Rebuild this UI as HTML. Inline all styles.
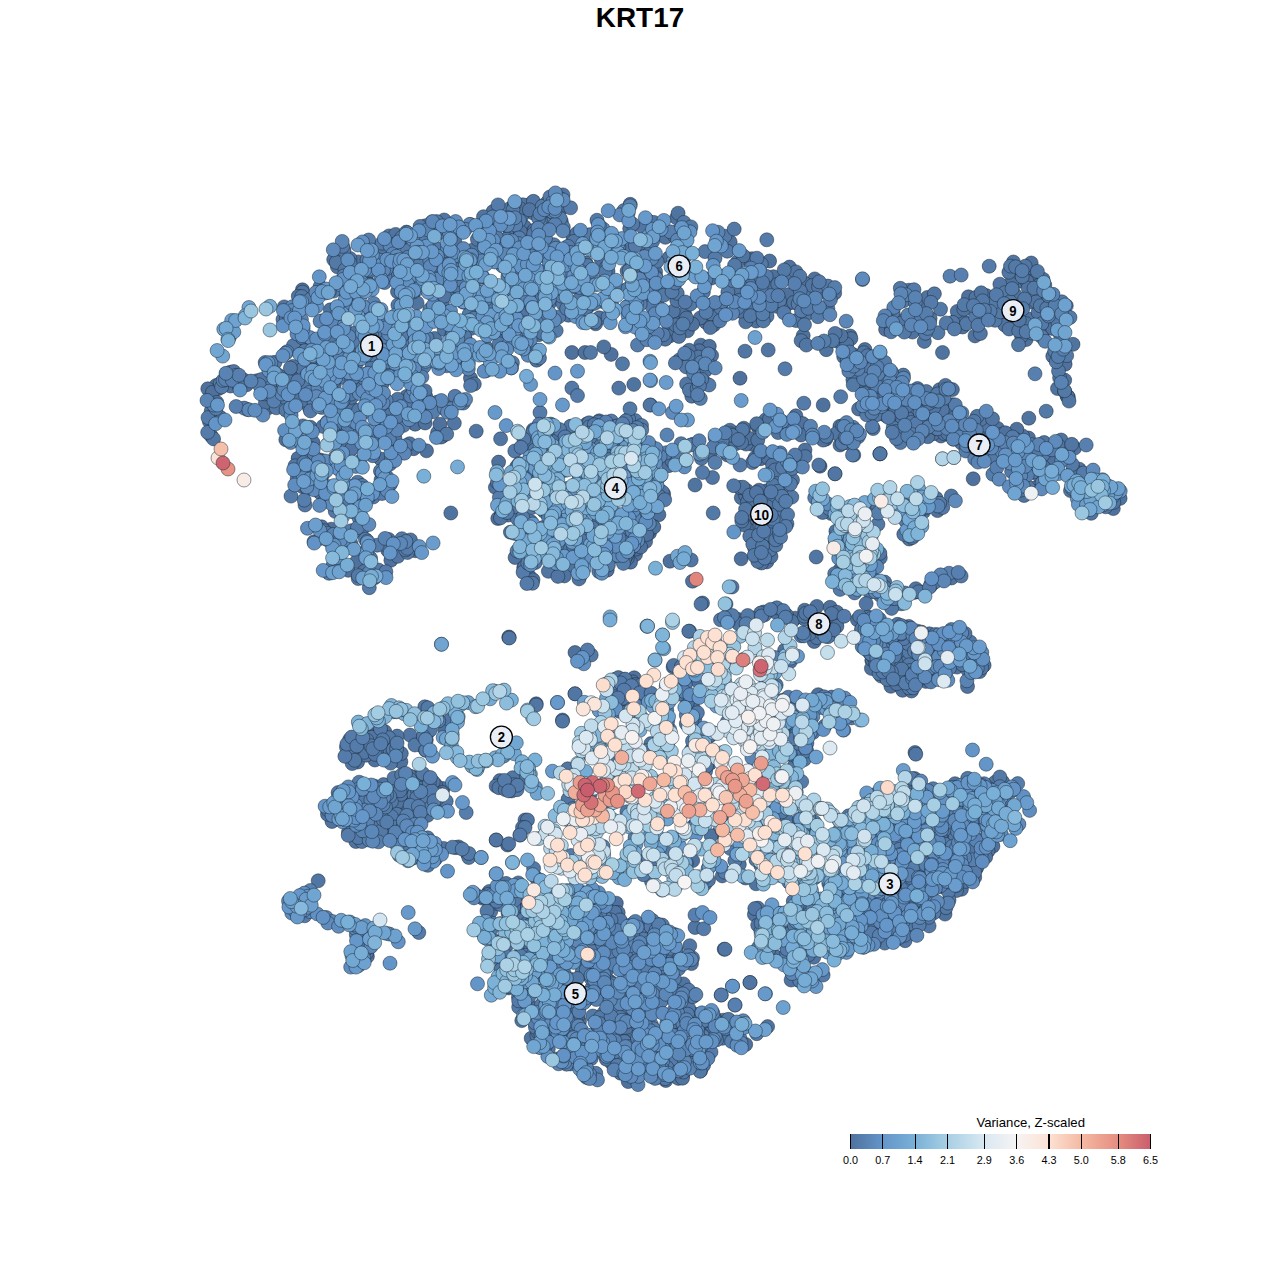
<!DOCTYPE html>
<html><head><meta charset="utf-8"><title>KRT17</title>
<style>
html,body{margin:0;padding:0;background:#fff;}
body{width:1280px;height:1280px;position:relative;overflow:hidden;font-family:"Liberation Sans",sans-serif;}
#ttl{position:absolute;left:0;top:2px;width:1280px;text-align:center;font-weight:bold;font-size:27.9px;line-height:32px;color:#000;}
svg{position:absolute;left:0;top:0;}
circle{r:7px;stroke:#1a2530;stroke-opacity:.88;stroke-width:.55;}
.lb circle{r:11px;fill:#e9eef6;stroke:#000;stroke-opacity:1;stroke-width:1.3;}
.lb text{font-family:"Liberation Sans",sans-serif;font-weight:bold;font-size:15.1px;text-anchor:middle;fill:#000;}
#lg{position:absolute;left:850px;top:1134px;width:300.5px;height:14.5px;background:linear-gradient(to right,#4e719d 0.00%,#6495c9 10.77%,#79b0d7 21.54%,#a7cfe4 32.31%,#d9e8f2 44.62%,#f6f4f4 55.38%,#fde1d3 66.15%,#f5b9a2 76.92%,#e58c80 89.23%,#c95d6d 100.00%);}
.tk{position:absolute;top:1134px;width:1.2px;height:14.5px;background:#000;}
.tl{position:absolute;top:1153.7px;width:40px;margin-left:-20px;text-align:center;font-size:10.8px;line-height:12px;color:#000;}
#lt{position:absolute;left:930.7px;top:1114.8px;width:200px;text-align:center;font-size:13.15px;line-height:15px;color:#000;}
</style></head><body>
<div id="ttl">KRT17</div>
<svg width="1280" height="1280" viewBox="0 0 1280 1280">
<g>
<g fill="#4e719d"><circle cx="525.9" cy="209.1" r="7"/><circle cx="397.5" cy="291.7" r="7"/><circle cx="437.6" cy="432.6" r="7"/><circle cx="415.5" cy="550.7" r="7"/><circle cx="586.1" cy="263" r="7"/><circle cx="442.4" cy="436.2" r="7"/><circle cx="415.2" cy="424.2" r="7"/><circle cx="560.7" cy="209.3" r="7"/><circle cx="434" cy="261.4" r="7"/><circle cx="285.8" cy="439.7" r="7"/><circle cx="432.1" cy="221.9" r="7"/><circle cx="333.9" cy="378.8" r="7"/><circle cx="302.4" cy="289.8" r="7"/><circle cx="524.5" cy="226.8" r="7"/><circle cx="454.8" cy="241" r="7"/><circle cx="517.5" cy="238.1" r="7"/><circle cx="503.3" cy="216.5" r="7"/><circle cx="441" cy="437.1" r="7"/><circle cx="425.1" cy="423" r="7"/><circle cx="501.8" cy="220.5" r="7"/><circle cx="325" cy="355.7" r="7"/><circle cx="529.8" cy="204.4" r="7"/><circle cx="405.3" cy="278.6" r="7"/><circle cx="426.5" cy="450.8" r="7"/><circle cx="268.3" cy="407.7" r="7"/><circle cx="265.4" cy="402.7" r="7"/><circle cx="264.5" cy="393.9" r="7"/><circle cx="257.1" cy="380.7" r="7"/><circle cx="211.8" cy="392.7" r="7"/><circle cx="246.6" cy="384.8" r="7"/><circle cx="243.8" cy="380" r="7"/><circle cx="216.2" cy="385.5" r="7"/><circle cx="218.6" cy="388.5" r="7"/><circle cx="207.8" cy="388.8" r="7"/><circle cx="212.4" cy="392.4" r="7"/><circle cx="216.7" cy="402.4" r="7"/><circle cx="211.1" cy="435.8" r="7"/><circle cx="571.9" cy="352.5" r="7"/><circle cx="585" cy="352.5" r="7"/><circle cx="647.8" cy="526.5" r="7"/><circle cx="611.8" cy="554.3" r="7"/><circle cx="600.1" cy="570.9" r="7"/><circle cx="637.8" cy="544.3" r="7"/><circle cx="533.3" cy="429.7" r="7"/><circle cx="571" cy="426.5" r="7"/><circle cx="658.9" cy="514.7" r="7"/><circle cx="607.2" cy="570.2" r="7"/><circle cx="578.9" cy="574.4" r="7"/><circle cx="635.5" cy="554.5" r="7"/><circle cx="529.4" cy="576.5" r="7"/><circle cx="636" cy="549" r="7"/><circle cx="630.5" cy="562.2" r="7"/><circle cx="498.6" cy="462.1" r="7"/><circle cx="645.6" cy="541.6" r="7"/><circle cx="640.7" cy="547" r="7"/><circle cx="649.5" cy="533.1" r="7"/><circle cx="648" cy="531.7" r="7"/><circle cx="653.2" cy="526.5" r="7"/><circle cx="653.8" cy="527" r="7"/><circle cx="533" cy="579.8" r="7"/><circle cx="629.3" cy="550.2" r="7"/><circle cx="579.8" cy="576.2" r="7"/><circle cx="627.3" cy="558.3" r="7"/><circle cx="646.7" cy="534.5" r="7"/><circle cx="674.9" cy="315.8" r="7"/><circle cx="787.9" cy="303.8" r="7"/><circle cx="952.4" cy="389.6" r="7"/><circle cx="756.1" cy="321" r="7"/><circle cx="897.4" cy="425.7" r="7"/><circle cx="814.7" cy="278.9" r="7"/><circle cx="769.6" cy="261" r="7"/><circle cx="662.6" cy="315.2" r="7"/><circle cx="669.2" cy="329.9" r="7"/><circle cx="705.9" cy="322.3" r="7"/><circle cx="864.9" cy="349.5" r="7"/><circle cx="773.4" cy="276.7" r="7"/><circle cx="914.8" cy="435.2" r="7"/><circle cx="684.5" cy="313" r="7"/><circle cx="796" cy="289.1" r="7"/><circle cx="804.1" cy="282.8" r="7"/><circle cx="687.5" cy="330.8" r="7"/><circle cx="879.3" cy="393.7" r="7"/><circle cx="787.9" cy="294.7" r="7"/><circle cx="850.2" cy="336" r="7"/><circle cx="740" cy="378.2" r="7"/><circle cx="823.2" cy="405" r="7"/><circle cx="880" cy="453.8" r="7"/><circle cx="820" cy="466.2" r="7"/><circle cx="700.8" cy="345.2" r="7"/><circle cx="709.3" cy="346.3" r="7"/><circle cx="901" cy="394.7" r="7"/><circle cx="882" cy="413.3" r="7"/><circle cx="961.5" cy="443.1" r="7"/><circle cx="898.1" cy="418.5" r="7"/><circle cx="868.4" cy="364.2" r="7"/><circle cx="973.8" cy="439.8" r="7"/><circle cx="981" cy="430.6" r="7"/><circle cx="843.7" cy="356.7" r="7"/><circle cx="917" cy="406.7" r="7"/><circle cx="886.5" cy="412.4" r="7"/><circle cx="900.8" cy="431.3" r="7"/><circle cx="852.9" cy="379.8" r="7"/><circle cx="997.6" cy="428.4" r="7"/><circle cx="922" cy="417.4" r="7"/><circle cx="952.6" cy="404.7" r="7"/><circle cx="902.4" cy="413.5" r="7"/><circle cx="915.7" cy="431.4" r="7"/><circle cx="973.2" cy="478.8" r="7"/><circle cx="1037.1" cy="322.5" r="7"/><circle cx="1037.4" cy="331.3" r="7"/><circle cx="1048.8" cy="321.5" r="7"/><circle cx="1046.8" cy="328.5" r="7"/><circle cx="1018.4" cy="306.7" r="7"/><circle cx="1002.1" cy="288.5" r="7"/><circle cx="1065.1" cy="364.2" r="7"/><circle cx="1028.6" cy="272.7" r="7"/><circle cx="1032" cy="281.3" r="7"/><circle cx="1006.7" cy="320.3" r="7"/><circle cx="1029.5" cy="327.9" r="7"/><circle cx="975" cy="335.9" r="7"/><circle cx="720.9" cy="443" r="7"/><circle cx="668.6" cy="465.7" r="7"/><circle cx="672" cy="461" r="7"/><circle cx="825.4" cy="438.8" r="7"/><circle cx="710.6" cy="452.5" r="7"/><circle cx="795.9" cy="415.8" r="7"/><circle cx="752.6" cy="444.4" r="7"/><circle cx="734.6" cy="433.2" r="7"/><circle cx="735.4" cy="443.8" r="7"/><circle cx="746.2" cy="444.1" r="7"/><circle cx="748.2" cy="438" r="7"/><circle cx="758.7" cy="428.8" r="7"/><circle cx="757.2" cy="425.2" r="7"/><circle cx="765.8" cy="419.7" r="7"/><circle cx="769.4" cy="419.3" r="7"/><circle cx="787.5" cy="426.2" r="7"/><circle cx="743.8" cy="428.2" r="7"/><circle cx="802.8" cy="423.6" r="7"/><circle cx="825.7" cy="439.2" r="7"/><circle cx="801" cy="435" r="7"/><circle cx="823.1" cy="440.1" r="7"/><circle cx="715.2" cy="437.7" r="7"/><circle cx="843.6" cy="438.5" r="7"/><circle cx="754.9" cy="458.1" r="7"/><circle cx="767.6" cy="454.7" r="7"/><circle cx="760.7" cy="458.7" r="7"/><circle cx="767.8" cy="457.8" r="7"/><circle cx="797.4" cy="464.7" r="7"/><circle cx="802.4" cy="457.7" r="7"/><circle cx="798.4" cy="465.8" r="7"/><circle cx="805" cy="450" r="7"/><circle cx="835" cy="473.8" r="7"/><circle cx="880" cy="453.8" r="7"/><circle cx="840" cy="445" r="7"/><circle cx="741.3" cy="497.7" r="7"/><circle cx="761" cy="505" r="7"/><circle cx="766.8" cy="561.9" r="7"/><circle cx="748.9" cy="523.8" r="7"/><circle cx="752.7" cy="523.6" r="7"/><circle cx="763" cy="518.9" r="7"/><circle cx="774.2" cy="528" r="7"/><circle cx="773.1" cy="536.9" r="7"/><circle cx="766.5" cy="490.8" r="7"/><circle cx="756.3" cy="518.8" r="7"/><circle cx="767.6" cy="553.9" r="7"/><circle cx="741.2" cy="558.8" r="7"/><circle cx="670" cy="561.2" r="7"/><circle cx="689.5" cy="631.2" r="7"/><circle cx="737.5" cy="619.2" r="7"/><circle cx="763.6" cy="612" r="7"/><circle cx="816.8" cy="606.4" r="7"/><circle cx="795.4" cy="618.2" r="7"/><circle cx="775.1" cy="611.9" r="7"/><circle cx="830.2" cy="607.3" r="7"/><circle cx="836.8" cy="612.2" r="7"/><circle cx="836.3" cy="622.9" r="7"/><circle cx="814.2" cy="641.5" r="7"/><circle cx="840.5" cy="554.9" r="7"/><circle cx="937.5" cy="510.6" r="7"/><circle cx="866" cy="566.8" r="7"/><circle cx="913.8" cy="592.6" r="7"/><circle cx="919.6" cy="591.8" r="7"/><circle cx="895.2" cy="661.1" r="7"/><circle cx="877" cy="668.5" r="7"/><circle cx="896" cy="670.1" r="7"/><circle cx="871.9" cy="660.7" r="7"/><circle cx="880" cy="659.6" r="7"/><circle cx="910.8" cy="684.7" r="7"/><circle cx="925.9" cy="681.4" r="7"/><circle cx="905.6" cy="678.5" r="7"/><circle cx="903" cy="685.7" r="7"/><circle cx="864.6" cy="634.6" r="7"/><circle cx="890.9" cy="686.3" r="7"/><circle cx="899.6" cy="672" r="7"/><circle cx="901.5" cy="646.4" r="7"/><circle cx="916" cy="681.8" r="7"/><circle cx="946.4" cy="634.3" r="7"/><circle cx="892.8" cy="627.9" r="7"/><circle cx="925.4" cy="662.7" r="7"/><circle cx="887.8" cy="642" r="7"/><circle cx="883.2" cy="638.3" r="7"/><circle cx="931.9" cy="652.1" r="7"/><circle cx="878.5" cy="632.5" r="7"/><circle cx="911.7" cy="660.1" r="7"/><circle cx="878.3" cy="664.6" r="7"/><circle cx="902.6" cy="690.3" r="7"/><circle cx="925.3" cy="635.5" r="7"/><circle cx="886.1" cy="665.3" r="7"/><circle cx="891.1" cy="659.2" r="7"/><circle cx="919.7" cy="664.7" r="7"/><circle cx="874.1" cy="634.6" r="7"/><circle cx="905.9" cy="635.8" r="7"/><circle cx="891.5" cy="666.4" r="7"/><circle cx="906.7" cy="655.2" r="7"/><circle cx="897.7" cy="651" r="7"/><circle cx="877.9" cy="654.9" r="7"/><circle cx="901" cy="655.4" r="7"/><circle cx="871.4" cy="668.4" r="7"/><circle cx="892.1" cy="640.1" r="7"/><circle cx="862.9" cy="624.7" r="7"/><circle cx="904.5" cy="637.1" r="7"/><circle cx="872.1" cy="659.8" r="7"/><circle cx="900.6" cy="649" r="7"/><circle cx="694.8" cy="719.2" r="7"/><circle cx="693.2" cy="707.9" r="7"/><circle cx="686.3" cy="723.7" r="7"/><circle cx="687.3" cy="702.9" r="7"/><circle cx="697.9" cy="681.1" r="7"/><circle cx="692.7" cy="860.6" r="7"/><circle cx="851.5" cy="835.7" r="7"/><circle cx="691.6" cy="720.5" r="7"/><circle cx="620.1" cy="701.1" r="7"/><circle cx="627.5" cy="703.8" r="7"/><circle cx="640.4" cy="689.3" r="7"/><circle cx="615.2" cy="679.3" r="7"/><circle cx="634.2" cy="677.8" r="7"/><circle cx="612.8" cy="684" r="7"/><circle cx="575" cy="693.8" r="7"/><circle cx="575" cy="652.5" r="7"/><circle cx="835.4" cy="703.7" r="7"/><circle cx="781.2" cy="700.5" r="7"/><circle cx="830.5" cy="700" r="7"/><circle cx="808.5" cy="722.9" r="7"/><circle cx="779" cy="739.1" r="7"/><circle cx="818.2" cy="694.7" r="7"/><circle cx="922.5" cy="824.4" r="7"/><circle cx="919.6" cy="832.1" r="7"/><circle cx="960.1" cy="876.9" r="7"/><circle cx="899.6" cy="905.9" r="7"/><circle cx="953.1" cy="833.4" r="7"/><circle cx="798.6" cy="980.3" r="7"/><circle cx="888.1" cy="934.1" r="7"/><circle cx="926.8" cy="870.9" r="7"/><circle cx="650" cy="929.8" r="7"/><circle cx="626.6" cy="1009.2" r="7"/><circle cx="620" cy="986.1" r="7"/><circle cx="675.5" cy="1031.2" r="7"/><circle cx="625.5" cy="928.8" r="7"/><circle cx="612.1" cy="1036.1" r="7"/><circle cx="594.2" cy="977.5" r="7"/><circle cx="596.8" cy="1017.7" r="7"/><circle cx="637.3" cy="968.8" r="7"/><circle cx="604.8" cy="999.8" r="7"/><circle cx="657.1" cy="924.1" r="7"/><circle cx="613.9" cy="925.6" r="7"/><circle cx="700.7" cy="1028.3" r="7"/><circle cx="589.8" cy="1072.6" r="7"/><circle cx="583.1" cy="1072.5" r="7"/><circle cx="671" cy="1049.9" r="7"/><circle cx="680.3" cy="1034.1" r="7"/><circle cx="619.5" cy="1024.6" r="7"/><circle cx="583.3" cy="1057.2" r="7"/><circle cx="599.5" cy="978.4" r="7"/><circle cx="611.7" cy="923.2" r="7"/><circle cx="700.6" cy="1070.9" r="7"/><circle cx="616.3" cy="903.2" r="7"/><circle cx="606.1" cy="1010.6" r="7"/><circle cx="634.4" cy="1027.3" r="7"/><circle cx="596.9" cy="1024.6" r="7"/><circle cx="682.7" cy="1075" r="7"/><circle cx="595.2" cy="971.7" r="7"/><circle cx="685.8" cy="1016.6" r="7"/><circle cx="596.9" cy="962.6" r="7"/><circle cx="661.1" cy="994.9" r="7"/><circle cx="378.6" cy="737.6" r="7"/><circle cx="366.9" cy="745.6" r="7"/><circle cx="400.9" cy="761.7" r="7"/><circle cx="387.1" cy="756.4" r="7"/><circle cx="353.9" cy="739.7" r="7"/><circle cx="376.4" cy="733.9" r="7"/><circle cx="374.9" cy="760" r="7"/><circle cx="380.5" cy="732.1" r="7"/><circle cx="424.8" cy="711.1" r="7"/><circle cx="421.4" cy="745.3" r="7"/><circle cx="426.3" cy="739.9" r="7"/><circle cx="445" cy="730" r="7"/><circle cx="411.6" cy="798.6" r="7"/><circle cx="406.6" cy="806.1" r="7"/><circle cx="409.3" cy="784.2" r="7"/><circle cx="388.9" cy="791.5" r="7"/><circle cx="420.7" cy="799.8" r="7"/><circle cx="421" cy="782.4" r="7"/><circle cx="399" cy="811.9" r="7"/><circle cx="413.8" cy="780.5" r="7"/><circle cx="443.1" cy="788.5" r="7"/><circle cx="428.1" cy="792.8" r="7"/><circle cx="403.7" cy="829.2" r="7"/><circle cx="382.5" cy="809.4" r="7"/><circle cx="435.6" cy="784.8" r="7"/><circle cx="397.3" cy="809.2" r="7"/><circle cx="394.4" cy="807.3" r="7"/><circle cx="405" cy="801.1" r="7"/><circle cx="366.7" cy="838" r="7"/><circle cx="507.5" cy="845" r="7"/><circle cx="518.5" cy="782.3" r="7"/><circle cx="517" cy="777.8" r="7"/><circle cx="499.8" cy="780.6" r="7"/><circle cx="492.6" cy="939.6" r="7"/><circle cx="537.5" cy="277.6" r="7"/><circle cx="885.5" cy="899.7" r="7"/><circle cx="985.3" cy="791.1" r="7"/><circle cx="490.5" cy="367.4" r="7"/><circle cx="357.9" cy="742.2" r="7"/><circle cx="778.8" cy="526" r="7"/><circle cx="651.2" cy="232.4" r="7"/><circle cx="936.9" cy="397" r="7"/><circle cx="710" cy="763.4" r="7"/><circle cx="369.3" cy="372.1" r="7"/><circle cx="537.2" cy="964.6" r="7"/><circle cx="609.2" cy="947.9" r="7"/><circle cx="394.3" cy="811.2" r="7"/><circle cx="649.2" cy="227.6" r="7"/><circle cx="888.2" cy="407.9" r="7"/><circle cx="582.6" cy="973.6" r="7"/><circle cx="854" cy="435.2" r="7"/><circle cx="578.3" cy="550.1" r="7"/><circle cx="778.8" cy="457.7" r="7"/><circle cx="795.9" cy="700.9" r="7"/><circle cx="1043" cy="279.2" r="7"/><circle cx="1013.3" cy="306" r="7"/><circle cx="306.8" cy="381.5" r="7"/><circle cx="352.3" cy="800.8" r="7"/><circle cx="240.2" cy="382.6" r="7"/><circle cx="688.4" cy="1056.3" r="7"/><circle cx="893.9" cy="866.9" r="7"/><circle cx="320.5" cy="460" r="7"/><circle cx="643.1" cy="280.6" r="7"/><circle cx="1028.5" cy="438" r="7"/><circle cx="613.3" cy="1058.6" r="7"/><circle cx="369.6" cy="256.3" r="7"/><circle cx="533.3" cy="1008.2" r="7"/><circle cx="554.6" cy="980.4" r="7"/><circle cx="572.9" cy="236.7" r="7"/><circle cx="572.3" cy="515.3" r="7"/><circle cx="921.1" cy="842.5" r="7"/><circle cx="877.7" cy="414.1" r="7"/><circle cx="564" cy="545.7" r="7"/><circle cx="394.5" cy="839.7" r="7"/><circle cx="482.8" cy="898.3" r="7"/><circle cx="913.7" cy="807.7" r="7"/><circle cx="578.1" cy="553.5" r="7"/><circle cx="1031.2" cy="263" r="7"/><circle cx="861.4" cy="814.3" r="7"/><circle cx="488.4" cy="306.7" r="7"/><circle cx="773.2" cy="505" r="7"/><circle cx="275.8" cy="388.9" r="7"/><circle cx="348.3" cy="570.3" r="7"/><circle cx="310.3" cy="427.2" r="7"/><circle cx="799.4" cy="715.2" r="7"/><circle cx="406.1" cy="788.2" r="7"/><circle cx="745.7" cy="1044.5" r="7"/><circle cx="518.5" cy="968.2" r="7"/><circle cx="803.2" cy="335.6" r="7"/><circle cx="1019.7" cy="281.2" r="7"/><circle cx="745.6" cy="495.4" r="7"/><circle cx="344.6" cy="506.8" r="7"/><circle cx="700.3" cy="317.9" r="7"/><circle cx="366.7" cy="283.1" r="7"/><circle cx="804.7" cy="610.2" r="7"/><circle cx="867.8" cy="883.7" r="7"/><circle cx="905.8" cy="900.9" r="7"/><circle cx="673.1" cy="667" r="7"/><circle cx="962.6" cy="881.9" r="7"/><circle cx="623.1" cy="924.1" r="7"/><circle cx="1086.6" cy="496.6" r="7"/><circle cx="941" cy="436" r="7"/><circle cx="443.7" cy="257.2" r="7"/><circle cx="439.6" cy="252.3" r="7"/><circle cx="1001.1" cy="434.3" r="7"/><circle cx="789.4" cy="267.1" r="7"/><circle cx="555.8" cy="518.3" r="7"/><circle cx="768.8" cy="545.4" r="7"/><circle cx="604.2" cy="954.2" r="7"/><circle cx="862.2" cy="371.1" r="7"/><circle cx="367.1" cy="733.3" r="7"/><circle cx="470.5" cy="378.3" r="7"/><circle cx="907.4" cy="393.8" r="7"/><circle cx="862.4" cy="537.9" r="7"/><circle cx="678.7" cy="455.1" r="7"/><circle cx="658.6" cy="291.3" r="7"/><circle cx="389.2" cy="753.5" r="7"/><circle cx="363.3" cy="806" r="7"/><circle cx="618.8" cy="687.3" r="7"/><circle cx="1038.8" cy="285.3" r="7"/><circle cx="309.5" cy="396.2" r="7"/><circle cx="533.8" cy="443.6" r="7"/><circle cx="666.8" cy="287.1" r="7"/><circle cx="413.7" cy="850.7" r="7"/><circle cx="1022.5" cy="435.9" r="7"/><circle cx="420.3" cy="394.2" r="7"/><circle cx="784.6" cy="666.5" r="7"/><circle cx="367.4" cy="956.4" r="7"/><circle cx="675.6" cy="954.2" r="7"/><circle cx="744.2" cy="525.1" r="7"/><circle cx="900.5" cy="650.7" r="7"/><circle cx="1052.6" cy="328.6" r="7"/><circle cx="649.5" cy="922.9" r="7"/><circle cx="553.8" cy="475.3" r="7"/><circle cx="381.3" cy="815.3" r="7"/><circle cx="511.6" cy="781.5" r="7"/><circle cx="432.5" cy="715" r="7"/><circle cx="550.6" cy="1008.4" r="7"/><circle cx="483.1" cy="277.3" r="7"/><circle cx="711" cy="278.2" r="7"/><circle cx="919.9" cy="394" r="7"/><circle cx="875.2" cy="662.2" r="7"/><circle cx="608.5" cy="946.3" r="7"/><circle cx="909.2" cy="778.7" r="7"/><circle cx="846.4" cy="560.1" r="7"/><circle cx="927.3" cy="838.2" r="7"/><circle cx="547.4" cy="941" r="7"/><circle cx="996.7" cy="453.6" r="7"/><circle cx="768.8" cy="707.9" r="7"/><circle cx="385.6" cy="276.5" r="7"/><circle cx="603.1" cy="1036.9" r="7"/><circle cx="709.8" cy="736" r="7"/><circle cx="1068.3" cy="397.2" r="7"/><circle cx="787.1" cy="820.6" r="7"/><circle cx="699.1" cy="350.8" r="7"/><circle cx="876.5" cy="379" r="7"/><circle cx="490.3" cy="330.4" r="7"/><circle cx="1082" cy="479.5" r="7"/><circle cx="439.9" cy="424.2" r="7"/><circle cx="881.1" cy="644.4" r="7"/><circle cx="628.2" cy="1081.6" r="7"/><circle cx="308.9" cy="473.9" r="7"/><circle cx="695.6" cy="365.4" r="7"/><circle cx="786.8" cy="859.2" r="7"/><circle cx="525.9" cy="470.5" r="7"/><circle cx="411.8" cy="335.9" r="7"/><circle cx="871.4" cy="364.8" r="7"/><circle cx="889.3" cy="885.2" r="7"/><circle cx="895.8" cy="680.9" r="7"/><circle cx="507.1" cy="944.9" r="7"/><circle cx="356.7" cy="561.4" r="7"/><circle cx="669.1" cy="257.8" r="7"/><circle cx="296.5" cy="346.3" r="7"/><circle cx="357.6" cy="762" r="7"/><circle cx="541.7" cy="241.5" r="7"/><circle cx="395.6" cy="552.5" r="7"/><circle cx="348" cy="754.8" r="7"/><circle cx="1011.1" cy="322.7" r="7"/><circle cx="416.2" cy="844" r="7"/><circle cx="379.4" cy="250.6" r="7"/><circle cx="670.2" cy="996.8" r="7"/><circle cx="493.1" cy="211.5" r="7"/><circle cx="520" cy="835" r="7"/><circle cx="807.9" cy="907.7" r="7"/><circle cx="918.7" cy="672.4" r="7"/><circle cx="338.2" cy="811.5" r="7"/><circle cx="864.6" cy="355.6" r="7"/><circle cx="699.9" cy="649.3" r="7"/><circle cx="858.8" cy="838.7" r="7"/><circle cx="948.2" cy="416.1" r="7"/><circle cx="1045.7" cy="464.6" r="7"/><circle cx="968.4" cy="296.8" r="7"/><circle cx="395.4" cy="740.5" r="7"/><circle cx="962.6" cy="327" r="7"/><circle cx="398.2" cy="261.9" r="7"/><circle cx="413.6" cy="448.7" r="7"/><circle cx="628" cy="1007.3" r="7"/><circle cx="548" cy="551.3" r="7"/><circle cx="774" cy="512.1" r="7"/><circle cx="875.1" cy="386.9" r="7"/><circle cx="838.3" cy="341.5" r="7"/><circle cx="382.4" cy="383.6" r="7"/><circle cx="593.2" cy="970.1" r="7"/><circle cx="848.1" cy="443" r="7"/><circle cx="874.6" cy="647.8" r="7"/><circle cx="815.9" cy="921.4" r="7"/><circle cx="663.7" cy="494" r="7"/><circle cx="353.3" cy="441.3" r="7"/><circle cx="371.8" cy="821.5" r="7"/><circle cx="363.2" cy="945.9" r="7"/><circle cx="881.7" cy="377" r="7"/><circle cx="381.1" cy="479.8" r="7"/><circle cx="763.9" cy="498.3" r="7"/><circle cx="534.5" cy="482.2" r="7"/><circle cx="524.9" cy="936.7" r="7"/><circle cx="760.8" cy="865.4" r="7"/><circle cx="1012.1" cy="281.5" r="7"/><circle cx="974.7" cy="877.4" r="7"/><circle cx="536.2" cy="703.8" r="7"/><circle cx="957" cy="638.7" r="7"/><circle cx="360.2" cy="292.1" r="7"/><circle cx="644.4" cy="1046.4" r="7"/><circle cx="979.7" cy="671.6" r="7"/><circle cx="625.8" cy="699.7" r="7"/><circle cx="342.8" cy="373.8" r="7"/><circle cx="298.1" cy="458.3" r="7"/><circle cx="414.8" cy="835.6" r="7"/><circle cx="810.2" cy="830.5" r="7"/><circle cx="897.4" cy="793.6" r="7"/><circle cx="313" cy="442.4" r="7"/><circle cx="483.9" cy="223.2" r="7"/><circle cx="579.5" cy="1021.5" r="7"/><circle cx="605.3" cy="451.1" r="7"/><circle cx="881.2" cy="872.8" r="7"/><circle cx="831.2" cy="513.5" r="7"/><circle cx="774.1" cy="865.9" r="7"/><circle cx="596.2" cy="457" r="7"/><circle cx="390.9" cy="560.3" r="7"/><circle cx="692.6" cy="324.1" r="7"/><circle cx="628.4" cy="1013.4" r="7"/><circle cx="944.3" cy="659.4" r="7"/><circle cx="442.1" cy="792.3" r="7"/><circle cx="691.5" cy="963.6" r="7"/><circle cx="610.5" cy="981.8" r="7"/><circle cx="622" cy="679.6" r="7"/><circle cx="497.8" cy="518.5" r="7"/><circle cx="858" cy="909.6" r="7"/><circle cx="1113.3" cy="508.6" r="7"/><circle cx="467.9" cy="252.5" r="7"/><circle cx="577.9" cy="995.4" r="7"/><circle cx="885.6" cy="329.4" r="7"/><circle cx="865.5" cy="571.1" r="7"/><circle cx="794.2" cy="837.1" r="7"/><circle cx="676.6" cy="217.9" r="7"/><circle cx="393.1" cy="783.3" r="7"/><circle cx="595.7" cy="323.8" r="7"/><circle cx="884.7" cy="582.1" r="7"/><circle cx="665.8" cy="1080.5" r="7"/><circle cx="623.6" cy="823.4" r="7"/><circle cx="472.1" cy="312" r="7"/><circle cx="670.6" cy="980.1" r="7"/><circle cx="615.3" cy="445.2" r="7"/><circle cx="759" cy="490.2" r="7"/><circle cx="408.7" cy="322.2" r="7"/><circle cx="901.1" cy="679.7" r="7"/><circle cx="502.4" cy="783.4" r="7"/><circle cx="894.3" cy="380.4" r="7"/><circle cx="364.4" cy="499.5" r="7"/><circle cx="532.2" cy="232.9" r="7"/><circle cx="380.7" cy="459" r="7"/><circle cx="1016.8" cy="429.2" r="7"/><circle cx="739.8" cy="487.5" r="7"/><circle cx="841.9" cy="944.3" r="7"/><circle cx="913.5" cy="906.5" r="7"/><circle cx="486.7" cy="239.5" r="7"/><circle cx="359.9" cy="288.6" r="7"/><circle cx="992.9" cy="846.2" r="7"/><circle cx="611.2" cy="354.4" r="7"/><circle cx="669" cy="1019.3" r="7"/><circle cx="389.6" cy="430.3" r="7"/><circle cx="569.7" cy="978.9" r="7"/><circle cx="774.8" cy="956.3" r="7"/><circle cx="1026.9" cy="281.3" r="7"/><circle cx="520.7" cy="988.3" r="7"/><circle cx="606.9" cy="970" r="7"/><circle cx="883.2" cy="648.6" r="7"/><circle cx="550.7" cy="946.3" r="7"/><circle cx="632.6" cy="681.9" r="7"/><circle cx="630" cy="512.7" r="7"/><circle cx="945" cy="914.1" r="7"/><circle cx="404.1" cy="854" r="7"/><circle cx="636.6" cy="429.6" r="7"/><circle cx="551.7" cy="225.7" r="7"/><circle cx="453" cy="257.4" r="7"/><circle cx="909.2" cy="539" r="7"/><circle cx="601.4" cy="259.8" r="7"/><circle cx="678.3" cy="1078.4" r="7"/><circle cx="857.4" cy="619.7" r="7"/><circle cx="882.7" cy="668" r="7"/><circle cx="635" cy="684.5" r="7"/><circle cx="465.3" cy="339.7" r="7"/><circle cx="773.1" cy="732.2" r="7"/><circle cx="355.6" cy="305.6" r="7"/><circle cx="331.3" cy="529.2" r="7"/><circle cx="358.4" cy="496.2" r="7"/><circle cx="1053.6" cy="458" r="7"/><circle cx="714" cy="324.8" r="7"/><circle cx="678.2" cy="692.5" r="7"/><circle cx="495.4" cy="487.4" r="7"/><circle cx="513.7" cy="787.7" r="7"/><circle cx="896.3" cy="409.5" r="7"/><circle cx="521.3" cy="956.7" r="7"/><circle cx="352.1" cy="788.5" r="7"/><circle cx="757.6" cy="555.9" r="7"/><circle cx="534.9" cy="474.6" r="7"/><circle cx="1005.4" cy="432.8" r="7"/><circle cx="641.3" cy="261.6" r="7"/><circle cx="302.4" cy="369.3" r="7"/><circle cx="995.3" cy="789.9" r="7"/><circle cx="958" cy="317.1" r="7"/><circle cx="302.9" cy="377.5" r="7"/><circle cx="297.1" cy="344.2" r="7"/><circle cx="401.4" cy="803.2" r="7"/><circle cx="552.7" cy="496.2" r="7"/><circle cx="358.7" cy="943.3" r="7"/><circle cx="1092.8" cy="485.4" r="7"/><circle cx="860.9" cy="545.5" r="7"/><circle cx="1026.1" cy="339.6" r="7"/><circle cx="917.5" cy="388.5" r="7"/><circle cx="634" cy="999.4" r="7"/><circle cx="374.9" cy="745.9" r="7"/><circle cx="504.6" cy="337.2" r="7"/><circle cx="617.4" cy="869.2" r="7"/><circle cx="795.2" cy="914.3" r="7"/><circle cx="799" cy="909.3" r="7"/><circle cx="829.5" cy="837.2" r="7"/><circle cx="337.7" cy="352.7" r="7"/><circle cx="566.3" cy="539.2" r="7"/><circle cx="796.7" cy="918.7" r="7"/><circle cx="850.9" cy="338.6" r="7"/><circle cx="747.6" cy="501.7" r="7"/><circle cx="586.7" cy="424" r="7"/><circle cx="543.4" cy="483" r="7"/><circle cx="554.3" cy="1016.9" r="7"/><circle cx="998.5" cy="783.6" r="7"/><circle cx="933.3" cy="433.7" r="7"/><circle cx="588.7" cy="235.2" r="7"/><circle cx="852.5" cy="533.8" r="7"/><circle cx="611.6" cy="557.6" r="7"/><circle cx="583.9" cy="558.3" r="7"/><circle cx="530.3" cy="481.7" r="7"/><circle cx="707.3" cy="1040" r="7"/><circle cx="657.6" cy="975.9" r="7"/><circle cx="540.7" cy="1024.5" r="7"/><circle cx="793.9" cy="849.9" r="7"/><circle cx="988.1" cy="851" r="7"/><circle cx="383.9" cy="743.4" r="7"/><circle cx="730.2" cy="242" r="7"/><circle cx="387.8" cy="787.7" r="7"/><circle cx="387" cy="825.8" r="7"/></g><g fill="#5074a0"><circle cx="640.3" cy="1018.1" r="7"/><circle cx="592.8" cy="955.1" r="7"/><circle cx="870.3" cy="580.8" r="7"/><circle cx="711.6" cy="355.5" r="7"/><circle cx="622.5" cy="1009.5" r="7"/><circle cx="330.4" cy="309.8" r="7"/><circle cx="607.7" cy="434.2" r="7"/><circle cx="426.5" cy="789.2" r="7"/><circle cx="269.4" cy="363.4" r="7"/><circle cx="719.2" cy="831.9" r="7"/><circle cx="940.8" cy="838.8" r="7"/><circle cx="1101" cy="499.9" r="7"/><circle cx="610.8" cy="1055.1" r="7"/><circle cx="451.5" cy="288.9" r="7"/><circle cx="902.4" cy="673.7" r="7"/><circle cx="754.6" cy="548" r="7"/><circle cx="343.5" cy="811.5" r="7"/><circle cx="401.1" cy="278.7" r="7"/><circle cx="955" cy="783.7" r="7"/><circle cx="571.1" cy="565.4" r="7"/><circle cx="805" cy="619.4" r="7"/><circle cx="926" cy="806.6" r="7"/><circle cx="388.6" cy="539.4" r="7"/><circle cx="413.1" cy="777.3" r="7"/><circle cx="921.2" cy="644.3" r="7"/><circle cx="777.2" cy="716.5" r="7"/><circle cx="309.2" cy="363.6" r="7"/><circle cx="380.6" cy="750.5" r="7"/><circle cx="506" cy="317.8" r="7"/><circle cx="886.1" cy="629.5" r="7"/><circle cx="767.6" cy="1026.6" r="7"/><circle cx="858.3" cy="383" r="7"/><circle cx="308.9" cy="406.8" r="7"/><circle cx="811.6" cy="311.7" r="7"/><circle cx="908.8" cy="626.4" r="7"/><circle cx="647.7" cy="1053.4" r="7"/><circle cx="619.8" cy="1069.5" r="7"/><circle cx="532.8" cy="212.8" r="7"/><circle cx="912" cy="318.7" r="7"/><circle cx="550.3" cy="435.5" r="7"/><circle cx="926.3" cy="422.7" r="7"/><circle cx="332" cy="821.5" r="7"/><circle cx="745.7" cy="321.8" r="7"/><circle cx="1010.9" cy="791.6" r="7"/><circle cx="553.1" cy="948" r="7"/><circle cx="665.3" cy="237.3" r="7"/><circle cx="958" cy="839.3" r="7"/><circle cx="434.6" cy="338.4" r="7"/><circle cx="917.7" cy="427.2" r="7"/><circle cx="710.3" cy="1023.5" r="7"/><circle cx="474.3" cy="384" r="7"/><circle cx="390.2" cy="374.3" r="7"/><circle cx="916.7" cy="854.8" r="7"/><circle cx="302.6" cy="486.7" r="7"/><circle cx="496.2" cy="840" r="7"/><circle cx="643.3" cy="699.4" r="7"/><circle cx="703.3" cy="810.3" r="7"/><circle cx="787.8" cy="726.8" r="7"/><circle cx="961.9" cy="320.2" r="7"/><circle cx="407.7" cy="853.7" r="7"/><circle cx="877.5" cy="855.8" r="7"/><circle cx="582.5" cy="892.6" r="7"/><circle cx="381.4" cy="252.9" r="7"/><circle cx="404.4" cy="834.2" r="7"/><circle cx="411.4" cy="548.7" r="7"/><circle cx="871.9" cy="915.6" r="7"/><circle cx="359.6" cy="466" r="7"/><circle cx="318.4" cy="392.3" r="7"/><circle cx="528.5" cy="301.7" r="7"/><circle cx="533.7" cy="264.4" r="7"/><circle cx="995.2" cy="803.6" r="7"/><circle cx="739.3" cy="864.5" r="7"/><circle cx="561" cy="500.1" r="7"/><circle cx="912.1" cy="396.7" r="7"/><circle cx="618.2" cy="912.6" r="7"/><circle cx="486.2" cy="315.5" r="7"/><circle cx="429.1" cy="361.4" r="7"/><circle cx="585.4" cy="963" r="7"/><circle cx="344.2" cy="286.5" r="7"/><circle cx="643.9" cy="470.2" r="7"/><circle cx="538.7" cy="334.7" r="7"/><circle cx="968.5" cy="861.7" r="7"/><circle cx="561.6" cy="469.7" r="7"/><circle cx="374.7" cy="577.7" r="7"/><circle cx="388.9" cy="830.9" r="7"/><circle cx="886.6" cy="648.1" r="7"/><circle cx="610.3" cy="1017.5" r="7"/><circle cx="912.4" cy="537.6" r="7"/><circle cx="393.3" cy="793.1" r="7"/><circle cx="735.4" cy="689.3" r="7"/><circle cx="959.8" cy="867.3" r="7"/><circle cx="611.4" cy="303.5" r="7"/><circle cx="880.3" cy="557.8" r="7"/><circle cx="900.1" cy="659.3" r="7"/><circle cx="824.9" cy="725.9" r="7"/><circle cx="570.8" cy="505.4" r="7"/><circle cx="1061.1" cy="440" r="7"/><circle cx="367.4" cy="336.8" r="7"/><circle cx="753.4" cy="502.3" r="7"/><circle cx="668.8" cy="1064.3" r="7"/><circle cx="952.4" cy="410.9" r="7"/><circle cx="406.1" cy="547.8" r="7"/><circle cx="826.3" cy="349.7" r="7"/><circle cx="765.2" cy="509.9" r="7"/><circle cx="764.7" cy="614.8" r="7"/><circle cx="853.7" cy="354.9" r="7"/><circle cx="556.1" cy="269.5" r="7"/><circle cx="930.1" cy="318.4" r="7"/><circle cx="401.3" cy="753.5" r="7"/><circle cx="834.3" cy="708.9" r="7"/><circle cx="726.7" cy="451.7" r="7"/><circle cx="628.8" cy="864.9" r="7"/><circle cx="370.5" cy="817.2" r="7"/><circle cx="425.9" cy="396.8" r="7"/><circle cx="623.6" cy="686.5" r="7"/><circle cx="887.4" cy="653.2" r="7"/><circle cx="405.1" cy="810.9" r="7"/><circle cx="561.3" cy="284.7" r="7"/><circle cx="846.4" cy="516.3" r="7"/><circle cx="650.6" cy="405" r="7"/><circle cx="620.3" cy="945.5" r="7"/><circle cx="650" cy="1070.9" r="7"/><circle cx="857.3" cy="576.9" r="7"/><circle cx="314" cy="541.7" r="7"/><circle cx="506" cy="883.4" r="7"/><circle cx="344.9" cy="286.5" r="7"/><circle cx="928.4" cy="679.4" r="7"/><circle cx="947.7" cy="866.5" r="7"/><circle cx="911.5" cy="789.3" r="7"/><circle cx="897.7" cy="320.3" r="7"/><circle cx="521.4" cy="216.7" r="7"/><circle cx="368.6" cy="751.9" r="7"/><circle cx="794.5" cy="765.5" r="7"/><circle cx="912.5" cy="332.1" r="7"/><circle cx="334.8" cy="431.4" r="7"/><circle cx="595.5" cy="740.2" r="7"/><circle cx="440.6" cy="306.8" r="7"/><circle cx="483.5" cy="216.7" r="7"/><circle cx="574.4" cy="259.8" r="7"/><circle cx="888.3" cy="939" r="7"/><circle cx="688.8" cy="631.2" r="7"/><circle cx="357.4" cy="799.5" r="7"/><circle cx="630.7" cy="998.5" r="7"/><circle cx="784.7" cy="650.2" r="7"/><circle cx="412.9" cy="294.5" r="7"/><circle cx="598.1" cy="903.9" r="7"/><circle cx="868.2" cy="505.9" r="7"/><circle cx="939.1" cy="423.8" r="7"/><circle cx="588.1" cy="306.8" r="7"/><circle cx="967.5" cy="686.5" r="7"/><circle cx="855.8" cy="869" r="7"/><circle cx="1091.2" cy="513.3" r="7"/><circle cx="710.3" cy="327.6" r="7"/><circle cx="683.4" cy="983.9" r="7"/><circle cx="347.2" cy="813.1" r="7"/><circle cx="777.5" cy="496.1" r="7"/><circle cx="858.6" cy="409" r="7"/><circle cx="599.3" cy="317.8" r="7"/><circle cx="409" cy="323.5" r="7"/><circle cx="515.5" cy="906.8" r="7"/><circle cx="1067.1" cy="396.3" r="7"/><circle cx="644.1" cy="300.2" r="7"/><circle cx="333.7" cy="259.6" r="7"/><circle cx="920.1" cy="868.4" r="7"/><circle cx="1011.7" cy="312.6" r="7"/><circle cx="310.7" cy="899" r="7"/><circle cx="791" cy="727.2" r="7"/><circle cx="518.3" cy="882.9" r="7"/><circle cx="543" cy="275.2" r="7"/><circle cx="405.8" cy="784.2" r="7"/><circle cx="626.8" cy="687.7" r="7"/><circle cx="558.9" cy="997.4" r="7"/><circle cx="379.7" cy="753.5" r="7"/><circle cx="535.2" cy="295.2" r="7"/><circle cx="508.7" cy="987.9" r="7"/><circle cx="896.7" cy="631.5" r="7"/><circle cx="528.3" cy="951.4" r="7"/><circle cx="420.6" cy="740.3" r="7"/><circle cx="515.5" cy="494.9" r="7"/><circle cx="566.4" cy="942.8" r="7"/><circle cx="632" cy="266.2" r="7"/><circle cx="642.2" cy="927.8" r="7"/><circle cx="944.6" cy="433.8" r="7"/><circle cx="915.8" cy="588.7" r="7"/><circle cx="884.3" cy="367.6" r="7"/><circle cx="650.9" cy="743.6" r="7"/><circle cx="1087.2" cy="478.1" r="7"/><circle cx="953.5" cy="864" r="7"/><circle cx="510.4" cy="532.2" r="7"/><circle cx="388.8" cy="273.6" r="7"/><circle cx="561.3" cy="221.5" r="7"/><circle cx="835.2" cy="869.7" r="7"/><circle cx="1021.5" cy="336" r="7"/><circle cx="374.1" cy="786" r="7"/><circle cx="323" cy="426.4" r="7"/><circle cx="822.9" cy="940.8" r="7"/><circle cx="751.9" cy="258.7" r="7"/><circle cx="713.2" cy="1021.2" r="7"/><circle cx="557.3" cy="1059" r="7"/><circle cx="527.5" cy="906.3" r="7"/><circle cx="408.1" cy="397.6" r="7"/><circle cx="614.6" cy="1013.5" r="7"/><circle cx="871.4" cy="896.6" r="7"/><circle cx="480.3" cy="270.2" r="7"/><circle cx="327.5" cy="814.2" r="7"/><circle cx="550.6" cy="1027.5" r="7"/><circle cx="682.5" cy="1078.2" r="7"/><circle cx="594.4" cy="461.8" r="7"/><circle cx="890.3" cy="822.7" r="7"/><circle cx="874.9" cy="913.8" r="7"/><circle cx="287.6" cy="404.9" r="7"/><circle cx="912.8" cy="496.1" r="7"/><circle cx="548.7" cy="272.6" r="7"/><circle cx="578.9" cy="281.7" r="7"/><circle cx="1079.2" cy="469.2" r="7"/><circle cx="219.9" cy="417" r="7"/><circle cx="379.9" cy="836" r="7"/><circle cx="793.6" cy="302.5" r="7"/><circle cx="957" cy="667.1" r="7"/><circle cx="533.8" cy="977.4" r="7"/><circle cx="345.4" cy="300.9" r="7"/><circle cx="501.9" cy="288.4" r="7"/><circle cx="633.3" cy="923.4" r="7"/><circle cx="509.2" cy="785.7" r="7"/><circle cx="765.7" cy="679.7" r="7"/><circle cx="731.7" cy="1037.2" r="7"/><circle cx="424.1" cy="810.1" r="7"/><circle cx="628.6" cy="988.7" r="7"/><circle cx="686.4" cy="863.5" r="7"/><circle cx="509.9" cy="233.4" r="7"/><circle cx="632.1" cy="942.8" r="7"/><circle cx="629.7" cy="228.7" r="7"/><circle cx="380.8" cy="348.8" r="7"/><circle cx="593.3" cy="906.6" r="7"/><circle cx="488.5" cy="892.9" r="7"/><circle cx="631.2" cy="689.4" r="7"/><circle cx="531.2" cy="1038.3" r="7"/><circle cx="756.9" cy="513.9" r="7"/><circle cx="564.4" cy="575.9" r="7"/><circle cx="975.9" cy="297.4" r="7"/><circle cx="878.9" cy="400.2" r="7"/><circle cx="693.7" cy="825.9" r="7"/><circle cx="679.3" cy="360" r="7"/><circle cx="419.4" cy="776.8" r="7"/><circle cx="858.6" cy="537.8" r="7"/><circle cx="521.8" cy="1020.6" r="7"/><circle cx="903" cy="843.3" r="7"/><circle cx="522.8" cy="204.8" r="7"/><circle cx="862.8" cy="918.3" r="7"/><circle cx="722.2" cy="875.9" r="7"/><circle cx="892.2" cy="659.9" r="7"/><circle cx="904.8" cy="853.9" r="7"/><circle cx="760.4" cy="814.7" r="7"/><circle cx="985.7" cy="857.1" r="7"/><circle cx="807.5" cy="939.1" r="7"/><circle cx="308" cy="352.3" r="7"/><circle cx="513.4" cy="900.9" r="7"/><circle cx="436.8" cy="715" r="7"/><circle cx="705.1" cy="883.8" r="7"/><circle cx="352.6" cy="743.9" r="7"/><circle cx="872.6" cy="655.8" r="7"/><circle cx="1024.1" cy="495.5" r="7"/><circle cx="404.5" cy="851" r="7"/><circle cx="786.5" cy="615" r="7"/><circle cx="982.3" cy="436" r="7"/><circle cx="583.9" cy="933.7" r="7"/><circle cx="756.7" cy="423.7" r="7"/><circle cx="546.1" cy="1039.5" r="7"/><circle cx="360.8" cy="745.7" r="7"/><circle cx="506.9" cy="224.9" r="7"/><circle cx="849.6" cy="850.7" r="7"/><circle cx="842.5" cy="925.7" r="7"/><circle cx="376.7" cy="834.1" r="7"/><circle cx="389" cy="235.9" r="7"/><circle cx="532.9" cy="298.8" r="7"/><circle cx="896.2" cy="627.7" r="7"/><circle cx="953.7" cy="872.4" r="7"/><circle cx="858.4" cy="867.4" r="7"/><circle cx="635.9" cy="1017.6" r="7"/><circle cx="500.3" cy="923.7" r="7"/><circle cx="961.4" cy="889.3" r="7"/><circle cx="486" cy="347.5" r="7"/><circle cx="1074.6" cy="473.7" r="7"/><circle cx="424.3" cy="778.6" r="7"/><circle cx="599.2" cy="931.5" r="7"/><circle cx="897" cy="656.4" r="7"/><circle cx="426.1" cy="861.9" r="7"/><circle cx="521.8" cy="983" r="7"/><circle cx="744.8" cy="516" r="7"/><circle cx="1066.3" cy="305.8" r="7"/><circle cx="493.5" cy="237.6" r="7"/><circle cx="801.2" cy="969" r="7"/><circle cx="271" cy="374.9" r="7"/><circle cx="754.4" cy="914.5" r="7"/><circle cx="615" cy="1052.8" r="7"/><circle cx="515.1" cy="557.5" r="7"/><circle cx="859.6" cy="815.4" r="7"/><circle cx="711" cy="835.7" r="7"/><circle cx="395.7" cy="787.8" r="7"/><circle cx="530.6" cy="965.1" r="7"/><circle cx="535.3" cy="352.5" r="7"/><circle cx="366.7" cy="953" r="7"/><circle cx="756" cy="883.8" r="7"/><circle cx="803.8" cy="827" r="7"/><circle cx="409.6" cy="443.7" r="7"/><circle cx="643.6" cy="924.5" r="7"/><circle cx="771" cy="556.5" r="7"/><circle cx="915.4" cy="889.2" r="7"/><circle cx="913.1" cy="663.3" r="7"/><circle cx="762.4" cy="813.6" r="7"/><circle cx="302.9" cy="425.9" r="7"/><circle cx="874.2" cy="588.2" r="7"/><circle cx="523.7" cy="567.7" r="7"/><circle cx="396.5" cy="802.6" r="7"/><circle cx="421.3" cy="395.4" r="7"/><circle cx="580.9" cy="534.6" r="7"/><circle cx="448.3" cy="237.5" r="7"/><circle cx="846.7" cy="344.1" r="7"/><circle cx="1041" cy="296.6" r="7"/><circle cx="765.6" cy="545" r="7"/><circle cx="579" cy="578.9" r="7"/><circle cx="507.5" cy="782.5" r="7"/><circle cx="1120.1" cy="498.4" r="7"/><circle cx="409.9" cy="849.3" r="7"/><circle cx="689.2" cy="350.3" r="7"/><circle cx="209.4" cy="421.5" r="7"/><circle cx="948.5" cy="851" r="7"/><circle cx="579.7" cy="1034.7" r="7"/><circle cx="828.8" cy="883.7" r="7"/><circle cx="897.6" cy="624.3" r="7"/><circle cx="1028.8" cy="418.2" r="7"/><circle cx="407.1" cy="778.1" r="7"/><circle cx="306.5" cy="400.7" r="7"/><circle cx="771.8" cy="713.1" r="7"/><circle cx="880.6" cy="900.3" r="7"/><circle cx="864.4" cy="372.6" r="7"/><circle cx="1029.9" cy="319.3" r="7"/><circle cx="393.4" cy="419.3" r="7"/><circle cx="836.9" cy="626.3" r="7"/><circle cx="669.6" cy="336" r="7"/><circle cx="475.8" cy="895" r="7"/><circle cx="660.6" cy="938.5" r="7"/><circle cx="555.2" cy="525.3" r="7"/><circle cx="862.9" cy="366.1" r="7"/><circle cx="566" cy="548.9" r="7"/><circle cx="729.9" cy="430.2" r="7"/><circle cx="562.1" cy="916.7" r="7"/><circle cx="648" cy="244.7" r="7"/><circle cx="951.5" cy="578" r="7"/><circle cx="458.6" cy="846.9" r="7"/><circle cx="375.8" cy="439.7" r="7"/><circle cx="899.1" cy="594.6" r="7"/><circle cx="757.8" cy="440.1" r="7"/><circle cx="923.6" cy="511.7" r="7"/><circle cx="566.6" cy="488.5" r="7"/><circle cx="802.6" cy="730.8" r="7"/><circle cx="545.1" cy="936.7" r="7"/><circle cx="451.3" cy="341.4" r="7"/><circle cx="657.4" cy="299.2" r="7"/><circle cx="539.5" cy="928.3" r="7"/><circle cx="635" cy="1006.9" r="7"/><circle cx="472.9" cy="249.9" r="7"/><circle cx="778.1" cy="432.6" r="7"/><circle cx="450.8" cy="513" r="7"/><circle cx="508.9" cy="637.5" r="7"/><circle cx="530.5" cy="930.7" r="7"/><circle cx="927.4" cy="414.3" r="7"/><circle cx="640.1" cy="448.6" r="7"/><circle cx="770" cy="499.6" r="7"/><circle cx="334.6" cy="409" r="7"/><circle cx="611.3" cy="1013" r="7"/><circle cx="571.3" cy="995.2" r="7"/><circle cx="763.1" cy="522.3" r="7"/><circle cx="417.1" cy="302.9" r="7"/><circle cx="784" cy="941.2" r="7"/><circle cx="369.7" cy="805.7" r="7"/><circle cx="397.5" cy="282.9" r="7"/><circle cx="692.5" cy="581.2" r="7"/><circle cx="1021.2" cy="490.1" r="7"/><circle cx="791.1" cy="980" r="7"/><circle cx="867.9" cy="623.5" r="7"/><circle cx="637.6" cy="982.1" r="7"/><circle cx="1074.6" cy="448.1" r="7"/><circle cx="517.4" cy="299.4" r="7"/><circle cx="616.4" cy="988.7" r="7"/><circle cx="612.5" cy="491.6" r="7"/><circle cx="1067.7" cy="449.9" r="7"/><circle cx="1058.3" cy="445.4" r="7"/><circle cx="738.6" cy="623.8" r="7"/><circle cx="903.5" cy="877.1" r="7"/><circle cx="415.8" cy="238.6" r="7"/><circle cx="944.6" cy="670.2" r="7"/><circle cx="655.5" cy="295.7" r="7"/><circle cx="647.9" cy="220.8" r="7"/><circle cx="655" cy="1035.3" r="7"/><circle cx="792" cy="621.7" r="7"/><circle cx="751.7" cy="309.7" r="7"/><circle cx="839.9" cy="426.3" r="7"/><circle cx="619.1" cy="949.5" r="7"/><circle cx="1113.8" cy="502.3" r="7"/><circle cx="647.2" cy="497" r="7"/><circle cx="871" cy="537.1" r="7"/><circle cx="691.8" cy="396.2" r="7"/><circle cx="343.7" cy="318.5" r="7"/><circle cx="659.3" cy="490" r="7"/><circle cx="993.7" cy="784.3" r="7"/><circle cx="537.4" cy="547.7" r="7"/><circle cx="545.8" cy="991.8" r="7"/><circle cx="927.8" cy="436.7" r="7"/><circle cx="746.7" cy="258.7" r="7"/><circle cx="581" cy="555.5" r="7"/><circle cx="296.9" cy="371.6" r="7"/><circle cx="847.5" cy="433.1" r="7"/><circle cx="654.4" cy="1032.1" r="7"/><circle cx="557.8" cy="290.9" r="7"/><circle cx="945.7" cy="427.4" r="7"/><circle cx="790.3" cy="931.8" r="7"/><circle cx="932.6" cy="646.9" r="7"/><circle cx="889.1" cy="402.3" r="7"/><circle cx="809.6" cy="291.4" r="7"/><circle cx="986.3" cy="295.6" r="7"/><circle cx="656.8" cy="1077.6" r="7"/><circle cx="746.1" cy="512.7" r="7"/><circle cx="549.4" cy="303.1" r="7"/><circle cx="957.3" cy="311.4" r="7"/><circle cx="958" cy="649.3" r="7"/><circle cx="912.1" cy="634.6" r="7"/><circle cx="757.9" cy="908.1" r="7"/><circle cx="612" cy="696.6" r="7"/><circle cx="969.7" cy="828" r="7"/><circle cx="289.1" cy="378" r="7"/><circle cx="333.1" cy="464.8" r="7"/><circle cx="466.4" cy="328.1" r="7"/><circle cx="657.3" cy="489.3" r="7"/><circle cx="390.1" cy="835.6" r="7"/><circle cx="891.2" cy="653.1" r="7"/><circle cx="751" cy="513.1" r="7"/><circle cx="1064.7" cy="380.1" r="7"/><circle cx="1002.7" cy="782" r="7"/><circle cx="939.4" cy="854.4" r="7"/><circle cx="545.9" cy="913.4" r="7"/><circle cx="674.3" cy="934.4" r="7"/><circle cx="837.2" cy="942.7" r="7"/><circle cx="705.3" cy="383.2" r="7"/><circle cx="886" cy="415.7" r="7"/><circle cx="479.9" cy="277.3" r="7"/><circle cx="442.4" cy="302.7" r="7"/><circle cx="384.3" cy="835.8" r="7"/><circle cx="922.9" cy="310.4" r="7"/><circle cx="345.3" cy="410.5" r="7"/><circle cx="314.9" cy="358" r="7"/><circle cx="942.5" cy="352.5" r="7"/><circle cx="740.4" cy="311.2" r="7"/><circle cx="394.6" cy="271" r="7"/><circle cx="790.4" cy="661.5" r="7"/><circle cx="841" cy="335.7" r="7"/><circle cx="654.4" cy="232.7" r="7"/><circle cx="489.8" cy="225.8" r="7"/><circle cx="519.9" cy="208.6" r="7"/><circle cx="625" cy="712.2" r="7"/><circle cx="593.3" cy="924.4" r="7"/><circle cx="415.2" cy="380.3" r="7"/><circle cx="428.4" cy="731.5" r="7"/><circle cx="1004.7" cy="325" r="7"/><circle cx="727.5" cy="455" r="7"/><circle cx="981.2" cy="292.8" r="7"/><circle cx="502.2" cy="241.2" r="7"/><circle cx="911.5" cy="691" r="7"/><circle cx="508" cy="912.9" r="7"/><circle cx="343.8" cy="291" r="7"/><circle cx="492.8" cy="230.5" r="7"/><circle cx="555.8" cy="440.8" r="7"/><circle cx="358.3" cy="753.1" r="7"/><circle cx="872" cy="884.9" r="7"/><circle cx="889.7" cy="858.8" r="7"/><circle cx="853.5" cy="845.8" r="7"/><circle cx="939.5" cy="389.7" r="7"/><circle cx="351.9" cy="754.3" r="7"/><circle cx="504.8" cy="261.3" r="7"/><circle cx="737.6" cy="261.6" r="7"/><circle cx="601.5" cy="943.8" r="7"/><circle cx="527" cy="305.5" r="7"/><circle cx="591.9" cy="919.2" r="7"/><circle cx="576.8" cy="233.4" r="7"/><circle cx="1089.2" cy="483.7" r="7"/><circle cx="383" cy="734.6" r="7"/><circle cx="516.7" cy="466.7" r="7"/><circle cx="626.4" cy="555.5" r="7"/><circle cx="760.5" cy="613.1" r="7"/><circle cx="835.9" cy="531.2" r="7"/><circle cx="501.5" cy="514.8" r="7"/><circle cx="211.2" cy="411" r="7"/><circle cx="666.9" cy="1022.8" r="7"/><circle cx="750.6" cy="621.7" r="7"/><circle cx="627.3" cy="683.4" r="7"/><circle cx="869.1" cy="532.4" r="7"/><circle cx="425.1" cy="390.9" r="7"/><circle cx="885" cy="587.5" r="7"/><circle cx="870.1" cy="545.8" r="7"/><circle cx="571" cy="961.3" r="7"/><circle cx="395.6" cy="234.4" r="7"/><circle cx="401.1" cy="779" r="7"/><circle cx="589.1" cy="444.9" r="7"/><circle cx="642.2" cy="982.3" r="7"/><circle cx="640" cy="329.8" r="7"/><circle cx="643" cy="1014.4" r="7"/><circle cx="364.7" cy="747.9" r="7"/><circle cx="536.8" cy="1035.6" r="7"/><circle cx="922.2" cy="505.9" r="7"/><circle cx="912.4" cy="875.1" r="7"/><circle cx="468" cy="356.8" r="7"/><circle cx="695" cy="485" r="7"/><circle cx="433.3" cy="795.3" r="7"/><circle cx="470.2" cy="292.4" r="7"/><circle cx="582.9" cy="936.8" r="7"/><circle cx="337.4" cy="394.5" r="7"/><circle cx="822.7" cy="512.5" r="7"/><circle cx="521.3" cy="509.3" r="7"/><circle cx="857.4" cy="857.1" r="7"/><circle cx="544.1" cy="511.4" r="7"/><circle cx="635.8" cy="692.6" r="7"/><circle cx="566.6" cy="901.8" r="7"/><circle cx="337.4" cy="266.8" r="7"/><circle cx="947.6" cy="433.3" r="7"/><circle cx="623.3" cy="251.5" r="7"/><circle cx="536.1" cy="877.7" r="7"/><circle cx="616" cy="1058.1" r="7"/><circle cx="621.6" cy="769.9" r="7"/><circle cx="296.2" cy="914.1" r="7"/><circle cx="351.3" cy="815.2" r="7"/><circle cx="963.9" cy="429.2" r="7"/><circle cx="320.2" cy="492.7" r="7"/><circle cx="520.5" cy="231.8" r="7"/><circle cx="431.3" cy="314.5" r="7"/><circle cx="365" cy="735.5" r="7"/><circle cx="946.6" cy="815.4" r="7"/><circle cx="810.1" cy="982.9" r="7"/><circle cx="865.2" cy="876.8" r="7"/><circle cx="603.8" cy="346.9" r="7"/><circle cx="782" cy="523.5" r="7"/><circle cx="661.3" cy="495.8" r="7"/><circle cx="632" cy="961.2" r="7"/><circle cx="410.5" cy="539.9" r="7"/><circle cx="896.8" cy="683.7" r="7"/><circle cx="355.1" cy="332.8" r="7"/><circle cx="650.4" cy="1047.6" r="7"/><circle cx="861.7" cy="925.2" r="7"/><circle cx="918.2" cy="419.5" r="7"/><circle cx="585.5" cy="281.2" r="7"/><circle cx="880" cy="595.1" r="7"/><circle cx="1073.4" cy="469.4" r="7"/><circle cx="406.9" cy="396.3" r="7"/><circle cx="626.2" cy="749.5" r="7"/><circle cx="401.6" cy="806.5" r="7"/><circle cx="914.7" cy="778.6" r="7"/><circle cx="640.7" cy="329.2" r="7"/><circle cx="321.6" cy="526.8" r="7"/><circle cx="563.3" cy="1036.5" r="7"/><circle cx="984.1" cy="665.3" r="7"/><circle cx="705.6" cy="370.2" r="7"/><circle cx="587.5" cy="1077.2" r="7"/><circle cx="645.6" cy="998.8" r="7"/><circle cx="723.4" cy="1020.2" r="7"/><circle cx="908.8" cy="290.2" r="7"/><circle cx="383.5" cy="784.6" r="7"/><circle cx="582.8" cy="478.6" r="7"/><circle cx="1086.9" cy="489.5" r="7"/><circle cx="1044.1" cy="442.5" r="7"/><circle cx="735.5" cy="274.5" r="7"/><circle cx="639" cy="930.1" r="7"/><circle cx="783.2" cy="728.2" r="7"/><circle cx="387.8" cy="358.9" r="7"/><circle cx="325" cy="350.6" r="7"/><circle cx="665.2" cy="339.2" r="7"/><circle cx="299.1" cy="436.8" r="7"/><circle cx="765.1" cy="870" r="7"/><circle cx="532.2" cy="967.4" r="7"/><circle cx="363" cy="939.4" r="7"/><circle cx="571.8" cy="1061.7" r="7"/><circle cx="679.3" cy="878.1" r="7"/><circle cx="624.8" cy="558.5" r="7"/><circle cx="901.4" cy="926.7" r="7"/><circle cx="644.5" cy="689" r="7"/><circle cx="671.9" cy="992" r="7"/><circle cx="913.7" cy="796.9" r="7"/><circle cx="410.1" cy="776.1" r="7"/><circle cx="344.5" cy="461.7" r="7"/><circle cx="741.7" cy="296.7" r="7"/><circle cx="427.5" cy="815.4" r="7"/><circle cx="445" cy="252.6" r="7"/><circle cx="945.5" cy="385.4" r="7"/><circle cx="323" cy="398.1" r="7"/><circle cx="544" cy="886" r="7"/><circle cx="298.9" cy="394.6" r="7"/><circle cx="678.1" cy="213.2" r="7"/><circle cx="292.8" cy="366.4" r="7"/><circle cx="798" cy="865.2" r="7"/><circle cx="927.4" cy="297.4" r="7"/><circle cx="876" cy="907.9" r="7"/><circle cx="786.4" cy="934.1" r="7"/><circle cx="979.8" cy="661.2" r="7"/><circle cx="668.5" cy="696.2" r="7"/><circle cx="686.5" cy="318.1" r="7"/><circle cx="618.4" cy="677.6" r="7"/><circle cx="676.2" cy="950.1" r="7"/><circle cx="603.9" cy="528.7" r="7"/><circle cx="772.5" cy="465" r="7"/><circle cx="230.6" cy="386" r="7"/><circle cx="583" cy="941.5" r="7"/><circle cx="570.7" cy="896.3" r="7"/><circle cx="591.5" cy="557.6" r="7"/><circle cx="761.5" cy="563" r="7"/><circle cx="915.7" cy="811.7" r="7"/><circle cx="870.8" cy="929" r="7"/><circle cx="849.6" cy="912" r="7"/><circle cx="309.4" cy="447.8" r="7"/><circle cx="598.6" cy="918.2" r="7"/><circle cx="1057.5" cy="388.5" r="7"/><circle cx="649.2" cy="976" r="7"/><circle cx="501.3" cy="961.7" r="7"/><circle cx="369.1" cy="391.5" r="7"/><circle cx="364.2" cy="835.7" r="7"/><circle cx="621.5" cy="1060.6" r="7"/><circle cx="616.6" cy="431.2" r="7"/><circle cx="839.8" cy="570.1" r="7"/><circle cx="969.9" cy="792.8" r="7"/><circle cx="985.3" cy="839.8" r="7"/><circle cx="920" cy="912.7" r="7"/><circle cx="638.4" cy="706.5" r="7"/><circle cx="847.2" cy="938.8" r="7"/><circle cx="746.7" cy="490.4" r="7"/><circle cx="743.2" cy="255.8" r="7"/><circle cx="1073" cy="344.3" r="7"/><circle cx="888.5" cy="814.4" r="7"/><circle cx="625.8" cy="1028.3" r="7"/><circle cx="334.3" cy="384.8" r="7"/><circle cx="377" cy="749.3" r="7"/><circle cx="335.2" cy="361.5" r="7"/><circle cx="835.9" cy="889.3" r="7"/><circle cx="684.8" cy="666.4" r="7"/><circle cx="900.6" cy="664.6" r="7"/><circle cx="924.5" cy="410.3" r="7"/><circle cx="927.5" cy="411.7" r="7"/><circle cx="1070.5" cy="490.6" r="7"/><circle cx="386.3" cy="838.4" r="7"/><circle cx="499.4" cy="895.6" r="7"/><circle cx="770.3" cy="288.7" r="7"/><circle cx="616" cy="1037.5" r="7"/><circle cx="545.5" cy="478.8" r="7"/><circle cx="355.8" cy="841.5" r="7"/><circle cx="535.8" cy="310.3" r="7"/><circle cx="624" cy="694.9" r="7"/><circle cx="876.2" cy="937" r="7"/><circle cx="521.6" cy="781.1" r="7"/><circle cx="885.3" cy="628.9" r="7"/><circle cx="845.1" cy="570.7" r="7"/><circle cx="349.6" cy="739.6" r="7"/><circle cx="363.9" cy="445.5" r="7"/><circle cx="349.4" cy="451" r="7"/><circle cx="644.6" cy="987.8" r="7"/><circle cx="813.8" cy="957.3" r="7"/><circle cx="694.9" cy="994.5" r="7"/><circle cx="926.2" cy="905.7" r="7"/><circle cx="820.3" cy="291.9" r="7"/><circle cx="655.6" cy="271.7" r="7"/><circle cx="895" cy="411.4" r="7"/><circle cx="691.4" cy="750" r="7"/><circle cx="792.3" cy="748.2" r="7"/><circle cx="528.6" cy="444.4" r="7"/><circle cx="738" cy="294.2" r="7"/><circle cx="633.8" cy="384.4" r="7"/><circle cx="536.6" cy="360.2" r="7"/><circle cx="366.2" cy="755.2" r="7"/><circle cx="436.1" cy="355.1" r="7"/><circle cx="652.1" cy="232.3" r="7"/><circle cx="763.6" cy="772" r="7"/><circle cx="390" cy="750.5" r="7"/><circle cx="703.4" cy="1017.6" r="7"/><circle cx="742.9" cy="487.2" r="7"/><circle cx="633.8" cy="534.9" r="7"/><circle cx="313.1" cy="303.4" r="7"/><circle cx="617.3" cy="763.1" r="7"/><circle cx="876.4" cy="377.2" r="7"/><circle cx="409" cy="845.3" r="7"/><circle cx="896.5" cy="849.6" r="7"/><circle cx="933.5" cy="672.4" r="7"/><circle cx="384.8" cy="731.6" r="7"/><circle cx="834.7" cy="293" r="7"/><circle cx="565.4" cy="456.3" r="7"/><circle cx="470.2" cy="281.6" r="7"/><circle cx="987.3" cy="457.7" r="7"/><circle cx="538.4" cy="991.4" r="7"/><circle cx="918.9" cy="858.8" r="7"/><circle cx="590.9" cy="505.8" r="7"/><circle cx="872.9" cy="862.6" r="7"/><circle cx="954.6" cy="829" r="7"/><circle cx="390.6" cy="445.5" r="7"/><circle cx="1014.9" cy="294.8" r="7"/><circle cx="1017.3" cy="271.7" r="7"/><circle cx="916.1" cy="806" r="7"/><circle cx="872.7" cy="937.8" r="7"/><circle cx="551.7" cy="264.6" r="7"/><circle cx="358.4" cy="261.9" r="7"/><circle cx="963.8" cy="309.3" r="7"/><circle cx="912.1" cy="407.2" r="7"/><circle cx="349.8" cy="405.5" r="7"/><circle cx="352.5" cy="291.9" r="7"/><circle cx="425.3" cy="225.8" r="7"/></g><g fill="#5176a3"><circle cx="938.4" cy="417.2" r="7"/><circle cx="524.7" cy="257.6" r="7"/><circle cx="524.6" cy="566.8" r="7"/><circle cx="548.4" cy="571.3" r="7"/><circle cx="884.9" cy="403.2" r="7"/><circle cx="921.5" cy="653.3" r="7"/><circle cx="702.5" cy="603" r="7"/><circle cx="870.1" cy="592.3" r="7"/><circle cx="995.3" cy="782.1" r="7"/><circle cx="570.4" cy="1063.9" r="7"/><circle cx="395.9" cy="337" r="7"/><circle cx="578.1" cy="920.8" r="7"/><circle cx="780.3" cy="791.7" r="7"/><circle cx="571.9" cy="309" r="7"/><circle cx="981.7" cy="667.8" r="7"/><circle cx="843.3" cy="853.9" r="7"/><circle cx="1044.8" cy="285.1" r="7"/><circle cx="368.8" cy="832.4" r="7"/><circle cx="753.8" cy="632" r="7"/><circle cx="767.4" cy="506.8" r="7"/><circle cx="422.6" cy="743" r="7"/><circle cx="643.5" cy="274.3" r="7"/><circle cx="562.5" cy="548.4" r="7"/><circle cx="816.7" cy="637.6" r="7"/><circle cx="270.4" cy="375" r="7"/><circle cx="562" cy="967.1" r="7"/><circle cx="640.8" cy="685.1" r="7"/><circle cx="781.4" cy="520.3" r="7"/><circle cx="802.6" cy="905.9" r="7"/><circle cx="648.5" cy="945.4" r="7"/><circle cx="341.2" cy="310.9" r="7"/><circle cx="555.4" cy="1012.6" r="7"/><circle cx="745" cy="351.2" r="7"/><circle cx="897.6" cy="420.3" r="7"/><circle cx="597.1" cy="967.9" r="7"/><circle cx="531.7" cy="245.7" r="7"/><circle cx="553" cy="951.4" r="7"/><circle cx="541.8" cy="538.3" r="7"/><circle cx="904" cy="626.9" r="7"/><circle cx="851.3" cy="894.3" r="7"/><circle cx="467.8" cy="854.4" r="7"/><circle cx="796.1" cy="320.6" r="7"/><circle cx="959.6" cy="881" r="7"/><circle cx="901.5" cy="323" r="7"/><circle cx="614.1" cy="691.7" r="7"/><circle cx="757.8" cy="561.4" r="7"/><circle cx="568.4" cy="315.2" r="7"/><circle cx="554.1" cy="540" r="7"/><circle cx="792.8" cy="462.3" r="7"/><circle cx="480.7" cy="261.2" r="7"/><circle cx="1085.4" cy="504" r="7"/><circle cx="352.8" cy="362.8" r="7"/><circle cx="560.3" cy="942.5" r="7"/><circle cx="907" cy="912.1" r="7"/><circle cx="632.7" cy="692.1" r="7"/><circle cx="530.9" cy="348.4" r="7"/><circle cx="303.2" cy="432.3" r="7"/><circle cx="345" cy="377.9" r="7"/><circle cx="858.6" cy="370.8" r="7"/><circle cx="594.6" cy="523.3" r="7"/><circle cx="644.9" cy="260.3" r="7"/><circle cx="419.4" cy="845.5" r="7"/><circle cx="362.1" cy="575" r="7"/><circle cx="931" cy="585.5" r="7"/><circle cx="741.5" cy="442.6" r="7"/><circle cx="808.4" cy="954.9" r="7"/><circle cx="807.3" cy="949" r="7"/><circle cx="450" cy="720" r="7"/><circle cx="776.4" cy="485.9" r="7"/><circle cx="571.5" cy="937" r="7"/><circle cx="437" cy="402.2" r="7"/><circle cx="971.1" cy="862.7" r="7"/><circle cx="374.4" cy="806.5" r="7"/><circle cx="970.2" cy="848.7" r="7"/><circle cx="489.3" cy="891.5" r="7"/><circle cx="913" cy="412.1" r="7"/><circle cx="836.5" cy="433.5" r="7"/><circle cx="324.7" cy="350.4" r="7"/><circle cx="711" cy="313.8" r="7"/><circle cx="696.3" cy="652" r="7"/><circle cx="741.9" cy="694" r="7"/><circle cx="760" cy="452.5" r="7"/><circle cx="976.4" cy="823.4" r="7"/><circle cx="914.6" cy="917.6" r="7"/><circle cx="1028.1" cy="288.1" r="7"/><circle cx="918.5" cy="591.8" r="7"/><circle cx="522.6" cy="306.3" r="7"/><circle cx="645.4" cy="1059.7" r="7"/><circle cx="512.7" cy="777.7" r="7"/><circle cx="320" cy="286.7" r="7"/><circle cx="745.5" cy="791.4" r="7"/><circle cx="392.8" cy="414.7" r="7"/><circle cx="714.9" cy="689.4" r="7"/><circle cx="534.7" cy="238.9" r="7"/><circle cx="508.2" cy="515.1" r="7"/><circle cx="873.1" cy="502.4" r="7"/><circle cx="888.3" cy="863.2" r="7"/><circle cx="588.8" cy="1050.5" r="7"/><circle cx="890.7" cy="645.9" r="7"/><circle cx="673.2" cy="311.2" r="7"/><circle cx="776.3" cy="717.4" r="7"/><circle cx="403.9" cy="542.6" r="7"/><circle cx="317.1" cy="380.4" r="7"/><circle cx="582.5" cy="994.3" r="7"/><circle cx="230.3" cy="372.3" r="7"/><circle cx="913.4" cy="855.9" r="7"/><circle cx="749.6" cy="495.2" r="7"/><circle cx="730.5" cy="433.8" r="7"/><circle cx="1009.1" cy="329" r="7"/><circle cx="583.3" cy="965.6" r="7"/><circle cx="501" cy="969.4" r="7"/><circle cx="572.2" cy="1026.8" r="7"/><circle cx="563" cy="194.9" r="7"/><circle cx="525" cy="820" r="7"/><circle cx="359.9" cy="748.9" r="7"/><circle cx="935.8" cy="800.1" r="7"/><circle cx="936.3" cy="671.2" r="7"/><circle cx="364.3" cy="571.4" r="7"/><circle cx="727.3" cy="688.1" r="7"/><circle cx="789.5" cy="869.8" r="7"/><circle cx="987.5" cy="452.2" r="7"/><circle cx="941.7" cy="843.4" r="7"/><circle cx="454.3" cy="423.1" r="7"/><circle cx="881.2" cy="676.1" r="7"/><circle cx="801.1" cy="340.7" r="7"/><circle cx="355.2" cy="500" r="7"/><circle cx="591.8" cy="1036" r="7"/><circle cx="501" cy="978" r="7"/><circle cx="926.3" cy="391.5" r="7"/><circle cx="748" cy="627.9" r="7"/><circle cx="900.7" cy="640.5" r="7"/><circle cx="480.3" cy="316.9" r="7"/><circle cx="368.1" cy="556" r="7"/><circle cx="576.4" cy="308.3" r="7"/><circle cx="878.6" cy="843.7" r="7"/><circle cx="528.6" cy="294.9" r="7"/><circle cx="655.8" cy="276.9" r="7"/><circle cx="1004.7" cy="801.8" r="7"/><circle cx="842.8" cy="533.1" r="7"/><circle cx="457.7" cy="365.2" r="7"/><circle cx="890.1" cy="817.7" r="7"/><circle cx="756.5" cy="492.5" r="7"/><circle cx="709" cy="1016.5" r="7"/><circle cx="1067.6" cy="396.3" r="7"/><circle cx="929.1" cy="673.8" r="7"/><circle cx="416.4" cy="244.4" r="7"/><circle cx="587.9" cy="475.6" r="7"/><circle cx="924.7" cy="652.8" r="7"/><circle cx="656.1" cy="946.9" r="7"/><circle cx="523.8" cy="313.8" r="7"/><circle cx="618.8" cy="388.1" r="7"/><circle cx="385.9" cy="438.4" r="7"/><circle cx="911.7" cy="886.6" r="7"/><circle cx="284.2" cy="306.9" r="7"/><circle cx="908.2" cy="418.9" r="7"/><circle cx="654.7" cy="1074.7" r="7"/><circle cx="487.9" cy="933" r="7"/><circle cx="432.6" cy="227" r="7"/><circle cx="431.8" cy="786" r="7"/><circle cx="555.4" cy="465.9" r="7"/><circle cx="953.8" cy="878.9" r="7"/><circle cx="662.4" cy="492" r="7"/><circle cx="967.5" cy="669.8" r="7"/><circle cx="862.9" cy="872.6" r="7"/><circle cx="946.5" cy="872" r="7"/><circle cx="377.2" cy="741.4" r="7"/><circle cx="324.9" cy="501.1" r="7"/><circle cx="687.1" cy="999.3" r="7"/><circle cx="536.2" cy="458.2" r="7"/><circle cx="805.1" cy="295.9" r="7"/><circle cx="335" cy="339.8" r="7"/><circle cx="562.4" cy="1032.6" r="7"/><circle cx="356.7" cy="362.7" r="7"/><circle cx="912.3" cy="929.2" r="7"/><circle cx="774" cy="737.7" r="7"/><circle cx="364.2" cy="752.3" r="7"/><circle cx="547.5" cy="963.6" r="7"/><circle cx="840.8" cy="850.1" r="7"/><circle cx="598" cy="545.5" r="7"/><circle cx="904.3" cy="426.2" r="7"/><circle cx="1107.9" cy="485.9" r="7"/><circle cx="701.5" cy="1067.1" r="7"/><circle cx="951" cy="638" r="7"/><circle cx="411.7" cy="791.7" r="7"/><circle cx="914.2" cy="656.5" r="7"/><circle cx="890.1" cy="395" r="7"/><circle cx="777.7" cy="284.2" r="7"/><circle cx="791.2" cy="275.2" r="7"/><circle cx="646.1" cy="272.4" r="7"/><circle cx="901.6" cy="656.3" r="7"/><circle cx="643.8" cy="993.4" r="7"/><circle cx="968.2" cy="658.5" r="7"/><circle cx="861.6" cy="534.7" r="7"/><circle cx="608.9" cy="243.4" r="7"/><circle cx="513.8" cy="282.1" r="7"/><circle cx="879.4" cy="619.1" r="7"/><circle cx="611.5" cy="1062.8" r="7"/><circle cx="632.9" cy="321.4" r="7"/><circle cx="604.3" cy="911.3" r="7"/><circle cx="635.6" cy="323.2" r="7"/><circle cx="906.4" cy="803.7" r="7"/><circle cx="843.1" cy="545.5" r="7"/><circle cx="533.1" cy="431.8" r="7"/><circle cx="366.4" cy="949" r="7"/><circle cx="984.2" cy="425.1" r="7"/><circle cx="1031.3" cy="301.9" r="7"/><circle cx="551.1" cy="1013.8" r="7"/><circle cx="812.3" cy="285.5" r="7"/><circle cx="1105.8" cy="506.8" r="7"/><circle cx="542.8" cy="942.9" r="7"/><circle cx="375.1" cy="754.3" r="7"/><circle cx="762" cy="817.8" r="7"/><circle cx="873.2" cy="428.6" r="7"/><circle cx="593.1" cy="989.8" r="7"/><circle cx="867.1" cy="856.5" r="7"/><circle cx="956.5" cy="890.5" r="7"/><circle cx="532.6" cy="986.4" r="7"/><circle cx="835.1" cy="333.4" r="7"/><circle cx="876.8" cy="653.2" r="7"/><circle cx="1052.8" cy="356.2" r="7"/><circle cx="708.5" cy="880.1" r="7"/><circle cx="752" cy="851.2" r="7"/><circle cx="615.1" cy="696.7" r="7"/><circle cx="843.9" cy="896.2" r="7"/><circle cx="361.4" cy="792.1" r="7"/><circle cx="644.9" cy="693.2" r="7"/><circle cx="638.6" cy="702.9" r="7"/><circle cx="503.4" cy="353.5" r="7"/><circle cx="855.5" cy="373.1" r="7"/><circle cx="566.7" cy="255.7" r="7"/><circle cx="570.6" cy="426.2" r="7"/><circle cx="621.7" cy="251.1" r="7"/><circle cx="804.3" cy="616.2" r="7"/><circle cx="902.5" cy="421" r="7"/><circle cx="903.8" cy="534.3" r="7"/><circle cx="965.7" cy="881.4" r="7"/><circle cx="460.1" cy="363.1" r="7"/><circle cx="487" cy="296.1" r="7"/><circle cx="916.7" cy="885.4" r="7"/><circle cx="942.4" cy="409.8" r="7"/><circle cx="366.3" cy="279.3" r="7"/><circle cx="528.7" cy="997" r="7"/><circle cx="432.4" cy="254.6" r="7"/><circle cx="233.7" cy="371.5" r="7"/><circle cx="941.7" cy="672.2" r="7"/><circle cx="302.5" cy="369.1" r="7"/><circle cx="885.6" cy="896.1" r="7"/><circle cx="835.2" cy="850.3" r="7"/><circle cx="563.7" cy="971.9" r="7"/><circle cx="882.4" cy="806" r="7"/><circle cx="423.6" cy="801.9" r="7"/><circle cx="389.8" cy="419.5" r="7"/><circle cx="377.9" cy="830.8" r="7"/><circle cx="778.8" cy="731.3" r="7"/><circle cx="239.6" cy="381.7" r="7"/><circle cx="352.2" cy="763.5" r="7"/><circle cx="827.2" cy="856.4" r="7"/><circle cx="522.5" cy="1004.7" r="7"/><circle cx="605.2" cy="424" r="7"/><circle cx="435.7" cy="858.7" r="7"/><circle cx="354.3" cy="814.5" r="7"/><circle cx="606.7" cy="266.9" r="7"/><circle cx="657.2" cy="964.9" r="7"/><circle cx="894.8" cy="641.2" r="7"/><circle cx="562.5" cy="981.4" r="7"/><circle cx="934.4" cy="293.8" r="7"/><circle cx="514.3" cy="326.4" r="7"/><circle cx="371.6" cy="824.5" r="7"/><circle cx="1071.7" cy="444.3" r="7"/><circle cx="477.4" cy="239.3" r="7"/><circle cx="941.2" cy="577.8" r="7"/><circle cx="409.4" cy="406.3" r="7"/><circle cx="351.4" cy="449" r="7"/><circle cx="348.5" cy="832.1" r="7"/><circle cx="440.3" cy="288.4" r="7"/><circle cx="980.8" cy="419.3" r="7"/><circle cx="850.2" cy="550" r="7"/><circle cx="413.5" cy="291.8" r="7"/><circle cx="949.2" cy="641.1" r="7"/><circle cx="535.3" cy="562.6" r="7"/><circle cx="557.9" cy="576.4" r="7"/><circle cx="503.7" cy="503" r="7"/><circle cx="818.4" cy="286.6" r="7"/><circle cx="876.4" cy="624" r="7"/><circle cx="948.6" cy="812.2" r="7"/><circle cx="805.7" cy="613.3" r="7"/><circle cx="848.7" cy="815.8" r="7"/><circle cx="768.4" cy="863.2" r="7"/><circle cx="296.9" cy="323" r="7"/><circle cx="397.6" cy="552.2" r="7"/><circle cx="879.9" cy="553.3" r="7"/><circle cx="1025.2" cy="266.2" r="7"/><circle cx="1018.7" cy="330.6" r="7"/><circle cx="421.3" cy="848" r="7"/><circle cx="970.8" cy="824.9" r="7"/><circle cx="643.6" cy="936.9" r="7"/><circle cx="603.1" cy="444" r="7"/><circle cx="999.5" cy="831.4" r="7"/><circle cx="781.9" cy="871.3" r="7"/><circle cx="734.6" cy="662.5" r="7"/><circle cx="589.1" cy="422.8" r="7"/><circle cx="343.2" cy="287.5" r="7"/><circle cx="907.4" cy="634.5" r="7"/><circle cx="496.1" cy="786" r="7"/><circle cx="534.6" cy="247.2" r="7"/><circle cx="401" cy="794.4" r="7"/><circle cx="364.5" cy="344.1" r="7"/><circle cx="286" cy="392.5" r="7"/><circle cx="488" cy="894.4" r="7"/><circle cx="548.1" cy="1017.7" r="7"/><circle cx="412.3" cy="827" r="7"/><circle cx="695.3" cy="1028.6" r="7"/><circle cx="444.2" cy="329.5" r="7"/><circle cx="400" cy="366.7" r="7"/><circle cx="703.4" cy="1043.4" r="7"/><circle cx="630.9" cy="428.8" r="7"/><circle cx="327.7" cy="486.4" r="7"/><circle cx="466.4" cy="346.4" r="7"/><circle cx="830.2" cy="634.7" r="7"/><circle cx="903.3" cy="375.1" r="7"/><circle cx="302.5" cy="292.1" r="7"/><circle cx="816.2" cy="557" r="7"/><circle cx="894.8" cy="823.7" r="7"/><circle cx="876.1" cy="580.6" r="7"/><circle cx="977.2" cy="416.3" r="7"/><circle cx="476.2" cy="431.2" r="7"/><circle cx="500.6" cy="438.8" r="7"/><circle cx="650" cy="405" r="7"/><circle cx="775" cy="470" r="7"/><circle cx="792.5" cy="480" r="7"/><circle cx="636.2" cy="865" r="7"/><circle cx="776.2" cy="685" r="7"/><circle cx="915" cy="752.5" r="7"/><circle cx="915.8" cy="754.2" r="7"/><circle cx="724.2" cy="949.2" r="7"/><circle cx="750" cy="982.5" r="7"/><circle cx="721.2" cy="995" r="7"/><circle cx="725" cy="949.2" r="7"/><circle cx="750" cy="982.5" r="7"/><circle cx="496.2" cy="840" r="7"/><circle cx="508.8" cy="843.8" r="7"/><circle cx="468.8" cy="857.5" r="7"/><circle cx="527.5" cy="820" r="7"/><circle cx="522.5" cy="827.5" r="7"/><circle cx="695" cy="927.5" r="7"/><circle cx="536.2" cy="705" r="7"/><circle cx="575" cy="693.8" r="7"/><circle cx="562.5" cy="720" r="7"/><circle cx="318.2" cy="880.8" r="7"/><circle cx="509" cy="637" r="7"/><circle cx="726" cy="604" r="7"/><circle cx="701" cy="604" r="7"/><circle cx="732" cy="587" r="7"/><circle cx="621.3" cy="956.6" r="7"/><circle cx="513.9" cy="906.7" r="7"/><circle cx="698.4" cy="357" r="7"/><circle cx="775.3" cy="521.8" r="7"/><circle cx="633.5" cy="701.3" r="7"/><circle cx="823.3" cy="913.6" r="7"/><circle cx="261.5" cy="379.5" r="7"/><circle cx="601.9" cy="426" r="7"/><circle cx="614.9" cy="912.4" r="7"/><circle cx="925.1" cy="666.6" r="7"/><circle cx="567" cy="1012" r="7"/><circle cx="573.1" cy="278.7" r="7"/><circle cx="948.9" cy="658.4" r="7"/><circle cx="213.6" cy="438.9" r="7"/><circle cx="530.8" cy="521.5" r="7"/><circle cx="678.9" cy="336.5" r="7"/><circle cx="923.8" cy="892.8" r="7"/><circle cx="757.7" cy="925" r="7"/><circle cx="521.3" cy="955.4" r="7"/><circle cx="533.4" cy="201.3" r="7"/><circle cx="924.3" cy="341.4" r="7"/><circle cx="520.7" cy="243.2" r="7"/><circle cx="930.9" cy="584.1" r="7"/><circle cx="829.2" cy="861" r="7"/><circle cx="863" cy="381.9" r="7"/><circle cx="852.3" cy="905.5" r="7"/><circle cx="1038.1" cy="312.4" r="7"/><circle cx="628.7" cy="450.1" r="7"/><circle cx="370.4" cy="490.6" r="7"/><circle cx="927" cy="406.5" r="7"/><circle cx="686.6" cy="383.9" r="7"/><circle cx="977.3" cy="863.5" r="7"/><circle cx="796" cy="271.9" r="7"/><circle cx="471" cy="328.4" r="7"/><circle cx="385.4" cy="413.9" r="7"/><circle cx="471.9" cy="303.2" r="7"/><circle cx="561.1" cy="269.5" r="7"/><circle cx="607.3" cy="980.3" r="7"/><circle cx="910.7" cy="900.6" r="7"/><circle cx="781.4" cy="488.6" r="7"/><circle cx="416.3" cy="785.5" r="7"/><circle cx="598.2" cy="864.5" r="7"/><circle cx="989.8" cy="788.8" r="7"/><circle cx="539.2" cy="456.1" r="7"/><circle cx="524.9" cy="916.5" r="7"/><circle cx="749.8" cy="536.2" r="7"/><circle cx="617.9" cy="1044.4" r="7"/><circle cx="444.2" cy="220" r="7"/><circle cx="351.5" cy="397.3" r="7"/><circle cx="805.9" cy="754.1" r="7"/><circle cx="691.2" cy="560" r="7"/><circle cx="867.7" cy="616.8" r="7"/><circle cx="767.8" cy="527.5" r="7"/><circle cx="856.8" cy="848" r="7"/><circle cx="684.1" cy="244.3" r="7"/><circle cx="809.6" cy="633.5" r="7"/><circle cx="541.8" cy="332.7" r="7"/><circle cx="676.8" cy="1035.5" r="7"/><circle cx="386.6" cy="476.6" r="7"/><circle cx="918.4" cy="398.9" r="7"/><circle cx="712.5" cy="477.5" r="7"/><circle cx="460.6" cy="267.4" r="7"/><circle cx="657.9" cy="1004" r="7"/><circle cx="629.4" cy="1069.3" r="7"/><circle cx="364.3" cy="411.1" r="7"/><circle cx="430.8" cy="403.6" r="7"/><circle cx="1064.6" cy="391.3" r="7"/><circle cx="343.6" cy="486.4" r="7"/><circle cx="705.6" cy="771.2" r="7"/><circle cx="317.4" cy="370.8" r="7"/><circle cx="1022.6" cy="446.8" r="7"/><circle cx="579.8" cy="449.1" r="7"/><circle cx="752.5" cy="462.5" r="7"/><circle cx="806.3" cy="345.1" r="7"/><circle cx="1034.4" cy="488.1" r="7"/><circle cx="592" cy="987.7" r="7"/><circle cx="558.9" cy="934.3" r="7"/><circle cx="951.8" cy="818.8" r="7"/><circle cx="573.4" cy="520.9" r="7"/><circle cx="1025.8" cy="323.5" r="7"/><circle cx="380.1" cy="422" r="7"/><circle cx="600.3" cy="428.9" r="7"/><circle cx="747" cy="285.9" r="7"/><circle cx="863.5" cy="947.3" r="7"/><circle cx="617.3" cy="995.1" r="7"/><circle cx="864" cy="884.8" r="7"/><circle cx="942.4" cy="886.9" r="7"/><circle cx="842.5" cy="715.8" r="7"/><circle cx="936.1" cy="498.3" r="7"/><circle cx="752.3" cy="279" r="7"/><circle cx="852.8" cy="359.5" r="7"/><circle cx="561.3" cy="449.5" r="7"/><circle cx="521.1" cy="536.1" r="7"/><circle cx="1013.4" cy="262" r="7"/><circle cx="805.1" cy="456.6" r="7"/><circle cx="658.6" cy="848.1" r="7"/><circle cx="552.6" cy="270.7" r="7"/><circle cx="776.8" cy="607.8" r="7"/><circle cx="538.5" cy="452.6" r="7"/><circle cx="444.4" cy="296.1" r="7"/><circle cx="684.7" cy="664.7" r="7"/><circle cx="529.4" cy="209.8" r="7"/><circle cx="661.3" cy="1052.8" r="7"/><circle cx="807.6" cy="926.9" r="7"/><circle cx="895.1" cy="646.2" r="7"/><circle cx="562.5" cy="721.2" r="7"/><circle cx="503.2" cy="786.5" r="7"/><circle cx="578.8" cy="436.8" r="7"/><circle cx="589.3" cy="754.2" r="7"/><circle cx="818.8" cy="465" r="7"/><circle cx="615.9" cy="496.4" r="7"/><circle cx="839.6" cy="509.3" r="7"/><circle cx="393.8" cy="746.1" r="7"/><circle cx="497.4" cy="482.5" r="7"/><circle cx="525.6" cy="983.9" r="7"/><circle cx="544.6" cy="990.7" r="7"/><circle cx="583" cy="241.9" r="7"/><circle cx="397.7" cy="399.2" r="7"/><circle cx="689.8" cy="945.7" r="7"/><circle cx="962.6" cy="664.6" r="7"/><circle cx="443.3" cy="407.9" r="7"/><circle cx="582" cy="540.7" r="7"/><circle cx="831.7" cy="613.6" r="7"/><circle cx="592.5" cy="527.9" r="7"/><circle cx="438.1" cy="794" r="7"/><circle cx="934.3" cy="842.2" r="7"/><circle cx="775.7" cy="534.2" r="7"/><circle cx="665.7" cy="985.6" r="7"/><circle cx="906.2" cy="673.8" r="7"/><circle cx="498.9" cy="223.1" r="7"/><circle cx="888.6" cy="894.3" r="7"/><circle cx="670.1" cy="951" r="7"/><circle cx="620.6" cy="1073.2" r="7"/><circle cx="627.1" cy="271.1" r="7"/><circle cx="970.2" cy="642" r="7"/><circle cx="615.3" cy="531.3" r="7"/><circle cx="737.1" cy="693.2" r="7"/><circle cx="965" cy="633.4" r="7"/><circle cx="283.2" cy="398.4" r="7"/><circle cx="606.3" cy="951" r="7"/><circle cx="385.6" cy="414.7" r="7"/><circle cx="377.7" cy="799.5" r="7"/><circle cx="557.6" cy="208.9" r="7"/><circle cx="390" cy="464" r="7"/><circle cx="720.7" cy="1023.1" r="7"/><circle cx="637.6" cy="453.2" r="7"/><circle cx="416.7" cy="800.9" r="7"/><circle cx="907.2" cy="515.7" r="7"/><circle cx="639.8" cy="243.4" r="7"/><circle cx="626.4" cy="1058.3" r="7"/><circle cx="430.7" cy="285.8" r="7"/><circle cx="392.9" cy="823.5" r="7"/><circle cx="920" cy="661.2" r="7"/><circle cx="402.6" cy="347" r="7"/><circle cx="953.5" cy="439.2" r="7"/><circle cx="914.7" cy="791.5" r="7"/><circle cx="675.5" cy="324.9" r="7"/><circle cx="578.3" cy="473.2" r="7"/><circle cx="980.4" cy="333.5" r="7"/><circle cx="905.1" cy="940.7" r="7"/><circle cx="617.6" cy="1060.4" r="7"/><circle cx="429.4" cy="847.3" r="7"/><circle cx="908.9" cy="658.2" r="7"/><circle cx="557.4" cy="967.2" r="7"/><circle cx="569.6" cy="1015.1" r="7"/><circle cx="933.9" cy="407.2" r="7"/><circle cx="677" cy="459.4" r="7"/><circle cx="350" cy="258.4" r="7"/><circle cx="763.6" cy="954.4" r="7"/><circle cx="864.9" cy="907.4" r="7"/><circle cx="401.3" cy="340.6" r="7"/><circle cx="512.9" cy="254.7" r="7"/><circle cx="545" cy="1017.5" r="7"/><circle cx="871.9" cy="925.2" r="7"/><circle cx="941.3" cy="820.9" r="7"/><circle cx="525.5" cy="944.4" r="7"/><circle cx="586.5" cy="1077.4" r="7"/><circle cx="772.3" cy="713.5" r="7"/><circle cx="339.3" cy="313.1" r="7"/><circle cx="617.6" cy="930.9" r="7"/><circle cx="579.3" cy="949.6" r="7"/><circle cx="577.2" cy="283.1" r="7"/><circle cx="567.7" cy="768.8" r="7"/><circle cx="523.2" cy="937.4" r="7"/><circle cx="849.9" cy="867.1" r="7"/><circle cx="828" cy="636.7" r="7"/><circle cx="856.6" cy="892.1" r="7"/><circle cx="1082.3" cy="499.4" r="7"/><circle cx="978.1" cy="450" r="7"/><circle cx="950.3" cy="828.7" r="7"/><circle cx="597.6" cy="967.4" r="7"/><circle cx="618.1" cy="944.4" r="7"/><circle cx="999.9" cy="284.2" r="7"/><circle cx="499.3" cy="292" r="7"/><circle cx="905.6" cy="641.3" r="7"/><circle cx="405" cy="242.1" r="7"/><circle cx="443.6" cy="848.4" r="7"/><circle cx="578" cy="1016.1" r="7"/><circle cx="562.1" cy="534" r="7"/><circle cx="741.8" cy="521" r="7"/><circle cx="822.2" cy="632" r="7"/><circle cx="391.8" cy="274.7" r="7"/><circle cx="874.2" cy="864.5" r="7"/><circle cx="768.9" cy="949.7" r="7"/><circle cx="699.5" cy="1037.7" r="7"/><circle cx="521.7" cy="951.3" r="7"/><circle cx="906.7" cy="406.2" r="7"/><circle cx="540.2" cy="426.6" r="7"/><circle cx="430.4" cy="854.3" r="7"/><circle cx="603.5" cy="301.8" r="7"/><circle cx="673.7" cy="665.4" r="7"/><circle cx="410" cy="735" r="7"/><circle cx="574" cy="916.2" r="7"/><circle cx="371.9" cy="737.3" r="7"/><circle cx="596.2" cy="467.9" r="7"/><circle cx="383.8" cy="832" r="7"/><circle cx="1019.3" cy="320" r="7"/><circle cx="400.9" cy="815.2" r="7"/><circle cx="719.1" cy="446.8" r="7"/><circle cx="627.3" cy="771.4" r="7"/><circle cx="665.7" cy="956.4" r="7"/><circle cx="835.7" cy="912" r="7"/><circle cx="938.2" cy="797.2" r="7"/><circle cx="575.1" cy="286.6" r="7"/><circle cx="589.6" cy="1040.1" r="7"/><circle cx="634.8" cy="963.1" r="7"/><circle cx="867" cy="584.5" r="7"/><circle cx="706.6" cy="765.9" r="7"/><circle cx="509.2" cy="638" r="7"/><circle cx="528.4" cy="478.2" r="7"/><circle cx="433.2" cy="781.9" r="7"/><circle cx="903.1" cy="649" r="7"/><circle cx="493.3" cy="319.5" r="7"/><circle cx="378.6" cy="823.5" r="7"/><circle cx="607.4" cy="1022.7" r="7"/><circle cx="499" cy="787.7" r="7"/><circle cx="397.1" cy="736.1" r="7"/><circle cx="901.2" cy="894.9" r="7"/><circle cx="626.1" cy="492.9" r="7"/><circle cx="505.3" cy="789.6" r="7"/><circle cx="550.9" cy="276.9" r="7"/><circle cx="606.3" cy="1059.2" r="7"/><circle cx="280.3" cy="376.3" r="7"/><circle cx="768.9" cy="534.5" r="7"/><circle cx="350.1" cy="263" r="7"/><circle cx="455.5" cy="335.3" r="7"/><circle cx="510.8" cy="320" r="7"/><circle cx="588.8" cy="484.5" r="7"/><circle cx="863.7" cy="352.7" r="7"/><circle cx="679.3" cy="694" r="7"/><circle cx="992.5" cy="418.8" r="7"/><circle cx="681.3" cy="666.6" r="7"/><circle cx="546.2" cy="276" r="7"/><circle cx="883.6" cy="500.1" r="7"/><circle cx="392.2" cy="743.4" r="7"/><circle cx="708.2" cy="1055.2" r="7"/><circle cx="345.9" cy="505.4" r="7"/><circle cx="728.3" cy="621.6" r="7"/><circle cx="897.6" cy="641.2" r="7"/><circle cx="864.4" cy="547" r="7"/><circle cx="353" cy="511.9" r="7"/><circle cx="645.8" cy="1055.8" r="7"/><circle cx="933.5" cy="656.7" r="7"/><circle cx="977.3" cy="786.6" r="7"/><circle cx="559.8" cy="257.3" r="7"/><circle cx="397" cy="242.8" r="7"/><circle cx="907.8" cy="928.5" r="7"/><circle cx="537.8" cy="1031.8" r="7"/><circle cx="568.1" cy="799.2" r="7"/><circle cx="676.8" cy="300.5" r="7"/><circle cx="572.4" cy="904.5" r="7"/><circle cx="422.2" cy="788.1" r="7"/><circle cx="944.9" cy="663.4" r="7"/><circle cx="654.9" cy="859.4" r="7"/><circle cx="929.3" cy="633.8" r="7"/><circle cx="653.9" cy="222.4" r="7"/><circle cx="400" cy="790.8" r="7"/><circle cx="389.9" cy="813.6" r="7"/><circle cx="322.4" cy="474.9" r="7"/><circle cx="563.1" cy="963.8" r="7"/><circle cx="946.3" cy="884.6" r="7"/><circle cx="972.1" cy="801.7" r="7"/><circle cx="627" cy="246.9" r="7"/><circle cx="682.2" cy="1056" r="7"/><circle cx="428.2" cy="275.1" r="7"/><circle cx="339.7" cy="424.2" r="7"/><circle cx="651.5" cy="881.4" r="7"/><circle cx="598.5" cy="1027.4" r="7"/><circle cx="953.1" cy="871.4" r="7"/><circle cx="951.3" cy="496" r="7"/><circle cx="601.5" cy="949.9" r="7"/><circle cx="477" cy="291" r="7"/><circle cx="770.6" cy="810.8" r="7"/><circle cx="503.9" cy="985.8" r="7"/><circle cx="974.5" cy="793.1" r="7"/><circle cx="847.9" cy="427.5" r="7"/><circle cx="1008.9" cy="272.2" r="7"/><circle cx="765" cy="301.1" r="7"/><circle cx="1036.1" cy="301.8" r="7"/><circle cx="929" cy="403.3" r="7"/><circle cx="372.1" cy="365" r="7"/><circle cx="415.5" cy="327.7" r="7"/><circle cx="866.1" cy="603.6" r="7"/><circle cx="479.2" cy="352.1" r="7"/><circle cx="627.5" cy="695" r="7"/><circle cx="754.8" cy="908.6" r="7"/><circle cx="849.9" cy="710.9" r="7"/><circle cx="484.8" cy="232" r="7"/><circle cx="639.4" cy="467.7" r="7"/><circle cx="842.1" cy="926.1" r="7"/><circle cx="643.3" cy="227.8" r="7"/><circle cx="579" cy="299.5" r="7"/><circle cx="935.5" cy="634.4" r="7"/><circle cx="500.5" cy="517.9" r="7"/><circle cx="550.7" cy="288.4" r="7"/><circle cx="701.4" cy="458.4" r="7"/><circle cx="652" cy="989.4" r="7"/><circle cx="759.8" cy="526" r="7"/><circle cx="282.3" cy="388.6" r="7"/><circle cx="534.4" cy="230.2" r="7"/><circle cx="1060.3" cy="334.6" r="7"/><circle cx="366.8" cy="332.7" r="7"/><circle cx="412.2" cy="367.7" r="7"/><circle cx="792.4" cy="788.7" r="7"/><circle cx="833.6" cy="629.7" r="7"/><circle cx="835" cy="473.8" r="7"/><circle cx="703.6" cy="1065.2" r="7"/><circle cx="910.7" cy="835.7" r="7"/><circle cx="350.9" cy="543.6" r="7"/><circle cx="595.8" cy="447.6" r="7"/><circle cx="1059.6" cy="377.7" r="7"/><circle cx="871.1" cy="630.6" r="7"/><circle cx="799.3" cy="819.4" r="7"/><circle cx="1069" cy="401.1" r="7"/><circle cx="298.3" cy="296.3" r="7"/><circle cx="387.7" cy="550.3" r="7"/><circle cx="416.7" cy="287.1" r="7"/><circle cx="607.1" cy="1025.8" r="7"/><circle cx="603.7" cy="1026.8" r="7"/><circle cx="424.1" cy="793.2" r="7"/><circle cx="608" cy="271.2" r="7"/><circle cx="867.6" cy="373.6" r="7"/><circle cx="327.9" cy="809.8" r="7"/><circle cx="768.2" cy="350" r="7"/><circle cx="397.8" cy="556.3" r="7"/><circle cx="534.3" cy="478.2" r="7"/><circle cx="793.1" cy="460.5" r="7"/><circle cx="958.8" cy="849.6" r="7"/><circle cx="369.7" cy="270.8" r="7"/><circle cx="838.2" cy="857.4" r="7"/></g><g fill="#5379a6"><circle cx="792.5" cy="866.4" r="7"/><circle cx="797.8" cy="943.9" r="7"/><circle cx="941.5" cy="858.4" r="7"/><circle cx="392.6" cy="830.7" r="7"/><circle cx="644.1" cy="981.8" r="7"/><circle cx="674.1" cy="943.5" r="7"/><circle cx="886.3" cy="656.3" r="7"/><circle cx="767" cy="316.2" r="7"/><circle cx="1040.3" cy="305.8" r="7"/><circle cx="411.8" cy="814.7" r="7"/><circle cx="307.1" cy="375.1" r="7"/><circle cx="447.5" cy="236.2" r="7"/><circle cx="708.9" cy="736" r="7"/><circle cx="793.3" cy="901.3" r="7"/><circle cx="801.1" cy="635.8" r="7"/><circle cx="621.4" cy="290.5" r="7"/><circle cx="781.9" cy="811.9" r="7"/><circle cx="692.5" cy="741" r="7"/><circle cx="1050.7" cy="302.2" r="7"/><circle cx="357.7" cy="832.4" r="7"/><circle cx="770.3" cy="549.8" r="7"/><circle cx="727.9" cy="810" r="7"/><circle cx="722.1" cy="830.3" r="7"/><circle cx="346.5" cy="747.3" r="7"/><circle cx="637.6" cy="299.4" r="7"/><circle cx="644.8" cy="1050.6" r="7"/><circle cx="750.4" cy="315.7" r="7"/><circle cx="876.2" cy="414.8" r="7"/><circle cx="354.3" cy="748.4" r="7"/><circle cx="525.6" cy="955.3" r="7"/><circle cx="928.4" cy="867.1" r="7"/><circle cx="386.8" cy="545.8" r="7"/><circle cx="442.4" cy="797.1" r="7"/><circle cx="564.1" cy="995" r="7"/><circle cx="636.7" cy="522.6" r="7"/><circle cx="893.1" cy="312.2" r="7"/><circle cx="938" cy="332.7" r="7"/><circle cx="615.1" cy="998.5" r="7"/><circle cx="537.8" cy="1021.6" r="7"/><circle cx="1064.6" cy="390.8" r="7"/><circle cx="574.6" cy="454.5" r="7"/><circle cx="786.6" cy="953.5" r="7"/><circle cx="663.7" cy="295.3" r="7"/><circle cx="430.5" cy="729.8" r="7"/><circle cx="566.4" cy="1057.3" r="7"/><circle cx="410.2" cy="779.5" r="7"/><circle cx="633.1" cy="696.2" r="7"/><circle cx="1032" cy="333" r="7"/><circle cx="742.4" cy="429.9" r="7"/><circle cx="804.2" cy="759.6" r="7"/><circle cx="912.4" cy="890.9" r="7"/><circle cx="745.6" cy="509.3" r="7"/><circle cx="957" cy="863.4" r="7"/><circle cx="604.3" cy="535.4" r="7"/><circle cx="799.9" cy="276.4" r="7"/><circle cx="429.6" cy="256.9" r="7"/><circle cx="459.1" cy="230.1" r="7"/><circle cx="313" cy="389.2" r="7"/><circle cx="953.5" cy="418.3" r="7"/><circle cx="414" cy="857.6" r="7"/><circle cx="995.2" cy="457.8" r="7"/><circle cx="909" cy="687.9" r="7"/><circle cx="635.3" cy="420.6" r="7"/><circle cx="400.9" cy="837.4" r="7"/><circle cx="658.9" cy="496" r="7"/><circle cx="544.9" cy="992.2" r="7"/><circle cx="543.7" cy="527.3" r="7"/><circle cx="369" cy="284.6" r="7"/><circle cx="1046.8" cy="308.2" r="7"/><circle cx="1066.7" cy="355.6" r="7"/><circle cx="401.9" cy="538.7" r="7"/><circle cx="976.5" cy="868.2" r="7"/><circle cx="652.7" cy="241.3" r="7"/><circle cx="897.3" cy="652.3" r="7"/><circle cx="632.7" cy="224.1" r="7"/><circle cx="688.1" cy="355.6" r="7"/><circle cx="428.7" cy="787" r="7"/><circle cx="653" cy="926.5" r="7"/><circle cx="987.6" cy="831.2" r="7"/><circle cx="967.7" cy="778.3" r="7"/><circle cx="813.2" cy="732.4" r="7"/><circle cx="581.7" cy="1069.4" r="7"/><circle cx="713.2" cy="513" r="7"/><circle cx="433.6" cy="347.3" r="7"/><circle cx="333.2" cy="565.1" r="7"/><circle cx="630.2" cy="204.3" r="7"/><circle cx="517.6" cy="894.9" r="7"/><circle cx="520.7" cy="933.6" r="7"/><circle cx="761.3" cy="263.9" r="7"/><circle cx="365.6" cy="246.6" r="7"/><circle cx="594" cy="862.1" r="7"/><circle cx="508.1" cy="970" r="7"/><circle cx="599.2" cy="420.8" r="7"/><circle cx="531.4" cy="351.7" r="7"/><circle cx="927.3" cy="861.3" r="7"/><circle cx="973.9" cy="421.3" r="7"/><circle cx="1061.9" cy="301.8" r="7"/><circle cx="727.5" cy="721.5" r="7"/><circle cx="853.8" cy="455" r="7"/><circle cx="955.1" cy="838.1" r="7"/><circle cx="527.5" cy="907.2" r="7"/><circle cx="490.8" cy="929.2" r="7"/><circle cx="724.9" cy="236.2" r="7"/><circle cx="707.7" cy="1045.9" r="7"/><circle cx="929.1" cy="925.9" r="7"/><circle cx="324.1" cy="530.7" r="7"/><circle cx="800.6" cy="748.1" r="7"/><circle cx="420.7" cy="400.6" r="7"/><circle cx="995" cy="312" r="7"/><circle cx="576.3" cy="508.9" r="7"/><circle cx="358.5" cy="410.3" r="7"/><circle cx="716.3" cy="1022.5" r="7"/><circle cx="311.8" cy="456" r="7"/><circle cx="603.6" cy="1013.4" r="7"/><circle cx="366.9" cy="740.2" r="7"/><circle cx="412.5" cy="803.1" r="7"/><circle cx="847.4" cy="572.8" r="7"/><circle cx="351.8" cy="750.4" r="7"/><circle cx="628.7" cy="535.6" r="7"/><circle cx="863.2" cy="636.2" r="7"/><circle cx="388.7" cy="819.4" r="7"/><circle cx="669.6" cy="729.5" r="7"/><circle cx="412.3" cy="287.9" r="7"/><circle cx="625" cy="679.1" r="7"/><circle cx="776.5" cy="306.3" r="7"/><circle cx="891.2" cy="327" r="7"/><circle cx="734.6" cy="265.3" r="7"/><circle cx="354.7" cy="760.3" r="7"/><circle cx="753.3" cy="618.7" r="7"/><circle cx="923.2" cy="431.4" r="7"/><circle cx="507.6" cy="986.6" r="7"/><circle cx="629.2" cy="270.5" r="7"/><circle cx="468.9" cy="853.5" r="7"/><circle cx="592.8" cy="1016" r="7"/><circle cx="590.3" cy="903.5" r="7"/><circle cx="693.6" cy="1060.8" r="7"/><circle cx="618.9" cy="247.1" r="7"/><circle cx="741.7" cy="517.6" r="7"/><circle cx="656.4" cy="960.6" r="7"/><circle cx="894.7" cy="634.8" r="7"/><circle cx="827.9" cy="308.7" r="7"/><circle cx="453.4" cy="324.7" r="7"/><circle cx="386.8" cy="803.3" r="7"/><circle cx="492.4" cy="294.3" r="7"/><circle cx="1037.4" cy="271.4" r="7"/><circle cx="423.6" cy="798.1" r="7"/><circle cx="329" cy="573.3" r="7"/><circle cx="995.1" cy="320.3" r="7"/><circle cx="591.2" cy="655" r="7"/><circle cx="427.6" cy="837.8" r="7"/><circle cx="512.4" cy="925.4" r="7"/><circle cx="859.2" cy="824.3" r="7"/><circle cx="899.8" cy="629.7" r="7"/><circle cx="628.9" cy="1021" r="7"/><circle cx="877.9" cy="524.3" r="7"/><circle cx="281.4" cy="401.9" r="7"/><circle cx="689.4" cy="390.1" r="7"/><circle cx="293.5" cy="345.5" r="7"/><circle cx="732" cy="435.4" r="7"/><circle cx="435.1" cy="804" r="7"/><circle cx="600.9" cy="440.9" r="7"/><circle cx="361.9" cy="376" r="7"/><circle cx="501.9" cy="257.8" r="7"/><circle cx="587.6" cy="469.2" r="7"/><circle cx="832.4" cy="340.7" r="7"/><circle cx="517.4" cy="518.7" r="7"/><circle cx="598.3" cy="422" r="7"/><circle cx="922.3" cy="426" r="7"/><circle cx="756.7" cy="1033.7" r="7"/><circle cx="628.6" cy="418.9" r="7"/><circle cx="909" cy="631.2" r="7"/><circle cx="499.1" cy="343.8" r="7"/><circle cx="829" cy="905.1" r="7"/><circle cx="659.9" cy="1075.8" r="7"/><circle cx="464.6" cy="336.4" r="7"/><circle cx="417.5" cy="828.2" r="7"/><circle cx="982.2" cy="818.9" r="7"/><circle cx="552.9" cy="964.5" r="7"/><circle cx="1010.5" cy="266.1" r="7"/><circle cx="863.3" cy="897.1" r="7"/><circle cx="459.3" cy="289.3" r="7"/><circle cx="548.3" cy="1049" r="7"/><circle cx="597.7" cy="505.4" r="7"/><circle cx="551.5" cy="914.1" r="7"/><circle cx="560.4" cy="527.7" r="7"/><circle cx="632" cy="294.5" r="7"/><circle cx="952.7" cy="322.4" r="7"/><circle cx="535.4" cy="1027.3" r="7"/><circle cx="1004.8" cy="292.7" r="7"/><circle cx="887" cy="632.4" r="7"/><circle cx="287.7" cy="380.7" r="7"/><circle cx="332.8" cy="371.4" r="7"/><circle cx="628.5" cy="1040.8" r="7"/><circle cx="515" cy="506.8" r="7"/><circle cx="522.5" cy="930.8" r="7"/><circle cx="491.6" cy="316.7" r="7"/><circle cx="864.1" cy="505.5" r="7"/><circle cx="461.9" cy="284.2" r="7"/><circle cx="404.6" cy="268.1" r="7"/><circle cx="588.9" cy="299.8" r="7"/><circle cx="909.2" cy="652.2" r="7"/><circle cx="292.3" cy="905.9" r="7"/><circle cx="778.3" cy="483.3" r="7"/><circle cx="888.4" cy="839.4" r="7"/><circle cx="490.7" cy="911.5" r="7"/><circle cx="305" cy="505" r="7"/><circle cx="562.8" cy="303.6" r="7"/><circle cx="415" cy="745" r="7"/><circle cx="598.9" cy="571.6" r="7"/><circle cx="408.9" cy="809.7" r="7"/><circle cx="1010.6" cy="810.9" r="7"/><circle cx="663.6" cy="955.9" r="7"/><circle cx="752.8" cy="544.2" r="7"/><circle cx="942.7" cy="507.5" r="7"/><circle cx="418.4" cy="837.7" r="7"/><circle cx="495.9" cy="903.2" r="7"/><circle cx="488.6" cy="311.9" r="7"/><circle cx="220.3" cy="383.4" r="7"/><circle cx="826.5" cy="436.3" r="7"/><circle cx="563.3" cy="1008.4" r="7"/><circle cx="730.8" cy="1030.9" r="7"/><circle cx="436.7" cy="221.6" r="7"/><circle cx="629.6" cy="481.5" r="7"/><circle cx="1039.5" cy="476.1" r="7"/><circle cx="683.9" cy="222.4" r="7"/><circle cx="805.8" cy="910.7" r="7"/><circle cx="446.7" cy="434.1" r="7"/><circle cx="665.5" cy="985.7" r="7"/><circle cx="610.2" cy="548.4" r="7"/><circle cx="773.4" cy="869.8" r="7"/><circle cx="657.2" cy="1039" r="7"/><circle cx="377.7" cy="370.6" r="7"/><circle cx="1024.7" cy="299" r="7"/><circle cx="653.5" cy="476.2" r="7"/><circle cx="963.4" cy="834.3" r="7"/><circle cx="767.7" cy="868.3" r="7"/><circle cx="1054.7" cy="351.1" r="7"/><circle cx="912.1" cy="901" r="7"/><circle cx="544.1" cy="1037.5" r="7"/><circle cx="401.1" cy="833.8" r="7"/><circle cx="525.9" cy="322.8" r="7"/><circle cx="891.1" cy="601.3" r="7"/><circle cx="690.9" cy="226.9" r="7"/><circle cx="756" cy="859.9" r="7"/><circle cx="1048.4" cy="295.8" r="7"/><circle cx="866.8" cy="646.1" r="7"/><circle cx="361.9" cy="841.6" r="7"/><circle cx="909.1" cy="664.8" r="7"/><circle cx="596.1" cy="437.5" r="7"/><circle cx="564.9" cy="249.9" r="7"/><circle cx="638.2" cy="697.7" r="7"/><circle cx="456.1" cy="285.9" r="7"/><circle cx="497.2" cy="892.4" r="7"/><circle cx="643.7" cy="499" r="7"/><circle cx="733.7" cy="485.7" r="7"/><circle cx="399" cy="827.7" r="7"/><circle cx="391.3" cy="459.2" r="7"/><circle cx="650.9" cy="752.6" r="7"/><circle cx="868.8" cy="637.6" r="7"/><circle cx="612.5" cy="485" r="7"/><circle cx="629.3" cy="475.8" r="7"/><circle cx="694.5" cy="1014.1" r="7"/><circle cx="631.2" cy="445.1" r="7"/><circle cx="573.8" cy="241.4" r="7"/><circle cx="882.1" cy="653.7" r="7"/><circle cx="966.5" cy="323.8" r="7"/><circle cx="806.2" cy="314" r="7"/><circle cx="709.8" cy="305" r="7"/><circle cx="800.9" cy="901" r="7"/><circle cx="827.9" cy="286.1" r="7"/><circle cx="889.5" cy="645.5" r="7"/><circle cx="358.2" cy="578.5" r="7"/><circle cx="806.2" cy="902.5" r="7"/><circle cx="512.6" cy="290.4" r="7"/><circle cx="855" cy="431.2" r="7"/><circle cx="422.9" cy="773.6" r="7"/><circle cx="791.8" cy="497.1" r="7"/><circle cx="940.5" cy="309.2" r="7"/><circle cx="728.1" cy="842.5" r="7"/><circle cx="370.5" cy="558.3" r="7"/><circle cx="339.6" cy="469.5" r="7"/><circle cx="657.1" cy="261.3" r="7"/><circle cx="760.9" cy="931.3" r="7"/><circle cx="327.9" cy="444.2" r="7"/><circle cx="914" cy="902.5" r="7"/><circle cx="894.7" cy="844.1" r="7"/><circle cx="395.4" cy="335.8" r="7"/><circle cx="894.2" cy="878.7" r="7"/><circle cx="521.4" cy="328.8" r="7"/><circle cx="722.4" cy="1038.3" r="7"/><circle cx="852" cy="519.8" r="7"/><circle cx="642" cy="332.2" r="7"/><circle cx="608.4" cy="564.9" r="7"/><circle cx="320.9" cy="346.8" r="7"/><circle cx="1034" cy="288.1" r="7"/><circle cx="571.7" cy="305.5" r="7"/><circle cx="446.2" cy="801.2" r="7"/><circle cx="418.9" cy="815.2" r="7"/><circle cx="588.3" cy="997.5" r="7"/><circle cx="597" cy="220.2" r="7"/><circle cx="306.6" cy="338.6" r="7"/><circle cx="1046.2" cy="411.2" r="7"/><circle cx="321.6" cy="538.2" r="7"/><circle cx="333.7" cy="291.1" r="7"/><circle cx="533.6" cy="868.4" r="7"/><circle cx="487" cy="911" r="7"/><circle cx="814.8" cy="877.8" r="7"/><circle cx="961.1" cy="576" r="7"/><circle cx="605.2" cy="272" r="7"/><circle cx="604.5" cy="825.3" r="7"/><circle cx="1022.2" cy="276.7" r="7"/><circle cx="666.1" cy="853.1" r="7"/><circle cx="435" cy="247.5" r="7"/><circle cx="354.1" cy="430.3" r="7"/><circle cx="276.3" cy="407.8" r="7"/><circle cx="630" cy="699.8" r="7"/><circle cx="747.7" cy="615.5" r="7"/><circle cx="625" cy="1041.6" r="7"/><circle cx="883.4" cy="644" r="7"/><circle cx="667.8" cy="950.8" r="7"/><circle cx="341.8" cy="280.9" r="7"/><circle cx="1018.5" cy="344.7" r="7"/><circle cx="880" cy="453.8" r="7"/><circle cx="303.9" cy="463.4" r="7"/><circle cx="889.3" cy="603.9" r="7"/><circle cx="674.7" cy="236.2" r="7"/><circle cx="794.3" cy="925.3" r="7"/><circle cx="1072.3" cy="464.4" r="7"/><circle cx="690.5" cy="304" r="7"/><circle cx="375.8" cy="819.3" r="7"/><circle cx="375.3" cy="827.4" r="7"/><circle cx="456" cy="847.7" r="7"/><circle cx="622.5" cy="363.8" r="7"/><circle cx="465.6" cy="358.7" r="7"/><circle cx="589.2" cy="427" r="7"/><circle cx="424.8" cy="706.8" r="7"/><circle cx="394" cy="777.9" r="7"/><circle cx="935.5" cy="831.6" r="7"/><circle cx="403.6" cy="846.1" r="7"/><circle cx="423.3" cy="736.3" r="7"/><circle cx="612.2" cy="551.1" r="7"/><circle cx="734.8" cy="860.7" r="7"/><circle cx="487.3" cy="299.6" r="7"/><circle cx="906.4" cy="433" r="7"/><circle cx="600.4" cy="1017.5" r="7"/><circle cx="892.5" cy="645.2" r="7"/><circle cx="512.4" cy="362.7" r="7"/><circle cx="787" cy="523.8" r="7"/><circle cx="693.4" cy="751.8" r="7"/><circle cx="880.6" cy="629.8" r="7"/><circle cx="398.6" cy="842.1" r="7"/><circle cx="653.4" cy="967.7" r="7"/><circle cx="728.4" cy="1019.3" r="7"/><circle cx="565.1" cy="993.9" r="7"/><circle cx="1034.3" cy="471.8" r="7"/><circle cx="406.4" cy="232.1" r="7"/><circle cx="358.2" cy="837.6" r="7"/><circle cx="869.2" cy="652.2" r="7"/><circle cx="899.9" cy="430.1" r="7"/><circle cx="650.5" cy="966.7" r="7"/><circle cx="366" cy="816" r="7"/><circle cx="645.5" cy="944" r="7"/><circle cx="573.5" cy="546" r="7"/><circle cx="620" cy="919.9" r="7"/><circle cx="797.2" cy="905.6" r="7"/><circle cx="358.3" cy="575.6" r="7"/><circle cx="569" cy="1028.5" r="7"/><circle cx="672.3" cy="1040.6" r="7"/><circle cx="442.6" cy="274.4" r="7"/><circle cx="901.3" cy="603.8" r="7"/><circle cx="301.7" cy="296.5" r="7"/><circle cx="834.7" cy="573.7" r="7"/><circle cx="364.9" cy="333" r="7"/><circle cx="517.6" cy="919.1" r="7"/><circle cx="894.7" cy="666.8" r="7"/><circle cx="364.5" cy="821.7" r="7"/><circle cx="734.5" cy="731" r="7"/><circle cx="796.9" cy="733.2" r="7"/><circle cx="388.7" cy="737.6" r="7"/><circle cx="381" cy="831.1" r="7"/><circle cx="842.3" cy="512.7" r="7"/><circle cx="575.9" cy="951.6" r="7"/><circle cx="336.2" cy="262.4" r="7"/><circle cx="460.1" cy="364.3" r="7"/><circle cx="1058.5" cy="371" r="7"/><circle cx="396.5" cy="814.2" r="7"/><circle cx="568.1" cy="908.9" r="7"/><circle cx="370.8" cy="745.7" r="7"/><circle cx="537.3" cy="950.5" r="7"/><circle cx="651.4" cy="936.4" r="7"/><circle cx="1000.5" cy="311.9" r="7"/><circle cx="582.4" cy="970.5" r="7"/><circle cx="590.6" cy="352.5" r="7"/><circle cx="859.7" cy="870.4" r="7"/><circle cx="754.3" cy="555.3" r="7"/><circle cx="387.5" cy="759.9" r="7"/><circle cx="544.6" cy="965.3" r="7"/><circle cx="570.8" cy="1006.8" r="7"/><circle cx="713.8" cy="1016.5" r="7"/><circle cx="686.2" cy="366.9" r="7"/><circle cx="574.5" cy="1009.8" r="7"/><circle cx="564.6" cy="1058.7" r="7"/><circle cx="626.9" cy="811.8" r="7"/><circle cx="796.6" cy="724.9" r="7"/><circle cx="663.4" cy="989.6" r="7"/><circle cx="494.5" cy="305.6" r="7"/><circle cx="874.7" cy="794.7" r="7"/><circle cx="408" cy="346.3" r="7"/><circle cx="622.5" cy="698.3" r="7"/><circle cx="697.1" cy="388.7" r="7"/><circle cx="401.7" cy="774.9" r="7"/><circle cx="720.5" cy="619.8" r="7"/><circle cx="625.1" cy="468" r="7"/><circle cx="646.2" cy="750.8" r="7"/><circle cx="311.4" cy="340.5" r="7"/><circle cx="700.2" cy="1064.6" r="7"/><circle cx="884.7" cy="383.5" r="7"/><circle cx="646.9" cy="929.3" r="7"/><circle cx="884" cy="891.6" r="7"/><circle cx="486.1" cy="370.7" r="7"/><circle cx="394.9" cy="438.3" r="7"/><circle cx="932.9" cy="501.8" r="7"/><circle cx="576.4" cy="901.6" r="7"/><circle cx="891.6" cy="608.4" r="7"/><circle cx="523.1" cy="919.6" r="7"/><circle cx="716" cy="1027.2" r="7"/><circle cx="639.9" cy="282.9" r="7"/><circle cx="463.3" cy="403.1" r="7"/><circle cx="760.7" cy="277.2" r="7"/><circle cx="496" cy="990.3" r="7"/><circle cx="773.2" cy="485.2" r="7"/><circle cx="636.4" cy="938.3" r="7"/><circle cx="901.7" cy="822.4" r="7"/><circle cx="571.9" cy="388.1" r="7"/><circle cx="932.8" cy="425.7" r="7"/><circle cx="366" cy="328.4" r="7"/><circle cx="910.3" cy="670.4" r="7"/><circle cx="676.9" cy="231.8" r="7"/><circle cx="436.8" cy="799.2" r="7"/><circle cx="445" cy="264.6" r="7"/><circle cx="523.8" cy="264" r="7"/><circle cx="896.3" cy="922.7" r="7"/><circle cx="531.6" cy="937" r="7"/><circle cx="541.4" cy="1004.8" r="7"/><circle cx="650.3" cy="1027.4" r="7"/><circle cx="527.7" cy="271.4" r="7"/><circle cx="415" cy="269.8" r="7"/><circle cx="862.9" cy="855.5" r="7"/><circle cx="999.9" cy="777" r="7"/><circle cx="390.5" cy="763.1" r="7"/><circle cx="921.4" cy="894.6" r="7"/><circle cx="711.3" cy="669" r="7"/><circle cx="662.1" cy="998.6" r="7"/><circle cx="587" cy="265.5" r="7"/><circle cx="633.3" cy="950.5" r="7"/><circle cx="684.7" cy="1058.7" r="7"/><circle cx="358" cy="357.4" r="7"/><circle cx="612.7" cy="255.2" r="7"/><circle cx="378.4" cy="570" r="7"/><circle cx="362.9" cy="527.8" r="7"/><circle cx="1031.6" cy="444.6" r="7"/><circle cx="873.9" cy="654.1" r="7"/><circle cx="804.5" cy="324.7" r="7"/><circle cx="681.1" cy="443.7" r="7"/><circle cx="763.3" cy="320.9" r="7"/><circle cx="430.8" cy="276.4" r="7"/><circle cx="893.2" cy="427.7" r="7"/><circle cx="905.1" cy="593" r="7"/><circle cx="357.7" cy="482.2" r="7"/><circle cx="404.7" cy="357.9" r="7"/><circle cx="856.3" cy="854.5" r="7"/><circle cx="885.9" cy="395.1" r="7"/><circle cx="898.3" cy="678.4" r="7"/><circle cx="608.9" cy="924.4" r="7"/><circle cx="508.9" cy="209.2" r="7"/><circle cx="884.8" cy="943.1" r="7"/><circle cx="992.8" cy="799.1" r="7"/><circle cx="775.8" cy="545.2" r="7"/><circle cx="727.9" cy="292.2" r="7"/><circle cx="370.3" cy="315.7" r="7"/><circle cx="391.4" cy="801.5" r="7"/><circle cx="427.5" cy="358.8" r="7"/><circle cx="632.4" cy="965.1" r="7"/><circle cx="764.5" cy="308.1" r="7"/><circle cx="946" cy="907.6" r="7"/><circle cx="548.3" cy="516.7" r="7"/><circle cx="889.1" cy="927.8" r="7"/><circle cx="407.3" cy="832.7" r="7"/><circle cx="590.1" cy="437.3" r="7"/><circle cx="417.9" cy="369.7" r="7"/><circle cx="508.5" cy="332.7" r="7"/><circle cx="369.8" cy="404.1" r="7"/><circle cx="316.8" cy="355.7" r="7"/><circle cx="705" cy="251.6" r="7"/><circle cx="575.2" cy="308.7" r="7"/><circle cx="571.1" cy="943" r="7"/><circle cx="762.5" cy="546.1" r="7"/><circle cx="551.4" cy="507.4" r="7"/><circle cx="942" cy="883.2" r="7"/><circle cx="901.7" cy="669.1" r="7"/><circle cx="884.1" cy="494.4" r="7"/><circle cx="417.6" cy="366.1" r="7"/><circle cx="534.7" cy="450" r="7"/><circle cx="511.3" cy="497.7" r="7"/><circle cx="854" cy="581.3" r="7"/><circle cx="1015.6" cy="266.8" r="7"/><circle cx="778.5" cy="828.4" r="7"/><circle cx="935.3" cy="581.8" r="7"/><circle cx="328.3" cy="540.3" r="7"/><circle cx="575.9" cy="1017.9" r="7"/><circle cx="637.7" cy="719.7" r="7"/><circle cx="627.8" cy="977.1" r="7"/><circle cx="761.1" cy="923.2" r="7"/><circle cx="688.6" cy="1008.2" r="7"/><circle cx="782.7" cy="504.8" r="7"/><circle cx="469.2" cy="314.2" r="7"/><circle cx="893.1" cy="655.5" r="7"/><circle cx="639.5" cy="243.8" r="7"/><circle cx="630.9" cy="467.2" r="7"/><circle cx="709.3" cy="1034.2" r="7"/><circle cx="335.3" cy="511.4" r="7"/><circle cx="720.9" cy="308" r="7"/><circle cx="693.1" cy="444.2" r="7"/><circle cx="556.7" cy="944.2" r="7"/><circle cx="612.5" cy="956.1" r="7"/><circle cx="429.3" cy="783.5" r="7"/><circle cx="911" cy="830.5" r="7"/><circle cx="917" cy="523.2" r="7"/><circle cx="545.3" cy="1046.3" r="7"/><circle cx="630.6" cy="956.3" r="7"/><circle cx="873.8" cy="857.8" r="7"/><circle cx="544.8" cy="222.5" r="7"/><circle cx="532.4" cy="583.3" r="7"/><circle cx="427.9" cy="707.8" r="7"/><circle cx="295" cy="465.8" r="7"/><circle cx="594.3" cy="424.7" r="7"/><circle cx="414" cy="794.7" r="7"/><circle cx="680.7" cy="1060.6" r="7"/><circle cx="608.3" cy="1048.8" r="7"/><circle cx="760.4" cy="501.1" r="7"/><circle cx="853.2" cy="384.8" r="7"/><circle cx="779.4" cy="516.4" r="7"/><circle cx="586.5" cy="307.5" r="7"/><circle cx="958" cy="421.2" r="7"/><circle cx="590.8" cy="234.6" r="7"/><circle cx="946.2" cy="322.9" r="7"/><circle cx="700" cy="1071.3" r="7"/><circle cx="621.6" cy="991.4" r="7"/><circle cx="492" cy="923.1" r="7"/><circle cx="683.3" cy="1072" r="7"/><circle cx="690.5" cy="445.1" r="7"/><circle cx="888.4" cy="928.8" r="7"/><circle cx="871.8" cy="560.7" r="7"/><circle cx="591.2" cy="978.5" r="7"/><circle cx="1011.6" cy="471.5" r="7"/><circle cx="652.6" cy="987.8" r="7"/><circle cx="990.7" cy="814.5" r="7"/><circle cx="586.2" cy="969.8" r="7"/><circle cx="888.3" cy="662.2" r="7"/><circle cx="559.5" cy="968.9" r="7"/><circle cx="937.6" cy="394" r="7"/><circle cx="619.1" cy="711.2" r="7"/><circle cx="338.1" cy="792.6" r="7"/><circle cx="541" cy="1034.8" r="7"/><circle cx="874.1" cy="823.3" r="7"/><circle cx="855.2" cy="903.8" r="7"/><circle cx="337.1" cy="487.8" r="7"/><circle cx="533.1" cy="954.4" r="7"/><circle cx="239" cy="386" r="7"/><circle cx="564.8" cy="470.4" r="7"/><circle cx="536.8" cy="1016.5" r="7"/><circle cx="784.2" cy="269.9" r="7"/><circle cx="542.5" cy="255.4" r="7"/><circle cx="894" cy="377.5" r="7"/><circle cx="867.4" cy="355.8" r="7"/><circle cx="775.7" cy="539.8" r="7"/><circle cx="362" cy="485.5" r="7"/><circle cx="871.4" cy="568.8" r="7"/><circle cx="868.6" cy="620.1" r="7"/><circle cx="630" cy="408.8" r="7"/><circle cx="627.2" cy="981.1" r="7"/><circle cx="905.9" cy="521.2" r="7"/><circle cx="777.7" cy="491.3" r="7"/><circle cx="540.3" cy="315.7" r="7"/><circle cx="1056.2" cy="361.8" r="7"/><circle cx="546.1" cy="224.1" r="7"/><circle cx="911.3" cy="422.5" r="7"/><circle cx="994.4" cy="301.9" r="7"/><circle cx="397.9" cy="305.1" r="7"/><circle cx="283" cy="319.4" r="7"/><circle cx="615.1" cy="945" r="7"/><circle cx="414.1" cy="821.1" r="7"/><circle cx="364.5" cy="796.7" r="7"/><circle cx="904.8" cy="935.2" r="7"/><circle cx="299.1" cy="386.4" r="7"/><circle cx="523.8" cy="439.2" r="7"/><circle cx="625.9" cy="444.1" r="7"/><circle cx="514.4" cy="204" r="7"/><circle cx="390.5" cy="484.2" r="7"/><circle cx="593.1" cy="249.9" r="7"/><circle cx="848.2" cy="928.8" r="7"/><circle cx="631.3" cy="954" r="7"/><circle cx="910.3" cy="923.7" r="7"/><circle cx="526.4" cy="482.2" r="7"/><circle cx="734.2" cy="229.1" r="7"/><circle cx="921.4" cy="635.8" r="7"/><circle cx="1057.7" cy="321.5" r="7"/><circle cx="738.3" cy="439.5" r="7"/><circle cx="540.4" cy="220.7" r="7"/><circle cx="891.9" cy="879.2" r="7"/><circle cx="652.1" cy="934.8" r="7"/><circle cx="1025.1" cy="461.1" r="7"/><circle cx="641.5" cy="425.5" r="7"/><circle cx="581.2" cy="936.3" r="7"/><circle cx="511.8" cy="790.9" r="7"/><circle cx="879.1" cy="673.5" r="7"/><circle cx="926.6" cy="671.8" r="7"/><circle cx="507.9" cy="276.6" r="7"/><circle cx="936.3" cy="824.7" r="7"/><circle cx="843.8" cy="711.1" r="7"/><circle cx="894.5" cy="656" r="7"/><circle cx="657.7" cy="453.3" r="7"/><circle cx="453.6" cy="272.9" r="7"/><circle cx="351.2" cy="394.1" r="7"/><circle cx="667" cy="759" r="7"/><circle cx="514.1" cy="894.3" r="7"/><circle cx="895.9" cy="431.5" r="7"/><circle cx="345" cy="269.7" r="7"/><circle cx="549.8" cy="1030" r="7"/><circle cx="454.1" cy="404.2" r="7"/><circle cx="388.8" cy="362" r="7"/><circle cx="831.8" cy="697.1" r="7"/><circle cx="890.1" cy="649.1" r="7"/><circle cx="677.3" cy="991.7" r="7"/><circle cx="975.5" cy="316.7" r="7"/><circle cx="577.3" cy="995.2" r="7"/><circle cx="525" cy="827.5" r="7"/><circle cx="368.1" cy="435.7" r="7"/><circle cx="376.4" cy="335.2" r="7"/><circle cx="887.1" cy="679.4" r="7"/><circle cx="422.3" cy="325.3" r="7"/><circle cx="916.8" cy="873.7" r="7"/><circle cx="790.3" cy="776.6" r="7"/><circle cx="670.4" cy="942.5" r="7"/><circle cx="884" cy="820.8" r="7"/><circle cx="797.1" cy="840.7" r="7"/><circle cx="500.8" cy="314.9" r="7"/><circle cx="953" cy="805.8" r="7"/><circle cx="566.8" cy="283.8" r="7"/><circle cx="891.1" cy="331.8" r="7"/><circle cx="813.5" cy="907.3" r="7"/><circle cx="761.7" cy="528.5" r="7"/><circle cx="290.4" cy="368" r="7"/><circle cx="514.6" cy="900.1" r="7"/><circle cx="536.4" cy="250.9" r="7"/><circle cx="506.7" cy="359.6" r="7"/><circle cx="505.9" cy="980.6" r="7"/><circle cx="286" cy="410.2" r="7"/><circle cx="638.4" cy="506.7" r="7"/><circle cx="565.1" cy="988.8" r="7"/><circle cx="359.9" cy="346.4" r="7"/><circle cx="567.6" cy="998.7" r="7"/><circle cx="904.3" cy="332.1" r="7"/><circle cx="767.5" cy="916.1" r="7"/><circle cx="967.8" cy="648.5" r="7"/><circle cx="628.1" cy="213.5" r="7"/><circle cx="1043.6" cy="473.6" r="7"/><circle cx="622.5" cy="1043.2" r="7"/><circle cx="519" cy="942.9" r="7"/><circle cx="360.3" cy="388" r="7"/><circle cx="1028.5" cy="487.9" r="7"/><circle cx="627.1" cy="542.2" r="7"/><circle cx="831.3" cy="923.9" r="7"/><circle cx="1043.6" cy="454.3" r="7"/><circle cx="964.1" cy="304.7" r="7"/><circle cx="643" cy="323.8" r="7"/><circle cx="551.2" cy="465.5" r="7"/><circle cx="681.9" cy="1020.6" r="7"/><circle cx="821.8" cy="933.4" r="7"/><circle cx="645.3" cy="445.3" r="7"/><circle cx="568.3" cy="1021.3" r="7"/><circle cx="779.4" cy="504.3" r="7"/><circle cx="1038.5" cy="450" r="7"/><circle cx="900.3" cy="288.3" r="7"/><circle cx="417.4" cy="790.3" r="7"/><circle cx="572.3" cy="891.3" r="7"/><circle cx="817.2" cy="856" r="7"/><circle cx="585.5" cy="498.8" r="7"/><circle cx="946.7" cy="800.1" r="7"/><circle cx="982.6" cy="300.8" r="7"/><circle cx="527.6" cy="922.7" r="7"/><circle cx="745.6" cy="878" r="7"/><circle cx="341.7" cy="548.4" r="7"/><circle cx="625" cy="955.4" r="7"/><circle cx="647.9" cy="274.1" r="7"/><circle cx="1010.2" cy="301.7" r="7"/><circle cx="704.5" cy="877.5" r="7"/><circle cx="570.6" cy="528.5" r="7"/><circle cx="897.7" cy="866.9" r="7"/><circle cx="677.2" cy="293.3" r="7"/><circle cx="364" cy="378.3" r="7"/><circle cx="935.9" cy="428.2" r="7"/><circle cx="344" cy="250.2" r="7"/><circle cx="577.3" cy="978.5" r="7"/><circle cx="533" cy="927.8" r="7"/><circle cx="533.7" cy="233.8" r="7"/><circle cx="715" cy="1020.5" r="7"/><circle cx="553.8" cy="244.7" r="7"/><circle cx="597.6" cy="247.1" r="7"/><circle cx="908.6" cy="496" r="7"/><circle cx="635.2" cy="480" r="7"/><circle cx="628.8" cy="953.3" r="7"/><circle cx="624.4" cy="1041.5" r="7"/><circle cx="900.4" cy="442.6" r="7"/><circle cx="859.7" cy="616.5" r="7"/><circle cx="803.1" cy="893.2" r="7"/><circle cx="903.5" cy="300.8" r="7"/></g><g fill="#547baa"><circle cx="732.3" cy="615.5" r="7"/><circle cx="884.2" cy="381.5" r="7"/><circle cx="743.6" cy="659.4" r="7"/><circle cx="874.6" cy="942.1" r="7"/><circle cx="814.7" cy="497.8" r="7"/><circle cx="405.7" cy="445.7" r="7"/><circle cx="512.5" cy="311.2" r="7"/><circle cx="354.3" cy="531.6" r="7"/><circle cx="539.5" cy="358" r="7"/><circle cx="564.1" cy="272.2" r="7"/><circle cx="996.4" cy="294.8" r="7"/><circle cx="681.1" cy="1047.4" r="7"/><circle cx="522" cy="938.7" r="7"/><circle cx="976.5" cy="867.2" r="7"/><circle cx="814.4" cy="822.1" r="7"/><circle cx="814.6" cy="308.1" r="7"/><circle cx="698.3" cy="748.2" r="7"/><circle cx="740" cy="465" r="7"/><circle cx="858.7" cy="363.8" r="7"/><circle cx="961.9" cy="412.9" r="7"/><circle cx="752.5" cy="821.5" r="7"/><circle cx="719.9" cy="320.8" r="7"/><circle cx="632" cy="504.8" r="7"/><circle cx="265.2" cy="362.5" r="7"/><circle cx="354.1" cy="284" r="7"/><circle cx="590.5" cy="877.3" r="7"/><circle cx="891.6" cy="372.3" r="7"/><circle cx="764.7" cy="558.1" r="7"/><circle cx="955.3" cy="404.9" r="7"/><circle cx="550.7" cy="424.1" r="7"/><circle cx="517" cy="789.7" r="7"/><circle cx="913.6" cy="642.9" r="7"/><circle cx="633.5" cy="781.8" r="7"/><circle cx="1112.4" cy="496.9" r="7"/><circle cx="594.6" cy="303.4" r="7"/><circle cx="906" cy="640.4" r="7"/><circle cx="624.9" cy="933.9" r="7"/><circle cx="425.9" cy="804.8" r="7"/><circle cx="470.6" cy="385.6" r="7"/><circle cx="1022.8" cy="308.7" r="7"/><circle cx="545.2" cy="1042.4" r="7"/><circle cx="722.2" cy="440.9" r="7"/><circle cx="560.7" cy="447.8" r="7"/><circle cx="713.4" cy="447.1" r="7"/><circle cx="370.9" cy="354.7" r="7"/><circle cx="703.4" cy="292" r="7"/><circle cx="1088.8" cy="476.9" r="7"/><circle cx="840.1" cy="589.4" r="7"/><circle cx="632.1" cy="531.5" r="7"/><circle cx="930.9" cy="681.9" r="7"/><circle cx="368.6" cy="244.4" r="7"/><circle cx="409.4" cy="277.7" r="7"/><circle cx="407.5" cy="552.5" r="7"/><circle cx="937.1" cy="801.5" r="7"/><circle cx="839.6" cy="875.6" r="7"/><circle cx="518.5" cy="997.2" r="7"/><circle cx="609" cy="1028.3" r="7"/><circle cx="648.4" cy="453.5" r="7"/><circle cx="390.1" cy="325.3" r="7"/><circle cx="758.6" cy="535" r="7"/><circle cx="952.9" cy="849.1" r="7"/><circle cx="579.5" cy="478.6" r="7"/><circle cx="594.2" cy="1049.1" r="7"/><circle cx="648.9" cy="285.1" r="7"/><circle cx="841.7" cy="878.8" r="7"/><circle cx="782.5" cy="467.5" r="7"/><circle cx="967.7" cy="785.8" r="7"/><circle cx="1042.1" cy="482.7" r="7"/><circle cx="589.5" cy="433.5" r="7"/><circle cx="620.5" cy="682.9" r="7"/><circle cx="899.3" cy="859.2" r="7"/><circle cx="663.2" cy="334.8" r="7"/><circle cx="643.1" cy="331.3" r="7"/><circle cx="207.7" cy="432.4" r="7"/><circle cx="342.7" cy="246.4" r="7"/><circle cx="335.4" cy="456.9" r="7"/><circle cx="635.6" cy="989.4" r="7"/><circle cx="570.9" cy="949.2" r="7"/><circle cx="304.1" cy="383.2" r="7"/><circle cx="643.5" cy="874.7" r="7"/><circle cx="347.2" cy="349" r="7"/><circle cx="364" cy="339.3" r="7"/><circle cx="908.8" cy="883.5" r="7"/><circle cx="416.7" cy="855.4" r="7"/><circle cx="768.1" cy="928.8" r="7"/><circle cx="596.6" cy="953" r="7"/><circle cx="386.4" cy="321.9" r="7"/><circle cx="631.5" cy="685.7" r="7"/><circle cx="532.3" cy="980.4" r="7"/><circle cx="817.9" cy="316.7" r="7"/><circle cx="498.1" cy="204.9" r="7"/><circle cx="659.2" cy="1031.9" r="7"/><circle cx="523.1" cy="572.2" r="7"/><circle cx="544.5" cy="897.7" r="7"/><circle cx="911.1" cy="877.6" r="7"/><circle cx="455.9" cy="364.4" r="7"/><circle cx="594.6" cy="322" r="7"/><circle cx="823.1" cy="975.1" r="7"/><circle cx="1072.7" cy="488.7" r="7"/><circle cx="890.1" cy="877.5" r="7"/><circle cx="944.1" cy="398.2" r="7"/><circle cx="359.8" cy="461.4" r="7"/><circle cx="1016.3" cy="439.7" r="7"/><circle cx="736.6" cy="1038.6" r="7"/><circle cx="692.9" cy="996.7" r="7"/><circle cx="596.7" cy="753.4" r="7"/><circle cx="538.6" cy="218.4" r="7"/><circle cx="916.3" cy="831.5" r="7"/><circle cx="842.1" cy="839.3" r="7"/><circle cx="536.5" cy="322.2" r="7"/><circle cx="275" cy="362.3" r="7"/><circle cx="644.4" cy="1042.1" r="7"/><circle cx="609.3" cy="459.6" r="7"/><circle cx="874.9" cy="836.9" r="7"/><circle cx="639.8" cy="861.5" r="7"/><circle cx="612" cy="994.2" r="7"/><circle cx="944.9" cy="844.2" r="7"/><circle cx="702.5" cy="472.5" r="7"/><circle cx="286.3" cy="318" r="7"/><circle cx="755.1" cy="766.8" r="7"/><circle cx="513.7" cy="784.7" r="7"/><circle cx="403.5" cy="425.4" r="7"/><circle cx="339.8" cy="800.8" r="7"/><circle cx="591.7" cy="791.4" r="7"/><circle cx="646.5" cy="1053.8" r="7"/><circle cx="779.7" cy="875.4" r="7"/><circle cx="340.3" cy="804.3" r="7"/><circle cx="247.2" cy="409.4" r="7"/><circle cx="935.1" cy="659.3" r="7"/><circle cx="971.5" cy="659.5" r="7"/><circle cx="484.5" cy="253.8" r="7"/><circle cx="378" cy="418.1" r="7"/><circle cx="766.2" cy="276.3" r="7"/><circle cx="975.7" cy="454.3" r="7"/><circle cx="372.8" cy="455.7" r="7"/><circle cx="693.4" cy="791" r="7"/><circle cx="650.7" cy="997.5" r="7"/><circle cx="483.2" cy="896.8" r="7"/><circle cx="505.2" cy="932.5" r="7"/><circle cx="574.7" cy="1047.2" r="7"/><circle cx="937.3" cy="428.8" r="7"/><circle cx="419.7" cy="264.8" r="7"/><circle cx="730.5" cy="848.6" r="7"/><circle cx="386.2" cy="268.2" r="7"/><circle cx="625.8" cy="420.8" r="7"/><circle cx="732.7" cy="280.6" r="7"/><circle cx="799.7" cy="980.7" r="7"/><circle cx="654.3" cy="1069.1" r="7"/><circle cx="652.9" cy="956.9" r="7"/><circle cx="944.7" cy="666.7" r="7"/><circle cx="380.3" cy="397.5" r="7"/><circle cx="786.9" cy="949.2" r="7"/><circle cx="628.1" cy="288.6" r="7"/><circle cx="869" cy="397.6" r="7"/><circle cx="724.8" cy="872.3" r="7"/><circle cx="351.8" cy="379.9" r="7"/><circle cx="526.9" cy="583.5" r="7"/><circle cx="779.5" cy="300.7" r="7"/><circle cx="518.7" cy="1007.1" r="7"/><circle cx="364.5" cy="791.8" r="7"/><circle cx="896.4" cy="438.5" r="7"/><circle cx="737.6" cy="307.6" r="7"/><circle cx="697.4" cy="712.7" r="7"/><circle cx="787.5" cy="939.1" r="7"/><circle cx="549.8" cy="911.3" r="7"/><circle cx="547" cy="202.8" r="7"/><circle cx="959.7" cy="635.5" r="7"/><circle cx="841.4" cy="935.8" r="7"/><circle cx="352" cy="811" r="7"/><circle cx="571.9" cy="999.4" r="7"/><circle cx="929.5" cy="820.4" r="7"/><circle cx="659.2" cy="1046.8" r="7"/><circle cx="403.5" cy="351.2" r="7"/><circle cx="643.8" cy="1039.1" r="7"/><circle cx="907.9" cy="643.5" r="7"/><circle cx="552" cy="956.2" r="7"/><circle cx="830.4" cy="299.8" r="7"/><circle cx="609.3" cy="955.4" r="7"/><circle cx="711" cy="1051.9" r="7"/><circle cx="634.7" cy="988.5" r="7"/><circle cx="782.5" cy="794.7" r="7"/><circle cx="903.9" cy="915.3" r="7"/><circle cx="393.1" cy="749.4" r="7"/><circle cx="796.8" cy="756.9" r="7"/><circle cx="416.9" cy="797.5" r="7"/><circle cx="861.6" cy="629.9" r="7"/><circle cx="539.4" cy="913.8" r="7"/><circle cx="551.9" cy="988.5" r="7"/><circle cx="573.9" cy="1036.3" r="7"/><circle cx="646.5" cy="1072" r="7"/><circle cx="221.6" cy="387" r="7"/><circle cx="763.7" cy="531.2" r="7"/><circle cx="930.9" cy="302.3" r="7"/><circle cx="911.1" cy="912.5" r="7"/><circle cx="883" cy="672" r="7"/><circle cx="587.9" cy="921.3" r="7"/><circle cx="661.1" cy="1001.4" r="7"/><circle cx="427.8" cy="865.3" r="7"/><circle cx="599.8" cy="1024.2" r="7"/><circle cx="845.9" cy="861.9" r="7"/><circle cx="621.6" cy="1050.1" r="7"/><circle cx="627" cy="951" r="7"/><circle cx="973.5" cy="305.7" r="7"/><circle cx="451.8" cy="335.3" r="7"/><circle cx="528.8" cy="497.3" r="7"/><circle cx="384.6" cy="282.6" r="7"/><circle cx="978.9" cy="441.1" r="7"/><circle cx="884.6" cy="362.3" r="7"/><circle cx="561.2" cy="296" r="7"/><circle cx="361.8" cy="800.7" r="7"/><circle cx="532.9" cy="920.2" r="7"/><circle cx="939.7" cy="503.3" r="7"/><circle cx="359.5" cy="936.4" r="7"/><circle cx="593.2" cy="929.2" r="7"/><circle cx="887.6" cy="890.7" r="7"/><circle cx="652.1" cy="920.3" r="7"/><circle cx="547.9" cy="447.1" r="7"/><circle cx="426.3" cy="852.3" r="7"/><circle cx="862.2" cy="646.7" r="7"/><circle cx="333.9" cy="380.7" r="7"/><circle cx="350.1" cy="286.5" r="7"/><circle cx="810.2" cy="611.8" r="7"/><circle cx="384.2" cy="486.1" r="7"/><circle cx="297.8" cy="380.8" r="7"/><circle cx="901.6" cy="413" r="7"/><circle cx="675.4" cy="362.9" r="7"/><circle cx="587.3" cy="741.5" r="7"/><circle cx="503.5" cy="899.1" r="7"/><circle cx="1041.8" cy="323.6" r="7"/><circle cx="509.9" cy="288.8" r="7"/><circle cx="847.3" cy="359.1" r="7"/><circle cx="577.5" cy="395.6" r="7"/><circle cx="843.6" cy="938.8" r="7"/><circle cx="637.7" cy="1076.4" r="7"/><circle cx="808.4" cy="914.7" r="7"/><circle cx="351" cy="530.8" r="7"/><circle cx="474" cy="318.3" r="7"/><circle cx="595.5" cy="950.9" r="7"/><circle cx="491.9" cy="235.6" r="7"/><circle cx="514.5" cy="533.4" r="7"/><circle cx="612.7" cy="519.8" r="7"/><circle cx="344.9" cy="756.3" r="7"/><circle cx="798.2" cy="303.9" r="7"/><circle cx="813.4" cy="983.8" r="7"/><circle cx="244.1" cy="408.1" r="7"/><circle cx="979.5" cy="816.7" r="7"/><circle cx="337.3" cy="423.4" r="7"/><circle cx="911.5" cy="908.8" r="7"/><circle cx="427" cy="337.9" r="7"/><circle cx="761.3" cy="552.5" r="7"/><circle cx="668.7" cy="740.8" r="7"/><circle cx="367" cy="351.3" r="7"/><circle cx="785" cy="368.8" r="7"/><circle cx="422.8" cy="280.8" r="7"/><circle cx="957.6" cy="856.4" r="7"/><circle cx="542.2" cy="206.3" r="7"/><circle cx="795" cy="455" r="7"/><circle cx="893.1" cy="929.2" r="7"/><circle cx="372.9" cy="748.8" r="7"/><circle cx="935.9" cy="856.1" r="7"/><circle cx="925.4" cy="333.3" r="7"/><circle cx="655.5" cy="1053.2" r="7"/><circle cx="544.5" cy="530.6" r="7"/><circle cx="773.2" cy="519" r="7"/><circle cx="380.9" cy="405.3" r="7"/><circle cx="800.2" cy="290.8" r="7"/><circle cx="432.2" cy="282.6" r="7"/><circle cx="502.9" cy="939.9" r="7"/><circle cx="704.3" cy="1020.5" r="7"/><circle cx="716.6" cy="1039.9" r="7"/><circle cx="929.4" cy="587.4" r="7"/><circle cx="819.2" cy="281.8" r="7"/><circle cx="801.5" cy="310.9" r="7"/><circle cx="570.6" cy="207.8" r="7"/><circle cx="356.7" cy="422" r="7"/><circle cx="463.3" cy="302.3" r="7"/><circle cx="854.6" cy="592.9" r="7"/><circle cx="899.4" cy="849.3" r="7"/><circle cx="652.1" cy="306.5" r="7"/><circle cx="611" cy="920" r="7"/><circle cx="507.1" cy="512.6" r="7"/><circle cx="766.8" cy="239.8" r="7"/><circle cx="885.9" cy="824.2" r="7"/><circle cx="779.9" cy="913.1" r="7"/><circle cx="339.8" cy="808.7" r="7"/><circle cx="356.3" cy="934.7" r="7"/><circle cx="974.7" cy="872.3" r="7"/><circle cx="675.6" cy="1059.3" r="7"/><circle cx="644.2" cy="944.3" r="7"/><circle cx="658.5" cy="970.2" r="7"/><circle cx="805" cy="814.4" r="7"/><circle cx="517.4" cy="785.2" r="7"/><circle cx="674.1" cy="1010.6" r="7"/><circle cx="657.7" cy="980.7" r="7"/><circle cx="484.6" cy="242.2" r="7"/><circle cx="842.2" cy="443.3" r="7"/><circle cx="380.5" cy="728.8" r="7"/><circle cx="354" cy="377" r="7"/><circle cx="549.9" cy="197" r="7"/><circle cx="639.7" cy="992.1" r="7"/><circle cx="644.9" cy="511.9" r="7"/><circle cx="727.3" cy="251.2" r="7"/><circle cx="808" cy="308.3" r="7"/><circle cx="779.4" cy="534.2" r="7"/><circle cx="382" cy="243.2" r="7"/><circle cx="655.8" cy="992.5" r="7"/><circle cx="332.9" cy="431.2" r="7"/><circle cx="351.4" cy="367.8" r="7"/><circle cx="534.6" cy="465.4" r="7"/><circle cx="1070" cy="317.5" r="7"/><circle cx="920.1" cy="412.3" r="7"/><circle cx="371" cy="836.4" r="7"/><circle cx="593" cy="960.6" r="7"/><circle cx="414" cy="408.1" r="7"/><circle cx="887.1" cy="917.2" r="7"/><circle cx="605.6" cy="489" r="7"/><circle cx="628.8" cy="1068.6" r="7"/><circle cx="801.7" cy="781.6" r="7"/><circle cx="995.6" cy="819" r="7"/><circle cx="427.3" cy="799.5" r="7"/><circle cx="1012.1" cy="288.7" r="7"/><circle cx="977.6" cy="839.7" r="7"/><circle cx="346.9" cy="744.1" r="7"/><circle cx="706.9" cy="361" r="7"/><circle cx="353.2" cy="341.5" r="7"/><circle cx="964.7" cy="654" r="7"/><circle cx="850.4" cy="833.9" r="7"/><circle cx="639.8" cy="692.9" r="7"/><circle cx="374.6" cy="802.6" r="7"/><circle cx="422.6" cy="240" r="7"/><circle cx="685.4" cy="684.7" r="7"/><circle cx="430" cy="808" r="7"/><circle cx="571" cy="855.5" r="7"/><circle cx="557.6" cy="520.8" r="7"/><circle cx="302.1" cy="337.5" r="7"/><circle cx="635.3" cy="245.9" r="7"/><circle cx="365.8" cy="246.8" r="7"/><circle cx="794.1" cy="738.8" r="7"/><circle cx="348.2" cy="835.3" r="7"/><circle cx="894.6" cy="917.3" r="7"/><circle cx="619.1" cy="538.2" r="7"/><circle cx="565" cy="533.1" r="7"/><circle cx="586.9" cy="494.7" r="7"/><circle cx="514.8" cy="451" r="7"/><circle cx="840.7" cy="396.7" r="7"/><circle cx="613.5" cy="1010.9" r="7"/><circle cx="933.1" cy="788.7" r="7"/><circle cx="803.8" cy="403.2" r="7"/><circle cx="781.8" cy="496.4" r="7"/><circle cx="302.3" cy="330" r="7"/><circle cx="861.7" cy="628.9" r="7"/><circle cx="517" cy="551" r="7"/><circle cx="790.4" cy="484" r="7"/><circle cx="709" cy="385" r="7"/><circle cx="888.4" cy="417.5" r="7"/><circle cx="806.9" cy="743.2" r="7"/><circle cx="519.1" cy="463.6" r="7"/><circle cx="839.4" cy="893.5" r="7"/><circle cx="582" cy="446.7" r="7"/><circle cx="667.4" cy="1044.4" r="7"/><circle cx="871.7" cy="618.1" r="7"/><circle cx="608.3" cy="935.7" r="7"/><circle cx="506.9" cy="239.1" r="7"/><circle cx="989.2" cy="266.2" r="7"/><circle cx="721.2" cy="995" r="7"/><circle cx="520" cy="835" r="7"/><circle cx="703.8" cy="928.8" r="7"/><circle cx="418.8" cy="932.5" r="7"/><circle cx="511.5" cy="367.9" r="7"/><circle cx="803.9" cy="970.4" r="7"/><circle cx="407.5" cy="404.6" r="7"/><circle cx="829.2" cy="508.7" r="7"/><circle cx="682" cy="1043.6" r="7"/><circle cx="651.1" cy="693.3" r="7"/><circle cx="771.3" cy="515.1" r="7"/><circle cx="927.1" cy="499.1" r="7"/><circle cx="893" cy="395.7" r="7"/><circle cx="885.1" cy="874.2" r="7"/><circle cx="351.7" cy="737.1" r="7"/><circle cx="521" cy="447.3" r="7"/><circle cx="372.1" cy="789.9" r="7"/><circle cx="556.2" cy="330.6" r="7"/><circle cx="858.3" cy="859.5" r="7"/><circle cx="860.3" cy="932.6" r="7"/><circle cx="901.9" cy="889.1" r="7"/><circle cx="881.1" cy="640.6" r="7"/><circle cx="900.5" cy="637.5" r="7"/><circle cx="518.8" cy="981.9" r="7"/><circle cx="502.5" cy="266.1" r="7"/><circle cx="949" cy="900.1" r="7"/><circle cx="411.5" cy="836" r="7"/><circle cx="594.1" cy="476" r="7"/><circle cx="377.2" cy="545.2" r="7"/><circle cx="620.3" cy="1017.3" r="7"/><circle cx="398.6" cy="821.9" r="7"/><circle cx="531.8" cy="507.5" r="7"/><circle cx="757.7" cy="291" r="7"/><circle cx="987.4" cy="439.9" r="7"/><circle cx="314" cy="402.8" r="7"/><circle cx="304.9" cy="350.7" r="7"/><circle cx="635.7" cy="863.8" r="7"/><circle cx="621.7" cy="468.2" r="7"/><circle cx="518.7" cy="1000.9" r="7"/><circle cx="767.4" cy="935.7" r="7"/><circle cx="645.4" cy="287.4" r="7"/><circle cx="1026.2" cy="331.7" r="7"/><circle cx="761.1" cy="287.6" r="7"/><circle cx="384.9" cy="276.2" r="7"/><circle cx="380.2" cy="792.1" r="7"/><circle cx="948.4" cy="891.6" r="7"/><circle cx="643.6" cy="939.1" r="7"/><circle cx="650.6" cy="1067.3" r="7"/><circle cx="664.7" cy="499.8" r="7"/><circle cx="792" cy="468.5" r="7"/><circle cx="962.9" cy="648.4" r="7"/><circle cx="587.5" cy="650" r="7"/><circle cx="973.3" cy="664.7" r="7"/><circle cx="872.2" cy="426.6" r="7"/><circle cx="618.7" cy="1052.6" r="7"/><circle cx="844.1" cy="616.2" r="7"/><circle cx="540" cy="412.5" r="7"/><circle cx="513" cy="209.9" r="7"/><circle cx="385.9" cy="571.7" r="7"/><circle cx="640.8" cy="1072.3" r="7"/><circle cx="692.5" cy="957.9" r="7"/><circle cx="764.9" cy="515.1" r="7"/><circle cx="558.6" cy="316.9" r="7"/><circle cx="906.5" cy="861.1" r="7"/><circle cx="762.6" cy="282.4" r="7"/><circle cx="629.6" cy="1046.7" r="7"/><circle cx="627.4" cy="938.7" r="7"/><circle cx="557.2" cy="544.6" r="7"/><circle cx="318.6" cy="392" r="7"/><circle cx="603.6" cy="1053.6" r="7"/><circle cx="559.6" cy="429.6" r="7"/><circle cx="545.5" cy="436.4" r="7"/><circle cx="578.9" cy="527.9" r="7"/><circle cx="783.9" cy="312.7" r="7"/><circle cx="914.7" cy="672" r="7"/><circle cx="391.3" cy="816.5" r="7"/><circle cx="307.3" cy="488.7" r="7"/><circle cx="567.9" cy="246.3" r="7"/><circle cx="639.8" cy="1012.4" r="7"/><circle cx="957.7" cy="804.8" r="7"/><circle cx="807" cy="888" r="7"/><circle cx="865" cy="628.8" r="7"/><circle cx="832.1" cy="841.7" r="7"/><circle cx="583.5" cy="507" r="7"/><circle cx="560.1" cy="198.7" r="7"/><circle cx="632.7" cy="935" r="7"/><circle cx="645.3" cy="948.2" r="7"/><circle cx="452.9" cy="333.3" r="7"/><circle cx="423.6" cy="414.1" r="7"/><circle cx="599.8" cy="851.3" r="7"/><circle cx="774.1" cy="867.9" r="7"/><circle cx="662.3" cy="925.1" r="7"/><circle cx="396.6" cy="748.8" r="7"/><circle cx="603.1" cy="846.4" r="7"/><circle cx="342.2" cy="357.2" r="7"/><circle cx="598.9" cy="1043.1" r="7"/><circle cx="1051.8" cy="449.8" r="7"/><circle cx="623.7" cy="1062.3" r="7"/><circle cx="525.6" cy="474.3" r="7"/><circle cx="672" cy="291.8" r="7"/><circle cx="438.8" cy="720.9" r="7"/><circle cx="522.6" cy="285.8" r="7"/><circle cx="771" cy="491.8" r="7"/><circle cx="400.8" cy="259.5" r="7"/><circle cx="645" cy="492.6" r="7"/><circle cx="565.7" cy="269.8" r="7"/><circle cx="845.1" cy="901.5" r="7"/><circle cx="667.7" cy="720.9" r="7"/><circle cx="954.4" cy="329" r="7"/><circle cx="925.6" cy="507.9" r="7"/><circle cx="397.5" cy="416.5" r="7"/><circle cx="701.6" cy="379.3" r="7"/><circle cx="726.4" cy="817.2" r="7"/><circle cx="595.8" cy="1073.3" r="7"/><circle cx="376.2" cy="793.9" r="7"/><circle cx="912.2" cy="778.5" r="7"/><circle cx="654.2" cy="955.2" r="7"/><circle cx="699.4" cy="385.8" r="7"/><circle cx="314.3" cy="456.9" r="7"/><circle cx="680.1" cy="327.9" r="7"/><circle cx="626.1" cy="978.6" r="7"/><circle cx="431.7" cy="790.9" r="7"/><circle cx="990" cy="311.3" r="7"/><circle cx="297.2" cy="478.6" r="7"/><circle cx="783.2" cy="610.6" r="7"/><circle cx="591.2" cy="1058.6" r="7"/><circle cx="527.8" cy="563.2" r="7"/><circle cx="605.3" cy="245.6" r="7"/><circle cx="1048.6" cy="316" r="7"/><circle cx="424" cy="366.6" r="7"/><circle cx="499.2" cy="261.3" r="7"/><circle cx="394.8" cy="827.1" r="7"/><circle cx="901.2" cy="625.6" r="7"/><circle cx="844.9" cy="541.6" r="7"/><circle cx="808.9" cy="818.2" r="7"/><circle cx="761.5" cy="616.1" r="7"/><circle cx="959.9" cy="843.7" r="7"/><circle cx="845.5" cy="877.9" r="7"/><circle cx="994.2" cy="816.3" r="7"/><circle cx="678.4" cy="968.9" r="7"/><circle cx="842.7" cy="425.8" r="7"/><circle cx="342.9" cy="401.2" r="7"/><circle cx="500.6" cy="904.6" r="7"/><circle cx="394.3" cy="373.5" r="7"/><circle cx="435.7" cy="231.4" r="7"/><circle cx="758.3" cy="947.8" r="7"/><circle cx="666.8" cy="710.4" r="7"/><circle cx="866.7" cy="414.8" r="7"/><circle cx="685.2" cy="302" r="7"/><circle cx="845.3" cy="437.6" r="7"/><circle cx="842.7" cy="548.5" r="7"/><circle cx="624.1" cy="690.1" r="7"/><circle cx="913.2" cy="687.8" r="7"/><circle cx="928.4" cy="900.1" r="7"/><circle cx="623.4" cy="947.5" r="7"/><circle cx="891.4" cy="671.8" r="7"/><circle cx="933.9" cy="912.7" r="7"/><circle cx="585.9" cy="947.2" r="7"/><circle cx="978" cy="325.2" r="7"/><circle cx="1041.7" cy="336.7" r="7"/><circle cx="437.5" cy="854.2" r="7"/><circle cx="914.5" cy="651.1" r="7"/><circle cx="974.8" cy="435.1" r="7"/><circle cx="504.5" cy="780.4" r="7"/><circle cx="769.7" cy="801.4" r="7"/><circle cx="411.1" cy="858.9" r="7"/><circle cx="345.4" cy="802.8" r="7"/><circle cx="411.2" cy="823.3" r="7"/><circle cx="303.9" cy="462.5" r="7"/><circle cx="604.9" cy="495.1" r="7"/><circle cx="496.6" cy="901.3" r="7"/><circle cx="380.4" cy="471" r="7"/><circle cx="356.8" cy="746" r="7"/><circle cx="407.2" cy="250.7" r="7"/><circle cx="667" cy="1067.5" r="7"/><circle cx="914" cy="289.7" r="7"/><circle cx="611.3" cy="421" r="7"/><circle cx="665.2" cy="1078.6" r="7"/><circle cx="787.6" cy="514.6" r="7"/><circle cx="347.5" cy="500.8" r="7"/><circle cx="770.6" cy="609.4" r="7"/><circle cx="638.6" cy="951" r="7"/><circle cx="678.3" cy="994.5" r="7"/><circle cx="373.2" cy="497" r="7"/><circle cx="722.8" cy="301.7" r="7"/><circle cx="617.3" cy="1065.4" r="7"/><circle cx="876.1" cy="635.4" r="7"/><circle cx="618" cy="698" r="7"/><circle cx="496.2" cy="236.8" r="7"/><circle cx="739.1" cy="300.4" r="7"/><circle cx="351" cy="316" r="7"/><circle cx="310.4" cy="410.9" r="7"/><circle cx="840.6" cy="886.9" r="7"/><circle cx="871.2" cy="932.9" r="7"/><circle cx="417.4" cy="377.2" r="7"/><circle cx="895.5" cy="878.2" r="7"/><circle cx="369.3" cy="587.7" r="7"/><circle cx="566.7" cy="308.6" r="7"/><circle cx="890.7" cy="630.8" r="7"/><circle cx="891.1" cy="598.3" r="7"/><circle cx="460.3" cy="256.5" r="7"/><circle cx="539.3" cy="953.9" r="7"/><circle cx="405.7" cy="549.9" r="7"/><circle cx="522.4" cy="476" r="7"/><circle cx="551.3" cy="547.5" r="7"/><circle cx="570.6" cy="933.1" r="7"/><circle cx="845.8" cy="887.5" r="7"/><circle cx="785.7" cy="526.5" r="7"/><circle cx="892.2" cy="432.3" r="7"/><circle cx="461.8" cy="280.5" r="7"/><circle cx="679.5" cy="1040.8" r="7"/><circle cx="915.4" cy="302.5" r="7"/><circle cx="384.7" cy="342.4" r="7"/><circle cx="824.1" cy="696.8" r="7"/><circle cx="693.8" cy="1022.6" r="7"/><circle cx="687.5" cy="1014.1" r="7"/><circle cx="903.5" cy="638.7" r="7"/><circle cx="348.1" cy="426.1" r="7"/><circle cx="944" cy="866.4" r="7"/><circle cx="928.8" cy="917.3" r="7"/><circle cx="336" cy="813.9" r="7"/><circle cx="441.7" cy="267.5" r="7"/><circle cx="446.7" cy="365.8" r="7"/><circle cx="522.7" cy="517.2" r="7"/><circle cx="304.7" cy="915.8" r="7"/><circle cx="894.3" cy="636" r="7"/><circle cx="869.9" cy="369.5" r="7"/><circle cx="688.6" cy="990.1" r="7"/><circle cx="901.2" cy="634" r="7"/><circle cx="650.8" cy="926.4" r="7"/><circle cx="548.6" cy="892.9" r="7"/><circle cx="838.8" cy="859.1" r="7"/><circle cx="681.3" cy="999.6" r="7"/><circle cx="806.8" cy="750.9" r="7"/><circle cx="540.4" cy="281" r="7"/><circle cx="420" cy="226.4" r="7"/><circle cx="918.4" cy="651.4" r="7"/><circle cx="359.1" cy="517.9" r="7"/><circle cx="590.7" cy="947.1" r="7"/><circle cx="654.9" cy="473.1" r="7"/><circle cx="607.3" cy="505.2" r="7"/><circle cx="692.6" cy="779.1" r="7"/><circle cx="849.4" cy="352" r="7"/><circle cx="326.9" cy="533.2" r="7"/><circle cx="884.8" cy="661.2" r="7"/><circle cx="795.7" cy="969.3" r="7"/><circle cx="359.2" cy="782.2" r="7"/><circle cx="951.4" cy="629.5" r="7"/><circle cx="956.9" cy="885.2" r="7"/><circle cx="715" cy="258.3" r="7"/><circle cx="595.4" cy="249.7" r="7"/><circle cx="624" cy="210.5" r="7"/><circle cx="585.1" cy="1052.4" r="7"/><circle cx="291" cy="496.1" r="7"/><circle cx="410.4" cy="376.6" r="7"/><circle cx="888.2" cy="670.6" r="7"/><circle cx="891.9" cy="637.6" r="7"/><circle cx="600.4" cy="908.9" r="7"/><circle cx="756.9" cy="258.2" r="7"/><circle cx="389.1" cy="349.3" r="7"/><circle cx="503.9" cy="220.6" r="7"/><circle cx="389.8" cy="796.3" r="7"/><circle cx="563.3" cy="227.2" r="7"/><circle cx="339" cy="442.9" r="7"/><circle cx="538" cy="969.3" r="7"/><circle cx="455" cy="396.3" r="7"/><circle cx="578" cy="925.1" r="7"/><circle cx="401.6" cy="336.3" r="7"/><circle cx="710.1" cy="655.4" r="7"/><circle cx="637.5" cy="1038.2" r="7"/><circle cx="622.8" cy="966.1" r="7"/><circle cx="434.1" cy="800.9" r="7"/><circle cx="614.7" cy="426.6" r="7"/><circle cx="890.2" cy="794.3" r="7"/><circle cx="872" cy="412.9" r="7"/><circle cx="533.2" cy="914.7" r="7"/><circle cx="506.7" cy="956.4" r="7"/><circle cx="565" cy="436.9" r="7"/><circle cx="984.3" cy="310" r="7"/><circle cx="894.9" cy="598.6" r="7"/><circle cx="633.8" cy="285.5" r="7"/><circle cx="585.2" cy="288.1" r="7"/><circle cx="870.7" cy="871" r="7"/><circle cx="539.3" cy="424.2" r="7"/><circle cx="918.7" cy="320.9" r="7"/><circle cx="934.3" cy="663.5" r="7"/><circle cx="636.7" cy="960.8" r="7"/><circle cx="658.3" cy="987.9" r="7"/><circle cx="485.6" cy="299.5" r="7"/><circle cx="322.3" cy="321" r="7"/><circle cx="520.6" cy="955.9" r="7"/><circle cx="516" cy="267.8" r="7"/><circle cx="429.8" cy="309.5" r="7"/><circle cx="379.6" cy="789" r="7"/><circle cx="681.1" cy="962.8" r="7"/><circle cx="703.9" cy="1036.2" r="7"/><circle cx="864.2" cy="393.5" r="7"/><circle cx="1083.5" cy="473" r="7"/><circle cx="840.8" cy="827.6" r="7"/><circle cx="851.6" cy="717.9" r="7"/><circle cx="675.2" cy="282.9" r="7"/><circle cx="401.7" cy="237.6" r="7"/><circle cx="705.9" cy="279.8" r="7"/><circle cx="841" cy="869.7" r="7"/><circle cx="608.1" cy="317" r="7"/><circle cx="548.7" cy="451.7" r="7"/><circle cx="865.6" cy="849.6" r="7"/><circle cx="640.8" cy="1058.1" r="7"/><circle cx="547.9" cy="282.6" r="7"/><circle cx="349.5" cy="819" r="7"/><circle cx="365.7" cy="832.1" r="7"/><circle cx="382.8" cy="739.9" r="7"/><circle cx="916.3" cy="423.9" r="7"/><circle cx="577.8" cy="1009.1" r="7"/><circle cx="674.3" cy="978.9" r="7"/><circle cx="790.3" cy="754.2" r="7"/><circle cx="812.9" cy="907.6" r="7"/><circle cx="954.5" cy="428.8" r="7"/><circle cx="918.4" cy="513.1" r="7"/><circle cx="508.7" cy="790.9" r="7"/><circle cx="460.1" cy="328.5" r="7"/><circle cx="572.9" cy="808.6" r="7"/><circle cx="942.4" cy="795.5" r="7"/><circle cx="208" cy="417.6" r="7"/><circle cx="930.3" cy="883.1" r="7"/><circle cx="856.2" cy="861" r="7"/><circle cx="733.6" cy="1039.6" r="7"/><circle cx="641.7" cy="430.1" r="7"/><circle cx="604.8" cy="917.1" r="7"/><circle cx="784.6" cy="836.7" r="7"/><circle cx="599" cy="430.7" r="7"/><circle cx="867.1" cy="646" r="7"/><circle cx="600" cy="228" r="7"/><circle cx="407.3" cy="548.3" r="7"/><circle cx="1012.6" cy="437" r="7"/><circle cx="382" cy="493.5" r="7"/></g><g fill="#567ead"><circle cx="785.5" cy="617.2" r="7"/><circle cx="824" cy="341" r="7"/><circle cx="788.2" cy="697.2" r="7"/><circle cx="270" cy="388" r="7"/><circle cx="700.3" cy="398.5" r="7"/><circle cx="701.4" cy="362.3" r="7"/><circle cx="876.2" cy="385.1" r="7"/><circle cx="433.3" cy="411.7" r="7"/><circle cx="905.9" cy="397.7" r="7"/><circle cx="863.7" cy="378.9" r="7"/><circle cx="852.5" cy="455" r="7"/><circle cx="683" cy="324.1" r="7"/><circle cx="858.3" cy="436.7" r="7"/><circle cx="926.3" cy="313.6" r="7"/><circle cx="259.1" cy="384.8" r="7"/><circle cx="383.1" cy="819.5" r="7"/><circle cx="905.5" cy="683" r="7"/><circle cx="861.3" cy="848.7" r="7"/><circle cx="365.4" cy="539.3" r="7"/><circle cx="649.6" cy="288.8" r="7"/><circle cx="870.8" cy="653.9" r="7"/><circle cx="552.6" cy="212.1" r="7"/><circle cx="785.8" cy="501.4" r="7"/><circle cx="928.5" cy="427" r="7"/><circle cx="685.2" cy="1057.3" r="7"/><circle cx="927.6" cy="328.4" r="7"/><circle cx="617.4" cy="425.9" r="7"/><circle cx="912.9" cy="868.5" r="7"/><circle cx="637.5" cy="345" r="7"/><circle cx="635.6" cy="705.2" r="7"/><circle cx="804" cy="635.9" r="7"/><circle cx="916" cy="847.1" r="7"/><circle cx="556.2" cy="1031.3" r="7"/><circle cx="898" cy="909.3" r="7"/><circle cx="466.2" cy="812.5" r="7"/><circle cx="636.9" cy="427.7" r="7"/><circle cx="328.2" cy="391.3" r="7"/><circle cx="560.3" cy="218.5" r="7"/><circle cx="656.1" cy="930.3" r="7"/><circle cx="403.4" cy="825.8" r="7"/><circle cx="452.5" cy="847.2" r="7"/><circle cx="893.1" cy="679" r="7"/><circle cx="645.2" cy="969.2" r="7"/><circle cx="834.8" cy="287.6" r="7"/><circle cx="425.6" cy="750.3" r="7"/><circle cx="971.6" cy="821.4" r="7"/><circle cx="706.1" cy="312.2" r="7"/><circle cx="746.1" cy="623.8" r="7"/><circle cx="639.9" cy="998.2" r="7"/><circle cx="762.8" cy="313.8" r="7"/><circle cx="410.2" cy="805.3" r="7"/><circle cx="802.8" cy="633" r="7"/><circle cx="380.8" cy="743.7" r="7"/><circle cx="912.4" cy="434.6" r="7"/><circle cx="715" cy="462.5" r="7"/><circle cx="740" cy="1038.4" r="7"/><circle cx="984.1" cy="783.7" r="7"/><circle cx="887.9" cy="320.4" r="7"/><circle cx="946" cy="389.2" r="7"/><circle cx="771.2" cy="305.3" r="7"/><circle cx="620.1" cy="935" r="7"/><circle cx="658.8" cy="924.7" r="7"/><circle cx="215.9" cy="408.5" r="7"/><circle cx="661.9" cy="963.5" r="7"/><circle cx="976" cy="444.9" r="7"/><circle cx="586.2" cy="554.6" r="7"/><circle cx="632.2" cy="1058.2" r="7"/><circle cx="631.7" cy="1074.5" r="7"/><circle cx="900.9" cy="628" r="7"/><circle cx="878.2" cy="513" r="7"/><circle cx="953.9" cy="809.8" r="7"/><circle cx="367" cy="259.9" r="7"/><circle cx="608.6" cy="929.6" r="7"/><circle cx="448.2" cy="410.7" r="7"/><circle cx="682.7" cy="1052.8" r="7"/><circle cx="357.5" cy="527.7" r="7"/><circle cx="425.9" cy="750.2" r="7"/><circle cx="418.4" cy="806.4" r="7"/><circle cx="535" cy="1022.7" r="7"/><circle cx="862.8" cy="881.6" r="7"/><circle cx="1022.1" cy="270.7" r="7"/><circle cx="310.1" cy="299.6" r="7"/><circle cx="1058.2" cy="356.5" r="7"/><circle cx="462.2" cy="849" r="7"/><circle cx="599.6" cy="1023.6" r="7"/><circle cx="397.1" cy="743.1" r="7"/><circle cx="1004.2" cy="303.7" r="7"/><circle cx="378.5" cy="841.8" r="7"/><circle cx="633.7" cy="1010" r="7"/><circle cx="304.2" cy="500.1" r="7"/><circle cx="780.6" cy="537" r="7"/><circle cx="965.9" cy="451" r="7"/><circle cx="888.8" cy="899.7" r="7"/><circle cx="385.5" cy="807" r="7"/><circle cx="611.1" cy="1016.5" r="7"/><circle cx="613.1" cy="1028.2" r="7"/><circle cx="635.4" cy="921.4" r="7"/><circle cx="780.2" cy="452.8" r="7"/><circle cx="623.4" cy="563.4" r="7"/><circle cx="907.8" cy="435.9" r="7"/><circle cx="678.4" cy="457.4" r="7"/><circle cx="949.5" cy="668.1" r="7"/><circle cx="923.6" cy="501.8" r="7"/><circle cx="949.1" cy="804" r="7"/><circle cx="929.7" cy="323.2" r="7"/><circle cx="612.2" cy="983.9" r="7"/><circle cx="613.5" cy="952.6" r="7"/><circle cx="322.3" cy="396.1" r="7"/><circle cx="925.9" cy="864.9" r="7"/><circle cx="353.6" cy="421.7" r="7"/><circle cx="1055.2" cy="305.6" r="7"/><circle cx="941.7" cy="680" r="7"/><circle cx="610" cy="541.7" r="7"/><circle cx="919.1" cy="925" r="7"/><circle cx="725.4" cy="1028.8" r="7"/><circle cx="368.7" cy="240" r="7"/><circle cx="726" cy="452.1" r="7"/><circle cx="992.9" cy="474.3" r="7"/><circle cx="596.5" cy="938.1" r="7"/><circle cx="696.1" cy="823.5" r="7"/><circle cx="1017.7" cy="783.6" r="7"/><circle cx="916" cy="639.5" r="7"/><circle cx="386.8" cy="822" r="7"/><circle cx="549" cy="252.5" r="7"/><circle cx="660.8" cy="475.3" r="7"/><circle cx="499.4" cy="497.5" r="7"/><circle cx="386.7" cy="794.8" r="7"/></g><g fill="#5780b0"><circle cx="857.9" cy="369.2" r="7"/><circle cx="949" cy="573.2" r="7"/><circle cx="369.2" cy="840.1" r="7"/><circle cx="731.6" cy="1041.5" r="7"/><circle cx="414" cy="817.1" r="7"/><circle cx="962.2" cy="854.2" r="7"/><circle cx="669.8" cy="948.3" r="7"/><circle cx="958.3" cy="572.4" r="7"/><circle cx="879.3" cy="935.7" r="7"/><circle cx="619.8" cy="998.9" r="7"/><circle cx="626.1" cy="1020.9" r="7"/><circle cx="585.7" cy="1041.1" r="7"/><circle cx="519.4" cy="220.4" r="7"/><circle cx="595.8" cy="1044.3" r="7"/><circle cx="948.2" cy="422.6" r="7"/><circle cx="957.6" cy="831.5" r="7"/><circle cx="613.2" cy="243.9" r="7"/><circle cx="690.9" cy="1063.4" r="7"/><circle cx="235.9" cy="375.3" r="7"/><circle cx="912.6" cy="678.7" r="7"/><circle cx="515.7" cy="225.1" r="7"/><circle cx="602.4" cy="944.1" r="7"/><circle cx="646.9" cy="1062.7" r="7"/><circle cx="699.1" cy="440.7" r="7"/><circle cx="518.9" cy="237.9" r="7"/><circle cx="430.3" cy="777.5" r="7"/><circle cx="642.3" cy="1064" r="7"/><circle cx="629.2" cy="938.2" r="7"/><circle cx="684.7" cy="353.4" r="7"/><circle cx="682.8" cy="1023.4" r="7"/><circle cx="702.8" cy="1036.3" r="7"/><circle cx="664.2" cy="980.7" r="7"/><circle cx="312.1" cy="357" r="7"/><circle cx="603.5" cy="996.5" r="7"/><circle cx="610.4" cy="1049.9" r="7"/><circle cx="1063.2" cy="349.2" r="7"/><circle cx="655.6" cy="1073.8" r="7"/><circle cx="654.3" cy="1050.1" r="7"/><circle cx="930" cy="798" r="7"/><circle cx="468.2" cy="363.5" r="7"/><circle cx="666.3" cy="452.7" r="7"/><circle cx="912.3" cy="674.9" r="7"/><circle cx="595.8" cy="973" r="7"/><circle cx="724.5" cy="617.6" r="7"/><circle cx="771" cy="295.6" r="7"/><circle cx="988.3" cy="320.1" r="7"/><circle cx="657.2" cy="333.5" r="7"/><circle cx="287" cy="351.8" r="7"/><circle cx="651.4" cy="1024.6" r="7"/><circle cx="508.2" cy="217.7" r="7"/><circle cx="686.3" cy="715.1" r="7"/><circle cx="865.8" cy="837.5" r="7"/><circle cx="655" cy="1078.4" r="7"/><circle cx="693.6" cy="373.4" r="7"/><circle cx="943.6" cy="878" r="7"/><circle cx="386.4" cy="268.8" r="7"/><circle cx="878.2" cy="373.8" r="7"/><circle cx="852.9" cy="427.2" r="7"/><circle cx="1027.3" cy="475" r="7"/><circle cx="1043.7" cy="290.9" r="7"/><circle cx="570.2" cy="1001.3" r="7"/><circle cx="552.9" cy="201.6" r="7"/><circle cx="617.2" cy="930.6" r="7"/><circle cx="540" cy="213.7" r="7"/><circle cx="526.2" cy="296.5" r="7"/><circle cx="737.9" cy="1042.4" r="7"/><circle cx="441.9" cy="311.3" r="7"/><circle cx="615" cy="1040.9" r="7"/><circle cx="349.4" cy="485.9" r="7"/><circle cx="605.9" cy="422" r="7"/><circle cx="670.3" cy="231.8" r="7"/><circle cx="943" cy="677" r="7"/><circle cx="579" cy="1011.7" r="7"/><circle cx="603.7" cy="1043.1" r="7"/><circle cx="274.3" cy="393.4" r="7"/><circle cx="835.5" cy="721.2" r="7"/><circle cx="899.1" cy="914.1" r="7"/><circle cx="614.1" cy="964.6" r="7"/><circle cx="848.8" cy="371" r="7"/><circle cx="362.8" cy="737.6" r="7"/><circle cx="779.6" cy="529.6" r="7"/><circle cx="894.4" cy="887.3" r="7"/><circle cx="673.4" cy="1035.4" r="7"/><circle cx="974.7" cy="458.9" r="7"/><circle cx="1086.2" cy="445" r="7"/><circle cx="950" cy="276.2" r="7"/><circle cx="961.2" cy="275" r="7"/><circle cx="635" cy="837.5" r="7"/><circle cx="775" cy="657.5" r="7"/><circle cx="735" cy="1005" r="7"/><circle cx="735" cy="1005" r="7"/><circle cx="695" cy="915" r="7"/><circle cx="853.7" cy="366.1" r="7"/><circle cx="641.7" cy="985.7" r="7"/><circle cx="935.8" cy="883.6" r="7"/><circle cx="223.1" cy="380.4" r="7"/><circle cx="420.4" cy="812.3" r="7"/><circle cx="561" cy="1004.9" r="7"/><circle cx="778" cy="295.6" r="7"/><circle cx="375.3" cy="809.6" r="7"/><circle cx="683.9" cy="691.5" r="7"/><circle cx="996.8" cy="467.7" r="7"/><circle cx="870" cy="648.4" r="7"/><circle cx="1035" cy="373.8" r="7"/><circle cx="940.7" cy="885.6" r="7"/><circle cx="421.9" cy="376.9" r="7"/><circle cx="389.3" cy="439.2" r="7"/><circle cx="881.2" cy="635.3" r="7"/><circle cx="877.1" cy="367.1" r="7"/><circle cx="555" cy="224.4" r="7"/><circle cx="909" cy="875" r="7"/><circle cx="682.7" cy="1037.2" r="7"/><circle cx="958.4" cy="819.7" r="7"/><circle cx="879.9" cy="920.1" r="7"/><circle cx="849.3" cy="919.6" r="7"/><circle cx="881" cy="852.7" r="7"/><circle cx="601" cy="993" r="7"/><circle cx="618.9" cy="951.2" r="7"/><circle cx="794.5" cy="283.6" r="7"/><circle cx="570.4" cy="252.4" r="7"/><circle cx="685.9" cy="1048" r="7"/><circle cx="922.3" cy="802.8" r="7"/><circle cx="922.7" cy="671.3" r="7"/><circle cx="623.2" cy="551.3" r="7"/><circle cx="596.3" cy="999.5" r="7"/><circle cx="972.6" cy="859.8" r="7"/><circle cx="942.7" cy="798.8" r="7"/><circle cx="622.6" cy="423.8" r="7"/><circle cx="643.1" cy="767.4" r="7"/><circle cx="653.4" cy="1028.7" r="7"/><circle cx="688.4" cy="955.8" r="7"/><circle cx="225.5" cy="379.5" r="7"/><circle cx="697.6" cy="394.7" r="7"/><circle cx="232.3" cy="380.3" r="7"/><circle cx="646" cy="282.5" r="7"/><circle cx="937.3" cy="825.9" r="7"/><circle cx="566.6" cy="1064.2" r="7"/><circle cx="956" cy="869.9" r="7"/><circle cx="410.7" cy="396" r="7"/><circle cx="406.8" cy="815.4" r="7"/><circle cx="999.8" cy="786.7" r="7"/><circle cx="571.7" cy="263.5" r="7"/><circle cx="238.9" cy="375.2" r="7"/><circle cx="920.2" cy="882.6" r="7"/><circle cx="915.5" cy="684.8" r="7"/><circle cx="976.3" cy="430.2" r="7"/><circle cx="876.8" cy="657.8" r="7"/><circle cx="928.6" cy="646.4" r="7"/><circle cx="640.2" cy="304.1" r="7"/><circle cx="750.9" cy="268.1" r="7"/><circle cx="343.9" cy="275.9" r="7"/><circle cx="236.1" cy="406.5" r="7"/><circle cx="598.7" cy="957.9" r="7"/><circle cx="273.9" cy="401" r="7"/><circle cx="725" cy="432.8" r="7"/><circle cx="891.6" cy="890.8" r="7"/><circle cx="800.6" cy="737.4" r="7"/><circle cx="964.8" cy="857.8" r="7"/></g><g fill="#5983b3"><circle cx="484.5" cy="330.5" r="7"/><circle cx="799.9" cy="298.7" r="7"/><circle cx="405.9" cy="541.5" r="7"/><circle cx="959.6" cy="437" r="7"/><circle cx="893.8" cy="307.4" r="7"/><circle cx="883.3" cy="905.4" r="7"/><circle cx="692.7" cy="1049.4" r="7"/><circle cx="707.9" cy="1058.5" r="7"/><circle cx="639.7" cy="1044.3" r="7"/><circle cx="955.6" cy="875.1" r="7"/><circle cx="655.8" cy="1067.5" r="7"/><circle cx="338.1" cy="408.2" r="7"/><circle cx="678.5" cy="1070.9" r="7"/><circle cx="592" cy="1044.4" r="7"/><circle cx="351.9" cy="955.6" r="7"/><circle cx="320.1" cy="321.2" r="7"/><circle cx="385" cy="538.4" r="7"/><circle cx="609.5" cy="985.5" r="7"/><circle cx="931.5" cy="845.7" r="7"/><circle cx="978" cy="462.1" r="7"/><circle cx="901.2" cy="633.3" r="7"/><circle cx="855.5" cy="939.4" r="7"/><circle cx="630.1" cy="205.8" r="7"/><circle cx="558.6" cy="1063.8" r="7"/><circle cx="935.8" cy="859.8" r="7"/><circle cx="427.4" cy="229.7" r="7"/><circle cx="821.7" cy="632.6" r="7"/><circle cx="605.2" cy="987.2" r="7"/><circle cx="876.4" cy="665.5" r="7"/><circle cx="645.5" cy="1025.5" r="7"/><circle cx="949.5" cy="869.6" r="7"/><circle cx="395.4" cy="832.2" r="7"/><circle cx="875.8" cy="900.7" r="7"/><circle cx="444.3" cy="408.2" r="7"/><circle cx="638.6" cy="1026.6" r="7"/><circle cx="533.7" cy="248.5" r="7"/><circle cx="532.2" cy="256.1" r="7"/><circle cx="884.1" cy="649.2" r="7"/><circle cx="1053" cy="294.3" r="7"/><circle cx="782.2" cy="421.5" r="7"/><circle cx="597.5" cy="1079.9" r="7"/><circle cx="213.7" cy="405.1" r="7"/><circle cx="561.4" cy="453.3" r="7"/><circle cx="420.7" cy="791.6" r="7"/><circle cx="877.3" cy="876.6" r="7"/><circle cx="639.6" cy="1025.5" r="7"/><circle cx="976" cy="840.1" r="7"/><circle cx="929.6" cy="668.1" r="7"/><circle cx="676.9" cy="1045.3" r="7"/><circle cx="547.9" cy="269.2" r="7"/><circle cx="251" cy="381.1" r="7"/><circle cx="915" cy="913.9" r="7"/><circle cx="802.4" cy="467.1" r="7"/><circle cx="885" cy="315.9" r="7"/><circle cx="917.5" cy="631.2" r="7"/><circle cx="655.6" cy="1061.4" r="7"/><circle cx="226" cy="373.3" r="7"/><circle cx="689.2" cy="1064.5" r="7"/><circle cx="270.9" cy="362.8" r="7"/><circle cx="339.9" cy="358.8" r="7"/><circle cx="660.1" cy="456.4" r="7"/><circle cx="403.3" cy="821" r="7"/><circle cx="405.5" cy="773.4" r="7"/><circle cx="407.9" cy="257.3" r="7"/><circle cx="940.5" cy="574.8" r="7"/><circle cx="1045.2" cy="341.3" r="7"/><circle cx="604.2" cy="907" r="7"/><circle cx="904" cy="917.6" r="7"/><circle cx="599.7" cy="913.4" r="7"/><circle cx="904.8" cy="425.2" r="7"/><circle cx="682.9" cy="993.9" r="7"/><circle cx="650.5" cy="1030.8" r="7"/><circle cx="819.4" cy="307.1" r="7"/><circle cx="367.6" cy="822" r="7"/><circle cx="883.3" cy="320.7" r="7"/><circle cx="661.7" cy="951.5" r="7"/><circle cx="585.7" cy="1000.5" r="7"/><circle cx="609.3" cy="940.6" r="7"/><circle cx="600.3" cy="1032.1" r="7"/><circle cx="715.1" cy="302.4" r="7"/><circle cx="646.8" cy="292.7" r="7"/><circle cx="650.7" cy="446.2" r="7"/><circle cx="518.8" cy="243.6" r="7"/><circle cx="718" cy="232.2" r="7"/><circle cx="667" cy="435" r="7"/><circle cx="810.5" cy="426.3" r="7"/><circle cx="933.8" cy="400.9" r="7"/><circle cx="952.3" cy="846.6" r="7"/><circle cx="981.2" cy="785.2" r="7"/><circle cx="310.3" cy="890.5" r="7"/><circle cx="907.9" cy="315.1" r="7"/><circle cx="383.1" cy="804.5" r="7"/><circle cx="638" cy="1084.6" r="7"/><circle cx="367.4" cy="541.1" r="7"/><circle cx="977.3" cy="668.4" r="7"/><circle cx="677.6" cy="1013.1" r="7"/><circle cx="591.4" cy="938.1" r="7"/><circle cx="327.5" cy="421.7" r="7"/><circle cx="373.6" cy="303.4" r="7"/><circle cx="365.1" cy="552.2" r="7"/><circle cx="450.9" cy="408.7" r="7"/><circle cx="947.1" cy="428.3" r="7"/><circle cx="1061.3" cy="382.4" r="7"/><circle cx="646.9" cy="339.7" r="7"/><circle cx="691.4" cy="794.8" r="7"/><circle cx="695.9" cy="994.6" r="7"/><circle cx="1001.9" cy="451.5" r="7"/><circle cx="362.7" cy="830.8" r="7"/><circle cx="938.1" cy="401.1" r="7"/><circle cx="1038.6" cy="444.5" r="7"/><circle cx="470.4" cy="224.6" r="7"/><circle cx="689.5" cy="1068.3" r="7"/><circle cx="948" cy="903.1" r="7"/><circle cx="754.7" cy="460.5" r="7"/><circle cx="514.8" cy="217.8" r="7"/><circle cx="988.7" cy="795" r="7"/><circle cx="603.8" cy="974.5" r="7"/><circle cx="966.9" cy="680.8" r="7"/><circle cx="386.1" cy="421.7" r="7"/><circle cx="397.1" cy="845.5" r="7"/><circle cx="908.8" cy="854.7" r="7"/><circle cx="853.3" cy="442.8" r="7"/><circle cx="952.9" cy="640.9" r="7"/><circle cx="938" cy="506" r="7"/><circle cx="850.8" cy="715.1" r="7"/><circle cx="370.9" cy="800.1" r="7"/><circle cx="634.4" cy="972.1" r="7"/><circle cx="386.1" cy="400.4" r="7"/><circle cx="633.1" cy="430.5" r="7"/><circle cx="693.1" cy="1025" r="7"/><circle cx="614.1" cy="1069.9" r="7"/><circle cx="821.2" cy="707.6" r="7"/><circle cx="906" cy="294.8" r="7"/><circle cx="915.3" cy="297.6" r="7"/><circle cx="971.3" cy="446.3" r="7"/><circle cx="650.3" cy="457.8" r="7"/><circle cx="207" cy="400.4" r="7"/><circle cx="530.6" cy="500.3" r="7"/><circle cx="874.1" cy="647.6" r="7"/><circle cx="333.4" cy="534.4" r="7"/><circle cx="626.6" cy="971.8" r="7"/><circle cx="656.3" cy="945.8" r="7"/><circle cx="1004.6" cy="442.5" r="7"/><circle cx="817.9" cy="343.4" r="7"/></g><g fill="#5b86b6"><circle cx="966.6" cy="445.4" r="7"/><circle cx="859.5" cy="434.1" r="7"/><circle cx="528.4" cy="346.6" r="7"/><circle cx="903" cy="921.8" r="7"/><circle cx="339.6" cy="437" r="7"/><circle cx="404.3" cy="453.2" r="7"/><circle cx="309.7" cy="392.3" r="7"/><circle cx="331.9" cy="321.5" r="7"/><circle cx="900.9" cy="293.8" r="7"/><circle cx="684.5" cy="1061.3" r="7"/><circle cx="383.5" cy="270.3" r="7"/><circle cx="634.1" cy="517.6" r="7"/><circle cx="443" cy="276.1" r="7"/><circle cx="681.1" cy="1001.8" r="7"/><circle cx="589.5" cy="1074" r="7"/><circle cx="874.1" cy="371.7" r="7"/><circle cx="459" cy="345.6" r="7"/><circle cx="956.6" cy="847.5" r="7"/><circle cx="732.5" cy="313.3" r="7"/><circle cx="912.9" cy="635.5" r="7"/><circle cx="891.2" cy="870.9" r="7"/><circle cx="824.9" cy="636.2" r="7"/><circle cx="654.5" cy="934.9" r="7"/><circle cx="926" cy="878.1" r="7"/><circle cx="503.4" cy="327.9" r="7"/><circle cx="620" cy="1003.7" r="7"/><circle cx="294.3" cy="439.1" r="7"/><circle cx="469.6" cy="224.4" r="7"/><circle cx="468.3" cy="369" r="7"/><circle cx="538" cy="228.1" r="7"/><circle cx="635.5" cy="1011.2" r="7"/><circle cx="1020.7" cy="475.7" r="7"/><circle cx="282" cy="394" r="7"/><circle cx="366" cy="788" r="7"/><circle cx="568.8" cy="511.3" r="7"/><circle cx="685.9" cy="1049.6" r="7"/><circle cx="919.9" cy="849.5" r="7"/><circle cx="946" cy="656.5" r="7"/><circle cx="961.7" cy="632.8" r="7"/><circle cx="610.2" cy="1000.1" r="7"/><circle cx="283.9" cy="389.8" r="7"/><circle cx="922.2" cy="431" r="7"/><circle cx="505.5" cy="254" r="7"/><circle cx="890" cy="381.1" r="7"/><circle cx="918.3" cy="877.4" r="7"/><circle cx="880.1" cy="646.6" r="7"/><circle cx="846.5" cy="422.6" r="7"/><circle cx="443.5" cy="280.3" r="7"/><circle cx="649.3" cy="523.6" r="7"/><circle cx="875.1" cy="591.5" r="7"/><circle cx="474" cy="897.9" r="7"/><circle cx="465.6" cy="399.4" r="7"/><circle cx="860.4" cy="362.1" r="7"/><circle cx="354" cy="488" r="7"/><circle cx="300.1" cy="477.4" r="7"/><circle cx="701.1" cy="1046.6" r="7"/><circle cx="457.9" cy="339.4" r="7"/><circle cx="1013.4" cy="443.1" r="7"/><circle cx="807.5" cy="712.8" r="7"/><circle cx="911.4" cy="325" r="7"/><circle cx="938.5" cy="854.4" r="7"/><circle cx="342.2" cy="241.4" r="7"/><circle cx="591" cy="975.4" r="7"/><circle cx="684.2" cy="1031" r="7"/><circle cx="369.4" cy="572.4" r="7"/><circle cx="606.7" cy="1007.2" r="7"/><circle cx="949.2" cy="420.8" r="7"/><circle cx="546.2" cy="245.8" r="7"/><circle cx="868.7" cy="899.8" r="7"/><circle cx="741" cy="1042.9" r="7"/><circle cx="846.2" cy="321.2" r="7"/><circle cx="862.5" cy="279.5" r="7"/><circle cx="918" cy="439.1" r="7"/><circle cx="562.9" cy="230.9" r="7"/><circle cx="751.9" cy="757.7" r="7"/><circle cx="507.3" cy="225.4" r="7"/><circle cx="591.2" cy="896.6" r="7"/><circle cx="907.4" cy="823.7" r="7"/><circle cx="911" cy="391" r="7"/><circle cx="887" cy="867.5" r="7"/><circle cx="906.3" cy="399.4" r="7"/><circle cx="642.1" cy="1058.3" r="7"/><circle cx="425.6" cy="739.5" r="7"/><circle cx="630.5" cy="945.5" r="7"/><circle cx="322.9" cy="290.6" r="7"/><circle cx="876" cy="643.5" r="7"/><circle cx="824.2" cy="432.2" r="7"/><circle cx="465.3" cy="229.3" r="7"/><circle cx="969.6" cy="434.2" r="7"/><circle cx="329.3" cy="291.5" r="7"/><circle cx="390" cy="245.6" r="7"/><circle cx="594.5" cy="980.3" r="7"/><circle cx="625.5" cy="1046.6" r="7"/><circle cx="677.5" cy="240" r="7"/><circle cx="339.1" cy="508.5" r="7"/><circle cx="662.6" cy="1061.2" r="7"/><circle cx="647.6" cy="326" r="7"/><circle cx="397.2" cy="430" r="7"/><circle cx="979.1" cy="310.4" r="7"/><circle cx="873.9" cy="849.8" r="7"/><circle cx="429.7" cy="259.9" r="7"/><circle cx="829.9" cy="314.7" r="7"/><circle cx="1061.6" cy="313.7" r="7"/><circle cx="492.7" cy="217" r="7"/><circle cx="578.5" cy="1026" r="7"/><circle cx="919.8" cy="917.5" r="7"/><circle cx="945.2" cy="637.2" r="7"/><circle cx="920.8" cy="781" r="7"/><circle cx="881.2" cy="406.5" r="7"/><circle cx="708.4" cy="354" r="7"/><circle cx="1061.7" cy="460.3" r="7"/><circle cx="401.3" cy="784.3" r="7"/><circle cx="326.2" cy="917.5" r="7"/><circle cx="686.2" cy="1019.7" r="7"/><circle cx="554.9" cy="211.1" r="7"/><circle cx="931" cy="793.5" r="7"/><circle cx="318" cy="387.9" r="7"/><circle cx="918.8" cy="654.6" r="7"/><circle cx="540.8" cy="254.8" r="7"/><circle cx="532.1" cy="272.8" r="7"/><circle cx="652.6" cy="993.9" r="7"/><circle cx="874.2" cy="408.2" r="7"/><circle cx="508.3" cy="344.8" r="7"/><circle cx="545.5" cy="237.9" r="7"/><circle cx="691.3" cy="959.5" r="7"/><circle cx="593.2" cy="961.9" r="7"/><circle cx="549.4" cy="299.3" r="7"/><circle cx="583.8" cy="525.7" r="7"/><circle cx="946.1" cy="822.4" r="7"/><circle cx="355.5" cy="928.5" r="7"/><circle cx="301.4" cy="319.5" r="7"/><circle cx="358.3" cy="463.8" r="7"/><circle cx="903.5" cy="378.2" r="7"/><circle cx="603.5" cy="979" r="7"/><circle cx="902.6" cy="904.5" r="7"/><circle cx="812.4" cy="435.1" r="7"/><circle cx="886.4" cy="654.1" r="7"/><circle cx="365.7" cy="355.6" r="7"/><circle cx="656.2" cy="278.4" r="7"/><circle cx="944" cy="581" r="7"/><circle cx="965.2" cy="424.7" r="7"/><circle cx="788.9" cy="882.2" r="7"/><circle cx="792.1" cy="973.5" r="7"/><circle cx="321.9" cy="407.5" r="7"/><circle cx="938.3" cy="424.3" r="7"/></g><g fill="#5c88b9"><circle cx="919.8" cy="640.5" r="7"/><circle cx="698.2" cy="379.6" r="7"/><circle cx="358.2" cy="789.4" r="7"/><circle cx="1023.2" cy="486.1" r="7"/><circle cx="902.1" cy="382.5" r="7"/><circle cx="924.8" cy="495.6" r="7"/><circle cx="702" cy="1040.6" r="7"/><circle cx="647" cy="323.9" r="7"/><circle cx="545.2" cy="1020.7" r="7"/><circle cx="877.9" cy="872.9" r="7"/><circle cx="372.8" cy="841.2" r="7"/><circle cx="562.6" cy="1018.5" r="7"/><circle cx="686.8" cy="1023.5" r="7"/><circle cx="609.7" cy="1040.3" r="7"/><circle cx="649" cy="942.7" r="7"/><circle cx="786.9" cy="434.4" r="7"/><circle cx="989.4" cy="828.2" r="7"/><circle cx="646" cy="949.9" r="7"/><circle cx="581.1" cy="1029.4" r="7"/><circle cx="876.8" cy="566.7" r="7"/><circle cx="560.3" cy="987.5" r="7"/><circle cx="892.7" cy="322.7" r="7"/><circle cx="712.9" cy="1013.1" r="7"/><circle cx="447.5" cy="412.3" r="7"/><circle cx="960.4" cy="858.6" r="7"/><circle cx="342.4" cy="310.5" r="7"/><circle cx="815.4" cy="298.1" r="7"/><circle cx="623.6" cy="949" r="7"/><circle cx="384" cy="797.2" r="7"/><circle cx="781.6" cy="281.9" r="7"/><circle cx="928" cy="790.7" r="7"/><circle cx="577.2" cy="940.8" r="7"/><circle cx="383" cy="403" r="7"/><circle cx="911.2" cy="628.3" r="7"/><circle cx="549.2" cy="261.9" r="7"/><circle cx="370.4" cy="394.5" r="7"/><circle cx="659.5" cy="954.7" r="7"/><circle cx="604.3" cy="982.6" r="7"/><circle cx="907.6" cy="916.1" r="7"/><circle cx="639.9" cy="942.6" r="7"/><circle cx="544.5" cy="209.7" r="7"/><circle cx="593.5" cy="991.8" r="7"/><circle cx="686.7" cy="674" r="7"/><circle cx="844.2" cy="426.5" r="7"/><circle cx="666" cy="994.2" r="7"/><circle cx="628.1" cy="306" r="7"/><circle cx="393" cy="253.9" r="7"/><circle cx="654.8" cy="973.7" r="7"/><circle cx="622.1" cy="1020.2" r="7"/><circle cx="336" cy="542.6" r="7"/><circle cx="608.5" cy="926.3" r="7"/><circle cx="419.3" cy="406.4" r="7"/><circle cx="1026.7" cy="456.7" r="7"/><circle cx="915.5" cy="309.7" r="7"/><circle cx="705.2" cy="363.9" r="7"/><circle cx="715.2" cy="1036.9" r="7"/><circle cx="926.3" cy="398.6" r="7"/><circle cx="558.1" cy="1014.6" r="7"/><circle cx="916.9" cy="935.4" r="7"/><circle cx="893.2" cy="914.3" r="7"/><circle cx="877.5" cy="881.1" r="7"/><circle cx="873.6" cy="640.8" r="7"/><circle cx="395.7" cy="756" r="7"/><circle cx="993.4" cy="442" r="7"/><circle cx="358.8" cy="819.3" r="7"/><circle cx="603.3" cy="229.1" r="7"/><circle cx="938.6" cy="841.5" r="7"/><circle cx="778.9" cy="843" r="7"/><circle cx="1025.4" cy="466.3" r="7"/><circle cx="909.6" cy="505.8" r="7"/><circle cx="861.1" cy="584.2" r="7"/><circle cx="380.6" cy="802.2" r="7"/><circle cx="921.4" cy="632.1" r="7"/><circle cx="665.5" cy="943.9" r="7"/><circle cx="369.1" cy="389.6" r="7"/><circle cx="623.9" cy="1073.5" r="7"/><circle cx="617.6" cy="555.4" r="7"/><circle cx="619.8" cy="214.9" r="7"/><circle cx="288.5" cy="900.9" r="7"/><circle cx="526.9" cy="287.7" r="7"/><circle cx="955.8" cy="792.6" r="7"/><circle cx="863.9" cy="893.2" r="7"/><circle cx="655.1" cy="313.8" r="7"/><circle cx="762.8" cy="432.2" r="7"/><circle cx="638.7" cy="946.9" r="7"/><circle cx="626.5" cy="1021.7" r="7"/><circle cx="637.7" cy="540.7" r="7"/><circle cx="959.8" cy="813.7" r="7"/><circle cx="400.5" cy="543.5" r="7"/><circle cx="637.1" cy="927" r="7"/><circle cx="790.8" cy="829.7" r="7"/><circle cx="348.2" cy="797.4" r="7"/><circle cx="656" cy="448.7" r="7"/><circle cx="694.6" cy="652.4" r="7"/><circle cx="760.9" cy="450.9" r="7"/><circle cx="337.8" cy="312.4" r="7"/><circle cx="958.5" cy="842.7" r="7"/><circle cx="991.6" cy="447.9" r="7"/><circle cx="345.6" cy="310.6" r="7"/><circle cx="645.2" cy="953.8" r="7"/><circle cx="589.6" cy="1078.6" r="7"/><circle cx="368.6" cy="497.1" r="7"/><circle cx="655.6" cy="1047.4" r="7"/><circle cx="375.9" cy="814.2" r="7"/><circle cx="364.3" cy="810.2" r="7"/><circle cx="332.1" cy="815.4" r="7"/><circle cx="639.4" cy="278.9" r="7"/><circle cx="371.8" cy="396.4" r="7"/><circle cx="564.8" cy="1062.1" r="7"/><circle cx="622.8" cy="555.5" r="7"/><circle cx="651.8" cy="258.5" r="7"/><circle cx="932" cy="850.8" r="7"/><circle cx="332.5" cy="921.5" r="7"/><circle cx="658.3" cy="1069.6" r="7"/><circle cx="697.6" cy="1030.4" r="7"/><circle cx="871.5" cy="380.6" r="7"/><circle cx="371.6" cy="334.6" r="7"/><circle cx="482" cy="260.9" r="7"/><circle cx="978.3" cy="654.7" r="7"/><circle cx="447.4" cy="248.5" r="7"/><circle cx="894.2" cy="389.6" r="7"/><circle cx="414.9" cy="824.5" r="7"/><circle cx="966.7" cy="794.4" r="7"/><circle cx="961.5" cy="838.7" r="7"/><circle cx="950.3" cy="882.3" r="7"/><circle cx="971.3" cy="672.5" r="7"/><circle cx="678.8" cy="1054.1" r="7"/><circle cx="297" cy="900.8" r="7"/><circle cx="964.2" cy="819.1" r="7"/><circle cx="388.5" cy="333.8" r="7"/><circle cx="715.2" cy="367.9" r="7"/><circle cx="918.1" cy="824" r="7"/><circle cx="648.7" cy="326.6" r="7"/><circle cx="789.9" cy="709.3" r="7"/><circle cx="248.9" cy="409.8" r="7"/><circle cx="952.2" cy="657" r="7"/><circle cx="425.2" cy="416.9" r="7"/><circle cx="862.7" cy="405.8" r="7"/><circle cx="584" cy="1002.6" r="7"/><circle cx="984.5" cy="796.4" r="7"/><circle cx="851.6" cy="429.9" r="7"/><circle cx="586.4" cy="1068" r="7"/><circle cx="349" cy="336.5" r="7"/><circle cx="461" cy="254.2" r="7"/><circle cx="662" cy="1068.7" r="7"/><circle cx="837.2" cy="845.4" r="7"/><circle cx="432.6" cy="221.6" r="7"/><circle cx="530.3" cy="340.3" r="7"/><circle cx="549.3" cy="229.8" r="7"/><circle cx="371.9" cy="831.6" r="7"/><circle cx="868.1" cy="866.1" r="7"/><circle cx="915.9" cy="638.9" r="7"/><circle cx="856.7" cy="430.8" r="7"/><circle cx="606" cy="903.2" r="7"/><circle cx="292.3" cy="306.8" r="7"/><circle cx="371.1" cy="946.5" r="7"/><circle cx="715.1" cy="1026.4" r="7"/><circle cx="743.2" cy="1020.7" r="7"/><circle cx="981" cy="798.1" r="7"/><circle cx="953.3" cy="439.1" r="7"/><circle cx="518.5" cy="491.9" r="7"/><circle cx="787.6" cy="854.1" r="7"/><circle cx="441.3" cy="400.5" r="7"/><circle cx="297" cy="333.9" r="7"/><circle cx="439.7" cy="283.2" r="7"/><circle cx="611.8" cy="942.5" r="7"/><circle cx="880.3" cy="921.9" r="7"/><circle cx="588.7" cy="1057.1" r="7"/><circle cx="379.4" cy="260.2" r="7"/><circle cx="935.4" cy="888.2" r="7"/><circle cx="430.3" cy="266.5" r="7"/></g><g fill="#5e8bbc"><circle cx="325.2" cy="461" r="7"/><circle cx="750.7" cy="288.6" r="7"/><circle cx="634.9" cy="1073.3" r="7"/><circle cx="579.6" cy="287.3" r="7"/><circle cx="598.1" cy="920.2" r="7"/><circle cx="890.2" cy="858" r="7"/><circle cx="658.8" cy="1064" r="7"/><circle cx="925" cy="677" r="7"/><circle cx="409.2" cy="419.7" r="7"/><circle cx="389.7" cy="840.5" r="7"/><circle cx="1041.6" cy="488.9" r="7"/><circle cx="563.1" cy="199.9" r="7"/><circle cx="981" cy="854.9" r="7"/><circle cx="999.2" cy="479.2" r="7"/><circle cx="942.1" cy="861.8" r="7"/><circle cx="849.5" cy="878" r="7"/><circle cx="700.3" cy="1062.9" r="7"/><circle cx="368.9" cy="524.5" r="7"/><circle cx="895" cy="891.9" r="7"/><circle cx="455.7" cy="255.7" r="7"/><circle cx="327.9" cy="923" r="7"/><circle cx="269.3" cy="391.2" r="7"/><circle cx="590.4" cy="899.5" r="7"/><circle cx="459.6" cy="403" r="7"/><circle cx="316.3" cy="396.6" r="7"/><circle cx="314.1" cy="489.8" r="7"/><circle cx="290.7" cy="442.5" r="7"/><circle cx="699.9" cy="454.1" r="7"/><circle cx="899.9" cy="854.6" r="7"/><circle cx="1093.1" cy="470.1" r="7"/><circle cx="632" cy="1002" r="7"/><circle cx="913.9" cy="890.4" r="7"/><circle cx="759.4" cy="304.9" r="7"/><circle cx="620.3" cy="1027.6" r="7"/><circle cx="632.9" cy="1009" r="7"/><circle cx="846.8" cy="438" r="7"/><circle cx="633.3" cy="510.5" r="7"/><circle cx="784.8" cy="874.5" r="7"/><circle cx="627.8" cy="934.5" r="7"/><circle cx="310" cy="911.5" r="7"/><circle cx="348.3" cy="786.9" r="7"/><circle cx="648.6" cy="442.6" r="7"/><circle cx="934.6" cy="902.8" r="7"/><circle cx="954.8" cy="820.5" r="7"/><circle cx="369.7" cy="811" r="7"/><circle cx="344.3" cy="539.9" r="7"/><circle cx="803.9" cy="301" r="7"/><circle cx="601.8" cy="1050.6" r="7"/><circle cx="491.8" cy="895.3" r="7"/><circle cx="291.1" cy="415.3" r="7"/><circle cx="937.4" cy="901.9" r="7"/><circle cx="599.4" cy="225.6" r="7"/><circle cx="433.4" cy="305.3" r="7"/><circle cx="463.4" cy="248.6" r="7"/><circle cx="724.5" cy="275.9" r="7"/><circle cx="573.8" cy="1037.7" r="7"/><circle cx="869.9" cy="846.7" r="7"/><circle cx="961.9" cy="864.5" r="7"/><circle cx="373.6" cy="796.7" r="7"/><circle cx="941.9" cy="637.3" r="7"/><circle cx="263" cy="415.1" r="7"/><circle cx="331.9" cy="504.1" r="7"/><circle cx="698.7" cy="1051.2" r="7"/><circle cx="946.9" cy="881.3" r="7"/><circle cx="638.5" cy="1076.3" r="7"/><circle cx="528.5" cy="274.6" r="7"/><circle cx="981.8" cy="652.4" r="7"/><circle cx="633.8" cy="545.8" r="7"/><circle cx="870.4" cy="396.3" r="7"/><circle cx="596.8" cy="907.5" r="7"/><circle cx="943.9" cy="646.9" r="7"/><circle cx="692.3" cy="367.1" r="7"/><circle cx="787.1" cy="460.9" r="7"/><circle cx="938.6" cy="656.6" r="7"/><circle cx="554.4" cy="320.1" r="7"/><circle cx="636.7" cy="318.8" r="7"/><circle cx="327.4" cy="396.9" r="7"/><circle cx="936.9" cy="666.4" r="7"/><circle cx="898.7" cy="302.8" r="7"/><circle cx="580.9" cy="271.5" r="7"/><circle cx="648.8" cy="958.1" r="7"/><circle cx="383.6" cy="791.1" r="7"/><circle cx="599.8" cy="938.9" r="7"/><circle cx="955.4" cy="654.4" r="7"/><circle cx="796" cy="921.5" r="7"/><circle cx="862.5" cy="278.8" r="7"/><circle cx="672.5" cy="412.5" r="7"/><circle cx="825" cy="700" r="7"/><circle cx="566.2" cy="274.5" r="7"/><circle cx="590.3" cy="454.1" r="7"/><circle cx="628.3" cy="966.9" r="7"/><circle cx="618.3" cy="992.2" r="7"/><circle cx="638.8" cy="1007" r="7"/><circle cx="652" cy="1014.1" r="7"/><circle cx="566.3" cy="1017.2" r="7"/><circle cx="1018.9" cy="824.2" r="7"/><circle cx="438.2" cy="279" r="7"/><circle cx="898.3" cy="874.9" r="7"/><circle cx="897.9" cy="395.5" r="7"/><circle cx="650.8" cy="1076.4" r="7"/><circle cx="385.9" cy="327.9" r="7"/><circle cx="938.6" cy="634.9" r="7"/><circle cx="666.3" cy="321.2" r="7"/><circle cx="657.9" cy="1059.3" r="7"/><circle cx="595.7" cy="282" r="7"/><circle cx="528.1" cy="355.3" r="7"/><circle cx="829.3" cy="294" r="7"/><circle cx="316" cy="292.4" r="7"/><circle cx="555.7" cy="248.3" r="7"/><circle cx="926.4" cy="849.6" r="7"/><circle cx="349" cy="277.9" r="7"/><circle cx="357.1" cy="926.5" r="7"/><circle cx="929.2" cy="842" r="7"/><circle cx="555.4" cy="192.9" r="7"/><circle cx="303.2" cy="477.6" r="7"/><circle cx="363.7" cy="306.8" r="7"/><circle cx="333.3" cy="249.8" r="7"/><circle cx="471.6" cy="255.2" r="7"/><circle cx="998.5" cy="439.5" r="7"/><circle cx="355.8" cy="466.4" r="7"/><circle cx="631" cy="1076.4" r="7"/><circle cx="683.2" cy="964.1" r="7"/><circle cx="644.6" cy="256.6" r="7"/><circle cx="648.1" cy="995.8" r="7"/><circle cx="467.3" cy="298.4" r="7"/><circle cx="664.8" cy="1074.7" r="7"/><circle cx="886.1" cy="909.9" r="7"/><circle cx="576.7" cy="1039" r="7"/><circle cx="734.3" cy="302" r="7"/><circle cx="972.6" cy="881.9" r="7"/><circle cx="926.7" cy="649.6" r="7"/><circle cx="414.7" cy="367.9" r="7"/><circle cx="406.8" cy="825.9" r="7"/><circle cx="585.2" cy="993.4" r="7"/><circle cx="948.5" cy="388.9" r="7"/><circle cx="407.3" cy="232.9" r="7"/><circle cx="812.8" cy="716.7" r="7"/><circle cx="628.1" cy="315.7" r="7"/><circle cx="306.8" cy="487" r="7"/><circle cx="934.1" cy="853" r="7"/><circle cx="873.6" cy="944.3" r="7"/><circle cx="368" cy="430.7" r="7"/><circle cx="882.5" cy="404" r="7"/><circle cx="955.4" cy="500.8" r="7"/><circle cx="383.5" cy="393.1" r="7"/><circle cx="366.7" cy="411.4" r="7"/><circle cx="931.6" cy="399.7" r="7"/><circle cx="970.2" cy="425" r="7"/><circle cx="318.3" cy="460.8" r="7"/><circle cx="986.3" cy="411.2" r="7"/><circle cx="843.4" cy="851.7" r="7"/><circle cx="292.4" cy="310.5" r="7"/><circle cx="359.4" cy="393.5" r="7"/><circle cx="1055.6" cy="441.4" r="7"/><circle cx="387.2" cy="490.4" r="7"/><circle cx="940.3" cy="666.4" r="7"/><circle cx="922.6" cy="794" r="7"/><circle cx="862.6" cy="833.7" r="7"/><circle cx="888.3" cy="386.4" r="7"/><circle cx="941.7" cy="829.6" r="7"/><circle cx="844.6" cy="698" r="7"/><circle cx="681.1" cy="998" r="7"/><circle cx="303.6" cy="902.3" r="7"/><circle cx="585.3" cy="998.1" r="7"/><circle cx="289" cy="315.5" r="7"/><circle cx="969.4" cy="808.9" r="7"/><circle cx="952.1" cy="787.4" r="7"/><circle cx="413" cy="376.7" r="7"/><circle cx="913.4" cy="443.2" r="7"/><circle cx="511.9" cy="240.7" r="7"/><circle cx="312.1" cy="373.2" r="7"/></g><g fill="#5f8dc0"><circle cx="291.8" cy="913.1" r="7"/><circle cx="724.1" cy="1027.1" r="7"/><circle cx="362.9" cy="391.1" r="7"/><circle cx="941.8" cy="826.7" r="7"/><circle cx="360.8" cy="507" r="7"/><circle cx="871.1" cy="909.2" r="7"/><circle cx="285.6" cy="353.3" r="7"/><circle cx="1001.3" cy="834.3" r="7"/><circle cx="484.2" cy="371.3" r="7"/><circle cx="626.3" cy="307.1" r="7"/><circle cx="726.5" cy="298.9" r="7"/><circle cx="847" cy="364.7" r="7"/><circle cx="828" cy="504" r="7"/><circle cx="879.3" cy="892.6" r="7"/><circle cx="350.7" cy="967.1" r="7"/><circle cx="338.6" cy="926.3" r="7"/><circle cx="603.5" cy="952.8" r="7"/><circle cx="356.6" cy="423.1" r="7"/><circle cx="920.8" cy="326.8" r="7"/><circle cx="947.8" cy="680.3" r="7"/><circle cx="340.2" cy="284.7" r="7"/><circle cx="668.1" cy="693.8" r="7"/><circle cx="737" cy="1045.3" r="7"/><circle cx="692.6" cy="1044.6" r="7"/><circle cx="789.4" cy="320.1" r="7"/><circle cx="919.7" cy="892.3" r="7"/><circle cx="848.1" cy="857.3" r="7"/><circle cx="864" cy="620.3" r="7"/><circle cx="543.8" cy="1022.7" r="7"/><circle cx="858.9" cy="875.4" r="7"/><circle cx="548.8" cy="206.9" r="7"/><circle cx="684.4" cy="466.9" r="7"/><circle cx="651.1" cy="959.4" r="7"/><circle cx="452.8" cy="252.8" r="7"/><circle cx="883.4" cy="833.3" r="7"/><circle cx="415.6" cy="275.1" r="7"/><circle cx="319.6" cy="505.4" r="7"/><circle cx="884.5" cy="914.4" r="7"/><circle cx="862" cy="394.4" r="7"/><circle cx="294.7" cy="485" r="7"/><circle cx="558" cy="1034.3" r="7"/><circle cx="944.2" cy="650.7" r="7"/><circle cx="869.5" cy="893.8" r="7"/><circle cx="548.3" cy="1042.1" r="7"/><circle cx="538.3" cy="1018.3" r="7"/><circle cx="605.3" cy="906.4" r="7"/><circle cx="938.6" cy="820.1" r="7"/><circle cx="356.4" cy="825.3" r="7"/><circle cx="759.3" cy="297.4" r="7"/><circle cx="428.7" cy="247.8" r="7"/><circle cx="878" cy="890.8" r="7"/><circle cx="965.6" cy="872" r="7"/><circle cx="628.4" cy="311.5" r="7"/><circle cx="882.7" cy="630.7" r="7"/><circle cx="896.7" cy="387.3" r="7"/><circle cx="449.4" cy="232.5" r="7"/><circle cx="866.1" cy="904.2" r="7"/><circle cx="362.4" cy="789.2" r="7"/><circle cx="290.5" cy="407.8" r="7"/><circle cx="305.6" cy="394.7" r="7"/><circle cx="864.5" cy="641.1" r="7"/><circle cx="386.1" cy="427.1" r="7"/><circle cx="689.8" cy="694.8" r="7"/><circle cx="412.5" cy="832.5" r="7"/><circle cx="334.7" cy="399.9" r="7"/><circle cx="662.9" cy="1013.3" r="7"/><circle cx="435.2" cy="255.5" r="7"/><circle cx="429.7" cy="402.7" r="7"/><circle cx="585.3" cy="287.1" r="7"/><circle cx="940.6" cy="851" r="7"/><circle cx="615.3" cy="546.2" r="7"/><circle cx="655.6" cy="942" r="7"/><circle cx="645.9" cy="522.1" r="7"/><circle cx="962.9" cy="825.6" r="7"/><circle cx="580.3" cy="280.9" r="7"/><circle cx="340.4" cy="540.2" r="7"/><circle cx="639.7" cy="1055" r="7"/><circle cx="254.9" cy="410.3" r="7"/><circle cx="917.8" cy="390.7" r="7"/><circle cx="403" cy="274.5" r="7"/><circle cx="898.9" cy="937.8" r="7"/><circle cx="575" cy="1056.9" r="7"/><circle cx="399.2" cy="855.2" r="7"/><circle cx="931.4" cy="870.3" r="7"/><circle cx="664" cy="1049.4" r="7"/><circle cx="883.6" cy="864.3" r="7"/><circle cx="379.4" cy="400.9" r="7"/><circle cx="530.6" cy="564.9" r="7"/><circle cx="701.9" cy="1012.8" r="7"/><circle cx="793.5" cy="418.8" r="7"/><circle cx="810.2" cy="732.8" r="7"/><circle cx="506.8" cy="349.5" r="7"/><circle cx="303.4" cy="440.2" r="7"/><circle cx="383.9" cy="358.1" r="7"/><circle cx="455.6" cy="221.5" r="7"/><circle cx="952" cy="426.1" r="7"/><circle cx="304.7" cy="909.9" r="7"/><circle cx="339.4" cy="465.1" r="7"/><circle cx="536.9" cy="1012.5" r="7"/><circle cx="925.7" cy="830.9" r="7"/><circle cx="674.1" cy="1014.2" r="7"/><circle cx="932.2" cy="864.7" r="7"/><circle cx="636.9" cy="302.9" r="7"/><circle cx="421" cy="824" r="7"/><circle cx="1010.1" cy="463" r="7"/><circle cx="919.8" cy="878" r="7"/><circle cx="605.9" cy="551" r="7"/><circle cx="884.9" cy="389.9" r="7"/><circle cx="428.8" cy="321.7" r="7"/><circle cx="935.4" cy="418.9" r="7"/><circle cx="313.3" cy="449" r="7"/><circle cx="981.1" cy="848" r="7"/><circle cx="290.9" cy="437.2" r="7"/><circle cx="982.3" cy="861.7" r="7"/><circle cx="394.9" cy="460.5" r="7"/><circle cx="584.9" cy="322.1" r="7"/><circle cx="413.5" cy="390.1" r="7"/><circle cx="900.8" cy="855.1" r="7"/><circle cx="986.9" cy="801.8" r="7"/><circle cx="404.3" cy="857.3" r="7"/><circle cx="1029.6" cy="810.4" r="7"/><circle cx="861.8" cy="889.2" r="7"/><circle cx="312.4" cy="431.7" r="7"/><circle cx="381" cy="278.6" r="7"/><circle cx="697.1" cy="295.8" r="7"/><circle cx="398.4" cy="241.9" r="7"/><circle cx="872.6" cy="356.7" r="7"/><circle cx="283.4" cy="310.5" r="7"/><circle cx="899.1" cy="877.8" r="7"/><circle cx="961.3" cy="877" r="7"/><circle cx="1009.4" cy="486.7" r="7"/><circle cx="805.5" cy="747.8" r="7"/><circle cx="942.8" cy="869.5" r="7"/><circle cx="450.5" cy="311.1" r="7"/><circle cx="307.5" cy="528.3" r="7"/><circle cx="569.4" cy="1045.8" r="7"/><circle cx="276.1" cy="373.4" r="7"/><circle cx="954.5" cy="646.3" r="7"/><circle cx="349.8" cy="922" r="7"/><circle cx="599.6" cy="965.1" r="7"/><circle cx="555" cy="208.4" r="7"/><circle cx="396.5" cy="256.3" r="7"/><circle cx="601.1" cy="902.4" r="7"/><circle cx="598.5" cy="892.7" r="7"/><circle cx="984.2" cy="461.3" r="7"/></g><g fill="#6190c3"><circle cx="876.6" cy="905.4" r="7"/><circle cx="362.5" cy="374.5" r="7"/><circle cx="615.9" cy="709" r="7"/><circle cx="310" cy="337.6" r="7"/><circle cx="695" cy="1024.4" r="7"/><circle cx="407.6" cy="284.2" r="7"/><circle cx="877.9" cy="843.5" r="7"/><circle cx="362.4" cy="488.7" r="7"/><circle cx="370.2" cy="337.5" r="7"/><circle cx="438.8" cy="368.6" r="7"/><circle cx="938.5" cy="679.6" r="7"/><circle cx="982.9" cy="659.1" r="7"/><circle cx="621.9" cy="941.3" r="7"/><circle cx="433.7" cy="810" r="7"/><circle cx="602.8" cy="1042.2" r="7"/><circle cx="669.6" cy="932" r="7"/><circle cx="914.7" cy="402.6" r="7"/><circle cx="917.7" cy="667" r="7"/><circle cx="382.2" cy="472.6" r="7"/><circle cx="1017.9" cy="452.2" r="7"/><circle cx="545.7" cy="1012.1" r="7"/><circle cx="400.6" cy="406.7" r="7"/><circle cx="348.8" cy="372.9" r="7"/><circle cx="295.4" cy="911.1" r="7"/><circle cx="362.3" cy="333.2" r="7"/><circle cx="340.1" cy="437.7" r="7"/><circle cx="359.8" cy="823.6" r="7"/><circle cx="418.9" cy="445.2" r="7"/><circle cx="591.7" cy="1042.4" r="7"/><circle cx="303.1" cy="329.1" r="7"/><circle cx="562.9" cy="1042.1" r="7"/><circle cx="638.1" cy="1002.4" r="7"/><circle cx="736.8" cy="1022" r="7"/><circle cx="284.6" cy="430.4" r="7"/><circle cx="943.4" cy="633.6" r="7"/><circle cx="451.4" cy="412.1" r="7"/><circle cx="894.7" cy="911.4" r="7"/><circle cx="938.6" cy="644.2" r="7"/><circle cx="400.9" cy="360" r="7"/><circle cx="861.3" cy="826.8" r="7"/><circle cx="470.5" cy="344.7" r="7"/><circle cx="367.6" cy="398.7" r="7"/><circle cx="437.3" cy="256.1" r="7"/><circle cx="655.4" cy="462.6" r="7"/><circle cx="268.8" cy="370.6" r="7"/><circle cx="602.9" cy="742.5" r="7"/><circle cx="881.8" cy="915.9" r="7"/><circle cx="1023.5" cy="796.6" r="7"/><circle cx="775.8" cy="731.2" r="7"/><circle cx="778.1" cy="926.6" r="7"/><circle cx="418.3" cy="288.7" r="7"/><circle cx="890.2" cy="370.1" r="7"/><circle cx="562.4" cy="1028.8" r="7"/><circle cx="931.9" cy="871.3" r="7"/><circle cx="374.8" cy="418.9" r="7"/><circle cx="566.4" cy="978.3" r="7"/><circle cx="346.2" cy="316.3" r="7"/><circle cx="1001" cy="797.7" r="7"/><circle cx="701.3" cy="731.6" r="7"/><circle cx="961.6" cy="799.2" r="7"/><circle cx="530.5" cy="302.3" r="7"/><circle cx="703" cy="303.1" r="7"/><circle cx="493.4" cy="240.3" r="7"/><circle cx="918.2" cy="518.6" r="7"/><circle cx="655.9" cy="979.7" r="7"/><circle cx="572.9" cy="489.1" r="7"/><circle cx="494.7" cy="262" r="7"/><circle cx="796.5" cy="697" r="7"/><circle cx="572.4" cy="525.3" r="7"/><circle cx="589.7" cy="285.6" r="7"/><circle cx="319.9" cy="530.6" r="7"/><circle cx="772.7" cy="451.6" r="7"/><circle cx="355.3" cy="804.9" r="7"/><circle cx="583.8" cy="663.8" r="7"/><circle cx="647.5" cy="835" r="7"/><circle cx="787.5" cy="655" r="7"/><circle cx="732.5" cy="986.2" r="7"/><circle cx="329.2" cy="364.3" r="7"/><circle cx="318.8" cy="406.5" r="7"/><circle cx="922.8" cy="413.8" r="7"/><circle cx="544.9" cy="292.2" r="7"/><circle cx="625.3" cy="1074.7" r="7"/><circle cx="450.4" cy="279.6" r="7"/><circle cx="268.1" cy="362.8" r="7"/><circle cx="673" cy="278.6" r="7"/><circle cx="606.7" cy="1056.4" r="7"/><circle cx="638.2" cy="1047.3" r="7"/><circle cx="547.6" cy="274.2" r="7"/><circle cx="933.7" cy="906.7" r="7"/><circle cx="423.2" cy="339" r="7"/><circle cx="861.1" cy="900.7" r="7"/><circle cx="514.9" cy="321.8" r="7"/><circle cx="392" cy="377.7" r="7"/><circle cx="928.5" cy="806.1" r="7"/><circle cx="580.5" cy="230.2" r="7"/><circle cx="526.4" cy="268.7" r="7"/><circle cx="334.1" cy="545.2" r="7"/><circle cx="812.6" cy="704" r="7"/><circle cx="345.6" cy="806.9" r="7"/><circle cx="637.5" cy="1060.3" r="7"/><circle cx="412.5" cy="239.2" r="7"/><circle cx="686.7" cy="960.1" r="7"/><circle cx="345" cy="799.1" r="7"/><circle cx="651.5" cy="272.5" r="7"/><circle cx="317.2" cy="913.9" r="7"/><circle cx="531.5" cy="262.2" r="7"/><circle cx="607.4" cy="922.3" r="7"/><circle cx="519.4" cy="247.9" r="7"/><circle cx="945.2" cy="673.4" r="7"/><circle cx="487" cy="335.6" r="7"/><circle cx="598" cy="548.7" r="7"/><circle cx="389.6" cy="934.1" r="7"/><circle cx="451.1" cy="319.2" r="7"/><circle cx="304.3" cy="893.1" r="7"/><circle cx="646.7" cy="1004" r="7"/><circle cx="538.6" cy="235.1" r="7"/><circle cx="658.9" cy="1044.8" r="7"/><circle cx="713.4" cy="1039.7" r="7"/><circle cx="837.5" cy="701" r="7"/><circle cx="932" cy="889.8" r="7"/><circle cx="300.5" cy="441.9" r="7"/><circle cx="436.4" cy="437.5" r="7"/><circle cx="988.2" cy="834.1" r="7"/><circle cx="653.7" cy="506.3" r="7"/><circle cx="438.7" cy="363.1" r="7"/><circle cx="381.7" cy="350.1" r="7"/><circle cx="572.7" cy="274.1" r="7"/><circle cx="347.9" cy="259.9" r="7"/><circle cx="678.5" cy="816.9" r="7"/><circle cx="561.8" cy="1061.7" r="7"/><circle cx="316.7" cy="338.9" r="7"/><circle cx="942" cy="815.2" r="7"/><circle cx="712.2" cy="1041.7" r="7"/><circle cx="466.4" cy="287.6" r="7"/><circle cx="500.6" cy="225" r="7"/><circle cx="656.2" cy="283.2" r="7"/><circle cx="904.3" cy="897.1" r="7"/><circle cx="812.8" cy="973.8" r="7"/><circle cx="812.5" cy="438.1" r="7"/><circle cx="320.3" cy="477.8" r="7"/><circle cx="587.1" cy="560.3" r="7"/><circle cx="642" cy="1050.1" r="7"/><circle cx="601.8" cy="573.3" r="7"/><circle cx="656.2" cy="839.4" r="7"/><circle cx="669.6" cy="964.3" r="7"/><circle cx="463.4" cy="271.9" r="7"/><circle cx="282.8" cy="355.8" r="7"/><circle cx="336.5" cy="557.7" r="7"/><circle cx="362.5" cy="241.9" r="7"/><circle cx="367.9" cy="269.5" r="7"/><circle cx="359.5" cy="418.2" r="7"/><circle cx="532.4" cy="307.7" r="7"/><circle cx="750.5" cy="295.8" r="7"/><circle cx="619.6" cy="969.7" r="7"/></g><g fill="#6292c6"><circle cx="874.7" cy="858.2" r="7"/><circle cx="468.4" cy="360.1" r="7"/><circle cx="573.8" cy="1044.3" r="7"/><circle cx="931.7" cy="578.7" r="7"/><circle cx="652.3" cy="1044.9" r="7"/><circle cx="877.1" cy="623.3" r="7"/><circle cx="931.3" cy="865.1" r="7"/><circle cx="321.6" cy="375.8" r="7"/><circle cx="410.6" cy="383.8" r="7"/><circle cx="450.4" cy="285.4" r="7"/><circle cx="627.7" cy="551.6" r="7"/><circle cx="672.4" cy="973.3" r="7"/><circle cx="920.7" cy="838.7" r="7"/><circle cx="343.4" cy="279.2" r="7"/><circle cx="526.2" cy="341.4" r="7"/><circle cx="588.2" cy="961.1" r="7"/><circle cx="428.8" cy="277.1" r="7"/><circle cx="354" cy="820.2" r="7"/><circle cx="458.7" cy="227" r="7"/><circle cx="697.2" cy="1034" r="7"/><circle cx="911.6" cy="909.8" r="7"/><circle cx="460" cy="273.1" r="7"/><circle cx="744.2" cy="1027.5" r="7"/><circle cx="371.1" cy="785" r="7"/><circle cx="1005.5" cy="455" r="7"/><circle cx="581.9" cy="277.4" r="7"/><circle cx="725.6" cy="314.8" r="7"/><circle cx="934.3" cy="877.6" r="7"/><circle cx="801.8" cy="943.8" r="7"/><circle cx="845.1" cy="717.9" r="7"/><circle cx="842.7" cy="351.6" r="7"/><circle cx="330.2" cy="380.9" r="7"/><circle cx="393.3" cy="543.9" r="7"/><circle cx="1011.7" cy="786.9" r="7"/><circle cx="380.1" cy="431.4" r="7"/><circle cx="590.2" cy="1056.3" r="7"/><circle cx="667.6" cy="1073.2" r="7"/><circle cx="594.4" cy="926.1" r="7"/><circle cx="887.2" cy="906.1" r="7"/><circle cx="885" cy="931.7" r="7"/><circle cx="970.1" cy="833.8" r="7"/><circle cx="595" cy="1022.1" r="7"/><circle cx="311.7" cy="350.2" r="7"/><circle cx="867.1" cy="403.4" r="7"/><circle cx="563.6" cy="1056" r="7"/><circle cx="356.1" cy="817.7" r="7"/><circle cx="918.6" cy="789.4" r="7"/><circle cx="609.3" cy="1027.1" r="7"/><circle cx="711.5" cy="1010.4" r="7"/><circle cx="378" cy="265.6" r="7"/><circle cx="326.6" cy="318.6" r="7"/><circle cx="881.4" cy="888.6" r="7"/><circle cx="325.7" cy="493.3" r="7"/><circle cx="536.6" cy="353.8" r="7"/><circle cx="920.8" cy="835.4" r="7"/><circle cx="539.7" cy="1047.4" r="7"/><circle cx="327.1" cy="422.9" r="7"/><circle cx="702.3" cy="1062.9" r="7"/><circle cx="283" cy="325.8" r="7"/><circle cx="384.4" cy="238.7" r="7"/><circle cx="987.6" cy="444.9" r="7"/><circle cx="838.7" cy="558.3" r="7"/><circle cx="1086.8" cy="509.9" r="7"/><circle cx="557.9" cy="980.4" r="7"/><circle cx="986.2" cy="847.3" r="7"/><circle cx="441.6" cy="854.3" r="7"/><circle cx="608.2" cy="210.7" r="7"/><circle cx="684.2" cy="1067.6" r="7"/><circle cx="335.6" cy="377.9" r="7"/><circle cx="602.8" cy="929" r="7"/><circle cx="680.3" cy="1037.4" r="7"/><circle cx="823.4" cy="729.6" r="7"/><circle cx="654.9" cy="342.6" r="7"/><circle cx="532.6" cy="270.6" r="7"/><circle cx="564.8" cy="1004.8" r="7"/><circle cx="708.1" cy="868.6" r="7"/><circle cx="397.1" cy="343.5" r="7"/><circle cx="592.2" cy="888.9" r="7"/><circle cx="885.5" cy="884.4" r="7"/><circle cx="891.4" cy="897.8" r="7"/><circle cx="314.2" cy="543.1" r="7"/><circle cx="495.1" cy="895.4" r="7"/><circle cx="497.1" cy="885.9" r="7"/><circle cx="899.9" cy="936.4" r="7"/><circle cx="870.9" cy="852.7" r="7"/><circle cx="693.7" cy="1029.5" r="7"/><circle cx="918.7" cy="881.7" r="7"/><circle cx="625.9" cy="968.1" r="7"/><circle cx="864.2" cy="841" r="7"/><circle cx="324.9" cy="334.2" r="7"/><circle cx="563.6" cy="1055.4" r="7"/><circle cx="964.6" cy="837.2" r="7"/><circle cx="905.6" cy="895" r="7"/><circle cx="675.4" cy="946.6" r="7"/><circle cx="511.1" cy="367.9" r="7"/><circle cx="1102.9" cy="504.9" r="7"/><circle cx="1013.7" cy="789.2" r="7"/><circle cx="309.6" cy="479" r="7"/><circle cx="854.2" cy="886.2" r="7"/><circle cx="323.1" cy="917.4" r="7"/><circle cx="391" cy="452.7" r="7"/><circle cx="579.7" cy="1069" r="7"/><circle cx="804.1" cy="708.4" r="7"/><circle cx="293.6" cy="469.7" r="7"/><circle cx="635.1" cy="538.7" r="7"/><circle cx="290.9" cy="317.9" r="7"/><circle cx="398.3" cy="941.8" r="7"/><circle cx="611.5" cy="237.7" r="7"/><circle cx="664.7" cy="947.6" r="7"/><circle cx="969.4" cy="789" r="7"/><circle cx="637.5" cy="721" r="7"/><circle cx="868" cy="945.3" r="7"/><circle cx="948.7" cy="647.6" r="7"/><circle cx="386.9" cy="259.5" r="7"/><circle cx="947.2" cy="874.9" r="7"/><circle cx="576" cy="470.4" r="7"/><circle cx="531" cy="555.9" r="7"/><circle cx="638.9" cy="962.9" r="7"/><circle cx="389" cy="376.2" r="7"/><circle cx="1069.1" cy="457.3" r="7"/><circle cx="1120.2" cy="491.1" r="7"/><circle cx="911.1" cy="824.5" r="7"/><circle cx="850.7" cy="577" r="7"/><circle cx="907.1" cy="818.2" r="7"/><circle cx="961.4" cy="642" r="7"/><circle cx="547.8" cy="1056.5" r="7"/><circle cx="546.6" cy="1002.1" r="7"/><circle cx="605.7" cy="297.3" r="7"/><circle cx="364.4" cy="270.2" r="7"/><circle cx="942.1" cy="801" r="7"/><circle cx="344.4" cy="325.2" r="7"/><circle cx="645.1" cy="1034.8" r="7"/><circle cx="911.5" cy="853.4" r="7"/><circle cx="400.6" cy="374.5" r="7"/><circle cx="528.2" cy="330.4" r="7"/><circle cx="678.5" cy="1002.7" r="7"/><circle cx="754.6" cy="809.2" r="7"/><circle cx="810.2" cy="720.2" r="7"/><circle cx="744.7" cy="302.2" r="7"/><circle cx="984.3" cy="791.2" r="7"/><circle cx="573.8" cy="275.9" r="7"/><circle cx="395.3" cy="315.4" r="7"/><circle cx="544.4" cy="486.2" r="7"/><circle cx="363.3" cy="957.5" r="7"/><circle cx="565.7" cy="265" r="7"/></g><g fill="#6495c9"><circle cx="372.8" cy="493.3" r="7"/><circle cx="307.4" cy="907.3" r="7"/><circle cx="436.1" cy="259.5" r="7"/><circle cx="481.9" cy="276.3" r="7"/><circle cx="373" cy="327" r="7"/><circle cx="957.5" cy="860.6" r="7"/><circle cx="932.2" cy="638" r="7"/><circle cx="336" cy="459.4" r="7"/><circle cx="902.1" cy="862.6" r="7"/><circle cx="552" cy="532.6" r="7"/><circle cx="775.6" cy="426.4" r="7"/><circle cx="382.9" cy="354.6" r="7"/><circle cx="523.4" cy="349" r="7"/><circle cx="895.9" cy="648.5" r="7"/><circle cx="879.3" cy="872.9" r="7"/><circle cx="690" cy="231.9" r="7"/><circle cx="569.5" cy="961.2" r="7"/><circle cx="881.7" cy="861.8" r="7"/><circle cx="890.8" cy="853.8" r="7"/><circle cx="303.2" cy="325.8" r="7"/><circle cx="960.2" cy="785.6" r="7"/><circle cx="554.5" cy="990.9" r="7"/><circle cx="637.5" cy="296.3" r="7"/><circle cx="845.5" cy="945.7" r="7"/><circle cx="416.7" cy="396.6" r="7"/><circle cx="301.7" cy="301.8" r="7"/><circle cx="599.1" cy="922.7" r="7"/><circle cx="881.2" cy="866.5" r="7"/><circle cx="417.5" cy="832.2" r="7"/><circle cx="838.3" cy="839.3" r="7"/><circle cx="362.4" cy="427.3" r="7"/><circle cx="712.6" cy="230.7" r="7"/><circle cx="631.8" cy="543.5" r="7"/><circle cx="869.1" cy="571.9" r="7"/><circle cx="672" cy="1017.9" r="7"/><circle cx="695.7" cy="835" r="7"/><circle cx="831.5" cy="934.1" r="7"/><circle cx="610.7" cy="442.8" r="7"/><circle cx="870.3" cy="917.5" r="7"/><circle cx="516.1" cy="317.8" r="7"/><circle cx="603.2" cy="737.5" r="7"/><circle cx="433.5" cy="861.3" r="7"/><circle cx="470.9" cy="259.8" r="7"/><circle cx="482.9" cy="316.5" r="7"/><circle cx="629" cy="517.8" r="7"/><circle cx="288.1" cy="394.6" r="7"/><circle cx="627.1" cy="1003.3" r="7"/><circle cx="481.5" cy="931.5" r="7"/><circle cx="426.7" cy="246.1" r="7"/><circle cx="354.2" cy="952.6" r="7"/><circle cx="923.3" cy="913.6" r="7"/><circle cx="841.7" cy="920.5" r="7"/><circle cx="352.1" cy="797" r="7"/><circle cx="434.8" cy="843.3" r="7"/><circle cx="532.9" cy="524" r="7"/><circle cx="456" cy="357.4" r="7"/><circle cx="660" cy="820.8" r="7"/><circle cx="520.4" cy="266" r="7"/><circle cx="442.4" cy="225.9" r="7"/><circle cx="1046.2" cy="448.5" r="7"/><circle cx="414.1" cy="326.3" r="7"/><circle cx="489.5" cy="230.9" r="7"/><circle cx="894.7" cy="834.9" r="7"/><circle cx="622.3" cy="986.2" r="7"/><circle cx="637.3" cy="288.7" r="7"/><circle cx="555.9" cy="563.3" r="7"/><circle cx="588.7" cy="927.8" r="7"/><circle cx="889.3" cy="400.1" r="7"/><circle cx="652.3" cy="1002.2" r="7"/><circle cx="527.4" cy="264.1" r="7"/><circle cx="921.4" cy="897.7" r="7"/><circle cx="499.7" cy="371.3" r="7"/><circle cx="325.1" cy="806.2" r="7"/><circle cx="624.7" cy="1052.2" r="7"/><circle cx="484" cy="926" r="7"/><circle cx="295.7" cy="405.8" r="7"/><circle cx="240" cy="390" r="7"/><circle cx="215.6" cy="423.8" r="7"/><circle cx="555" cy="373.1" r="7"/><circle cx="506.2" cy="425.6" r="7"/><circle cx="733.8" cy="532" r="7"/><circle cx="582.5" cy="657.5" r="7"/><circle cx="577.5" cy="661.2" r="7"/><circle cx="843.8" cy="730" r="7"/><circle cx="843" cy="730" r="7"/><circle cx="972.5" cy="750" r="7"/><circle cx="986.2" cy="764.2" r="7"/><circle cx="732.5" cy="986.2" r="7"/><circle cx="477.5" cy="983.8" r="7"/><circle cx="702.5" cy="912.5" r="7"/><circle cx="710" cy="917.5" r="7"/><circle cx="447.5" cy="871.2" r="7"/><circle cx="390" cy="963.2" r="7"/><circle cx="400.5" cy="446" r="7"/><circle cx="355.3" cy="288" r="7"/><circle cx="555.9" cy="1027.1" r="7"/><circle cx="955.5" cy="634.2" r="7"/><circle cx="587.8" cy="1035.1" r="7"/><circle cx="598.3" cy="224.6" r="7"/><circle cx="613.1" cy="527.6" r="7"/><circle cx="319.3" cy="276.8" r="7"/><circle cx="375.5" cy="308.2" r="7"/><circle cx="965.6" cy="440.7" r="7"/><circle cx="360.9" cy="358.6" r="7"/><circle cx="419.3" cy="546.6" r="7"/><circle cx="759.4" cy="270.2" r="7"/><circle cx="575.8" cy="316.6" r="7"/><circle cx="418.9" cy="230.8" r="7"/><circle cx="659" cy="960.5" r="7"/><circle cx="956.9" cy="787.4" r="7"/><circle cx="550.1" cy="253.4" r="7"/><circle cx="969.5" cy="878.4" r="7"/><circle cx="905" cy="825.9" r="7"/><circle cx="699" cy="1048.8" r="7"/><circle cx="371.4" cy="388.2" r="7"/><circle cx="603.4" cy="963.3" r="7"/><circle cx="910.8" cy="527.1" r="7"/><circle cx="378.4" cy="270" r="7"/><circle cx="486" cy="221" r="7"/><circle cx="855.5" cy="878.9" r="7"/><circle cx="607.7" cy="992.1" r="7"/><circle cx="337.5" cy="468.4" r="7"/><circle cx="386" cy="577.6" r="7"/><circle cx="365.3" cy="925.6" r="7"/><circle cx="341.3" cy="465.5" r="7"/><circle cx="342.6" cy="453" r="7"/><circle cx="945.4" cy="853.2" r="7"/><circle cx="381" cy="309.4" r="7"/><circle cx="600" cy="1038.1" r="7"/><circle cx="637.2" cy="999.5" r="7"/><circle cx="979" cy="793" r="7"/><circle cx="661.1" cy="229.3" r="7"/><circle cx="992.1" cy="790.3" r="7"/><circle cx="574.9" cy="264.6" r="7"/><circle cx="364.9" cy="405.8" r="7"/><circle cx="894.6" cy="403" r="7"/><circle cx="436.7" cy="290.1" r="7"/><circle cx="635.2" cy="504.7" r="7"/><circle cx="582" cy="1052.2" r="7"/><circle cx="341.2" cy="402.3" r="7"/><circle cx="791.1" cy="658" r="7"/><circle cx="432.5" cy="294.2" r="7"/><circle cx="593.5" cy="956.3" r="7"/><circle cx="894.7" cy="913.3" r="7"/><circle cx="355.4" cy="809.4" r="7"/><circle cx="349.7" cy="357.2" r="7"/><circle cx="302.1" cy="335.7" r="7"/><circle cx="608" cy="1055.1" r="7"/><circle cx="535.4" cy="787.4" r="7"/><circle cx="343.5" cy="328.9" r="7"/><circle cx="316.6" cy="306.3" r="7"/><circle cx="584.2" cy="1035.7" r="7"/><circle cx="668.7" cy="1036.8" r="7"/><circle cx="942.5" cy="873.3" r="7"/><circle cx="307.8" cy="896.2" r="7"/><circle cx="642" cy="1023.2" r="7"/><circle cx="862.6" cy="860.8" r="7"/><circle cx="367.8" cy="373.4" r="7"/></g><g fill="#6697ca"><circle cx="636.5" cy="1021.9" r="7"/><circle cx="652" cy="1039.2" r="7"/><circle cx="681.7" cy="227.6" r="7"/><circle cx="422.7" cy="278.8" r="7"/><circle cx="489" cy="295.4" r="7"/><circle cx="390.1" cy="553" r="7"/><circle cx="932.5" cy="879.5" r="7"/><circle cx="699" cy="697.5" r="7"/><circle cx="1077.3" cy="498.4" r="7"/><circle cx="949.9" cy="662.3" r="7"/><circle cx="1058.5" cy="473.6" r="7"/><circle cx="912" cy="846.6" r="7"/><circle cx="878.7" cy="591" r="7"/><circle cx="477.3" cy="928.8" r="7"/><circle cx="886.7" cy="925.2" r="7"/><circle cx="407.8" cy="360.5" r="7"/><circle cx="861.1" cy="926" r="7"/><circle cx="370" cy="350.2" r="7"/><circle cx="362.5" cy="816.6" r="7"/><circle cx="609.8" cy="804.2" r="7"/><circle cx="556.8" cy="1022.7" r="7"/><circle cx="628.8" cy="220.8" r="7"/><circle cx="229.3" cy="337.4" r="7"/><circle cx="327.4" cy="385.4" r="7"/><circle cx="649" cy="235.3" r="7"/><circle cx="763.1" cy="952.1" r="7"/><circle cx="620.8" cy="938.1" r="7"/><circle cx="763.1" cy="914.9" r="7"/><circle cx="578" cy="312.3" r="7"/><circle cx="558.8" cy="540.6" r="7"/><circle cx="565.1" cy="462" r="7"/><circle cx="721.3" cy="246" r="7"/><circle cx="919.7" cy="852.9" r="7"/><circle cx="299.6" cy="895.6" r="7"/><circle cx="796.3" cy="792.3" r="7"/><circle cx="949.3" cy="631.9" r="7"/><circle cx="294.3" cy="387.6" r="7"/><circle cx="627.8" cy="926.3" r="7"/><circle cx="325.3" cy="293" r="7"/><circle cx="499.7" cy="484.8" r="7"/><circle cx="359.9" cy="296.7" r="7"/><circle cx="860.5" cy="920.4" r="7"/><circle cx="639.1" cy="1034.7" r="7"/><circle cx="638.2" cy="1015.4" r="7"/><circle cx="846.5" cy="952.4" r="7"/><circle cx="517.1" cy="305.8" r="7"/><circle cx="858.6" cy="888.2" r="7"/><circle cx="519.1" cy="280.3" r="7"/><circle cx="893.3" cy="942.5" r="7"/><circle cx="580.4" cy="1063.2" r="7"/><circle cx="986.9" cy="824.9" r="7"/><circle cx="878.2" cy="797.8" r="7"/><circle cx="959.5" cy="412.8" r="7"/><circle cx="777.6" cy="709.4" r="7"/><circle cx="869.7" cy="641" r="7"/><circle cx="581.6" cy="919.6" r="7"/><circle cx="397.1" cy="260.4" r="7"/><circle cx="918.5" cy="836.5" r="7"/><circle cx="593.2" cy="975.5" r="7"/><circle cx="904.1" cy="857.9" r="7"/><circle cx="361.9" cy="443.4" r="7"/><circle cx="326.3" cy="470.7" r="7"/><circle cx="597.5" cy="232.1" r="7"/><circle cx="514.8" cy="330.2" r="7"/><circle cx="481.6" cy="292.2" r="7"/><circle cx="791.9" cy="865.7" r="7"/><circle cx="404.9" cy="839.6" r="7"/><circle cx="391.6" cy="261.2" r="7"/><circle cx="541.4" cy="247.2" r="7"/><circle cx="695.5" cy="1048.2" r="7"/><circle cx="560.7" cy="562.3" r="7"/><circle cx="713.2" cy="265.5" r="7"/><circle cx="372.3" cy="254.8" r="7"/><circle cx="777" cy="806.9" r="7"/><circle cx="992.5" cy="432.3" r="7"/><circle cx="716.4" cy="241.1" r="7"/><circle cx="456.1" cy="369.8" r="7"/><circle cx="375.7" cy="405.5" r="7"/><circle cx="536.7" cy="269.2" r="7"/><circle cx="563.4" cy="1012.2" r="7"/><circle cx="336.5" cy="347.7" r="7"/><circle cx="911.2" cy="802.4" r="7"/><circle cx="365" cy="337.2" r="7"/><circle cx="872.5" cy="403.4" r="7"/><circle cx="827" cy="699.3" r="7"/><circle cx="425.5" cy="361.3" r="7"/><circle cx="901.1" cy="513.6" r="7"/><circle cx="975.5" cy="671.9" r="7"/><circle cx="358.6" cy="965.6" r="7"/><circle cx="299.4" cy="310.6" r="7"/><circle cx="864.8" cy="648.8" r="7"/><circle cx="720.7" cy="866.2" r="7"/><circle cx="907.5" cy="844.4" r="7"/><circle cx="341.3" cy="493.2" r="7"/><circle cx="832.7" cy="908.3" r="7"/><circle cx="902.8" cy="390" r="7"/><circle cx="986.1" cy="819.7" r="7"/><circle cx="823.3" cy="701.1" r="7"/><circle cx="918.4" cy="814.5" r="7"/><circle cx="669.1" cy="751.1" r="7"/><circle cx="343" cy="396.4" r="7"/><circle cx="674.7" cy="1001.9" r="7"/><circle cx="345.4" cy="299.5" r="7"/><circle cx="444.3" cy="269.7" r="7"/><circle cx="741.4" cy="1047.8" r="7"/><circle cx="958.5" cy="826.8" r="7"/><circle cx="648.3" cy="917.1" r="7"/><circle cx="615.5" cy="779.2" r="7"/><circle cx="582.9" cy="322.6" r="7"/><circle cx="288.9" cy="907" r="7"/><circle cx="294.7" cy="318" r="7"/><circle cx="469" cy="350.7" r="7"/><circle cx="359.8" cy="506.9" r="7"/><circle cx="449.3" cy="264.5" r="7"/><circle cx="390.6" cy="422.1" r="7"/><circle cx="324.6" cy="332.3" r="7"/><circle cx="630.5" cy="979.3" r="7"/><circle cx="660.9" cy="696.5" r="7"/><circle cx="623.8" cy="742.4" r="7"/><circle cx="582.6" cy="950.6" r="7"/><circle cx="776.8" cy="414.1" r="7"/><circle cx="968" cy="782.7" r="7"/><circle cx="579.1" cy="892.4" r="7"/><circle cx="356.5" cy="940.7" r="7"/><circle cx="396.7" cy="282.5" r="7"/><circle cx="413.8" cy="290.5" r="7"/><circle cx="556.3" cy="509.6" r="7"/><circle cx="299.7" cy="912.5" r="7"/><circle cx="538.4" cy="350.5" r="7"/><circle cx="575.6" cy="998" r="7"/><circle cx="418.5" cy="407.3" r="7"/><circle cx="878.9" cy="796.8" r="7"/><circle cx="634.9" cy="326.9" r="7"/><circle cx="648.3" cy="702" r="7"/><circle cx="329.5" cy="376.3" r="7"/><circle cx="985.2" cy="787.4" r="7"/><circle cx="1002.5" cy="813.2" r="7"/><circle cx="374.8" cy="372.9" r="7"/><circle cx="663.9" cy="220.4" r="7"/><circle cx="605.8" cy="546.9" r="7"/><circle cx="959.5" cy="627.3" r="7"/><circle cx="747.3" cy="292.1" r="7"/><circle cx="980.2" cy="785.9" r="7"/><circle cx="810.4" cy="701.9" r="7"/><circle cx="342.5" cy="313.8" r="7"/><circle cx="323.2" cy="570.4" r="7"/><circle cx="570" cy="287.6" r="7"/><circle cx="436.5" cy="353.9" r="7"/><circle cx="369.6" cy="261" r="7"/><circle cx="652.5" cy="229.3" r="7"/><circle cx="381.9" cy="281.5" r="7"/><circle cx="820.8" cy="909.2" r="7"/><circle cx="653.4" cy="484.7" r="7"/><circle cx="616.9" cy="514.3" r="7"/><circle cx="582.1" cy="929.1" r="7"/><circle cx="265.8" cy="364.6" r="7"/><circle cx="562.6" cy="248.8" r="7"/><circle cx="849.9" cy="702.4" r="7"/><circle cx="342.6" cy="821.8" r="7"/><circle cx="421.7" cy="327.9" r="7"/><circle cx="349.5" cy="386.9" r="7"/><circle cx="588.9" cy="954.9" r="7"/></g><g fill="#6799cb"><circle cx="662" cy="890.1" r="7"/><circle cx="453.9" cy="353.1" r="7"/><circle cx="609" cy="522.4" r="7"/><circle cx="337.1" cy="306.6" r="7"/><circle cx="429.4" cy="280.4" r="7"/><circle cx="375.7" cy="390.3" r="7"/><circle cx="695.8" cy="1032.2" r="7"/><circle cx="697.4" cy="1042.1" r="7"/><circle cx="899.4" cy="921.7" r="7"/><circle cx="591.6" cy="271" r="7"/><circle cx="348.6" cy="805.7" r="7"/><circle cx="704.5" cy="286.8" r="7"/><circle cx="414.1" cy="332.5" r="7"/><circle cx="622.9" cy="959.9" r="7"/><circle cx="635.4" cy="299.3" r="7"/><circle cx="604.6" cy="238" r="7"/><circle cx="421.7" cy="552.6" r="7"/><circle cx="514.4" cy="473.1" r="7"/><circle cx="797.3" cy="962.3" r="7"/><circle cx="470.2" cy="260.5" r="7"/><circle cx="299.7" cy="354.4" r="7"/><circle cx="632.8" cy="976.2" r="7"/><circle cx="625.9" cy="447.4" r="7"/><circle cx="678.7" cy="279.6" r="7"/><circle cx="297.4" cy="917" r="7"/><circle cx="884.8" cy="874.7" r="7"/><circle cx="869.9" cy="858.7" r="7"/><circle cx="318" cy="297.7" r="7"/><circle cx="636" cy="844.1" r="7"/><circle cx="408" cy="860.8" r="7"/><circle cx="367.3" cy="497.1" r="7"/><circle cx="670.7" cy="985.7" r="7"/><circle cx="662.8" cy="981.7" r="7"/><circle cx="626.1" cy="484.4" r="7"/><circle cx="892.2" cy="633.5" r="7"/><circle cx="587.3" cy="936.4" r="7"/><circle cx="816" cy="986.6" r="7"/><circle cx="854.9" cy="823" r="7"/><circle cx="919.6" cy="817.8" r="7"/><circle cx="832.6" cy="848.4" r="7"/><circle cx="533.2" cy="264.7" r="7"/><circle cx="908" cy="795.1" r="7"/><circle cx="651.9" cy="1057.9" r="7"/><circle cx="800.3" cy="880.6" r="7"/><circle cx="591" cy="449.5" r="7"/><circle cx="523.6" cy="1015.3" r="7"/><circle cx="588" cy="915.8" r="7"/><circle cx="1003.3" cy="461.4" r="7"/><circle cx="366.4" cy="552.5" r="7"/><circle cx="974.1" cy="652.9" r="7"/><circle cx="879" cy="820.6" r="7"/><circle cx="839.9" cy="723.4" r="7"/><circle cx="792.2" cy="832.6" r="7"/><circle cx="931.8" cy="803.6" r="7"/><circle cx="684.6" cy="679.1" r="7"/><circle cx="912.7" cy="515.6" r="7"/><circle cx="666.2" cy="686.1" r="7"/><circle cx="383.8" cy="760.1" r="7"/><circle cx="652.8" cy="1068.5" r="7"/><circle cx="432.4" cy="856.8" r="7"/><circle cx="739.2" cy="250.6" r="7"/><circle cx="507.6" cy="241.2" r="7"/><circle cx="1078.4" cy="504.4" r="7"/><circle cx="346.5" cy="292.2" r="7"/><circle cx="326.2" cy="289" r="7"/><circle cx="447.2" cy="243" r="7"/><circle cx="333.7" cy="418.4" r="7"/><circle cx="417.1" cy="246.2" r="7"/><circle cx="217.5" cy="405" r="7"/><circle cx="225" cy="420" r="7"/><circle cx="260.6" cy="393.8" r="7"/><circle cx="577.5" cy="371.2" r="7"/><circle cx="562.5" cy="405" r="7"/><circle cx="530.6" cy="384.4" r="7"/><circle cx="495" cy="412.5" r="7"/><circle cx="658.8" cy="408.8" r="7"/><circle cx="770" cy="410" r="7"/><circle cx="785" cy="480" r="7"/><circle cx="780" cy="455" r="7"/><circle cx="790" cy="465" r="7"/><circle cx="767.5" cy="475" r="7"/><circle cx="557.5" cy="702.5" r="7"/><circle cx="657.5" cy="836.2" r="7"/><circle cx="797.5" cy="656.2" r="7"/><circle cx="810" cy="715" r="7"/><circle cx="765.5" cy="993.8" r="7"/><circle cx="765" cy="993.8" r="7"/><circle cx="557.5" cy="702.5" r="7"/><circle cx="432.5" cy="756.2" r="7"/><circle cx="430" cy="750" r="7"/><circle cx="452.5" cy="782.5" r="7"/><circle cx="455" cy="785" r="7"/><circle cx="462.5" cy="802.5" r="7"/><circle cx="447.5" cy="811.2" r="7"/><circle cx="496.2" cy="873.8" r="7"/><circle cx="408.2" cy="912.5" r="7"/><circle cx="415" cy="928.8" r="7"/><circle cx="423.9" cy="864.1" r="7"/><circle cx="677.8" cy="935.6" r="7"/><circle cx="431.9" cy="251.7" r="7"/><circle cx="603.8" cy="554.3" r="7"/><circle cx="650.7" cy="951.3" r="7"/><circle cx="513.4" cy="254.5" r="7"/><circle cx="461" cy="399.9" r="7"/><circle cx="851.2" cy="843.7" r="7"/><circle cx="1057.7" cy="468.3" r="7"/><circle cx="647.4" cy="1044.2" r="7"/><circle cx="572.3" cy="542.3" r="7"/><circle cx="513.7" cy="885.3" r="7"/><circle cx="963.5" cy="848.7" r="7"/><circle cx="367.4" cy="542.5" r="7"/><circle cx="370.7" cy="347" r="7"/><circle cx="822.3" cy="969.6" r="7"/><circle cx="574.6" cy="285.8" r="7"/><circle cx="624" cy="476.2" r="7"/><circle cx="434.4" cy="355.6" r="7"/><circle cx="633" cy="925.3" r="7"/><circle cx="348.7" cy="791.8" r="7"/><circle cx="338.9" cy="795.8" r="7"/><circle cx="334.8" cy="442.9" r="7"/><circle cx="401.3" cy="291.9" r="7"/><circle cx="384.7" cy="478.1" r="7"/><circle cx="343.2" cy="790.7" r="7"/><circle cx="306" cy="464.9" r="7"/><circle cx="576.1" cy="885.8" r="7"/><circle cx="523.7" cy="253.7" r="7"/><circle cx="699.8" cy="1058" r="7"/><circle cx="599.1" cy="710.5" r="7"/><circle cx="580.3" cy="1065.7" r="7"/><circle cx="308.5" cy="901.2" r="7"/><circle cx="950.3" cy="874.5" r="7"/><circle cx="325.4" cy="398" r="7"/><circle cx="917" cy="506.4" r="7"/><circle cx="644.5" cy="978.7" r="7"/><circle cx="795" cy="431.1" r="7"/><circle cx="866.7" cy="792.9" r="7"/><circle cx="337.2" cy="332.1" r="7"/><circle cx="645.4" cy="217.7" r="7"/><circle cx="610.3" cy="322.7" r="7"/><circle cx="856.5" cy="357.9" r="7"/><circle cx="469.6" cy="291.9" r="7"/><circle cx="670.7" cy="934.3" r="7"/><circle cx="459.1" cy="273.6" r="7"/><circle cx="338.8" cy="313.5" r="7"/><circle cx="973.5" cy="647.9" r="7"/><circle cx="538" cy="970.7" r="7"/><circle cx="332.6" cy="548.4" r="7"/><circle cx="785.6" cy="826.6" r="7"/><circle cx="342.6" cy="516.6" r="7"/><circle cx="625.5" cy="326.8" r="7"/><circle cx="356.6" cy="373.6" r="7"/><circle cx="549.5" cy="313" r="7"/><circle cx="891.8" cy="903.2" r="7"/><circle cx="884.7" cy="796.6" r="7"/><circle cx="847.6" cy="932.8" r="7"/></g><g fill="#689bcc"><circle cx="888" cy="848.4" r="7"/><circle cx="655.4" cy="1033.5" r="7"/><circle cx="891.1" cy="799.9" r="7"/><circle cx="1015.8" cy="828.4" r="7"/><circle cx="545.6" cy="1005.6" r="7"/><circle cx="361.2" cy="282.1" r="7"/><circle cx="1016.7" cy="483.9" r="7"/><circle cx="533.6" cy="531.7" r="7"/><circle cx="618.1" cy="243.3" r="7"/><circle cx="484.9" cy="937.5" r="7"/><circle cx="564.3" cy="556.3" r="7"/><circle cx="361" cy="284.1" r="7"/><circle cx="488.8" cy="240.4" r="7"/><circle cx="974.2" cy="783.1" r="7"/><circle cx="966.4" cy="645.8" r="7"/><circle cx="586.2" cy="1072.6" r="7"/><circle cx="648.7" cy="1056.2" r="7"/><circle cx="417.6" cy="389.7" r="7"/><circle cx="847.9" cy="949.3" r="7"/><circle cx="653" cy="323.3" r="7"/><circle cx="594" cy="911.4" r="7"/><circle cx="599.9" cy="458.7" r="7"/><circle cx="928.4" cy="907.6" r="7"/><circle cx="418.6" cy="355.9" r="7"/><circle cx="840.7" cy="862.2" r="7"/><circle cx="664.4" cy="1073.2" r="7"/><circle cx="1018.4" cy="468.8" r="7"/><circle cx="642.8" cy="293.4" r="7"/><circle cx="356" cy="967.1" r="7"/><circle cx="399.6" cy="263.6" r="7"/><circle cx="475.6" cy="225.4" r="7"/><circle cx="988.6" cy="844.2" r="7"/><circle cx="583.8" cy="1074.8" r="7"/><circle cx="463.3" cy="232.4" r="7"/><circle cx="372.2" cy="289.5" r="7"/><circle cx="373.8" cy="452.5" r="7"/><circle cx="386.5" cy="933.4" r="7"/><circle cx="1027.4" cy="446.6" r="7"/><circle cx="418.1" cy="252.3" r="7"/><circle cx="304.6" cy="359.3" r="7"/><circle cx="384.8" cy="443" r="7"/><circle cx="327.5" cy="371.6" r="7"/><circle cx="876.2" cy="615.9" r="7"/><circle cx="629.7" cy="825.9" r="7"/><circle cx="573.5" cy="962.4" r="7"/><circle cx="379.3" cy="415.8" r="7"/><circle cx="556.4" cy="557.8" r="7"/><circle cx="955.4" cy="866.5" r="7"/><circle cx="620.4" cy="983.3" r="7"/><circle cx="472.8" cy="892.2" r="7"/><circle cx="709.1" cy="1014.8" r="7"/><circle cx="330.5" cy="410.7" r="7"/><circle cx="891.9" cy="814.1" r="7"/><circle cx="515.7" cy="890.6" r="7"/><circle cx="914.4" cy="825.5" r="7"/><circle cx="578.7" cy="276.5" r="7"/><circle cx="621.7" cy="238.6" r="7"/><circle cx="961.6" cy="815.6" r="7"/><circle cx="901.2" cy="873.7" r="7"/><circle cx="997.5" cy="835.3" r="7"/><circle cx="518.7" cy="325.6" r="7"/><circle cx="689.8" cy="272.5" r="7"/><circle cx="552.3" cy="523" r="7"/><circle cx="988.2" cy="820.7" r="7"/><circle cx="746" cy="273" r="7"/><circle cx="1113.1" cy="493.3" r="7"/><circle cx="942.7" cy="811.3" r="7"/><circle cx="695.9" cy="675.1" r="7"/><circle cx="529.5" cy="279.1" r="7"/><circle cx="678" cy="1041.6" r="7"/><circle cx="587.3" cy="923.4" r="7"/><circle cx="527.6" cy="242.5" r="7"/><circle cx="448.8" cy="272.5" r="7"/><circle cx="368.9" cy="546.2" r="7"/><circle cx="568.2" cy="931.8" r="7"/><circle cx="316.9" cy="475.3" r="7"/><circle cx="1015.2" cy="460" r="7"/><circle cx="960.7" cy="835.2" r="7"/><circle cx="578.1" cy="557.2" r="7"/><circle cx="592.4" cy="269.4" r="7"/><circle cx="854.4" cy="852.2" r="7"/><circle cx="506.3" cy="312.6" r="7"/><circle cx="633.1" cy="993.5" r="7"/><circle cx="475.4" cy="272.2" r="7"/><circle cx="559.5" cy="1041.7" r="7"/><circle cx="859.6" cy="845.9" r="7"/><circle cx="566.4" cy="962.9" r="7"/><circle cx="450.4" cy="250.2" r="7"/><circle cx="592.3" cy="913.1" r="7"/><circle cx="320.9" cy="482.6" r="7"/><circle cx="415.2" cy="340.6" r="7"/><circle cx="652.9" cy="978.4" r="7"/><circle cx="425.8" cy="326.7" r="7"/><circle cx="530" cy="456.7" r="7"/><circle cx="371.6" cy="443.8" r="7"/><circle cx="603.9" cy="933.7" r="7"/><circle cx="362.3" cy="350.8" r="7"/><circle cx="643" cy="317.7" r="7"/><circle cx="395.2" cy="363.3" r="7"/><circle cx="680.6" cy="1069.2" r="7"/><circle cx="630.8" cy="236.1" r="7"/><circle cx="973.4" cy="829.3" r="7"/><circle cx="902.5" cy="929.7" r="7"/><circle cx="523.8" cy="288.8" r="7"/><circle cx="400.3" cy="259.7" r="7"/><circle cx="709" cy="867" r="7"/><circle cx="811.9" cy="981" r="7"/><circle cx="546.7" cy="996.3" r="7"/><circle cx="828.2" cy="879.2" r="7"/><circle cx="657" cy="485.1" r="7"/><circle cx="435.4" cy="849.7" r="7"/><circle cx="376.7" cy="325.4" r="7"/><circle cx="358" cy="315.8" r="7"/><circle cx="339.9" cy="371.6" r="7"/><circle cx="640" cy="321.5" r="7"/><circle cx="579.8" cy="1002.5" r="7"/><circle cx="838.4" cy="953.2" r="7"/><circle cx="1023.8" cy="440.3" r="7"/><circle cx="831.9" cy="916.1" r="7"/><circle cx="484.5" cy="246.9" r="7"/><circle cx="570.4" cy="259.2" r="7"/><circle cx="584.3" cy="568.5" r="7"/><circle cx="573.1" cy="557.4" r="7"/><circle cx="451" cy="270.3" r="7"/><circle cx="928.4" cy="506.7" r="7"/><circle cx="360.7" cy="515.4" r="7"/><circle cx="742.2" cy="734.3" r="7"/><circle cx="356.4" cy="292.4" r="7"/><circle cx="796.8" cy="851.2" r="7"/><circle cx="706" cy="1041.9" r="7"/><circle cx="655.4" cy="253.4" r="7"/><circle cx="969.9" cy="803.8" r="7"/><circle cx="601.8" cy="1046.6" r="7"/><circle cx="831.9" cy="903.9" r="7"/><circle cx="524.8" cy="1001.3" r="7"/><circle cx="322" cy="291.5" r="7"/><circle cx="975.5" cy="798.3" r="7"/></g><g fill="#6a9dcd"><circle cx="485.7" cy="921.4" r="7"/><circle cx="649.6" cy="991.3" r="7"/><circle cx="703.7" cy="728" r="7"/><circle cx="668.9" cy="1075.6" r="7"/><circle cx="611.5" cy="233.3" r="7"/><circle cx="889.5" cy="906.7" r="7"/><circle cx="614.4" cy="1048.1" r="7"/><circle cx="509.3" cy="218.4" r="7"/><circle cx="562" cy="493.2" r="7"/><circle cx="996.3" cy="799.9" r="7"/><circle cx="582.7" cy="243.7" r="7"/><circle cx="1086.5" cy="505" r="7"/><circle cx="527.2" cy="462.2" r="7"/><circle cx="959.8" cy="660" r="7"/><circle cx="642.7" cy="285.9" r="7"/><circle cx="448.8" cy="324.7" r="7"/><circle cx="550" cy="967" r="7"/><circle cx="371.4" cy="250.1" r="7"/><circle cx="559" cy="458" r="7"/><circle cx="355.6" cy="310" r="7"/><circle cx="660" cy="476" r="7"/><circle cx="669.2" cy="943.5" r="7"/><circle cx="589.9" cy="249.4" r="7"/><circle cx="914.4" cy="821.7" r="7"/><circle cx="490.3" cy="362.2" r="7"/><circle cx="450.1" cy="224.6" r="7"/><circle cx="330.7" cy="428.7" r="7"/><circle cx="638.7" cy="482.8" r="7"/><circle cx="463.4" cy="301.7" r="7"/><circle cx="357.9" cy="245" r="7"/><circle cx="576.6" cy="815" r="7"/><circle cx="299.6" cy="301.7" r="7"/><circle cx="312.1" cy="310" r="7"/><circle cx="403.8" cy="260.1" r="7"/><circle cx="803.8" cy="807.7" r="7"/><circle cx="553.7" cy="505" r="7"/><circle cx="312.4" cy="355.5" r="7"/><circle cx="716.6" cy="706.1" r="7"/><circle cx="329.7" cy="806.9" r="7"/><circle cx="504.2" cy="887.3" r="7"/><circle cx="903.3" cy="770.4" r="7"/><circle cx="306.1" cy="899.3" r="7"/><circle cx="625.7" cy="1066.7" r="7"/><circle cx="555.4" cy="979.1" r="7"/><circle cx="354.9" cy="485.8" r="7"/><circle cx="602.2" cy="299.1" r="7"/><circle cx="296.8" cy="906.2" r="7"/><circle cx="350.1" cy="272.5" r="7"/><circle cx="434" cy="321.4" r="7"/><circle cx="915.6" cy="802" r="7"/><circle cx="428.3" cy="292.3" r="7"/><circle cx="491.1" cy="315" r="7"/><circle cx="509.1" cy="334.7" r="7"/><circle cx="648.9" cy="824.4" r="7"/><circle cx="915.1" cy="812.9" r="7"/><circle cx="563.6" cy="991.9" r="7"/><circle cx="771.1" cy="684.5" r="7"/><circle cx="592" cy="995.6" r="7"/><circle cx="848.7" cy="534.8" r="7"/><circle cx="654.5" cy="297.6" r="7"/><circle cx="416.2" cy="316.6" r="7"/><circle cx="355.2" cy="924.4" r="7"/><circle cx="356.4" cy="955.3" r="7"/><circle cx="979.5" cy="646.9" r="7"/><circle cx="650.6" cy="380.6" r="7"/><circle cx="540" cy="399.4" r="7"/><circle cx="433.1" cy="543" r="7"/><circle cx="741.2" cy="400.5" r="7"/><circle cx="650" cy="361.2" r="7"/><circle cx="650" cy="380" r="7"/><circle cx="666.2" cy="382.5" r="7"/><circle cx="676.2" cy="406.2" r="7"/><circle cx="687.5" cy="420" r="7"/><circle cx="681.2" cy="420" r="7"/><circle cx="780" cy="420" r="7"/><circle cx="792.5" cy="432.5" r="7"/><circle cx="715" cy="435" r="7"/><circle cx="722.5" cy="448.8" r="7"/><circle cx="672.5" cy="450" r="7"/><circle cx="727.5" cy="622.5" r="7"/><circle cx="481.2" cy="857.5" r="7"/><circle cx="496.2" cy="873.8" r="7"/><circle cx="552.5" cy="771.2" r="7"/><circle cx="481.2" cy="857.5" r="7"/><circle cx="618.6" cy="739.6" r="7"/><circle cx="667.6" cy="281.7" r="7"/><circle cx="1016" cy="478.6" r="7"/><circle cx="864.5" cy="941.4" r="7"/><circle cx="996.7" cy="792.6" r="7"/><circle cx="568.5" cy="514.3" r="7"/><circle cx="653.9" cy="948.3" r="7"/><circle cx="396.1" cy="408.5" r="7"/><circle cx="500.7" cy="216.6" r="7"/><circle cx="631.5" cy="484.1" r="7"/><circle cx="538.5" cy="544.9" r="7"/><circle cx="580.5" cy="249.3" r="7"/><circle cx="645" cy="266.1" r="7"/><circle cx="604.5" cy="438.6" r="7"/><circle cx="333.7" cy="802.8" r="7"/><circle cx="861.9" cy="893.8" r="7"/><circle cx="342.6" cy="484.1" r="7"/><circle cx="525" cy="479" r="7"/><circle cx="955.3" cy="885.3" r="7"/><circle cx="392" cy="481" r="7"/><circle cx="604.8" cy="281.1" r="7"/><circle cx="535.2" cy="468.4" r="7"/><circle cx="560.2" cy="288.4" r="7"/><circle cx="575.2" cy="956.6" r="7"/><circle cx="793.7" cy="939.2" r="7"/><circle cx="364.1" cy="454.1" r="7"/><circle cx="684.5" cy="257.2" r="7"/><circle cx="577" cy="523.8" r="7"/><circle cx="850" cy="539.2" r="7"/><circle cx="333.9" cy="487.9" r="7"/><circle cx="365.3" cy="291.5" r="7"/><circle cx="882.4" cy="844.9" r="7"/><circle cx="448.2" cy="341.4" r="7"/><circle cx="599.7" cy="923.4" r="7"/><circle cx="302.8" cy="448.7" r="7"/><circle cx="559.9" cy="974.8" r="7"/><circle cx="397.1" cy="383.7" r="7"/><circle cx="307.6" cy="374" r="7"/><circle cx="361.6" cy="960.6" r="7"/><circle cx="367.3" cy="250.5" r="7"/><circle cx="570.4" cy="928.6" r="7"/><circle cx="668.9" cy="702" r="7"/><circle cx="751.4" cy="272.5" r="7"/><circle cx="771.9" cy="904.8" r="7"/><circle cx="391.9" cy="496.5" r="7"/><circle cx="926.8" cy="797.2" r="7"/><circle cx="444.4" cy="315.7" r="7"/><circle cx="912.5" cy="519.2" r="7"/><circle cx="805.6" cy="699.9" r="7"/><circle cx="594" cy="300.2" r="7"/><circle cx="950.5" cy="790.1" r="7"/><circle cx="1026.8" cy="802.7" r="7"/><circle cx="317.9" cy="467.7" r="7"/><circle cx="679.7" cy="846.4" r="7"/><circle cx="789.8" cy="846.8" r="7"/><circle cx="849.8" cy="920.9" r="7"/><circle cx="653.5" cy="939.2" r="7"/><circle cx="771" cy="859.7" r="7"/><circle cx="545.9" cy="540.5" r="7"/><circle cx="906.8" cy="530.2" r="7"/><circle cx="573.3" cy="991.2" r="7"/><circle cx="850.1" cy="904.1" r="7"/><circle cx="638.3" cy="1069.1" r="7"/><circle cx="323.7" cy="380.5" r="7"/><circle cx="401" cy="305.7" r="7"/><circle cx="496" cy="250.2" r="7"/><circle cx="841.9" cy="836.2" r="7"/><circle cx="557.1" cy="256.9" r="7"/><circle cx="659.9" cy="847.5" r="7"/><circle cx="800.5" cy="819.5" r="7"/><circle cx="854.2" cy="839.6" r="7"/><circle cx="594.9" cy="285.1" r="7"/></g><g fill="#6c9fce"><circle cx="838.3" cy="832" r="7"/><circle cx="628.6" cy="1056.8" r="7"/><circle cx="508.4" cy="901.2" r="7"/><circle cx="644.2" cy="483.5" r="7"/><circle cx="847.2" cy="901.3" r="7"/><circle cx="1116.1" cy="492.4" r="7"/><circle cx="540.8" cy="962.1" r="7"/><circle cx="543.5" cy="459.4" r="7"/><circle cx="405.9" cy="376" r="7"/><circle cx="516.7" cy="989.3" r="7"/><circle cx="750.2" cy="837.8" r="7"/><circle cx="514.8" cy="201.6" r="7"/><circle cx="418.9" cy="344.7" r="7"/><circle cx="592.5" cy="1038" r="7"/><circle cx="274.4" cy="372.6" r="7"/><circle cx="830.5" cy="887.7" r="7"/><circle cx="438.8" cy="317.1" r="7"/><circle cx="520.3" cy="347.5" r="7"/><circle cx="231.7" cy="320.4" r="7"/><circle cx="535.8" cy="258.2" r="7"/><circle cx="852.3" cy="870.2" r="7"/><circle cx="972.3" cy="798.5" r="7"/><circle cx="826.5" cy="709.2" r="7"/><circle cx="409.7" cy="856" r="7"/><circle cx="351.6" cy="437.6" r="7"/><circle cx="628.2" cy="865.4" r="7"/><circle cx="567.4" cy="819.6" r="7"/><circle cx="705.7" cy="1016.4" r="7"/><circle cx="826.4" cy="923.8" r="7"/><circle cx="530.1" cy="974.7" r="7"/><circle cx="857.7" cy="933.3" r="7"/><circle cx="393.3" cy="344.5" r="7"/><circle cx="336.1" cy="282.8" r="7"/><circle cx="580.1" cy="908" r="7"/><circle cx="647.7" cy="989.2" r="7"/><circle cx="422.2" cy="837.6" r="7"/><circle cx="485.7" cy="264.5" r="7"/><circle cx="408.1" cy="293.8" r="7"/><circle cx="635.1" cy="1001.9" r="7"/><circle cx="539.8" cy="1047.3" r="7"/><circle cx="361.6" cy="927.7" r="7"/><circle cx="857.8" cy="928.9" r="7"/><circle cx="583.4" cy="470.7" r="7"/><circle cx="353.8" cy="549.2" r="7"/><circle cx="555.5" cy="983" r="7"/><circle cx="836.4" cy="535.9" r="7"/><circle cx="695.5" cy="276.9" r="7"/><circle cx="315.5" cy="525" r="7"/><circle cx="851.5" cy="883" r="7"/><circle cx="608.9" cy="264" r="7"/><circle cx="869.6" cy="863.7" r="7"/><circle cx="830.9" cy="707.9" r="7"/><circle cx="928.5" cy="914.1" r="7"/><circle cx="939.8" cy="792.4" r="7"/><circle cx="342.9" cy="476.9" r="7"/><circle cx="414.9" cy="839.6" r="7"/><circle cx="982.2" cy="807.5" r="7"/><circle cx="1118.3" cy="488.6" r="7"/><circle cx="781.3" cy="868.6" r="7"/><circle cx="491.3" cy="254.5" r="7"/><circle cx="450.3" cy="239.1" r="7"/><circle cx="313" cy="370.4" r="7"/><circle cx="364.6" cy="355.2" r="7"/><circle cx="538.7" cy="243.8" r="7"/><circle cx="739.8" cy="843.7" r="7"/><circle cx="998.8" cy="804.8" r="7"/><circle cx="581.4" cy="952.3" r="7"/><circle cx="431.3" cy="849.7" r="7"/><circle cx="576" cy="918.5" r="7"/><circle cx="408.1" cy="413.9" r="7"/><circle cx="368.7" cy="384.2" r="7"/><circle cx="341.7" cy="362.9" r="7"/><circle cx="501.7" cy="348.4" r="7"/><circle cx="579.2" cy="465.8" r="7"/><circle cx="996.3" cy="831.9" r="7"/><circle cx="430.4" cy="841.4" r="7"/><circle cx="863.8" cy="865.4" r="7"/><circle cx="583.2" cy="279.2" r="7"/><circle cx="996" cy="801.8" r="7"/><circle cx="358.7" cy="304.5" r="7"/><circle cx="901.2" cy="828.6" r="7"/><circle cx="492.1" cy="325.1" r="7"/><circle cx="830.6" cy="929.5" r="7"/><circle cx="326.4" cy="347.5" r="7"/><circle cx="303.7" cy="481.5" r="7"/><circle cx="1078.3" cy="487.6" r="7"/><circle cx="543.2" cy="1046.5" r="7"/><circle cx="410.6" cy="235.8" r="7"/><circle cx="556.5" cy="288" r="7"/><circle cx="422.4" cy="252.4" r="7"/><circle cx="525.4" cy="1014.9" r="7"/><circle cx="560.6" cy="953.2" r="7"/><circle cx="662.5" cy="309.8" r="7"/><circle cx="291.7" cy="901.7" r="7"/><circle cx="578" cy="573.2" r="7"/><circle cx="642.1" cy="334.1" r="7"/><circle cx="374.9" cy="343.5" r="7"/><circle cx="653.1" cy="236.8" r="7"/><circle cx="914.8" cy="535" r="7"/><circle cx="597.9" cy="534" r="7"/><circle cx="915.4" cy="492.3" r="7"/><circle cx="1004.7" cy="789.2" r="7"/><circle cx="867.1" cy="559.8" r="7"/><circle cx="311.2" cy="905.2" r="7"/><circle cx="868.4" cy="880.8" r="7"/><circle cx="838.4" cy="919.3" r="7"/><circle cx="794.5" cy="907.8" r="7"/><circle cx="1098.4" cy="505.3" r="7"/><circle cx="1067.5" cy="475.7" r="7"/><circle cx="233.8" cy="331.9" r="7"/><circle cx="354.6" cy="493.7" r="7"/><circle cx="643.9" cy="952.5" r="7"/><circle cx="969.5" cy="800.7" r="7"/><circle cx="853.5" cy="903.2" r="7"/><circle cx="793" cy="716.8" r="7"/></g><g fill="#6da1cf"><circle cx="615.4" cy="536.3" r="7"/><circle cx="728.4" cy="272.9" r="7"/><circle cx="541" cy="991.5" r="7"/><circle cx="666.3" cy="931.4" r="7"/><circle cx="326.1" cy="538.7" r="7"/><circle cx="600.1" cy="248.1" r="7"/><circle cx="886.4" cy="635.9" r="7"/><circle cx="590.8" cy="303.1" r="7"/><circle cx="765" cy="1029.6" r="7"/><circle cx="370.1" cy="285.6" r="7"/><circle cx="670.1" cy="968.8" r="7"/><circle cx="345.4" cy="819.9" r="7"/><circle cx="443.2" cy="737.5" r="7"/><circle cx="470.2" cy="894.7" r="7"/><circle cx="344.8" cy="420" r="7"/><circle cx="539.7" cy="1042.8" r="7"/><circle cx="487" cy="322.6" r="7"/><circle cx="858.2" cy="844.9" r="7"/><circle cx="625.6" cy="325" r="7"/><circle cx="479.4" cy="355.1" r="7"/><circle cx="870.4" cy="564.7" r="7"/><circle cx="603.4" cy="508.3" r="7"/><circle cx="350.8" cy="951.6" r="7"/><circle cx="632.7" cy="317.8" r="7"/><circle cx="868.7" cy="833.9" r="7"/><circle cx="806.5" cy="896.5" r="7"/><circle cx="554.5" cy="941.9" r="7"/><circle cx="586" cy="455.3" r="7"/><circle cx="827.6" cy="952.2" r="7"/><circle cx="577.9" cy="446.1" r="7"/><circle cx="497.5" cy="505.3" r="7"/><circle cx="395.1" cy="936" r="7"/><circle cx="783.9" cy="964.9" r="7"/><circle cx="340.2" cy="532.4" r="7"/><circle cx="480" cy="347.5" r="7"/><circle cx="355.6" cy="282.4" r="7"/><circle cx="364.2" cy="962.8" r="7"/><circle cx="369.5" cy="939.1" r="7"/><circle cx="972.9" cy="814.5" r="7"/><circle cx="981.4" cy="793" r="7"/><circle cx="959.7" cy="849" r="7"/><circle cx="347.8" cy="346.3" r="7"/><circle cx="459.3" cy="298.3" r="7"/><circle cx="328.3" cy="362.2" r="7"/><circle cx="525.7" cy="326.8" r="7"/><circle cx="741.9" cy="275.1" r="7"/><circle cx="621.8" cy="514.6" r="7"/><circle cx="1086.9" cy="484.6" r="7"/><circle cx="365.6" cy="505.2" r="7"/><circle cx="1102.5" cy="479.7" r="7"/><circle cx="856.3" cy="565.3" r="7"/><circle cx="361.4" cy="269.5" r="7"/><circle cx="803.8" cy="727.2" r="7"/><circle cx="342.2" cy="437.2" r="7"/><circle cx="650.6" cy="362.6" r="7"/><circle cx="441.4" cy="644.2" r="7"/><circle cx="755" cy="337.5" r="7"/><circle cx="880" cy="352.5" r="7"/><circle cx="880" cy="352" r="7"/><circle cx="1065" cy="305" r="7"/><circle cx="1047.5" cy="313.8" r="7"/><circle cx="1057.5" cy="330" r="7"/><circle cx="1065" cy="346.2" r="7"/><circle cx="896.2" cy="328.8" r="7"/><circle cx="765" cy="475" r="7"/><circle cx="790" cy="465" r="7"/><circle cx="655" cy="455" r="7"/><circle cx="722.5" cy="450" r="7"/><circle cx="732.5" cy="457.5" r="7"/><circle cx="826" cy="702" r="7"/><circle cx="783.2" cy="1007.5" r="7"/><circle cx="938.6" cy="877.8" r="7"/><circle cx="816" cy="757" r="7"/><circle cx="346" cy="472.5" r="7"/><circle cx="974.3" cy="779.2" r="7"/><circle cx="883.9" cy="602.7" r="7"/><circle cx="562.3" cy="936" r="7"/><circle cx="918.7" cy="488.8" r="7"/><circle cx="465.6" cy="264.1" r="7"/><circle cx="501.8" cy="356.8" r="7"/><circle cx="500.9" cy="318.5" r="7"/><circle cx="676.5" cy="885.3" r="7"/><circle cx="311.5" cy="377.3" r="7"/><circle cx="332.6" cy="572.7" r="7"/><circle cx="499.2" cy="305.9" r="7"/><circle cx="852.2" cy="934.1" r="7"/><circle cx="1091.6" cy="484" r="7"/><circle cx="493.8" cy="332.6" r="7"/><circle cx="736.5" cy="1033.5" r="7"/><circle cx="607.4" cy="800.3" r="7"/><circle cx="544.3" cy="463.2" r="7"/><circle cx="634.6" cy="258.9" r="7"/><circle cx="483.1" cy="354.7" r="7"/><circle cx="692.6" cy="716" r="7"/><circle cx="295.7" cy="327" r="7"/><circle cx="338.9" cy="818.9" r="7"/><circle cx="661.7" cy="1058.1" r="7"/><circle cx="819.5" cy="841.7" r="7"/><circle cx="489.5" cy="925.3" r="7"/><circle cx="551.4" cy="292.9" r="7"/><circle cx="532.7" cy="874.7" r="7"/><circle cx="365.8" cy="557.8" r="7"/><circle cx="563.7" cy="1024.8" r="7"/><circle cx="341.2" cy="920.3" r="7"/><circle cx="407.2" cy="264.6" r="7"/><circle cx="582.8" cy="456.1" r="7"/><circle cx="520.7" cy="993.4" r="7"/><circle cx="468.8" cy="275.7" r="7"/><circle cx="319.2" cy="404.5" r="7"/><circle cx="596.6" cy="238.7" r="7"/><circle cx="854.5" cy="936" r="7"/><circle cx="463.8" cy="349.8" r="7"/><circle cx="479.6" cy="235.2" r="7"/><circle cx="590.4" cy="544.6" r="7"/><circle cx="566.5" cy="464.9" r="7"/><circle cx="767.2" cy="912.8" r="7"/><circle cx="385.9" cy="466.1" r="7"/><circle cx="687.1" cy="240.2" r="7"/><circle cx="598.6" cy="425.9" r="7"/><circle cx="315" cy="379.5" r="7"/><circle cx="419.3" cy="337.7" r="7"/><circle cx="582.5" cy="910.4" r="7"/><circle cx="807.9" cy="737.5" r="7"/><circle cx="330.2" cy="387.6" r="7"/><circle cx="464.6" cy="257.2" r="7"/><circle cx="647.9" cy="512.6" r="7"/><circle cx="545.1" cy="296.7" r="7"/><circle cx="911" cy="916.3" r="7"/><circle cx="580.5" cy="308.1" r="7"/><circle cx="379.9" cy="484.6" r="7"/><circle cx="397.9" cy="329.1" r="7"/><circle cx="341" cy="815.8" r="7"/><circle cx="608" cy="502.2" r="7"/><circle cx="581.6" cy="565.6" r="7"/><circle cx="578.8" cy="521.1" r="7"/><circle cx="615.8" cy="280.2" r="7"/><circle cx="491" cy="328.6" r="7"/></g><g fill="#6ea2d0"><circle cx="629.4" cy="294.1" r="7"/><circle cx="773.1" cy="818.7" r="7"/><circle cx="406.1" cy="234.3" r="7"/><circle cx="549.4" cy="1002.9" r="7"/><circle cx="776.3" cy="723.5" r="7"/><circle cx="420.2" cy="392.8" r="7"/><circle cx="849.1" cy="826.1" r="7"/><circle cx="406.4" cy="274" r="7"/><circle cx="918.7" cy="787.3" r="7"/><circle cx="857.3" cy="589.4" r="7"/><circle cx="451" cy="274.1" r="7"/><circle cx="664.3" cy="747.6" r="7"/><circle cx="508.7" cy="272.1" r="7"/><circle cx="563.4" cy="506.5" r="7"/><circle cx="362.4" cy="467.3" r="7"/><circle cx="540.8" cy="1026.9" r="7"/><circle cx="944.7" cy="879.1" r="7"/><circle cx="921.8" cy="497" r="7"/><circle cx="1032.5" cy="460.5" r="7"/><circle cx="645.1" cy="479.7" r="7"/><circle cx="839.2" cy="933.1" r="7"/><circle cx="411.8" cy="841.4" r="7"/><circle cx="852.1" cy="926.8" r="7"/><circle cx="489.1" cy="353.8" r="7"/><circle cx="802.1" cy="974.3" r="7"/><circle cx="349.3" cy="924.9" r="7"/><circle cx="380.1" cy="312.9" r="7"/><circle cx="801.7" cy="960.7" r="7"/><circle cx="373.8" cy="928.1" r="7"/><circle cx="539.8" cy="283.4" r="7"/><circle cx="546.8" cy="1010.7" r="7"/><circle cx="553.2" cy="544.5" r="7"/><circle cx="914.9" cy="502.8" r="7"/><circle cx="331.8" cy="349.1" r="7"/><circle cx="850.4" cy="910.1" r="7"/><circle cx="905.7" cy="831.2" r="7"/><circle cx="632" cy="526" r="7"/><circle cx="557.2" cy="927.4" r="7"/><circle cx="362.8" cy="578.1" r="7"/><circle cx="598.3" cy="235.3" r="7"/><circle cx="585.8" cy="518" r="7"/><circle cx="874.3" cy="632.6" r="7"/><circle cx="671.4" cy="693.4" r="7"/><circle cx="323.1" cy="359.6" r="7"/><circle cx="1018" cy="446.6" r="7"/><circle cx="534.6" cy="972.1" r="7"/><circle cx="755.4" cy="1031" r="7"/><circle cx="783.3" cy="940" r="7"/><circle cx="993.5" cy="808.8" r="7"/><circle cx="468.2" cy="702.6" r="7"/><circle cx="666.3" cy="1052.5" r="7"/><circle cx="466.3" cy="293.9" r="7"/><circle cx="535.7" cy="429.7" r="7"/><circle cx="895.8" cy="797.4" r="7"/><circle cx="766.9" cy="932.3" r="7"/><circle cx="853.4" cy="864" r="7"/><circle cx="235.6" cy="320.5" r="7"/><circle cx="518.7" cy="342" r="7"/><circle cx="599.7" cy="511.9" r="7"/><circle cx="478.5" cy="302.3" r="7"/><circle cx="551.8" cy="470.3" r="7"/><circle cx="576.7" cy="502.9" r="7"/><circle cx="607.3" cy="288.6" r="7"/><circle cx="558.1" cy="505.4" r="7"/><circle cx="521.8" cy="343.6" r="7"/><circle cx="582.5" cy="521.5" r="7"/><circle cx="644.5" cy="454.2" r="7"/><circle cx="586.3" cy="447.9" r="7"/><circle cx="772.8" cy="671.6" r="7"/><circle cx="549.2" cy="337.1" r="7"/><circle cx="400.2" cy="271.6" r="7"/><circle cx="838.6" cy="695.5" r="7"/><circle cx="487.1" cy="290.4" r="7"/><circle cx="618.2" cy="252.8" r="7"/><circle cx="381.2" cy="378.7" r="7"/><circle cx="840.3" cy="941.7" r="7"/><circle cx="615.6" cy="241.1" r="7"/><circle cx="848.4" cy="825.6" r="7"/><circle cx="525.3" cy="981.8" r="7"/><circle cx="339.2" cy="571.8" r="7"/><circle cx="572.3" cy="915.7" r="7"/><circle cx="921.8" cy="526.4" r="7"/><circle cx="701.8" cy="276.7" r="7"/><circle cx="535" cy="903.5" r="7"/><circle cx="585.3" cy="897.7" r="7"/><circle cx="593.5" cy="546" r="7"/><circle cx="577.5" cy="269.1" r="7"/><circle cx="1107.4" cy="495.7" r="7"/><circle cx="652.2" cy="505.2" r="7"/><circle cx="586.9" cy="892.7" r="7"/><circle cx="607.6" cy="532" r="7"/><circle cx="605.8" cy="747.1" r="7"/><circle cx="1010.2" cy="840.7" r="7"/><circle cx="979.2" cy="806.4" r="7"/><circle cx="452.3" cy="734.6" r="7"/><circle cx="618.7" cy="527.3" r="7"/><circle cx="772.6" cy="726.5" r="7"/><circle cx="504.1" cy="755.8" r="7"/><circle cx="340.7" cy="488.3" r="7"/><circle cx="606.5" cy="698.4" r="7"/><circle cx="372.4" cy="326.8" r="7"/><circle cx="819.7" cy="941.5" r="7"/><circle cx="505.9" cy="315.9" r="7"/><circle cx="581.8" cy="928.2" r="7"/><circle cx="737" cy="854.2" r="7"/><circle cx="458.6" cy="331.7" r="7"/><circle cx="451.5" cy="365.2" r="7"/></g><g fill="#70a4d1"><circle cx="517" cy="985.9" r="7"/><circle cx="314" cy="895.1" r="7"/><circle cx="841.1" cy="583.1" r="7"/><circle cx="506.9" cy="502.7" r="7"/><circle cx="321.5" cy="474.3" r="7"/><circle cx="818.3" cy="502.1" r="7"/><circle cx="592.6" cy="897.1" r="7"/><circle cx="576.8" cy="252.5" r="7"/><circle cx="548.6" cy="985.7" r="7"/><circle cx="421.6" cy="851.3" r="7"/><circle cx="839.9" cy="849.9" r="7"/><circle cx="562.3" cy="524.5" r="7"/><circle cx="634.5" cy="289.8" r="7"/><circle cx="391.4" cy="317.5" r="7"/><circle cx="826.4" cy="940.9" r="7"/><circle cx="880.7" cy="824.8" r="7"/><circle cx="850.2" cy="840.2" r="7"/><circle cx="1110.8" cy="487" r="7"/><circle cx="595.2" cy="896.5" r="7"/><circle cx="562.4" cy="283.5" r="7"/><circle cx="452.8" cy="750.6" r="7"/><circle cx="1090.8" cy="499.8" r="7"/><circle cx="273.9" cy="378.1" r="7"/><circle cx="486" cy="350.5" r="7"/><circle cx="837.5" cy="574.9" r="7"/><circle cx="667.3" cy="819" r="7"/><circle cx="875.1" cy="866.3" r="7"/><circle cx="553.1" cy="445.8" r="7"/><circle cx="584.3" cy="702.3" r="7"/><circle cx="499.5" cy="897.6" r="7"/><circle cx="433.3" cy="288.2" r="7"/><circle cx="347.1" cy="415.2" r="7"/><circle cx="596.2" cy="513.1" r="7"/><circle cx="395.9" cy="353.6" r="7"/><circle cx="820.6" cy="899" r="7"/><circle cx="539.4" cy="553.8" r="7"/><circle cx="572.6" cy="900.9" r="7"/><circle cx="349.9" cy="808.8" r="7"/><circle cx="424.2" cy="856.6" r="7"/><circle cx="399.2" cy="341.4" r="7"/><circle cx="714.7" cy="245.5" r="7"/><circle cx="849.7" cy="898.4" r="7"/><circle cx="338.1" cy="455.8" r="7"/><circle cx="335" cy="807" r="7"/><circle cx="1048.8" cy="293.8" r="7"/><circle cx="1066.2" cy="320" r="7"/><circle cx="1065" cy="332.5" r="7"/><circle cx="1055" cy="345" r="7"/><circle cx="441.5" cy="644.3" r="7"/><circle cx="649.3" cy="1041.6" r="7"/><circle cx="384" cy="932.7" r="7"/><circle cx="566.6" cy="498.7" r="7"/><circle cx="512.4" cy="986.4" r="7"/><circle cx="993.6" cy="824.1" r="7"/><circle cx="632.3" cy="284.8" r="7"/><circle cx="835.1" cy="893.5" r="7"/><circle cx="604.6" cy="247.3" r="7"/><circle cx="575" cy="933.5" r="7"/><circle cx="593.3" cy="535.6" r="7"/><circle cx="546" cy="501.8" r="7"/><circle cx="832.3" cy="711.4" r="7"/><circle cx="363" cy="289.2" r="7"/><circle cx="887" cy="827.6" r="7"/><circle cx="610.2" cy="472.8" r="7"/><circle cx="1014.6" cy="493.3" r="7"/><circle cx="554.4" cy="512.8" r="7"/><circle cx="835" cy="514.2" r="7"/><circle cx="619.1" cy="877.8" r="7"/><circle cx="628.9" cy="505.2" r="7"/><circle cx="883.9" cy="866.8" r="7"/><circle cx="620.1" cy="432.5" r="7"/><circle cx="441.3" cy="322.1" r="7"/><circle cx="608.4" cy="898.5" r="7"/><circle cx="641.5" cy="496.3" r="7"/><circle cx="535.4" cy="313.4" r="7"/><circle cx="546.9" cy="981.9" r="7"/><circle cx="685.5" cy="862.5" r="7"/><circle cx="222.7" cy="356.1" r="7"/><circle cx="888.4" cy="657.2" r="7"/><circle cx="546.1" cy="913.9" r="7"/><circle cx="786.4" cy="722.9" r="7"/><circle cx="399.8" cy="315.9" r="7"/><circle cx="684.1" cy="232.9" r="7"/><circle cx="668.6" cy="716.6" r="7"/><circle cx="571.6" cy="312" r="7"/><circle cx="657.9" cy="853.7" r="7"/><circle cx="835.4" cy="542" r="7"/><circle cx="815.8" cy="703.6" r="7"/><circle cx="991.6" cy="831.4" r="7"/><circle cx="680.5" cy="959.2" r="7"/><circle cx="353.6" cy="358.9" r="7"/><circle cx="578.2" cy="258.8" r="7"/><circle cx="601.1" cy="898.3" r="7"/><circle cx="653.4" cy="706.6" r="7"/><circle cx="423.1" cy="840.7" r="7"/><circle cx="565.8" cy="951" r="7"/><circle cx="623.4" cy="256.4" r="7"/><circle cx="409.2" cy="353.2" r="7"/><circle cx="468.2" cy="365" r="7"/><circle cx="1098.5" cy="506.9" r="7"/><circle cx="1061.9" cy="454.5" r="7"/><circle cx="328.3" cy="292.5" r="7"/><circle cx="813" cy="927.7" r="7"/></g><g fill="#72a6d2"><circle cx="820.2" cy="699.3" r="7"/><circle cx="412.5" cy="854.4" r="7"/><circle cx="530.3" cy="287.6" r="7"/><circle cx="551.9" cy="983.5" r="7"/><circle cx="581.4" cy="551" r="7"/><circle cx="343.1" cy="341.8" r="7"/><circle cx="511.9" cy="278.9" r="7"/><circle cx="651.1" cy="471.2" r="7"/><circle cx="532" cy="982.5" r="7"/><circle cx="485.5" cy="927.6" r="7"/><circle cx="844.8" cy="553.9" r="7"/><circle cx="351" cy="496.9" r="7"/><circle cx="914.7" cy="531.8" r="7"/><circle cx="780.1" cy="913.4" r="7"/><circle cx="615.1" cy="309.8" r="7"/><circle cx="895.4" cy="817.1" r="7"/><circle cx="464.7" cy="354.7" r="7"/><circle cx="520.2" cy="486.3" r="7"/><circle cx="1103.6" cy="490.5" r="7"/><circle cx="295.5" cy="431" r="7"/><circle cx="612.5" cy="313" r="7"/><circle cx="690.5" cy="757" r="7"/><circle cx="357.1" cy="280.8" r="7"/><circle cx="525.3" cy="275.3" r="7"/><circle cx="835.2" cy="953.8" r="7"/><circle cx="880.5" cy="885.4" r="7"/><circle cx="422.3" cy="275.5" r="7"/><circle cx="498.4" cy="956.1" r="7"/><circle cx="248.9" cy="307.5" r="7"/><circle cx="533.7" cy="1046.6" r="7"/><circle cx="405.4" cy="295.4" r="7"/><circle cx="217.1" cy="350.5" r="7"/><circle cx="568" cy="503.2" r="7"/><circle cx="502.2" cy="887.6" r="7"/><circle cx="621.1" cy="258.1" r="7"/><circle cx="537.1" cy="793.3" r="7"/><circle cx="862" cy="903.6" r="7"/><circle cx="415.3" cy="252.5" r="7"/><circle cx="927.7" cy="810.9" r="7"/><circle cx="539.5" cy="350.1" r="7"/><circle cx="872.2" cy="875.8" r="7"/><circle cx="290.3" cy="898.5" r="7"/><circle cx="608.4" cy="714.2" r="7"/><circle cx="316.8" cy="351.2" r="7"/><circle cx="818.7" cy="846.2" r="7"/><circle cx="531.8" cy="289.3" r="7"/><circle cx="773.6" cy="940.8" r="7"/><circle cx="366.8" cy="346.2" r="7"/><circle cx="789.8" cy="969.1" r="7"/><circle cx="947.8" cy="787.9" r="7"/><circle cx="514.4" cy="753.8" r="7"/><circle cx="815.4" cy="972.7" r="7"/><circle cx="666.6" cy="1026.2" r="7"/><circle cx="657.2" cy="506.6" r="7"/><circle cx="556.8" cy="200" r="7"/><circle cx="618.7" cy="741.7" r="7"/><circle cx="863.7" cy="947" r="7"/><circle cx="539.8" cy="449.2" r="7"/><circle cx="342.4" cy="818.7" r="7"/><circle cx="516.3" cy="742.8" r="7"/><circle cx="334" cy="485.6" r="7"/><circle cx="417.2" cy="270.4" r="7"/><circle cx="1045.4" cy="478.9" r="7"/><circle cx="562.9" cy="976.8" r="7"/><circle cx="636.1" cy="307.6" r="7"/><circle cx="406.5" cy="302.3" r="7"/><circle cx="587.4" cy="937.7" r="7"/><circle cx="512.8" cy="300.9" r="7"/><circle cx="762" cy="856.7" r="7"/><circle cx="548.5" cy="442" r="7"/><circle cx="486" cy="897.6" r="7"/><circle cx="810.6" cy="854.9" r="7"/><circle cx="466.4" cy="258.6" r="7"/><circle cx="659.1" cy="226.8" r="7"/><circle cx="571.1" cy="920.3" r="7"/><circle cx="548.9" cy="980" r="7"/><circle cx="575.6" cy="539.1" r="7"/><circle cx="819.4" cy="854.9" r="7"/><circle cx="425.2" cy="349.4" r="7"/><circle cx="779.5" cy="728.3" r="7"/><circle cx="600.2" cy="433.2" r="7"/><circle cx="684.8" cy="707.4" r="7"/><circle cx="599.1" cy="284.3" r="7"/><circle cx="560.3" cy="927.6" r="7"/><circle cx="387.7" cy="377.6" r="7"/><circle cx="567.1" cy="815.8" r="7"/><circle cx="1071.3" cy="486" r="7"/><circle cx="887.1" cy="625" r="7"/><circle cx="289.1" cy="440.3" r="7"/><circle cx="959.3" cy="653.9" r="7"/><circle cx="477.5" cy="327.6" r="7"/><circle cx="1052" cy="476" r="7"/><circle cx="822.9" cy="499" r="7"/><circle cx="694.6" cy="670.1" r="7"/><circle cx="409.1" cy="366.9" r="7"/><circle cx="737.9" cy="281.5" r="7"/><circle cx="879.3" cy="853.3" r="7"/><circle cx="586" cy="323" r="7"/><circle cx="665.7" cy="805.3" r="7"/><circle cx="446.4" cy="738.8" r="7"/><circle cx="351.1" cy="367.2" r="7"/><circle cx="678.4" cy="261.1" r="7"/><circle cx="591.7" cy="1046.2" r="7"/></g><g fill="#73a8d3"><circle cx="436.6" cy="361.5" r="7"/><circle cx="677.2" cy="246.5" r="7"/><circle cx="970" cy="666.2" r="7"/><circle cx="1076.6" cy="481" r="7"/><circle cx="810.9" cy="978.8" r="7"/><circle cx="563.5" cy="814" r="7"/><circle cx="868.5" cy="815.1" r="7"/><circle cx="365.4" cy="431.9" r="7"/><circle cx="704.6" cy="742.2" r="7"/><circle cx="587.7" cy="289.2" r="7"/><circle cx="580.4" cy="898.1" r="7"/><circle cx="370.8" cy="319.1" r="7"/><circle cx="438.8" cy="308" r="7"/><circle cx="549" cy="1012.1" r="7"/><circle cx="840.9" cy="844.7" r="7"/><circle cx="352.8" cy="960.5" r="7"/><circle cx="414.6" cy="416" r="7"/><circle cx="783" cy="797.9" r="7"/><circle cx="530.8" cy="332.1" r="7"/><circle cx="1039.4" cy="469.6" r="7"/><circle cx="882" cy="795.2" r="7"/><circle cx="896.6" cy="804" r="7"/><circle cx="511.4" cy="472.2" r="7"/><circle cx="745" cy="1023.5" r="7"/><circle cx="721.9" cy="1024.3" r="7"/><circle cx="532.3" cy="488.8" r="7"/><circle cx="682.5" cy="252.5" r="7"/><circle cx="714.1" cy="860.2" r="7"/><circle cx="628.7" cy="210.3" r="7"/><circle cx="585.1" cy="442.8" r="7"/><circle cx="789.4" cy="753.3" r="7"/><circle cx="816.5" cy="842.5" r="7"/><circle cx="571.4" cy="282.7" r="7"/><circle cx="839" cy="924.2" r="7"/><circle cx="705.6" cy="814.2" r="7"/><circle cx="501.4" cy="325" r="7"/><circle cx="506.8" cy="318.9" r="7"/><circle cx="765.8" cy="926.7" r="7"/><circle cx="830.8" cy="881.1" r="7"/><circle cx="842.2" cy="948.4" r="7"/><circle cx="882.7" cy="810.5" r="7"/><circle cx="571" cy="302.8" r="7"/><circle cx="509.3" cy="916.9" r="7"/><circle cx="870.3" cy="823.1" r="7"/><circle cx="456.9" cy="299.9" r="7"/><circle cx="666.2" cy="938.8" r="7"/><circle cx="610.1" cy="616.9" r="7"/><circle cx="646.9" cy="626.2" r="7"/><circle cx="1043.8" cy="282.5" r="7"/><circle cx="1035" cy="325" r="7"/><circle cx="1036.2" cy="333.8" r="7"/><circle cx="675" cy="465" r="7"/><circle cx="677.5" cy="556.2" r="7"/><circle cx="685" cy="552.5" r="7"/><circle cx="680" cy="562.5" r="7"/><circle cx="663.8" cy="648.8" r="7"/><circle cx="655" cy="660" r="7"/><circle cx="635" cy="852.5" r="7"/><circle cx="775" cy="672.5" r="7"/><circle cx="815" cy="705" r="7"/><circle cx="812" cy="700" r="7"/><circle cx="527.5" cy="860" r="7"/><circle cx="768.2" cy="841.7" r="7"/><circle cx="566.1" cy="297" r="7"/><circle cx="553.7" cy="425.5" r="7"/><circle cx="457.5" cy="722.1" r="7"/><circle cx="817.1" cy="865" r="7"/><circle cx="1014.2" cy="805.4" r="7"/><circle cx="1039.3" cy="462.7" r="7"/><circle cx="864.7" cy="502.5" r="7"/><circle cx="570.6" cy="445.1" r="7"/><circle cx="282.2" cy="379.5" r="7"/><circle cx="914.4" cy="850.3" r="7"/><circle cx="793.4" cy="720.3" r="7"/><circle cx="595" cy="431.6" r="7"/><circle cx="245.4" cy="315.5" r="7"/><circle cx="559.4" cy="957.3" r="7"/><circle cx="452.5" cy="708.9" r="7"/><circle cx="803.7" cy="965.8" r="7"/><circle cx="683.4" cy="809" r="7"/><circle cx="568.1" cy="954.3" r="7"/><circle cx="597.4" cy="453.3" r="7"/><circle cx="223.8" cy="329.2" r="7"/><circle cx="292.3" cy="421.6" r="7"/><circle cx="542.3" cy="1032.5" r="7"/><circle cx="1013.9" cy="824.7" r="7"/><circle cx="471.9" cy="277" r="7"/><circle cx="304.5" cy="442.3" r="7"/><circle cx="320.2" cy="372.3" r="7"/><circle cx="880.4" cy="788.2" r="7"/><circle cx="538.3" cy="437.7" r="7"/><circle cx="529.3" cy="959" r="7"/><circle cx="885.3" cy="812.5" r="7"/><circle cx="857.1" cy="909.1" r="7"/><circle cx="589.5" cy="496.5" r="7"/><circle cx="673.4" cy="261.1" r="7"/><circle cx="883.5" cy="503.6" r="7"/><circle cx="452.2" cy="729.5" r="7"/><circle cx="524.6" cy="540.6" r="7"/></g><g fill="#74aad4"><circle cx="834.2" cy="948" r="7"/><circle cx="839.6" cy="843.5" r="7"/><circle cx="226.1" cy="328.3" r="7"/><circle cx="495.3" cy="757.8" r="7"/><circle cx="351" cy="535.9" r="7"/><circle cx="498.4" cy="299.5" r="7"/><circle cx="568.4" cy="464.3" r="7"/><circle cx="591.2" cy="459.9" r="7"/><circle cx="804.1" cy="986" r="7"/><circle cx="510.1" cy="260.8" r="7"/><circle cx="583.2" cy="464.8" r="7"/><circle cx="541.5" cy="278.2" r="7"/><circle cx="678" cy="813.5" r="7"/><circle cx="985.8" cy="805.6" r="7"/><circle cx="862.1" cy="904.7" r="7"/><circle cx="1087" cy="491.5" r="7"/><circle cx="647.1" cy="465.8" r="7"/><circle cx="1090" cy="509.5" r="7"/><circle cx="427.8" cy="354.8" r="7"/><circle cx="540.9" cy="880.6" r="7"/><circle cx="492.2" cy="369.3" r="7"/><circle cx="889.4" cy="493.3" r="7"/><circle cx="715.1" cy="271.8" r="7"/><circle cx="645" cy="507.1" r="7"/><circle cx="995.6" cy="821.6" r="7"/><circle cx="567.7" cy="890.6" r="7"/><circle cx="813.2" cy="950.2" r="7"/><circle cx="784.8" cy="912.8" r="7"/><circle cx="611.3" cy="257.3" r="7"/><circle cx="860.1" cy="886.2" r="7"/><circle cx="742.6" cy="876.1" r="7"/><circle cx="552.3" cy="529.3" r="7"/><circle cx="490.2" cy="698.8" r="7"/><circle cx="805.1" cy="924" r="7"/><circle cx="985" cy="799.9" r="7"/><circle cx="722.1" cy="281.4" r="7"/><circle cx="828.1" cy="866.3" r="7"/><circle cx="362.5" cy="518.3" r="7"/><circle cx="1085" cy="485.5" r="7"/><circle cx="579.9" cy="514" r="7"/><circle cx="726.1" cy="782.8" r="7"/><circle cx="618.3" cy="523" r="7"/><circle cx="487.7" cy="939.2" r="7"/><circle cx="539.5" cy="440.8" r="7"/><circle cx="883.9" cy="666" r="7"/><circle cx="350.7" cy="286.6" r="7"/><circle cx="582.9" cy="572.6" r="7"/><circle cx="874.5" cy="816.9" r="7"/><circle cx="544.8" cy="432.6" r="7"/><circle cx="546.9" cy="467.4" r="7"/><circle cx="586.4" cy="508" r="7"/><circle cx="516.9" cy="292.1" r="7"/><circle cx="481.9" cy="307.7" r="7"/><circle cx="587.3" cy="501.9" r="7"/><circle cx="998.5" cy="808" r="7"/><circle cx="566.7" cy="940.8" r="7"/><circle cx="365" cy="347.2" r="7"/><circle cx="535.5" cy="454.2" r="7"/><circle cx="860.5" cy="946.9" r="7"/><circle cx="602.1" cy="569.7" r="7"/><circle cx="580.7" cy="503" r="7"/><circle cx="834.9" cy="538.6" r="7"/><circle cx="1001.5" cy="826.2" r="7"/><circle cx="564.8" cy="446.4" r="7"/><circle cx="375.1" cy="932.2" r="7"/><circle cx="683.1" cy="264.3" r="7"/><circle cx="833.6" cy="947.4" r="7"/><circle cx="787.2" cy="808.4" r="7"/><circle cx="439.1" cy="362" r="7"/></g><g fill="#76acd5"><circle cx="849.5" cy="887.9" r="7"/><circle cx="596.7" cy="493.9" r="7"/><circle cx="376" cy="576.1" r="7"/><circle cx="508.1" cy="361.2" r="7"/><circle cx="540.2" cy="533.6" r="7"/><circle cx="520" cy="482.7" r="7"/><circle cx="573.8" cy="1044.7" r="7"/><circle cx="491.3" cy="995.2" r="7"/><circle cx="792.6" cy="947.9" r="7"/><circle cx="631.3" cy="258.6" r="7"/><circle cx="1109.6" cy="503" r="7"/><circle cx="838.5" cy="549.4" r="7"/><circle cx="471.1" cy="273.2" r="7"/><circle cx="717.5" cy="848.8" r="7"/><circle cx="672.9" cy="251.7" r="7"/><circle cx="630.1" cy="276.3" r="7"/><circle cx="407.6" cy="314.4" r="7"/><circle cx="812" cy="860.5" r="7"/><circle cx="888" cy="598.2" r="7"/><circle cx="909" cy="519.2" r="7"/><circle cx="722.5" cy="650.2" r="7"/><circle cx="506.9" cy="898.1" r="7"/><circle cx="562.5" cy="906.1" r="7"/><circle cx="526.5" cy="376.3" r="7"/><circle cx="394.6" cy="333.9" r="7"/><circle cx="880.1" cy="581" r="7"/><circle cx="612.9" cy="872.8" r="7"/><circle cx="549.2" cy="482.7" r="7"/><circle cx="585.6" cy="771.5" r="7"/><circle cx="799.2" cy="730.9" r="7"/><circle cx="393.2" cy="711.8" r="7"/><circle cx="227.9" cy="339.2" r="7"/><circle cx="813.3" cy="930.9" r="7"/><circle cx="863.8" cy="554.5" r="7"/><circle cx="540.8" cy="880.3" r="7"/><circle cx="607" cy="498.8" r="7"/><circle cx="671" cy="266.9" r="7"/><circle cx="802.7" cy="718.2" r="7"/><circle cx="845.2" cy="877.5" r="7"/><circle cx="565.9" cy="441.4" r="7"/><circle cx="816.7" cy="833.4" r="7"/><circle cx="1051.8" cy="471.2" r="7"/><circle cx="815.7" cy="491.2" r="7"/><circle cx="457.5" cy="466.9" r="7"/><circle cx="683.8" cy="558.8" r="7"/><circle cx="647.5" cy="626.2" r="7"/><circle cx="662.5" cy="635" r="7"/><circle cx="777.5" cy="625" r="7"/><circle cx="867.5" cy="630" r="7"/><circle cx="882.5" cy="628.8" r="7"/><circle cx="610" cy="620" r="7"/><circle cx="751.2" cy="952.5" r="7"/><circle cx="762.5" cy="957.5" r="7"/><circle cx="776.2" cy="961.2" r="7"/><circle cx="437.5" cy="812.5" r="7"/><circle cx="577.7" cy="903" r="7"/><circle cx="874.6" cy="498.7" r="7"/><circle cx="563.1" cy="950.5" r="7"/><circle cx="804.7" cy="980.3" r="7"/><circle cx="888.6" cy="804" r="7"/><circle cx="1096.6" cy="488.4" r="7"/><circle cx="458.2" cy="716.8" r="7"/><circle cx="974.7" cy="804.9" r="7"/><circle cx="469.6" cy="320.4" r="7"/><circle cx="799.9" cy="916.6" r="7"/><circle cx="1095.4" cy="480" r="7"/><circle cx="489" cy="937.8" r="7"/><circle cx="587.9" cy="746.7" r="7"/><circle cx="451.5" cy="745.9" r="7"/><circle cx="849.4" cy="818.8" r="7"/><circle cx="841.7" cy="883.5" r="7"/><circle cx="1091.3" cy="479.2" r="7"/><circle cx="662.6" cy="757.7" r="7"/><circle cx="861" cy="939.4" r="7"/><circle cx="521.5" cy="891.2" r="7"/><circle cx="269.9" cy="306.3" r="7"/><circle cx="649.4" cy="818.6" r="7"/><circle cx="339.1" cy="394.6" r="7"/><circle cx="914.6" cy="527.7" r="7"/><circle cx="477" cy="768.4" r="7"/><circle cx="1052.6" cy="487.5" r="7"/><circle cx="856" cy="812.7" r="7"/><circle cx="633.5" cy="492.3" r="7"/><circle cx="525.5" cy="975.7" r="7"/><circle cx="682" cy="835" r="7"/><circle cx="630.3" cy="846.1" r="7"/><circle cx="467.5" cy="323.9" r="7"/><circle cx="548" cy="335.9" r="7"/><circle cx="929.3" cy="496.9" r="7"/><circle cx="505" cy="267.1" r="7"/><circle cx="498.6" cy="987.8" r="7"/><circle cx="834.2" cy="928.4" r="7"/></g><g fill="#78aed6"><circle cx="624.6" cy="879.6" r="7"/><circle cx="479.5" cy="923.1" r="7"/><circle cx="890" cy="811.4" r="7"/><circle cx="518.4" cy="533.8" r="7"/><circle cx="1006" cy="813.5" r="7"/><circle cx="532.7" cy="307.6" r="7"/><circle cx="574.1" cy="912.7" r="7"/><circle cx="938.9" cy="848.6" r="7"/><circle cx="722.9" cy="651.7" r="7"/><circle cx="827.6" cy="850.8" r="7"/><circle cx="812.4" cy="862.6" r="7"/><circle cx="556" cy="493.4" r="7"/><circle cx="562.1" cy="912.5" r="7"/><circle cx="1073.9" cy="485.1" r="7"/><circle cx="564.6" cy="933.2" r="7"/><circle cx="847" cy="833.1" r="7"/><circle cx="645.6" cy="451.3" r="7"/><circle cx="436.2" cy="713.5" r="7"/><circle cx="547.2" cy="325.9" r="7"/><circle cx="1078.7" cy="483.4" r="7"/><circle cx="871.2" cy="851.3" r="7"/><circle cx="645.8" cy="240.8" r="7"/><circle cx="457.3" cy="757.6" r="7"/><circle cx="1103.1" cy="480.5" r="7"/><circle cx="546.9" cy="939.6" r="7"/><circle cx="910.9" cy="493" r="7"/><circle cx="427.9" cy="315.3" r="7"/><circle cx="556.3" cy="471.5" r="7"/><circle cx="548.1" cy="928.6" r="7"/><circle cx="845.8" cy="580.8" r="7"/><circle cx="434.3" cy="236.4" r="7"/><circle cx="863.7" cy="806.4" r="7"/><circle cx="706.9" cy="754.3" r="7"/><circle cx="1077.8" cy="494.3" r="7"/><circle cx="645.5" cy="476" r="7"/><circle cx="554.4" cy="994.8" r="7"/><circle cx="484.4" cy="937.3" r="7"/><circle cx="831.3" cy="885" r="7"/><circle cx="576.3" cy="483.6" r="7"/><circle cx="654.6" cy="487.5" r="7"/><circle cx="778.4" cy="933.6" r="7"/><circle cx="521" cy="521.7" r="7"/><circle cx="639.1" cy="436.6" r="7"/><circle cx="497" cy="471.7" r="7"/><circle cx="371.5" cy="576.4" r="7"/><circle cx="471.9" cy="766.2" r="7"/><circle cx="611.6" cy="240.8" r="7"/><circle cx="490.4" cy="259.3" r="7"/><circle cx="396.4" cy="711.8" r="7"/><circle cx="499.6" cy="986.7" r="7"/><circle cx="633.5" cy="769.4" r="7"/><circle cx="517.3" cy="305.4" r="7"/><circle cx="760" cy="806.2" r="7"/><circle cx="361.4" cy="953" r="7"/><circle cx="394.4" cy="360.9" r="7"/><circle cx="506.8" cy="940.8" r="7"/><circle cx="531" cy="786" r="7"/><circle cx="556.9" cy="474" r="7"/><circle cx="822.8" cy="846.7" r="7"/><circle cx="572.1" cy="510.6" r="7"/><circle cx="741.9" cy="1024.4" r="7"/><circle cx="544.5" cy="947" r="7"/><circle cx="851.7" cy="932.8" r="7"/><circle cx="640" cy="502.6" r="7"/><circle cx="1006.3" cy="792.4" r="7"/><circle cx="806.2" cy="885" r="7"/><circle cx="347.2" cy="565" r="7"/><circle cx="639.3" cy="459.5" r="7"/><circle cx="460.2" cy="705" r="7"/><circle cx="649.9" cy="464.5" r="7"/><circle cx="306.9" cy="427.2" r="7"/><circle cx="761.6" cy="659.7" r="7"/><circle cx="748" cy="728.4" r="7"/><circle cx="406" cy="366.1" r="7"/><circle cx="779.1" cy="852.4" r="7"/><circle cx="651.1" cy="843.4" r="7"/><circle cx="404" cy="713.7" r="7"/></g><g fill="#79b0d7"><circle cx="823.3" cy="901.9" r="7"/><circle cx="837.1" cy="507.5" r="7"/><circle cx="421.2" cy="725.9" r="7"/><circle cx="639.8" cy="730.3" r="7"/><circle cx="636.5" cy="262.8" r="7"/><circle cx="359.1" cy="321.1" r="7"/><circle cx="521.8" cy="885.5" r="7"/><circle cx="751.2" cy="821.8" r="7"/><circle cx="539.5" cy="472.7" r="7"/><circle cx="498.1" cy="976.8" r="7"/><circle cx="916.8" cy="895.9" r="7"/><circle cx="789" cy="783.6" r="7"/><circle cx="401.7" cy="325.9" r="7"/><circle cx="830.5" cy="944.2" r="7"/><circle cx="557.9" cy="944.7" r="7"/><circle cx="472.3" cy="324.5" r="7"/><circle cx="611.1" cy="505.4" r="7"/><circle cx="993.4" cy="793.4" r="7"/><circle cx="376" cy="714.5" r="7"/><circle cx="583.6" cy="302.7" r="7"/><circle cx="485.7" cy="760.7" r="7"/><circle cx="559.1" cy="895" r="7"/><circle cx="480.8" cy="329.9" r="7"/><circle cx="599.4" cy="460.7" r="7"/><circle cx="876.8" cy="549.2" r="7"/><circle cx="884.1" cy="838.6" r="7"/><circle cx="502.4" cy="756.4" r="7"/><circle cx="747.4" cy="817.8" r="7"/><circle cx="799.8" cy="922.5" r="7"/><circle cx="522.2" cy="761.7" r="7"/><circle cx="228.2" cy="340.6" r="7"/><circle cx="651.6" cy="700.4" r="7"/><circle cx="588.1" cy="474.4" r="7"/><circle cx="975.1" cy="811.9" r="7"/><circle cx="1081" cy="487.6" r="7"/><circle cx="698.7" cy="753" r="7"/><circle cx="460.4" cy="320.7" r="7"/><circle cx="423.8" cy="476.2" r="7"/><circle cx="655.5" cy="568.2" r="7"/><circle cx="900" cy="627.5" r="7"/><circle cx="662.5" cy="647.5" r="7"/><circle cx="800" cy="762" r="7"/><circle cx="535" cy="760" r="7"/><circle cx="363.8" cy="783.8" r="7"/><circle cx="386.2" cy="788.8" r="7"/><circle cx="412.5" cy="783.8" r="7"/><circle cx="340" cy="795" r="7"/><circle cx="903.2" cy="812.8" r="7"/><circle cx="530.4" cy="774.3" r="7"/><circle cx="758.2" cy="769.9" r="7"/><circle cx="404.8" cy="373.9" r="7"/><circle cx="834.1" cy="960.1" r="7"/><circle cx="604.6" cy="862.8" r="7"/><circle cx="825.8" cy="907.1" r="7"/><circle cx="543.2" cy="995.1" r="7"/><circle cx="546.5" cy="424.2" r="7"/><circle cx="919.9" cy="509.1" r="7"/><circle cx="812.1" cy="895.2" r="7"/><circle cx="794.4" cy="905.7" r="7"/><circle cx="916.8" cy="794" r="7"/><circle cx="724.8" cy="681.8" r="7"/><circle cx="646.5" cy="458.6" r="7"/><circle cx="793.3" cy="936.2" r="7"/><circle cx="502.7" cy="511" r="7"/><circle cx="864.4" cy="821.9" r="7"/><circle cx="511.4" cy="700.1" r="7"/><circle cx="347.7" cy="922.1" r="7"/><circle cx="546.4" cy="979.6" r="7"/><circle cx="519.9" cy="551.9" r="7"/><circle cx="825" cy="910.5" r="7"/><circle cx="675.3" cy="689.9" r="7"/><circle cx="367.4" cy="488.9" r="7"/><circle cx="379.2" cy="366.2" r="7"/><circle cx="692.4" cy="253.2" r="7"/><circle cx="638.4" cy="478.9" r="7"/><circle cx="877.8" cy="811.3" r="7"/><circle cx="891.3" cy="874.8" r="7"/><circle cx="1102.3" cy="486.8" r="7"/><circle cx="960.4" cy="795.3" r="7"/><circle cx="476.3" cy="272.1" r="7"/><circle cx="593.2" cy="508.7" r="7"/></g><g fill="#7cb2d8"><circle cx="829.6" cy="840.3" r="7"/><circle cx="455.5" cy="713.2" r="7"/><circle cx="674.4" cy="841.4" r="7"/><circle cx="516.6" cy="989" r="7"/><circle cx="872.5" cy="800.3" r="7"/><circle cx="826.6" cy="909.5" r="7"/><circle cx="883.6" cy="824.2" r="7"/><circle cx="657.1" cy="722.3" r="7"/><circle cx="562.5" cy="530.3" r="7"/><circle cx="533.6" cy="909.2" r="7"/><circle cx="811.5" cy="890.5" r="7"/><circle cx="834.9" cy="901.4" r="7"/><circle cx="875.7" cy="813.7" r="7"/><circle cx="791.4" cy="832.7" r="7"/><circle cx="518" cy="501.1" r="7"/><circle cx="475.6" cy="706.7" r="7"/><circle cx="652.5" cy="453.1" r="7"/><circle cx="849.7" cy="506.6" r="7"/><circle cx="547.5" cy="487.9" r="7"/><circle cx="548.7" cy="935.1" r="7"/><circle cx="794.2" cy="875.6" r="7"/><circle cx="540.7" cy="529" r="7"/><circle cx="521" cy="768.1" r="7"/><circle cx="489.8" cy="924.8" r="7"/><circle cx="629.5" cy="826.9" r="7"/><circle cx="485.1" cy="330.9" r="7"/><circle cx="531.6" cy="1011.7" r="7"/><circle cx="767" cy="956.8" r="7"/><circle cx="351.2" cy="511" r="7"/><circle cx="551.7" cy="516.2" r="7"/><circle cx="700.7" cy="812.7" r="7"/><circle cx="310.1" cy="353.9" r="7"/><circle cx="502.3" cy="754.8" r="7"/><circle cx="828.3" cy="917.5" r="7"/><circle cx="557.7" cy="479.4" r="7"/><circle cx="551.4" cy="267" r="7"/><circle cx="577.4" cy="912.8" r="7"/><circle cx="552.7" cy="922.1" r="7"/><circle cx="832.4" cy="581.7" r="7"/><circle cx="835.3" cy="881.1" r="7"/><circle cx="909.6" cy="535.6" r="7"/><circle cx="598.5" cy="501" r="7"/><circle cx="543.8" cy="942" r="7"/><circle cx="522" cy="466.5" r="7"/><circle cx="452.1" cy="739" r="7"/><circle cx="695.9" cy="267.1" r="7"/><circle cx="639.6" cy="473.1" r="7"/><circle cx="554.8" cy="938.9" r="7"/><circle cx="521.6" cy="978.4" r="7"/><circle cx="494.6" cy="987.7" r="7"/><circle cx="606.5" cy="442.5" r="7"/><circle cx="466.5" cy="260.6" r="7"/><circle cx="576" cy="460.7" r="7"/><circle cx="457.6" cy="717.4" r="7"/><circle cx="555.8" cy="905" r="7"/><circle cx="453.2" cy="318.1" r="7"/><circle cx="513.2" cy="921.8" r="7"/><circle cx="626.2" cy="548.1" r="7"/><circle cx="772.4" cy="789.2" r="7"/><circle cx="718.6" cy="694.9" r="7"/><circle cx="607.5" cy="513.1" r="7"/><circle cx="793.4" cy="961.3" r="7"/><circle cx="537.4" cy="961.5" r="7"/><circle cx="536.5" cy="915.4" r="7"/><circle cx="864" cy="577.8" r="7"/><circle cx="602.2" cy="516.9" r="7"/><circle cx="869.7" cy="806.1" r="7"/><circle cx="711.6" cy="673.9" r="7"/><circle cx="510.3" cy="307.2" r="7"/><circle cx="446.6" cy="356.5" r="7"/><circle cx="358.3" cy="722.1" r="7"/><circle cx="798.8" cy="899" r="7"/><circle cx="772.1" cy="930.9" r="7"/><circle cx="795.8" cy="911.2" r="7"/><circle cx="434.2" cy="712.7" r="7"/><circle cx="494.4" cy="982.7" r="7"/><circle cx="503.3" cy="288.9" r="7"/></g><g fill="#80b4d9"><circle cx="414.5" cy="347.8" r="7"/><circle cx="608" cy="494.9" r="7"/><circle cx="528.6" cy="768.1" r="7"/><circle cx="416.7" cy="323.9" r="7"/><circle cx="391.4" cy="705.5" r="7"/><circle cx="507.7" cy="752.1" r="7"/><circle cx="783.2" cy="919.2" r="7"/><circle cx="686.6" cy="870.5" r="7"/><circle cx="832" cy="857.3" r="7"/><circle cx="763.4" cy="884.2" r="7"/><circle cx="571.4" cy="867.6" r="7"/><circle cx="865.1" cy="528.5" r="7"/><circle cx="367.3" cy="723.6" r="7"/><circle cx="858.6" cy="819.8" r="7"/><circle cx="418.3" cy="379.4" r="7"/><circle cx="812.7" cy="897.4" r="7"/><circle cx="710.6" cy="784.9" r="7"/><circle cx="621.1" cy="480.8" r="7"/><circle cx="721.2" cy="752.9" r="7"/><circle cx="771.2" cy="753.3" r="7"/><circle cx="917.8" cy="533.6" r="7"/><circle cx="839.9" cy="950.4" r="7"/><circle cx="385" cy="716.8" r="7"/><circle cx="404.3" cy="315.7" r="7"/><circle cx="580.8" cy="273.2" r="7"/><circle cx="739.3" cy="829.4" r="7"/><circle cx="546.8" cy="287.7" r="7"/><circle cx="418.7" cy="347.1" r="7"/><circle cx="793.9" cy="957.4" r="7"/><circle cx="790" cy="880.2" r="7"/><circle cx="245" cy="318" r="7"/><circle cx="765" cy="430" r="7"/><circle cx="730" cy="452.5" r="7"/><circle cx="661.2" cy="475" r="7"/><circle cx="925" cy="596.2" r="7"/><circle cx="647.5" cy="626.2" r="7"/><circle cx="662.5" cy="635" r="7"/><circle cx="655" cy="660" r="7"/><circle cx="860" cy="720" r="7"/><circle cx="512.5" cy="862.5" r="7"/><circle cx="512.5" cy="862.5" r="7"/><circle cx="597.5" cy="253.8" r="7"/><circle cx="655.8" cy="701.2" r="7"/><circle cx="801" cy="936.1" r="7"/><circle cx="767.9" cy="945.6" r="7"/><circle cx="799.2" cy="868.9" r="7"/><circle cx="378.4" cy="720.9" r="7"/><circle cx="820.9" cy="918.5" r="7"/><circle cx="699.9" cy="690.7" r="7"/><circle cx="477" cy="769.5" r="7"/><circle cx="558" cy="278.5" r="7"/><circle cx="554.1" cy="483.1" r="7"/><circle cx="812" cy="725.9" r="7"/><circle cx="598.3" cy="744.8" r="7"/><circle cx="452.6" cy="338.3" r="7"/><circle cx="471.2" cy="303.7" r="7"/><circle cx="529.1" cy="774.7" r="7"/><circle cx="834.9" cy="835.3" r="7"/><circle cx="608.1" cy="736.6" r="7"/><circle cx="852.7" cy="556.3" r="7"/><circle cx="597" cy="562.9" r="7"/><circle cx="472.6" cy="286.4" r="7"/><circle cx="779.4" cy="751.4" r="7"/><circle cx="771.7" cy="941.5" r="7"/><circle cx="697.4" cy="827.8" r="7"/><circle cx="842.2" cy="516.6" r="7"/><circle cx="851.6" cy="567.3" r="7"/><circle cx="538" cy="461.4" r="7"/><circle cx="477.6" cy="766.5" r="7"/><circle cx="775" cy="687.4" r="7"/><circle cx="645.5" cy="461.6" r="7"/><circle cx="545.2" cy="304.1" r="7"/><circle cx="821.8" cy="905.5" r="7"/><circle cx="362.8" cy="327.1" r="7"/><circle cx="374.7" cy="942.7" r="7"/><circle cx="511.4" cy="911.5" r="7"/><circle cx="802.6" cy="834.1" r="7"/><circle cx="376.7" cy="717.9" r="7"/><circle cx="498" cy="759.9" r="7"/></g><g fill="#83b7da"><circle cx="533.9" cy="325.9" r="7"/><circle cx="475.9" cy="768.6" r="7"/><circle cx="634.1" cy="774.5" r="7"/><circle cx="342.1" cy="552.6" r="7"/><circle cx="563" cy="564.3" r="7"/><circle cx="770.5" cy="860.2" r="7"/><circle cx="369.8" cy="580.8" r="7"/><circle cx="870.7" cy="586.5" r="7"/><circle cx="626" cy="523.5" r="7"/><circle cx="469.4" cy="762.1" r="7"/><circle cx="810.7" cy="923.1" r="7"/><circle cx="602.7" cy="283.1" r="7"/><circle cx="499.8" cy="992.3" r="7"/><circle cx="368" cy="408.9" r="7"/><circle cx="560.8" cy="921.4" r="7"/><circle cx="591.4" cy="319.9" r="7"/><circle cx="554.3" cy="548.4" r="7"/><circle cx="526.8" cy="772.2" r="7"/><circle cx="572.8" cy="519.8" r="7"/><circle cx="833.5" cy="834.4" r="7"/><circle cx="651.9" cy="806.9" r="7"/><circle cx="567.8" cy="469.9" r="7"/><circle cx="778.3" cy="930.4" r="7"/><circle cx="907.1" cy="491.3" r="7"/><circle cx="600.4" cy="450" r="7"/><circle cx="361.3" cy="728.7" r="7"/><circle cx="523" cy="962.3" r="7"/><circle cx="598.4" cy="735.3" r="7"/><circle cx="534.3" cy="558.7" r="7"/><circle cx="519.8" cy="546.7" r="7"/><circle cx="605.5" cy="684.4" r="7"/><circle cx="582.2" cy="488.1" r="7"/><circle cx="671.6" cy="837" r="7"/><circle cx="519.6" cy="975.7" r="7"/><circle cx="436.8" cy="719.6" r="7"/><circle cx="817.9" cy="866.8" r="7"/><circle cx="503" cy="973.7" r="7"/><circle cx="494.3" cy="691.1" r="7"/><circle cx="506.8" cy="981.4" r="7"/><circle cx="536.4" cy="964.8" r="7"/><circle cx="448.6" cy="346.6" r="7"/><circle cx="535.5" cy="356.8" r="7"/><circle cx="555.8" cy="936" r="7"/><circle cx="816.2" cy="857" r="7"/><circle cx="578.7" cy="506.3" r="7"/><circle cx="530.2" cy="941" r="7"/><circle cx="1101.3" cy="494.9" r="7"/><circle cx="641.8" cy="717.8" r="7"/><circle cx="568.2" cy="450.3" r="7"/><circle cx="843" cy="910.6" r="7"/><circle cx="807.8" cy="942.8" r="7"/><circle cx="542.8" cy="953.3" r="7"/><circle cx="862.2" cy="563.2" r="7"/></g><g fill="#86b9db"><circle cx="301.2" cy="908.2" r="7"/><circle cx="625.1" cy="862.6" r="7"/><circle cx="608.4" cy="305.6" r="7"/><circle cx="527.1" cy="766.6" r="7"/><circle cx="821.1" cy="944.1" r="7"/><circle cx="852.3" cy="543.7" r="7"/><circle cx="605.6" cy="558" r="7"/><circle cx="544.9" cy="441.9" r="7"/><circle cx="537.8" cy="893" r="7"/><circle cx="845.3" cy="575.4" r="7"/><circle cx="548.3" cy="477.5" r="7"/><circle cx="861.3" cy="828.9" r="7"/><circle cx="836.1" cy="949.7" r="7"/><circle cx="553.1" cy="553.8" r="7"/><circle cx="528.3" cy="322.6" r="7"/><circle cx="498.6" cy="285.5" r="7"/><circle cx="860.3" cy="807.2" r="7"/><circle cx="533.5" cy="458.1" r="7"/><circle cx="447.9" cy="703.7" r="7"/><circle cx="793.7" cy="917.8" r="7"/><circle cx="644.1" cy="823.3" r="7"/><circle cx="456.8" cy="752.5" r="7"/><circle cx="532.7" cy="550" r="7"/><circle cx="547" cy="277.4" r="7"/><circle cx="796.8" cy="773.7" r="7"/><circle cx="649.8" cy="488.6" r="7"/><circle cx="887.1" cy="593.3" r="7"/><circle cx="699.6" cy="876.8" r="7"/><circle cx="614" cy="783" r="7"/><circle cx="780.1" cy="849" r="7"/><circle cx="370.9" cy="561.7" r="7"/><circle cx="865.8" cy="803.9" r="7"/><circle cx="523.4" cy="489.9" r="7"/><circle cx="682.4" cy="275" r="7"/><circle cx="729.2" cy="586.8" r="7"/><circle cx="862" cy="720" r="7"/><circle cx="588" cy="460.3" r="7"/><circle cx="837.6" cy="546.2" r="7"/><circle cx="913" cy="512" r="7"/><circle cx="544.9" cy="475.3" r="7"/><circle cx="401.6" cy="709.7" r="7"/><circle cx="575.9" cy="449.7" r="7"/><circle cx="1014.8" cy="817.4" r="7"/><circle cx="434.1" cy="721.7" r="7"/><circle cx="531.7" cy="781.4" r="7"/><circle cx="519.2" cy="464.4" r="7"/><circle cx="779.5" cy="919.9" r="7"/><circle cx="558.2" cy="268.4" r="7"/><circle cx="492.6" cy="690.7" r="7"/><circle cx="904.6" cy="603.2" r="7"/><circle cx="586.8" cy="525.6" r="7"/><circle cx="807.4" cy="898.9" r="7"/><circle cx="514.8" cy="487.5" r="7"/><circle cx="332.6" cy="558.1" r="7"/><circle cx="789.6" cy="857.9" r="7"/><circle cx="536.6" cy="918.8" r="7"/><circle cx="819" cy="854.6" r="7"/><circle cx="424.6" cy="359.8" r="7"/><circle cx="610.7" cy="477.5" r="7"/><circle cx="634.1" cy="442.1" r="7"/><circle cx="791.5" cy="777" r="7"/><circle cx="892.2" cy="805" r="7"/><circle cx="504.9" cy="932.7" r="7"/><circle cx="535.4" cy="504.8" r="7"/><circle cx="701.4" cy="849.1" r="7"/><circle cx="558.8" cy="464.8" r="7"/><circle cx="620.2" cy="733.1" r="7"/><circle cx="566.5" cy="868.1" r="7"/><circle cx="650.8" cy="496.2" r="7"/><circle cx="534.7" cy="536.7" r="7"/><circle cx="609.8" cy="427.7" r="7"/><circle cx="490.7" cy="281.2" r="7"/><circle cx="773.7" cy="766.8" r="7"/><circle cx="617.1" cy="295.4" r="7"/></g><g fill="#89bbdc"><circle cx="896.9" cy="587.4" r="7"/><circle cx="620.3" cy="772.8" r="7"/><circle cx="438.7" cy="291.1" r="7"/><circle cx="604.6" cy="472" r="7"/><circle cx="539.4" cy="896.3" r="7"/><circle cx="594.5" cy="550.1" r="7"/><circle cx="617.7" cy="452.4" r="7"/><circle cx="550.7" cy="523.1" r="7"/><circle cx="378.3" cy="309.6" r="7"/><circle cx="399" cy="707.8" r="7"/><circle cx="705.6" cy="824.1" r="7"/><circle cx="854.1" cy="585" r="7"/><circle cx="808.8" cy="821.8" r="7"/><circle cx="751.2" cy="784.4" r="7"/><circle cx="545.5" cy="887.2" r="7"/><circle cx="585.3" cy="247" r="7"/><circle cx="555.1" cy="815.6" r="7"/><circle cx="512.7" cy="928.8" r="7"/><circle cx="628.8" cy="814.8" r="7"/><circle cx="600.5" cy="749.8" r="7"/><circle cx="811.7" cy="918.5" r="7"/><circle cx="833" cy="941.3" r="7"/><circle cx="554.1" cy="948.5" r="7"/><circle cx="860.1" cy="864.4" r="7"/><circle cx="462.9" cy="702.7" r="7"/><circle cx="617.3" cy="436.8" r="7"/><circle cx="639.6" cy="530.3" r="7"/><circle cx="851" cy="563.5" r="7"/><circle cx="640.4" cy="239.7" r="7"/><circle cx="610" cy="528.2" r="7"/><circle cx="816.9" cy="911.5" r="7"/><circle cx="540.3" cy="965.4" r="7"/><circle cx="809.7" cy="854" r="7"/><circle cx="496.2" cy="474.9" r="7"/><circle cx="630.1" cy="436.2" r="7"/><circle cx="658.8" cy="744.2" r="7"/><circle cx="531.1" cy="561.9" r="7"/><circle cx="530" cy="894.9" r="7"/><circle cx="505.4" cy="507.7" r="7"/><circle cx="620.1" cy="865.9" r="7"/><circle cx="774.8" cy="833.7" r="7"/><circle cx="508.5" cy="911.2" r="7"/><circle cx="575.6" cy="424.5" r="7"/><circle cx="540.6" cy="904.8" r="7"/><circle cx="516.4" cy="964.8" r="7"/><circle cx="504.1" cy="690.1" r="7"/><circle cx="800.2" cy="831.4" r="7"/><circle cx="524.9" cy="926.9" r="7"/><circle cx="765.7" cy="922.5" r="7"/><circle cx="564.4" cy="929.7" r="7"/><circle cx="615.2" cy="821.3" r="7"/><circle cx="894.3" cy="800" r="7"/><circle cx="658.1" cy="782" r="7"/><circle cx="591.6" cy="845.5" r="7"/><circle cx="519.3" cy="472.5" r="7"/><circle cx="744.9" cy="718.1" r="7"/><circle cx="785.5" cy="655.7" r="7"/><circle cx="526.4" cy="969.7" r="7"/><circle cx="365.8" cy="442.3" r="7"/><circle cx="613.4" cy="825.3" r="7"/><circle cx="901.4" cy="805.9" r="7"/></g><g fill="#8dbddd"><circle cx="611.4" cy="702.4" r="7"/><circle cx="602.3" cy="876.5" r="7"/><circle cx="579.5" cy="823.4" r="7"/><circle cx="506.5" cy="703.1" r="7"/><circle cx="860.3" cy="541.5" r="7"/><circle cx="428.4" cy="288.7" r="7"/><circle cx="692.5" cy="798.9" r="7"/><circle cx="804" cy="938.9" r="7"/><circle cx="753.2" cy="851.9" r="7"/><circle cx="800.9" cy="860" r="7"/><circle cx="446.4" cy="752.7" r="7"/><circle cx="406.2" cy="710.3" r="7"/><circle cx="591.2" cy="477.3" r="7"/><circle cx="603.4" cy="485.8" r="7"/><circle cx="855.1" cy="558.3" r="7"/><circle cx="541.3" cy="467.5" r="7"/><circle cx="713.4" cy="732.7" r="7"/><circle cx="799.5" cy="954.5" r="7"/><circle cx="693.6" cy="848.4" r="7"/><circle cx="641.5" cy="764.9" r="7"/><circle cx="679.1" cy="268.7" r="7"/><circle cx="707.8" cy="668.2" r="7"/><circle cx="535" cy="990.6" r="7"/><circle cx="562.6" cy="927.2" r="7"/><circle cx="870.3" cy="806.4" r="7"/><circle cx="560.5" cy="807.1" r="7"/><circle cx="826.6" cy="913.1" r="7"/><circle cx="851.7" cy="833.7" r="7"/><circle cx="860" cy="815" r="7"/><circle cx="634.6" cy="458.6" r="7"/><circle cx="692.1" cy="666" r="7"/><circle cx="499.9" cy="923.9" r="7"/><circle cx="784.2" cy="778.9" r="7"/><circle cx="576.7" cy="785.5" r="7"/><circle cx="774.9" cy="943.6" r="7"/><circle cx="720.8" cy="826.6" r="7"/><circle cx="584.6" cy="485.5" r="7"/><circle cx="548.9" cy="561" r="7"/><circle cx="460.1" cy="760.6" r="7"/><circle cx="759.3" cy="747.3" r="7"/><circle cx="511.6" cy="932.3" r="7"/><circle cx="570.9" cy="538.5" r="7"/><circle cx="763.9" cy="832.2" r="7"/><circle cx="851.5" cy="510.5" r="7"/><circle cx="617.5" cy="477.3" r="7"/><circle cx="565.3" cy="896.1" r="7"/><circle cx="797.6" cy="830.2" r="7"/><circle cx="845.4" cy="585.1" r="7"/><circle cx="779.2" cy="796.1" r="7"/><circle cx="389.3" cy="708.5" r="7"/><circle cx="854.5" cy="505.1" r="7"/><circle cx="800.4" cy="852.6" r="7"/><circle cx="530.1" cy="526.9" r="7"/></g><g fill="#90c0de"><circle cx="830.3" cy="889.1" r="7"/><circle cx="443.1" cy="708.1" r="7"/><circle cx="506.8" cy="970" r="7"/><circle cx="718" cy="686.9" r="7"/><circle cx="569" cy="441" r="7"/><circle cx="550.7" cy="456.8" r="7"/><circle cx="705.5" cy="640" r="7"/><circle cx="486.3" cy="760.9" r="7"/><circle cx="436.2" cy="345.5" r="7"/><circle cx="636.9" cy="470.9" r="7"/><circle cx="513.6" cy="957.5" r="7"/><circle cx="858.9" cy="517.6" r="7"/><circle cx="712.1" cy="695.8" r="7"/><circle cx="539.3" cy="917.9" r="7"/><circle cx="547.6" cy="793.4" r="7"/><circle cx="872.9" cy="827.9" r="7"/><circle cx="893" cy="503" r="7"/><circle cx="537.4" cy="905.6" r="7"/><circle cx="859.7" cy="528.4" r="7"/><circle cx="735.8" cy="823" r="7"/><circle cx="819.8" cy="495.3" r="7"/><circle cx="787.8" cy="869.8" r="7"/><circle cx="603.7" cy="854.9" r="7"/><circle cx="577.8" cy="529.9" r="7"/><circle cx="414.5" cy="713.7" r="7"/><circle cx="579.5" cy="807.7" r="7"/><circle cx="625.3" cy="457" r="7"/><circle cx="589.9" cy="877.9" r="7"/><circle cx="632" cy="454.3" r="7"/><circle cx="651.3" cy="460.2" r="7"/><circle cx="566.1" cy="891.1" r="7"/><circle cx="767.8" cy="820" r="7"/><circle cx="701.7" cy="888.7" r="7"/><circle cx="478.2" cy="761.1" r="7"/><circle cx="832" cy="870" r="7"/><circle cx="600.5" cy="538.8" r="7"/><circle cx="488.5" cy="959" r="7"/><circle cx="772.1" cy="877.8" r="7"/><circle cx="452" cy="738.2" r="7"/><circle cx="564.4" cy="810.3" r="7"/><circle cx="593.8" cy="490" r="7"/><circle cx="740.1" cy="636.3" r="7"/><circle cx="846.9" cy="915.5" r="7"/><circle cx="821.6" cy="863" r="7"/><circle cx="584.6" cy="436.4" r="7"/><circle cx="903.7" cy="505.6" r="7"/><circle cx="515.1" cy="978.4" r="7"/><circle cx="535.2" cy="921.2" r="7"/><circle cx="634.5" cy="446.8" r="7"/><circle cx="673.8" cy="879.2" r="7"/><circle cx="770.5" cy="674" r="7"/><circle cx="500.8" cy="944.6" r="7"/></g><g fill="#93c2de"><circle cx="885.2" cy="810.4" r="7"/><circle cx="638.8" cy="828.1" r="7"/><circle cx="759.4" cy="727.5" r="7"/><circle cx="817.3" cy="875.5" r="7"/><circle cx="801.8" cy="844.3" r="7"/><circle cx="359.4" cy="726.2" r="7"/><circle cx="401.1" cy="709.4" r="7"/><circle cx="863" cy="588.2" r="7"/><circle cx="818.3" cy="936.3" r="7"/><circle cx="613.1" cy="819.8" r="7"/><circle cx="651.8" cy="837.3" r="7"/><circle cx="633.5" cy="871.8" r="7"/><circle cx="699.2" cy="655.1" r="7"/><circle cx="827.9" cy="921.3" r="7"/><circle cx="832.6" cy="861.5" r="7"/><circle cx="870.9" cy="800.7" r="7"/><circle cx="506.2" cy="923.7" r="7"/><circle cx="760.8" cy="832.8" r="7"/><circle cx="810.5" cy="887.7" r="7"/><circle cx="607.7" cy="485.3" r="7"/><circle cx="340" cy="510" r="7"/><circle cx="352" cy="462" r="7"/><circle cx="702.5" cy="452.5" r="7"/><circle cx="702.5" cy="451.2" r="7"/><circle cx="725" cy="603.8" r="7"/><circle cx="822.5" cy="488.8" r="7"/><circle cx="527.5" cy="710" r="7"/><circle cx="532.5" cy="717.5" r="7"/><circle cx="672.5" cy="622.5" r="7"/><circle cx="830" cy="715" r="7"/><circle cx="895.7" cy="591" r="7"/><circle cx="783.8" cy="864.5" r="7"/><circle cx="458.1" cy="701.2" r="7"/><circle cx="554.1" cy="918.4" r="7"/><circle cx="744.3" cy="713.2" r="7"/><circle cx="771.1" cy="696" r="7"/><circle cx="533.9" cy="945.6" r="7"/><circle cx="779.3" cy="932.4" r="7"/><circle cx="517" cy="929.4" r="7"/><circle cx="634.6" cy="860.6" r="7"/><circle cx="840.5" cy="528.5" r="7"/><circle cx="859.2" cy="563.3" r="7"/><circle cx="616.5" cy="458.5" r="7"/><circle cx="497.5" cy="948.7" r="7"/><circle cx="627.5" cy="739.9" r="7"/><circle cx="808.1" cy="804.8" r="7"/><circle cx="553.8" cy="830.6" r="7"/><circle cx="656.7" cy="747.9" r="7"/><circle cx="783.7" cy="876.8" r="7"/><circle cx="579" cy="869" r="7"/><circle cx="853.1" cy="537.8" r="7"/><circle cx="1091.8" cy="490.2" r="7"/><circle cx="410.2" cy="719.6" r="7"/></g><g fill="#97c4df"><circle cx="811.3" cy="878" r="7"/><circle cx="396.2" cy="711.3" r="7"/><circle cx="512.3" cy="532" r="7"/><circle cx="540.1" cy="503.7" r="7"/><circle cx="527.7" cy="911.1" r="7"/><circle cx="868.1" cy="804.2" r="7"/><circle cx="807.6" cy="921.5" r="7"/><circle cx="724.3" cy="673.8" r="7"/><circle cx="879.6" cy="497.7" r="7"/><circle cx="597.1" cy="871.1" r="7"/><circle cx="639.3" cy="778.1" r="7"/><circle cx="594.1" cy="504.4" r="7"/><circle cx="621.5" cy="452.3" r="7"/><circle cx="803" cy="917.4" r="7"/><circle cx="630.9" cy="710.4" r="7"/><circle cx="572.7" cy="485.4" r="7"/><circle cx="579.9" cy="856.7" r="7"/><circle cx="849.1" cy="588.4" r="7"/><circle cx="654.9" cy="872.4" r="7"/><circle cx="424.6" cy="717.5" r="7"/><circle cx="701.8" cy="828.6" r="7"/><circle cx="876" cy="651.1" r="7"/><circle cx="626.9" cy="854.2" r="7"/><circle cx="624.1" cy="783.6" r="7"/><circle cx="733.8" cy="646.7" r="7"/><circle cx="374.8" cy="714.8" r="7"/><circle cx="625.8" cy="431.4" r="7"/><circle cx="540.6" cy="917.6" r="7"/><circle cx="523.1" cy="931.1" r="7"/><circle cx="808.3" cy="877.6" r="7"/><circle cx="766.4" cy="735.7" r="7"/><circle cx="630.1" cy="851.9" r="7"/><circle cx="485.7" cy="760.1" r="7"/></g><g fill="#9ac6e0"><circle cx="517.5" cy="943.2" r="7"/><circle cx="661.5" cy="716.4" r="7"/><circle cx="578.7" cy="454.8" r="7"/><circle cx="601.4" cy="531.8" r="7"/><circle cx="785.4" cy="746.9" r="7"/><circle cx="812.3" cy="914.3" r="7"/><circle cx="348.3" cy="318.6" r="7"/><circle cx="790.5" cy="909.4" r="7"/><circle cx="599.6" cy="464.7" r="7"/><circle cx="748.4" cy="876.7" r="7"/><circle cx="513.6" cy="974.2" r="7"/><circle cx="625" cy="499" r="7"/><circle cx="607.9" cy="479.1" r="7"/><circle cx="538.7" cy="838.6" r="7"/><circle cx="911.9" cy="508.6" r="7"/><circle cx="1098" cy="486.4" r="7"/><circle cx="784.5" cy="659.2" r="7"/><circle cx="812.6" cy="842.7" r="7"/><circle cx="522.7" cy="929.3" r="7"/><circle cx="477.6" cy="706.2" r="7"/><circle cx="694.1" cy="731.6" r="7"/><circle cx="880.8" cy="493.9" r="7"/><circle cx="783.2" cy="781.7" r="7"/><circle cx="540.8" cy="927" r="7"/><circle cx="748.1" cy="831.5" r="7"/><circle cx="327" cy="445" r="7"/><circle cx="322" cy="470" r="7"/><circle cx="336" cy="500" r="7"/><circle cx="251" cy="311" r="7"/><circle cx="266" cy="309" r="7"/><circle cx="270" cy="330" r="7"/><circle cx="1082" cy="513" r="7"/><circle cx="685" cy="447.5" r="7"/><circle cx="686.2" cy="460" r="7"/><circle cx="552.5" cy="1060" r="7"/><circle cx="397.5" cy="852.5" r="7"/><circle cx="767.3" cy="676.4" r="7"/><circle cx="543.5" cy="490.2" r="7"/><circle cx="695.6" cy="739.7" r="7"/><circle cx="439.8" cy="709.2" r="7"/><circle cx="650.6" cy="776.2" r="7"/><circle cx="519.3" cy="926.2" r="7"/><circle cx="536.6" cy="933.3" r="7"/><circle cx="803.6" cy="889.7" r="7"/><circle cx="820.4" cy="950.3" r="7"/><circle cx="605" cy="713.3" r="7"/><circle cx="776.1" cy="871.3" r="7"/><circle cx="867.6" cy="535.5" r="7"/><circle cx="736.4" cy="773.1" r="7"/><circle cx="707" cy="813.1" r="7"/><circle cx="885.7" cy="805.2" r="7"/><circle cx="795" cy="833.2" r="7"/><circle cx="495.7" cy="693.4" r="7"/></g><g fill="#9dc8e1"><circle cx="794.8" cy="845.4" r="7"/><circle cx="514.5" cy="969.9" r="7"/><circle cx="501.9" cy="301.4" r="7"/><circle cx="921.8" cy="522.5" r="7"/><circle cx="548.1" cy="428.3" r="7"/><circle cx="555.2" cy="844.1" r="7"/><circle cx="843.4" cy="557.2" r="7"/><circle cx="552.5" cy="908.6" r="7"/><circle cx="482.9" cy="698.8" r="7"/><circle cx="617.5" cy="481.1" r="7"/><circle cx="782.4" cy="756.7" r="7"/><circle cx="630.2" cy="275" r="7"/><circle cx="667.5" cy="786.4" r="7"/><circle cx="756.1" cy="720.7" r="7"/><circle cx="858.7" cy="807.3" r="7"/><circle cx="873.7" cy="554.1" r="7"/><circle cx="540.6" cy="508.3" r="7"/><circle cx="555.2" cy="451.2" r="7"/><circle cx="521.6" cy="500.3" r="7"/><circle cx="657.3" cy="820.6" r="7"/><circle cx="573" cy="533.5" r="7"/><circle cx="621.5" cy="429.6" r="7"/><circle cx="806.4" cy="861.1" r="7"/><circle cx="827.1" cy="809" r="7"/><circle cx="805.5" cy="872.3" r="7"/><circle cx="751.9" cy="735.8" r="7"/><circle cx="655.4" cy="885.4" r="7"/></g><g fill="#a0cbe2"><circle cx="791.6" cy="883.7" r="7"/><circle cx="671.3" cy="751.2" r="7"/><circle cx="779.3" cy="779.5" r="7"/><circle cx="765.8" cy="813.3" r="7"/><circle cx="616.3" cy="464.4" r="7"/><circle cx="873.1" cy="808.1" r="7"/><circle cx="803.5" cy="804.6" r="7"/><circle cx="763.2" cy="879.7" r="7"/><circle cx="581.5" cy="733.3" r="7"/><circle cx="532.8" cy="910.6" r="7"/><circle cx="330" cy="435" r="7"/><circle cx="341" cy="487" r="7"/><circle cx="341" cy="521" r="7"/><circle cx="685" cy="446.2" r="7"/><circle cx="686.2" cy="460" r="7"/><circle cx="645" cy="472.5" r="7"/><circle cx="837.5" cy="710" r="7"/><circle cx="852.5" cy="712.5" r="7"/><circle cx="952.5" cy="803.8" r="7"/><circle cx="932.5" cy="820" r="7"/><circle cx="761.2" cy="935" r="7"/><circle cx="761.2" cy="942.5" r="7"/><circle cx="473.8" cy="930" r="7"/><circle cx="488.8" cy="952.5" r="7"/><circle cx="487.5" cy="966.2" r="7"/><circle cx="505" cy="986.2" r="7"/><circle cx="502.5" cy="943.8" r="7"/><circle cx="522.5" cy="972.5" r="7"/><circle cx="523.8" cy="1018.8" r="7"/><circle cx="557.5" cy="922.5" r="7"/><circle cx="573.8" cy="932.5" r="7"/><circle cx="630" cy="930" r="7"/><circle cx="762.5" cy="935" r="7"/><circle cx="761.2" cy="941.2" r="7"/><circle cx="527.5" cy="711.2" r="7"/><circle cx="533.8" cy="718.8" r="7"/><circle cx="408.8" cy="860" r="7"/><circle cx="402.5" cy="857.5" r="7"/><circle cx="887.5" cy="805" r="7"/><circle cx="859.6" cy="552.3" r="7"/><circle cx="498.1" cy="943" r="7"/><circle cx="909.4" cy="594.3" r="7"/><circle cx="869" cy="541.9" r="7"/><circle cx="877.7" cy="490.2" r="7"/><circle cx="618.4" cy="499.5" r="7"/><circle cx="641.5" cy="870.7" r="7"/><circle cx="752.4" cy="805" r="7"/><circle cx="790.1" cy="645.7" r="7"/><circle cx="634.9" cy="438.8" r="7"/><circle cx="823.2" cy="837.9" r="7"/><circle cx="837.3" cy="517.7" r="7"/><circle cx="704.8" cy="792.3" r="7"/><circle cx="541.3" cy="547.9" r="7"/><circle cx="659.5" cy="757.2" r="7"/><circle cx="778.8" cy="827.3" r="7"/><circle cx="543.2" cy="930.5" r="7"/><circle cx="545" cy="826.2" r="7"/><circle cx="724.3" cy="677.4" r="7"/><circle cx="427.3" cy="718" r="7"/><circle cx="696.9" cy="818.8" r="7"/><circle cx="790.3" cy="863" r="7"/><circle cx="559" cy="486.8" r="7"/><circle cx="1105.3" cy="502.8" r="7"/><circle cx="811.1" cy="848.3" r="7"/><circle cx="556.9" cy="906.2" r="7"/></g><g fill="#a4cde3"><circle cx="378" cy="712.7" r="7"/><circle cx="871.7" cy="551.4" r="7"/><circle cx="768.7" cy="728.4" r="7"/><circle cx="682.1" cy="863" r="7"/><circle cx="702.1" cy="655.6" r="7"/><circle cx="805.9" cy="873.7" r="7"/><circle cx="776.7" cy="773.8" r="7"/><circle cx="795.7" cy="872" r="7"/><circle cx="516" cy="937.1" r="7"/><circle cx="510" cy="492.2" r="7"/><circle cx="778.9" cy="847.4" r="7"/><circle cx="826.3" cy="852.2" r="7"/><circle cx="733.5" cy="831.7" r="7"/><circle cx="548.8" cy="899.9" r="7"/><circle cx="661.5" cy="703.1" r="7"/><circle cx="854" cy="515.7" r="7"/><circle cx="639.2" cy="711.1" r="7"/><circle cx="870.5" cy="555" r="7"/><circle cx="768.3" cy="772.2" r="7"/><circle cx="667.1" cy="888.1" r="7"/><circle cx="795.6" cy="787.7" r="7"/><circle cx="629.1" cy="457.8" r="7"/><circle cx="562.4" cy="890.4" r="7"/><circle cx="777.6" cy="779.4" r="7"/><circle cx="560.9" cy="897.4" r="7"/><circle cx="672.4" cy="697.8" r="7"/><circle cx="670.2" cy="871.2" r="7"/><circle cx="823.5" cy="854.4" r="7"/><circle cx="592.1" cy="872.1" r="7"/><circle cx="887.8" cy="500.4" r="7"/><circle cx="752.8" cy="789.6" r="7"/><circle cx="734.7" cy="826.1" r="7"/><circle cx="755.6" cy="826.8" r="7"/><circle cx="785.5" cy="830.4" r="7"/><circle cx="810.1" cy="873" r="7"/><circle cx="826.8" cy="896.9" r="7"/><circle cx="725" cy="751.5" r="7"/></g><g fill="#a7cfe4"><circle cx="654.9" cy="798.3" r="7"/><circle cx="785.8" cy="826.3" r="7"/><circle cx="711.4" cy="701.2" r="7"/><circle cx="697.8" cy="885.9" r="7"/><circle cx="709.6" cy="861.6" r="7"/><circle cx="513.8" cy="477.2" r="7"/><circle cx="843.2" cy="562.1" r="7"/><circle cx="577.7" cy="763.3" r="7"/><circle cx="648.6" cy="825.5" r="7"/><circle cx="575.4" cy="439.3" r="7"/><circle cx="806" cy="869" r="7"/><circle cx="554.1" cy="912.1" r="7"/><circle cx="572" cy="861.5" r="7"/><circle cx="859.4" cy="568.1" r="7"/><circle cx="860.7" cy="557.6" r="7"/><circle cx="661.9" cy="859.2" r="7"/><circle cx="875.3" cy="861.1" r="7"/><circle cx="786.6" cy="770.8" r="7"/><circle cx="813.7" cy="807.9" r="7"/><circle cx="337" cy="457" r="7"/><circle cx="517.5" cy="431.2" r="7"/><circle cx="853" cy="714" r="7"/><circle cx="829" cy="722" r="7"/><circle cx="883.8" cy="810" r="7"/><circle cx="940" cy="790" r="7"/><circle cx="933.8" cy="805" r="7"/><circle cx="927.5" cy="835" r="7"/><circle cx="926.2" cy="848.8" r="7"/><circle cx="917.5" cy="857.5" r="7"/><circle cx="885" cy="843.8" r="7"/><circle cx="873.8" cy="888.8" r="7"/><circle cx="868.8" cy="886.2" r="7"/><circle cx="650" cy="815.6" r="7"/><circle cx="863.4" cy="517.1" r="7"/><circle cx="774.5" cy="825.9" r="7"/><circle cx="612.1" cy="864.7" r="7"/><circle cx="870" cy="558" r="7"/><circle cx="744" cy="726.9" r="7"/><circle cx="733.8" cy="705.5" r="7"/><circle cx="802.3" cy="851.1" r="7"/><circle cx="799.7" cy="848.9" r="7"/><circle cx="512.7" cy="922.1" r="7"/><circle cx="576.8" cy="517.4" r="7"/><circle cx="611.6" cy="461.6" r="7"/><circle cx="817.1" cy="825.4" r="7"/><circle cx="564.9" cy="899.6" r="7"/><circle cx="633.3" cy="741.1" r="7"/></g><g fill="#aad1e5"><circle cx="817" cy="509.2" r="7"/><circle cx="527.7" cy="934.5" r="7"/><circle cx="654.2" cy="744.8" r="7"/><circle cx="787" cy="749.3" r="7"/><circle cx="701.4" cy="791" r="7"/><circle cx="854.7" cy="815.8" r="7"/><circle cx="596.5" cy="832.3" r="7"/><circle cx="625.7" cy="452.8" r="7"/><circle cx="700.1" cy="636.4" r="7"/><circle cx="894.9" cy="791.6" r="7"/><circle cx="857.8" cy="559.7" r="7"/><circle cx="744.1" cy="731.1" r="7"/><circle cx="556.9" cy="497.7" r="7"/><circle cx="880.9" cy="586.7" r="7"/><circle cx="618.6" cy="492.1" r="7"/><circle cx="752.8" cy="798.5" r="7"/><circle cx="548.8" cy="919.8" r="7"/><circle cx="633.9" cy="465.8" r="7"/><circle cx="859.6" cy="580.8" r="7"/><circle cx="613.3" cy="802.5" r="7"/><circle cx="873.3" cy="532" r="7"/><circle cx="780.4" cy="864.9" r="7"/><circle cx="864.5" cy="858.2" r="7"/><circle cx="589.3" cy="735.6" r="7"/><circle cx="569.9" cy="790.6" r="7"/><circle cx="765.3" cy="800.3" r="7"/><circle cx="667.4" cy="744.9" r="7"/><circle cx="790.3" cy="808.7" r="7"/><circle cx="586.2" cy="863.8" r="7"/></g><g fill="#add2e6"><circle cx="584.6" cy="783.3" r="7"/><circle cx="513.3" cy="964.4" r="7"/><circle cx="809.5" cy="810" r="7"/><circle cx="611.8" cy="798.1" r="7"/><circle cx="832.7" cy="814.7" r="7"/><circle cx="709.6" cy="845.3" r="7"/><circle cx="676.3" cy="858.7" r="7"/><circle cx="638.7" cy="432.5" r="7"/><circle cx="669.6" cy="778.8" r="7"/><circle cx="760.1" cy="861.5" r="7"/><circle cx="731.1" cy="825.4" r="7"/><circle cx="884.6" cy="802.8" r="7"/><circle cx="543.6" cy="425.8" r="7"/><circle cx="518.7" cy="432.7" r="7"/><circle cx="672.5" cy="620" r="7"/><circle cx="917.5" cy="482.5" r="7"/><circle cx="931.2" cy="492.5" r="7"/><circle cx="942.5" cy="458.8" r="7"/><circle cx="953.8" cy="457.5" r="7"/><circle cx="836" cy="710" r="7"/><circle cx="845" cy="712" r="7"/><circle cx="897.5" cy="813.8" r="7"/><circle cx="860" cy="870" r="7"/><circle cx="855" cy="883.8" r="7"/><circle cx="817.5" cy="927.5" r="7"/><circle cx="586.2" cy="905" r="7"/><circle cx="419.2" cy="764.2" r="7"/><circle cx="839.1" cy="820.3" r="7"/><circle cx="619" cy="492" r="7"/><circle cx="796.5" cy="870.6" r="7"/><circle cx="540.8" cy="902" r="7"/><circle cx="503.5" cy="944.4" r="7"/><circle cx="506.7" cy="964.9" r="7"/><circle cx="542.9" cy="911.8" r="7"/><circle cx="587.1" cy="435.2" r="7"/><circle cx="633.7" cy="451.1" r="7"/><circle cx="829.2" cy="811.9" r="7"/><circle cx="548.6" cy="459" r="7"/></g><g fill="#b0d4e7"><circle cx="802.1" cy="801.7" r="7"/><circle cx="736.3" cy="668" r="7"/><circle cx="835.7" cy="852.5" r="7"/><circle cx="524.7" cy="966.8" r="7"/><circle cx="595.7" cy="852.2" r="7"/><circle cx="620.1" cy="460.6" r="7"/><circle cx="638" cy="838.2" r="7"/><circle cx="591" cy="471.5" r="7"/><circle cx="581.9" cy="751.1" r="7"/><circle cx="742.1" cy="854.4" r="7"/><circle cx="712.4" cy="683.3" r="7"/><circle cx="844.9" cy="525.6" r="7"/><circle cx="613.8" cy="475.1" r="7"/><circle cx="760.4" cy="744.4" r="7"/><circle cx="700.2" cy="756.4" r="7"/><circle cx="608.8" cy="737.6" r="7"/><circle cx="579.4" cy="742.5" r="7"/><circle cx="600.9" cy="722.5" r="7"/><circle cx="609.4" cy="822.6" r="7"/><circle cx="611" cy="680" r="7"/><circle cx="743.9" cy="734.9" r="7"/><circle cx="839.7" cy="820.7" r="7"/><circle cx="695.4" cy="876.4" r="7"/><circle cx="837.7" cy="502.5" r="7"/><circle cx="863.2" cy="841.5" r="7"/><circle cx="585.9" cy="809.3" r="7"/><circle cx="813.9" cy="800" r="7"/></g><g fill="#b4d5e8"><circle cx="830.1" cy="870" r="7"/><circle cx="662.8" cy="790.1" r="7"/><circle cx="608" cy="683.4" r="7"/><circle cx="781.1" cy="776.4" r="7"/><circle cx="842.1" cy="523.9" r="7"/><circle cx="560.4" cy="773" r="7"/><circle cx="745.9" cy="720.2" r="7"/><circle cx="865.8" cy="580.3" r="7"/><circle cx="582.2" cy="432.1" r="7"/><circle cx="723.3" cy="664.2" r="7"/><circle cx="581.4" cy="456.7" r="7"/><circle cx="607.2" cy="437.8" r="7"/><circle cx="626.1" cy="430.9" r="7"/><circle cx="576.3" cy="518.6" r="7"/><circle cx="560.8" cy="534.1" r="7"/><circle cx="942.5" cy="458.8" r="7"/><circle cx="953.8" cy="457.5" r="7"/><circle cx="785" cy="637.5" r="7"/><circle cx="890" cy="487.5" r="7"/><circle cx="806" cy="732" r="7"/><circle cx="905" cy="777.5" r="7"/><circle cx="872.5" cy="812.5" r="7"/><circle cx="855" cy="812.5" r="7"/><circle cx="865" cy="840" r="7"/><circle cx="857.5" cy="852.5" r="7"/><circle cx="858.8" cy="860" r="7"/><circle cx="841.3" cy="820.1" r="7"/><circle cx="820" cy="808.4" r="7"/><circle cx="499.8" cy="691.4" r="7"/><circle cx="595.8" cy="828.7" r="7"/><circle cx="584.6" cy="817" r="7"/><circle cx="901.8" cy="788.5" r="7"/><circle cx="729.5" cy="654.2" r="7"/><circle cx="650.2" cy="724.2" r="7"/></g><g fill="#b7d7e8"><circle cx="670.7" cy="732.8" r="7"/><circle cx="762.5" cy="664.4" r="7"/><circle cx="795.6" cy="841.8" r="7"/><circle cx="606.6" cy="774.9" r="7"/><circle cx="767.1" cy="692" r="7"/><circle cx="776.7" cy="861" r="7"/><circle cx="755.8" cy="702" r="7"/><circle cx="748.4" cy="705" r="7"/><circle cx="674.6" cy="889.4" r="7"/><circle cx="687.4" cy="793.6" r="7"/><circle cx="601.1" cy="827" r="7"/><circle cx="639.9" cy="771" r="7"/><circle cx="510" cy="479" r="7"/><circle cx="782.6" cy="733.7" r="7"/><circle cx="866.5" cy="525.8" r="7"/><circle cx="715.6" cy="784.4" r="7"/><circle cx="694.4" cy="647.5" r="7"/><circle cx="741.8" cy="698.4" r="7"/><circle cx="568.7" cy="784.5" r="7"/><circle cx="663.5" cy="864.6" r="7"/><circle cx="561.3" cy="845.5" r="7"/><circle cx="574.1" cy="783.6" r="7"/><circle cx="685.3" cy="832.5" r="7"/><circle cx="582.9" cy="497" r="7"/><circle cx="847.5" cy="523.9" r="7"/><circle cx="754.9" cy="647.7" r="7"/><circle cx="790.1" cy="829.6" r="7"/><circle cx="719.1" cy="755.9" r="7"/></g><g fill="#bad8e9"><circle cx="659.6" cy="707.5" r="7"/><circle cx="859.7" cy="523.6" r="7"/><circle cx="792.4" cy="653.4" r="7"/><circle cx="741.3" cy="684.4" r="7"/><circle cx="743.3" cy="836.3" r="7"/><circle cx="855" cy="530.7" r="7"/><circle cx="748.4" cy="684.6" r="7"/><circle cx="887.3" cy="798.4" r="7"/><circle cx="570.5" cy="459.9" r="7"/><circle cx="793.1" cy="868.4" r="7"/><circle cx="550.6" cy="848.4" r="7"/><circle cx="576.3" cy="470.5" r="7"/><circle cx="562.5" cy="497.1" r="7"/><circle cx="577.1" cy="501.4" r="7"/><circle cx="533.3" cy="504" r="7"/><circle cx="791.2" cy="630" r="7"/><circle cx="895" cy="517.5" r="7"/><circle cx="802" cy="722" r="7"/><circle cx="918.8" cy="783.8" r="7"/><circle cx="551.2" cy="881.2" r="7"/><circle cx="753.1" cy="718.1" r="7"/><circle cx="891.4" cy="870.2" r="7"/><circle cx="639.3" cy="797" r="7"/><circle cx="598.9" cy="810.6" r="7"/><circle cx="699.2" cy="746.2" r="7"/><circle cx="750.6" cy="800.7" r="7"/><circle cx="657.3" cy="731.5" r="7"/><circle cx="587.1" cy="826" r="7"/><circle cx="731.2" cy="712.6" r="7"/><circle cx="745.8" cy="714.9" r="7"/><circle cx="728.2" cy="731.1" r="7"/><circle cx="625.7" cy="752.5" r="7"/><circle cx="804.4" cy="870.1" r="7"/><circle cx="701.9" cy="776.8" r="7"/><circle cx="616.4" cy="788.1" r="7"/></g><g fill="#bddaea"><circle cx="659.9" cy="739.5" r="7"/><circle cx="783.3" cy="855.6" r="7"/><circle cx="636.9" cy="784.6" r="7"/><circle cx="756.2" cy="844.5" r="7"/><circle cx="665.2" cy="868.8" r="7"/><circle cx="731.9" cy="804.2" r="7"/><circle cx="729.9" cy="791.5" r="7"/><circle cx="848.4" cy="510.8" r="7"/><circle cx="877" cy="797.3" r="7"/><circle cx="723.7" cy="696.2" r="7"/><circle cx="760.6" cy="796.5" r="7"/><circle cx="671.1" cy="865.9" r="7"/><circle cx="633.8" cy="809.2" r="7"/><circle cx="637.5" cy="811.2" r="7"/><circle cx="629.6" cy="796.3" r="7"/><circle cx="881.4" cy="861.6" r="7"/><circle cx="522.3" cy="506.3" r="7"/><circle cx="680.7" cy="814.4" r="7"/><circle cx="637.5" cy="815.1" r="7"/><circle cx="728.4" cy="694.4" r="7"/><circle cx="720.4" cy="672.7" r="7"/><circle cx="536.8" cy="906.3" r="7"/><circle cx="632.7" cy="825.8" r="7"/><circle cx="672.6" cy="870.3" r="7"/><circle cx="733.4" cy="691.8" r="7"/><circle cx="627.5" cy="746.4" r="7"/><circle cx="738.3" cy="713.4" r="7"/></g><g fill="#c0dceb"><circle cx="577.1" cy="869.4" r="7"/><circle cx="678.5" cy="873.4" r="7"/><circle cx="715.5" cy="680.1" r="7"/><circle cx="710.6" cy="856.9" r="7"/><circle cx="759.5" cy="766" r="7"/><circle cx="626.6" cy="776.5" r="7"/><circle cx="632" cy="769.5" r="7"/><circle cx="825.4" cy="857.8" r="7"/><circle cx="694.5" cy="845.3" r="7"/><circle cx="673.7" cy="801.7" r="7"/><circle cx="791.2" cy="876.5" r="7"/><circle cx="740.5" cy="815.6" r="7"/><circle cx="760.7" cy="718" r="7"/><circle cx="743.8" cy="632.5" r="7"/><circle cx="767.5" cy="640" r="7"/><circle cx="916.2" cy="498.8" r="7"/><circle cx="801" cy="740" r="7"/><circle cx="903.8" cy="792.5" r="7"/><circle cx="902.5" cy="800" r="7"/><circle cx="578.1" cy="764.3" r="7"/><circle cx="858.3" cy="816.5" r="7"/><circle cx="571.5" cy="502.3" r="7"/><circle cx="624" cy="764.7" r="7"/><circle cx="591.3" cy="725.8" r="7"/><circle cx="879.6" cy="802.4" r="7"/><circle cx="771.7" cy="737.9" r="7"/><circle cx="561.3" cy="868.3" r="7"/><circle cx="589.4" cy="828" r="7"/><circle cx="832.7" cy="856" r="7"/><circle cx="670.9" cy="687.2" r="7"/><circle cx="574.9" cy="877.9" r="7"/><circle cx="787.4" cy="860.2" r="7"/><circle cx="723.1" cy="843.9" r="7"/></g><g fill="#c3ddec"><circle cx="716.5" cy="816.7" r="7"/><circle cx="675.9" cy="875.3" r="7"/><circle cx="715.6" cy="819.6" r="7"/><circle cx="733.6" cy="796.3" r="7"/><circle cx="645.3" cy="764.9" r="7"/><circle cx="748.3" cy="821.3" r="7"/><circle cx="767.1" cy="704.4" r="7"/><circle cx="830.6" cy="815.4" r="7"/><circle cx="806" cy="805.9" r="7"/><circle cx="657.6" cy="805.6" r="7"/><circle cx="603.6" cy="851.5" r="7"/><circle cx="630.7" cy="756" r="7"/><circle cx="620.2" cy="474.6" r="7"/><circle cx="635.3" cy="789.2" r="7"/><circle cx="743.2" cy="831.9" r="7"/><circle cx="689" cy="753.3" r="7"/><circle cx="721.6" cy="708.4" r="7"/><circle cx="659.8" cy="793.2" r="7"/></g><g fill="#c6dfed"><circle cx="749.5" cy="707.6" r="7"/><circle cx="735.1" cy="711.5" r="7"/><circle cx="545.4" cy="833.9" r="7"/><circle cx="773.5" cy="667.1" r="7"/><circle cx="822.4" cy="834.3" r="7"/><circle cx="805.9" cy="817.9" r="7"/><circle cx="573.9" cy="775.2" r="7"/><circle cx="634.3" cy="857.8" r="7"/><circle cx="771.8" cy="685.7" r="7"/><circle cx="761.5" cy="874" r="7"/><circle cx="645.5" cy="720.8" r="7"/><circle cx="765.3" cy="800" r="7"/><circle cx="536.7" cy="492.8" r="7"/><circle cx="841.2" cy="641.2" r="7"/><circle cx="827.5" cy="652.5" r="7"/><circle cx="897.5" cy="498.8" r="7"/><circle cx="925" cy="660" r="7"/><circle cx="648.8" cy="853.8" r="7"/><circle cx="788.8" cy="673.8" r="7"/><circle cx="803" cy="706" r="7"/><circle cx="915" cy="806.2" r="7"/><circle cx="753.9" cy="775.2" r="7"/><circle cx="556.2" cy="850.1" r="7"/><circle cx="700.8" cy="806.4" r="7"/><circle cx="763.2" cy="656.7" r="7"/><circle cx="717" cy="758.6" r="7"/><circle cx="742.6" cy="722.9" r="7"/><circle cx="711" cy="804.6" r="7"/><circle cx="574.3" cy="827" r="7"/><circle cx="900.1" cy="798.7" r="7"/><circle cx="766.9" cy="846" r="7"/><circle cx="732.5" cy="697.2" r="7"/><circle cx="760.5" cy="674.5" r="7"/></g><g fill="#c9e0ee"><circle cx="781.2" cy="666.5" r="7"/><circle cx="581.6" cy="804.8" r="7"/><circle cx="765.3" cy="693.5" r="7"/><circle cx="734.4" cy="870.1" r="7"/><circle cx="573.7" cy="831.1" r="7"/><circle cx="731.6" cy="876" r="7"/><circle cx="714.2" cy="641.8" r="7"/><circle cx="681" cy="785.1" r="7"/><circle cx="662.7" cy="889.9" r="7"/><circle cx="698.3" cy="781.6" r="7"/><circle cx="754.5" cy="633" r="7"/><circle cx="599.5" cy="857.9" r="7"/><circle cx="705.3" cy="820.9" r="7"/><circle cx="746.9" cy="734.9" r="7"/><circle cx="765.7" cy="701.2" r="7"/><circle cx="706.8" cy="875.1" r="7"/><circle cx="653.4" cy="855.1" r="7"/><circle cx="615.6" cy="769.2" r="7"/><circle cx="606.5" cy="690" r="7"/><circle cx="788.7" cy="872.9" r="7"/><circle cx="627.8" cy="733.4" r="7"/><circle cx="695.7" cy="789.5" r="7"/><circle cx="754.8" cy="742.9" r="7"/><circle cx="675.6" cy="853.7" r="7"/><circle cx="666.3" cy="839.2" r="7"/><circle cx="637.5" cy="727.5" r="7"/><circle cx="895.5" cy="594.4" r="7"/><circle cx="620" cy="763.4" r="7"/></g><g fill="#cce2ee"><circle cx="593.6" cy="847.9" r="7"/><circle cx="619.9" cy="828.9" r="7"/><circle cx="692.6" cy="778.3" r="7"/><circle cx="752.4" cy="723.3" r="7"/><circle cx="820.8" cy="808.4" r="7"/><circle cx="729" cy="782.8" r="7"/><circle cx="755.6" cy="690.8" r="7"/><circle cx="733.6" cy="737.9" r="7"/><circle cx="729.2" cy="713.5" r="7"/><circle cx="535" cy="484.2" r="7"/><circle cx="752.5" cy="638.8" r="7"/><circle cx="925" cy="663.8" r="7"/><circle cx="613.6" cy="487.9" r="7"/><circle cx="784.4" cy="711.1" r="7"/><circle cx="697.7" cy="805.6" r="7"/><circle cx="598.3" cy="855.1" r="7"/><circle cx="878.1" cy="585" r="7"/><circle cx="602.7" cy="706.1" r="7"/><circle cx="620" cy="821.1" r="7"/><circle cx="729.7" cy="700.5" r="7"/><circle cx="775.3" cy="731.1" r="7"/></g><g fill="#d0e3ef"><circle cx="863.7" cy="805.9" r="7"/><circle cx="735" cy="817.7" r="7"/><circle cx="761.2" cy="688.7" r="7"/><circle cx="788.8" cy="855.4" r="7"/><circle cx="632" cy="777.9" r="7"/><circle cx="590.3" cy="784.8" r="7"/><circle cx="863.5" cy="520.5" r="7"/><circle cx="696.3" cy="746" r="7"/><circle cx="736.1" cy="694.5" r="7"/><circle cx="599.4" cy="844.5" r="7"/><circle cx="590.4" cy="739.8" r="7"/><circle cx="864.4" cy="836.2" r="7"/><circle cx="625.1" cy="734.9" r="7"/><circle cx="778.5" cy="722.5" r="7"/></g><g fill="#d3e5f0"><circle cx="874" cy="584.6" r="7"/><circle cx="557.6" cy="867.2" r="7"/><circle cx="684.9" cy="774.8" r="7"/><circle cx="633" cy="724.4" r="7"/><circle cx="723.9" cy="844.9" r="7"/><circle cx="746.4" cy="728.8" r="7"/><circle cx="743.5" cy="707.9" r="7"/><circle cx="918.8" cy="647.5" r="7"/><circle cx="917.5" cy="647.5" r="7"/><circle cx="558.8" cy="891.2" r="7"/><circle cx="380" cy="920" r="7"/><circle cx="639.9" cy="750.2" r="7"/><circle cx="741.6" cy="688.1" r="7"/><circle cx="555.4" cy="834" r="7"/><circle cx="752.5" cy="704.4" r="7"/><circle cx="617.4" cy="784" r="7"/><circle cx="632.4" cy="730.1" r="7"/><circle cx="694.5" cy="783.9" r="7"/><circle cx="765.2" cy="668.1" r="7"/></g><g fill="#d6e6f1"><circle cx="704" cy="762.2" r="7"/><circle cx="604" cy="872" r="7"/><circle cx="787.9" cy="795.6" r="7"/><circle cx="742.3" cy="695.9" r="7"/><circle cx="745.2" cy="741.3" r="7"/><circle cx="611.7" cy="739.2" r="7"/><circle cx="717.3" cy="733.5" r="7"/><circle cx="776.8" cy="705.7" r="7"/><circle cx="631.4" cy="792.6" r="7"/><circle cx="742.3" cy="726.7" r="7"/><circle cx="622.6" cy="737.5" r="7"/><circle cx="608.6" cy="766.6" r="7"/><circle cx="578.1" cy="840.3" r="7"/><circle cx="752.3" cy="706.2" r="7"/><circle cx="583.8" cy="748.3" r="7"/><circle cx="640.1" cy="760.1" r="7"/><circle cx="800.4" cy="837.6" r="7"/><circle cx="625.7" cy="715.9" r="7"/><circle cx="853" cy="860.2" r="7"/><circle cx="588.9" cy="842.5" r="7"/><circle cx="644.8" cy="817.4" r="7"/><circle cx="643.8" cy="807.9" r="7"/><circle cx="759.7" cy="696.9" r="7"/></g><g fill="#d9e8f2"><circle cx="609.5" cy="790.4" r="7"/><circle cx="747.3" cy="657.1" r="7"/><circle cx="587" cy="870.5" r="7"/><circle cx="769.4" cy="742.5" r="7"/><circle cx="747.6" cy="742.7" r="7"/><circle cx="788.9" cy="856.1" r="7"/><circle cx="847.2" cy="869.5" r="7"/><circle cx="764.4" cy="734.7" r="7"/><circle cx="646.2" cy="867.3" r="7"/><circle cx="607.9" cy="753.1" r="7"/><circle cx="781.7" cy="713.2" r="7"/><circle cx="631.3" cy="458.4" r="7"/><circle cx="802.5" cy="705" r="7"/><circle cx="708.5" cy="729.5" r="7"/><circle cx="731.6" cy="689.1" r="7"/><circle cx="684.5" cy="657.5" r="7"/><circle cx="572.6" cy="780.4" r="7"/><circle cx="579" cy="746.6" r="7"/><circle cx="557.4" cy="859.5" r="7"/></g><g fill="#dbe9f2"><circle cx="823.4" cy="849.7" r="7"/><circle cx="655" cy="801.3" r="7"/><circle cx="808.6" cy="864.2" r="7"/><circle cx="738.6" cy="706.1" r="7"/><circle cx="860.1" cy="508.7" r="7"/><circle cx="721.2" cy="700.1" r="7"/><circle cx="798.7" cy="844.2" r="7"/><circle cx="586.1" cy="737.4" r="7"/><circle cx="762.2" cy="756.9" r="7"/><circle cx="722.2" cy="785.9" r="7"/><circle cx="887.5" cy="511.2" r="7"/><circle cx="608.4" cy="815" r="7"/><circle cx="740" cy="720.3" r="7"/><circle cx="822.1" cy="808.4" r="7"/></g><g fill="#ddeaf2"><circle cx="751.1" cy="693" r="7"/><circle cx="757.1" cy="738.6" r="7"/><circle cx="756.6" cy="814.6" r="7"/><circle cx="592.5" cy="866.9" r="7"/><circle cx="756.2" cy="625" r="7"/><circle cx="853.8" cy="637.5" r="7"/><circle cx="943.8" cy="681.2" r="7"/><circle cx="830" cy="748" r="7"/><circle cx="442.5" cy="795" r="7"/><circle cx="792.4" cy="654.9" r="7"/><circle cx="579.3" cy="786.5" r="7"/><circle cx="689.4" cy="799.6" r="7"/><circle cx="760.5" cy="732.8" r="7"/><circle cx="740.8" cy="729" r="7"/><circle cx="551.1" cy="865.9" r="7"/></g><g fill="#dfebf2"><circle cx="734.8" cy="727.8" r="7"/><circle cx="708.1" cy="679.4" r="7"/><circle cx="735.5" cy="763.3" r="7"/><circle cx="748.4" cy="780" r="7"/><circle cx="736.9" cy="700.1" r="7"/><circle cx="684.3" cy="828.5" r="7"/><circle cx="570.1" cy="871.1" r="7"/><circle cx="636.1" cy="826.7" r="7"/><circle cx="656.8" cy="827.8" r="7"/><circle cx="688.7" cy="727.5" r="7"/><circle cx="740.3" cy="699.5" r="7"/><circle cx="594.2" cy="788.1" r="7"/><circle cx="738.4" cy="707.8" r="7"/><circle cx="834.7" cy="861.9" r="7"/><circle cx="768.6" cy="654.6" r="7"/></g><g fill="#e1ebf3"><circle cx="591.1" cy="702.7" r="7"/><circle cx="676.4" cy="793.2" r="7"/><circle cx="602.5" cy="758.6" r="7"/><circle cx="573" cy="815.3" r="7"/><circle cx="571.7" cy="785.5" r="7"/><circle cx="727.7" cy="839.3" r="7"/><circle cx="724.2" cy="726.3" r="7"/><circle cx="717.6" cy="790.2" r="7"/><circle cx="763.7" cy="695.7" r="7"/><circle cx="764.4" cy="697.6" r="7"/><circle cx="592" cy="758" r="7"/><circle cx="638.9" cy="755.7" r="7"/><circle cx="604.6" cy="726.8" r="7"/><circle cx="735.8" cy="720.9" r="7"/><circle cx="715.1" cy="646.3" r="7"/><circle cx="580" cy="818.7" r="7"/><circle cx="762.5" cy="713.3" r="7"/><circle cx="732.2" cy="656.8" r="7"/></g><g fill="#e3ecf3"><circle cx="769.1" cy="739.3" r="7"/><circle cx="690.1" cy="850.8" r="7"/><circle cx="759.7" cy="716.4" r="7"/><circle cx="758.6" cy="791" r="7"/><circle cx="603.5" cy="770.7" r="7"/><circle cx="758.6" cy="704.9" r="7"/><circle cx="582.3" cy="877.2" r="7"/><circle cx="853.5" cy="872.7" r="7"/><circle cx="761.2" cy="738.2" r="7"/><circle cx="746.6" cy="835.8" r="7"/><circle cx="732.2" cy="712.6" r="7"/><circle cx="562.9" cy="857.2" r="7"/><circle cx="618.8" cy="828.8" r="7"/><circle cx="760.4" cy="724.4" r="7"/></g><g fill="#e5edf3"><circle cx="699.6" cy="795.6" r="7"/><circle cx="758.7" cy="703.5" r="7"/><circle cx="674.5" cy="811.1" r="7"/><circle cx="547.6" cy="827.1" r="7"/><circle cx="788.1" cy="709.4" r="7"/><circle cx="644.9" cy="777.2" r="7"/><circle cx="746.9" cy="699.4" r="7"/><circle cx="755.9" cy="801.1" r="7"/><circle cx="855" cy="528.8" r="7"/><circle cx="872.5" cy="543.8" r="7"/><circle cx="947.5" cy="657.5" r="7"/><circle cx="739.3" cy="825.3" r="7"/><circle cx="807.5" cy="841.1" r="7"/><circle cx="766.3" cy="716.4" r="7"/><circle cx="784.7" cy="840" r="7"/><circle cx="747.4" cy="749.7" r="7"/><circle cx="764" cy="865.5" r="7"/><circle cx="621.6" cy="732.5" r="7"/><circle cx="771.6" cy="690.5" r="7"/></g><g fill="#e8eef3"><circle cx="635.3" cy="741.5" r="7"/><circle cx="610.7" cy="826.7" r="7"/><circle cx="752.9" cy="701.3" r="7"/><circle cx="753.8" cy="716.8" r="7"/><circle cx="580.8" cy="834.3" r="7"/><circle cx="745.5" cy="786.7" r="7"/><circle cx="601.6" cy="814" r="7"/><circle cx="780.7" cy="739.2" r="7"/><circle cx="682.9" cy="804.4" r="7"/><circle cx="749.5" cy="719.6" r="7"/><circle cx="740.7" cy="693.6" r="7"/></g><g fill="#eaeff3"><circle cx="631.9" cy="797" r="7"/><circle cx="534.3" cy="838.5" r="7"/><circle cx="745.8" cy="681.8" r="7"/><circle cx="740.3" cy="736.3" r="7"/><circle cx="800.6" cy="871.4" r="7"/><circle cx="664.7" cy="792.8" r="7"/><circle cx="783.4" cy="700.9" r="7"/><circle cx="865" cy="513.8" r="7"/><circle cx="688.3" cy="760.7" r="7"/><circle cx="672" cy="737.5" r="7"/><circle cx="766.8" cy="663" r="7"/><circle cx="711" cy="639.1" r="7"/><circle cx="662.2" cy="694.5" r="7"/></g><g fill="#ecf0f3"><circle cx="653.1" cy="885.8" r="7"/><circle cx="770.4" cy="705.9" r="7"/><circle cx="575.4" cy="819.6" r="7"/><circle cx="670.5" cy="806.7" r="7"/><circle cx="772" cy="709.7" r="7"/><circle cx="795.5" cy="793.2" r="7"/><circle cx="766.3" cy="721.1" r="7"/><circle cx="831.7" cy="866.3" r="7"/></g><g fill="#eef1f3"><circle cx="563.3" cy="818.9" r="7"/><circle cx="706.9" cy="809.8" r="7"/><circle cx="666.5" cy="684" r="7"/><circle cx="1031.2" cy="493.2" r="7"/><circle cx="921.2" cy="632.5" r="7"/><circle cx="921.2" cy="633" r="7"/><circle cx="770" cy="734" r="7"/><circle cx="773.5" cy="724.1" r="7"/><circle cx="720.9" cy="762.7" r="7"/></g><g fill="#f0f1f4"><circle cx="759.3" cy="713.2" r="7"/><circle cx="588.3" cy="856.5" r="7"/><circle cx="747.7" cy="770.8" r="7"/><circle cx="818.1" cy="861.3" r="7"/></g><g fill="#f2f2f4"><circle cx="782.1" cy="776.7" r="7"/><circle cx="782.2" cy="705.3" r="7"/><circle cx="714.7" cy="640.5" r="7"/><circle cx="866.2" cy="556.2" r="7"/><circle cx="719.8" cy="792.8" r="7"/><circle cx="603.3" cy="797.6" r="7"/></g><g fill="#f4f3f4"><circle cx="550.4" cy="842.2" r="7"/><circle cx="673.2" cy="768.2" r="7"/><circle cx="681.8" cy="826.9" r="7"/><circle cx="654.7" cy="718.4" r="7"/><circle cx="699.1" cy="769.8" r="7"/></g><g fill="#f6f4f4"><circle cx="770.8" cy="794" r="7"/><circle cx="684.6" cy="882.2" r="7"/><circle cx="719.4" cy="648" r="7"/><circle cx="706.7" cy="781.4" r="7"/></g><g fill="#f6f3f2"><circle cx="750.2" cy="746.7" r="7"/><circle cx="686.6" cy="809.3" r="7"/><circle cx="761.5" cy="840.3" r="7"/></g><g fill="#f7f1ef"><circle cx="632.1" cy="737.4" r="7"/><circle cx="721.5" cy="811.5" r="7"/></g><g fill="#f8f0ed"><circle cx="717.2" cy="645.6" r="7"/><circle cx="748.3" cy="717.1" r="7"/></g><g fill="#f8efeb"><circle cx="641.8" cy="776.1" r="7"/><circle cx="759.3" cy="833.6" r="7"/><circle cx="759.4" cy="662.9" r="7"/><circle cx="674.2" cy="762.2" r="7"/><circle cx="771" cy="822.3" r="7"/></g><g fill="#f9ece6"><circle cx="594.1" cy="817.4" r="7"/><circle cx="244" cy="480" r="7"/><circle cx="881.2" cy="501.2" r="7"/><circle cx="833.8" cy="548" r="7"/><circle cx="786" cy="800.4" r="7"/><circle cx="749.9" cy="778.4" r="7"/></g><g fill="#faeae4"><circle cx="654.7" cy="783.7" r="7"/><circle cx="695.4" cy="745.3" r="7"/><circle cx="681.4" cy="781.8" r="7"/></g><g fill="#fae9e1"><circle cx="533.8" cy="890" r="7"/><circle cx="600.9" cy="751.6" r="7"/></g><g fill="#fae8df"><circle cx="592.9" cy="861.8" r="7"/></g><g fill="#fbe6dc"><circle cx="594.4" cy="704.2" r="7"/><circle cx="583.2" cy="709" r="7"/><circle cx="619" cy="782.7" r="7"/></g><g fill="#fce5da"><circle cx="580.3" cy="848.8" r="7"/></g><g fill="#fce4d8"><circle cx="703.6" cy="645.3" r="7"/><circle cx="675.5" cy="771.5" r="7"/><circle cx="218" cy="458" r="7"/><circle cx="528.8" cy="902.5" r="7"/></g><g fill="#fde1d3"><circle cx="587.3" cy="819.3" r="7"/><circle cx="632.5" cy="696.2" r="7"/><circle cx="633.8" cy="708.8" r="7"/><circle cx="611.2" cy="723.8" r="7"/><circle cx="607.5" cy="736.2" r="7"/><circle cx="615" cy="745" r="7"/><circle cx="650" cy="757.5" r="7"/><circle cx="660" cy="762.5" r="7"/><circle cx="670" cy="770" r="7"/><circle cx="680" cy="782.5" r="7"/><circle cx="702.5" cy="745" r="7"/><circle cx="712.5" cy="750" r="7"/><circle cx="722.5" cy="757.5" r="7"/><circle cx="775" cy="825" r="7"/><circle cx="765" cy="832.5" r="7"/><circle cx="757.5" cy="857.5" r="7"/><circle cx="766.2" cy="867.5" r="7"/><circle cx="777.5" cy="872.5" r="7"/><circle cx="792.5" cy="888.8" r="7"/><circle cx="805" cy="853.8" r="7"/><circle cx="560" cy="856.2" r="7"/><circle cx="550" cy="860" r="7"/><circle cx="567.5" cy="865" r="7"/><circle cx="580" cy="867.5" r="7"/><circle cx="585" cy="875" r="7"/><circle cx="595" cy="862.5" r="7"/><circle cx="606.2" cy="872.5" r="7"/><circle cx="616.2" cy="838.8" r="7"/><circle cx="582.5" cy="820" r="7"/><circle cx="566.2" cy="776.2" r="7"/><circle cx="600" cy="770" r="7"/><circle cx="657.5" cy="823.8" r="7"/><circle cx="687.5" cy="720" r="7"/><circle cx="666.2" cy="727.5" r="7"/><circle cx="662.5" cy="708.8" r="7"/><circle cx="653.8" cy="675" r="7"/><circle cx="646.2" cy="681.2" r="7"/><circle cx="671.2" cy="681.2" r="7"/><circle cx="680" cy="671.2" r="7"/><circle cx="690" cy="655" r="7"/><circle cx="686.2" cy="662.5" r="7"/><circle cx="692.5" cy="668.8" r="7"/><circle cx="700" cy="645" r="7"/><circle cx="707.5" cy="637.5" r="7"/><circle cx="712.5" cy="642.5" r="7"/><circle cx="720" cy="647.5" r="7"/><circle cx="707.5" cy="657.5" r="7"/><circle cx="730" cy="637.5" r="7"/><circle cx="732.5" cy="656.2" r="7"/><circle cx="715" cy="635" r="7"/><circle cx="703.8" cy="652.5" r="7"/><circle cx="717.5" cy="657.5" r="7"/><circle cx="697.5" cy="667.5" r="7"/><circle cx="640" cy="780" r="7"/><circle cx="675" cy="795" r="7"/><circle cx="705" cy="795" r="7"/><circle cx="712.5" cy="805" r="7"/><circle cx="755" cy="775" r="7"/><circle cx="770" cy="795" r="7"/><circle cx="782.5" cy="795" r="7"/><circle cx="760" cy="805" r="7"/><circle cx="745" cy="820" r="7"/><circle cx="735" cy="820" r="7"/><circle cx="725" cy="840" r="7"/><circle cx="750" cy="845" r="7"/><circle cx="680" cy="820" r="7"/><circle cx="645" cy="800" r="7"/><circle cx="660" cy="795" r="7"/><circle cx="625" cy="780" r="7"/><circle cx="630" cy="795" r="7"/><circle cx="575" cy="810" r="7"/><circle cx="570" cy="832.5" r="7"/><circle cx="557.5" cy="845" r="7"/><circle cx="587.5" cy="845" r="7"/><circle cx="587.5" cy="954.2" r="7"/></g><g fill="#fcdecf"><circle cx="603.2" cy="685" r="7"/><circle cx="718.1" cy="669.4" r="7"/></g><g fill="#fcdbcc"><circle cx="887.5" cy="787.5" r="7"/></g><g fill="#fbd8c8"><circle cx="742.5" cy="788.1" r="7"/><circle cx="625.3" cy="791.9" r="7"/></g><g fill="#fad3c2"><circle cx="746.2" cy="805.9" r="7"/></g><g fill="#f9cdba"><circle cx="580.9" cy="811.7" r="7"/></g><g fill="#f8c7b4"><circle cx="726" cy="797.5" r="7"/></g><g fill="#f6bfa9"><circle cx="738.1" cy="781.3" r="7"/><circle cx="221" cy="449" r="7"/><circle cx="685" cy="792.5" r="7"/><circle cx="752.5" cy="812.5" r="7"/><circle cx="737.5" cy="835" r="7"/></g><g fill="#f5b9a2"><circle cx="602.5" cy="816.2" r="7"/><circle cx="750" cy="790" r="7"/><circle cx="663.8" cy="780" r="7"/><circle cx="717.5" cy="850" r="7"/><circle cx="722.5" cy="830" r="7"/></g><g fill="#f3b39e"><circle cx="722.5" cy="772.5" r="7"/></g><g fill="#f1ae9a"><circle cx="595" cy="810" r="7"/><circle cx="575" cy="792.5" r="7"/><circle cx="740" cy="795" r="7"/><circle cx="700" cy="810" r="7"/><circle cx="621.8" cy="757.5" r="7"/></g><g fill="#efa895"><circle cx="600" cy="805" r="7"/><circle cx="737.5" cy="770" r="7"/><circle cx="742.5" cy="780" r="7"/><circle cx="728.8" cy="810" r="7"/><circle cx="720" cy="817.5" r="7"/><circle cx="690" cy="798.8" r="7"/><circle cx="705" cy="778.8" r="7"/><circle cx="667.5" cy="811.2" r="7"/><circle cx="650" cy="783.8" r="7"/></g><g fill="#eda291"><circle cx="582.5" cy="805" r="7"/><circle cx="605" cy="795" r="7"/><circle cx="587.5" cy="810" r="7"/><circle cx="727.5" cy="777.5" r="7"/><circle cx="746.2" cy="801.2" r="7"/><circle cx="688.8" cy="811.2" r="7"/></g><g fill="#eb9d8d"><circle cx="580" cy="782.5" r="7"/><circle cx="610" cy="800" r="7"/><circle cx="761.2" cy="763.2" r="7"/><circle cx="732.5" cy="780" r="7"/></g><g fill="#e99788"><circle cx="612.5" cy="792.5" r="7"/><circle cx="735" cy="786.2" r="7"/></g><g fill="#e79284"><circle cx="228" cy="469" r="7"/><circle cx="617.5" cy="801.2" r="7"/></g><g fill="#e58c80"><circle cx="607.5" cy="785" r="7"/></g><g fill="#e1857d"><circle cx="696.2" cy="579.2" r="7"/></g><g fill="#dd7f7b"><circle cx="602.5" cy="785" r="7"/><circle cx="743" cy="660" r="7"/></g><g fill="#d57175"><circle cx="591.2" cy="802.5" r="7"/><circle cx="760" cy="670" r="7"/></g><g fill="#d16a72"><circle cx="592.5" cy="782.5" r="7"/><circle cx="583.8" cy="795" r="7"/><circle cx="638.2" cy="791.2" r="7"/><circle cx="763" cy="783.8" r="7"/></g><g fill="#cd6470"><circle cx="223" cy="463" r="7"/><circle cx="585" cy="785" r="7"/><circle cx="600" cy="786.2" r="7"/><circle cx="761.2" cy="666.2" r="7"/></g><g fill="#c95d6d"><circle cx="587.5" cy="790" r="7"/></g>
</g>
<g class="lb">
<circle cx="371.6" cy="345.6" r="11.0"/><text x="371.6" y="350.9" textLength="7.3" lengthAdjust="spacingAndGlyphs">1</text>
<circle cx="501.4" cy="737.1" r="11.0"/><text x="501.4" y="742.4" textLength="7.3" lengthAdjust="spacingAndGlyphs">2</text>
<circle cx="889.9" cy="883.9" r="11.0"/><text x="889.9" y="889.2" textLength="7.3" lengthAdjust="spacingAndGlyphs">3</text>
<circle cx="615.4" cy="488.1" r="11.0"/><text x="615.4" y="493.4" textLength="7.3" lengthAdjust="spacingAndGlyphs">4</text>
<circle cx="575.4" cy="993.6" r="11.0"/><text x="575.4" y="998.9" textLength="7.3" lengthAdjust="spacingAndGlyphs">5</text>
<circle cx="679.1" cy="266.1" r="11.0"/><text x="679.1" y="271.4" textLength="7.3" lengthAdjust="spacingAndGlyphs">6</text>
<circle cx="979.1" cy="445.0" r="11.0"/><text x="979.1" y="450.3" textLength="7.3" lengthAdjust="spacingAndGlyphs">7</text>
<circle cx="819.0" cy="623.8" r="11.0"/><text x="819.0" y="629.1" textLength="7.3" lengthAdjust="spacingAndGlyphs">8</text>
<circle cx="1012.9" cy="310.6" r="11.0"/><text x="1012.9" y="315.9" textLength="7.3" lengthAdjust="spacingAndGlyphs">9</text>
<circle cx="761.6" cy="514.3" r="11.0"/><text x="761.6" y="519.6" textLength="15.2" lengthAdjust="spacingAndGlyphs">10</text>
</g></svg>
<div id="lt">Variance, Z-scaled</div><div id="lg"></div>
<div class="tk" style="left:849.9px"></div><div class="tl" style="left:850.5px">0.0</div>
<div class="tk" style="left:882.2px"></div><div class="tl" style="left:882.8px">0.7</div>
<div class="tk" style="left:914.5px"></div><div class="tl" style="left:915.1px">1.4</div>
<div class="tk" style="left:946.8px"></div><div class="tl" style="left:947.4px">2.1</div>
<div class="tk" style="left:983.7px"></div><div class="tl" style="left:984.3px">2.9</div>
<div class="tk" style="left:1016.1px"></div><div class="tl" style="left:1016.7px">3.6</div>
<div class="tk" style="left:1048.4px"></div><div class="tl" style="left:1049.0px">4.3</div>
<div class="tk" style="left:1080.7px"></div><div class="tl" style="left:1081.3px">5.0</div>
<div class="tk" style="left:1117.6px"></div><div class="tl" style="left:1118.2px">5.8</div>
<div class="tk" style="left:1149.9px"></div><div class="tl" style="left:1150.5px">6.5</div>
</body></html>
